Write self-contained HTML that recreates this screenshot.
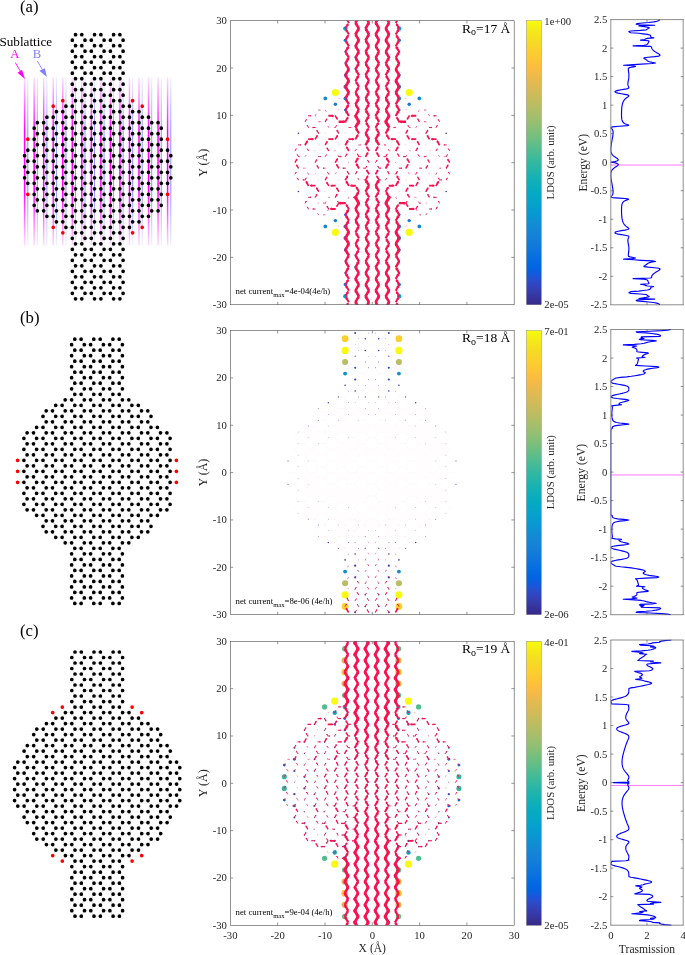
<!DOCTYPE html>
<html><head><meta charset="utf-8"><title>figure</title><style>html,body{margin:0;padding:0;background:#fff}svg{display:block;will-change:transform}</style></head><body>
<svg width="685" height="955" viewBox="0 0 685 955" font-family="'Liberation Serif', serif">
<defs>
<linearGradient id="pg" x1="0" y1="0" x2="0" y2="1"><stop offset="0%" stop-color="#f9fb0e"/><stop offset="1.59%" stop-color="#f6f313"/><stop offset="3.17%" stop-color="#f5eb18"/><stop offset="4.76%" stop-color="#f5e41d"/><stop offset="6.35%" stop-color="#f5de21"/><stop offset="7.94%" stop-color="#f7d826"/><stop offset="9.52%" stop-color="#fad32a"/><stop offset="11.11%" stop-color="#fcce2e"/><stop offset="12.7%" stop-color="#fec832"/><stop offset="14.29%" stop-color="#ffc337"/><stop offset="15.87%" stop-color="#fdbe3d"/><stop offset="17.46%" stop-color="#f8bb44"/><stop offset="19.05%" stop-color="#f1b94a"/><stop offset="20.63%" stop-color="#e9b94e"/><stop offset="22.22%" stop-color="#e1b952"/><stop offset="23.81%" stop-color="#d9ba56"/><stop offset="25.4%" stop-color="#d1bb59"/><stop offset="26.98%" stop-color="#c8bc5d"/><stop offset="28.57%" stop-color="#c0bc60"/><stop offset="30.16%" stop-color="#b7bd64"/><stop offset="31.75%" stop-color="#aebe67"/><stop offset="33.33%" stop-color="#a5be6b"/><stop offset="34.92%" stop-color="#9cbf6f"/><stop offset="36.51%" stop-color="#92bf73"/><stop offset="38.1%" stop-color="#87bf77"/><stop offset="39.68%" stop-color="#7cbf7b"/><stop offset="41.27%" stop-color="#71bf80"/><stop offset="42.86%" stop-color="#65be86"/><stop offset="44.44%" stop-color="#59bd8c"/><stop offset="46.03%" stop-color="#4dbc92"/><stop offset="47.62%" stop-color="#42bb98"/><stop offset="49.21%" stop-color="#38b99e"/><stop offset="50.79%" stop-color="#2eb7a4"/><stop offset="52.38%" stop-color="#25b5a9"/><stop offset="53.97%" stop-color="#1db3af"/><stop offset="55.56%" stop-color="#15b1b4"/><stop offset="57.14%" stop-color="#0faeb9"/><stop offset="58.73%" stop-color="#0aacbe"/><stop offset="60.32%" stop-color="#07a9c2"/><stop offset="61.9%" stop-color="#06a7c6"/><stop offset="63.49%" stop-color="#06a4ca"/><stop offset="65.08%" stop-color="#06a0cd"/><stop offset="66.67%" stop-color="#079ccf"/><stop offset="68.25%" stop-color="#0998d1"/><stop offset="69.84%" stop-color="#0c93d2"/><stop offset="71.43%" stop-color="#108ed2"/><stop offset="73.02%" stop-color="#1389d3"/><stop offset="74.6%" stop-color="#1485d4"/><stop offset="76.19%" stop-color="#1481d6"/><stop offset="77.78%" stop-color="#127dd8"/><stop offset="79.37%" stop-color="#1079da"/><stop offset="80.95%" stop-color="#0d75dc"/><stop offset="82.54%" stop-color="#0871de"/><stop offset="84.13%" stop-color="#046de0"/><stop offset="85.71%" stop-color="#0268e1"/><stop offset="87.3%" stop-color="#0363e1"/><stop offset="88.89%" stop-color="#0f5cdd"/><stop offset="90.48%" stop-color="#2053d4"/><stop offset="92.06%" stop-color="#2c4ac7"/><stop offset="93.65%" stop-color="#3243ba"/><stop offset="95.24%" stop-color="#353dad"/><stop offset="96.83%" stop-color="#3637a0"/><stop offset="98.41%" stop-color="#363093"/><stop offset="100%" stop-color="#352a87"/></linearGradient>
<linearGradient id="ga" x1="0" y1="0" x2="0" y2="1"><stop offset="0" stop-color="#ff00ff" stop-opacity="0.12"/><stop offset="0.32" stop-color="#ff00ff" stop-opacity="1"/><stop offset="0.68" stop-color="#ff00ff" stop-opacity="1"/><stop offset="1" stop-color="#ff00ff" stop-opacity="0.12"/></linearGradient>
<linearGradient id="gb" x1="0" y1="0" x2="0" y2="1"><stop offset="0" stop-color="#8080ff" stop-opacity="0.12"/><stop offset="0.32" stop-color="#8080ff" stop-opacity="0.9"/><stop offset="0.68" stop-color="#8080ff" stop-opacity="0.9"/><stop offset="1" stop-color="#8080ff" stop-opacity="0.12"/></linearGradient>
</defs>
<rect width="685" height="955" fill="#fff"/>
<g><rect x="27.3" y="77.5" width="1" height="168.0" fill="url(#gb)"/><rect x="36.83" y="77.5" width="1" height="168.0" fill="url(#gb)"/><rect x="46.36" y="77.5" width="1" height="168.0" fill="url(#gb)"/><rect x="55.9" y="77.5" width="1" height="168.0" fill="url(#gb)"/><rect x="65.43" y="77.5" width="1" height="168.0" fill="url(#gb)"/><rect x="74.96" y="77.5" width="1" height="168.0" fill="url(#gb)"/><rect x="84.49" y="77.5" width="1" height="168.0" fill="url(#gb)"/><rect x="94.02" y="77.5" width="1" height="168.0" fill="url(#gb)"/><rect x="103.55" y="77.5" width="1" height="168.0" fill="url(#gb)"/><rect x="113.09" y="77.5" width="1" height="168.0" fill="url(#gb)"/><rect x="122.62" y="77.5" width="1" height="168.0" fill="url(#gb)"/><rect x="132.15" y="77.5" width="1" height="168.0" fill="url(#gb)"/><rect x="141.68" y="77.5" width="1" height="168.0" fill="url(#gb)"/><rect x="151.21" y="77.5" width="1" height="168.0" fill="url(#gb)"/><rect x="160.75" y="77.5" width="1" height="168.0" fill="url(#gb)"/><rect x="170.28" y="77.5" width="1" height="168.0" fill="url(#gb)"/><rect x="23.87" y="77.5" width="1.5" height="168.0" fill="url(#ga)"/><rect x="33.41" y="77.5" width="1.5" height="168.0" fill="url(#ga)"/><rect x="42.94" y="77.5" width="1.5" height="168.0" fill="url(#ga)"/><rect x="52.47" y="77.5" width="1.5" height="168.0" fill="url(#ga)"/><rect x="62" y="77.5" width="1.5" height="168.0" fill="url(#ga)"/><rect x="71.53" y="77.5" width="1.5" height="168.0" fill="url(#ga)"/><rect x="81.06" y="77.5" width="1.5" height="168.0" fill="url(#ga)"/><rect x="90.6" y="77.5" width="1.5" height="168.0" fill="url(#ga)"/><rect x="100.13" y="77.5" width="1.5" height="168.0" fill="url(#ga)"/><rect x="109.66" y="77.5" width="1.5" height="168.0" fill="url(#ga)"/><rect x="119.19" y="77.5" width="1.5" height="168.0" fill="url(#ga)"/><rect x="128.72" y="77.5" width="1.5" height="168.0" fill="url(#ga)"/><rect x="138.25" y="77.5" width="1.5" height="168.0" fill="url(#ga)"/><rect x="147.79" y="77.5" width="1.5" height="168.0" fill="url(#ga)"/><rect x="157.32" y="77.5" width="1.5" height="168.0" fill="url(#ga)"/><rect x="166.85" y="77.5" width="1.5" height="168.0" fill="url(#ga)"/></g>
<path d="M81.8 298.8l-6.4 0M81.8 298.8l3.2-5.5M75.5 298.8l-3.2-5.5M100.9 298.8l-6.4 0M100.9 298.8l3.2-5.5M94.5 298.8l-3.2-5.5M119.9 298.8l-6.4 0M119.9 298.8l3.2-5.5M113.6 298.8l-3.2-5.5M85 293.3l6.4 0M85 293.3l-3.2-5.5M72.3 293.3l3.2-5.5M104.1 293.3l6.4 0M104.1 293.3l-3.2-5.5M91.3 293.3l3.2-5.5M123.1 293.3l-3.2-5.5M110.4 293.3l3.2-5.5M81.8 287.8l-6.4 0M81.8 287.8l3.2-5.5M75.5 287.8l-3.2-5.5M100.9 287.8l-6.4 0M100.9 287.8l3.2-5.5M94.5 287.8l-3.2-5.5M119.9 287.8l-6.4 0M119.9 287.8l3.2-5.5M113.6 287.8l-3.2-5.5M85 282.3l6.4 0M85 282.3l-3.2-5.5M72.3 282.3l3.2-5.5M104.1 282.3l6.4 0M104.1 282.3l-3.2-5.5M91.3 282.3l3.2-5.5M123.1 282.3l-3.2-5.5M110.4 282.3l3.2-5.5M81.8 276.8l-6.4 0M81.8 276.8l3.2-5.5M75.5 276.8l-3.2-5.5M100.9 276.8l-6.4 0M100.9 276.8l3.2-5.5M94.5 276.8l-3.2-5.5M119.9 276.8l-6.4 0M119.9 276.8l3.2-5.5M113.6 276.8l-3.2-5.5M85 271.3l6.4 0M85 271.3l-3.2-5.5M72.3 271.3l3.2-5.5M104.1 271.3l6.4 0M104.1 271.3l-3.2-5.5M91.3 271.3l3.2-5.5M123.1 271.3l-3.2-5.5M110.4 271.3l3.2-5.5M81.8 265.8l-6.4 0M81.8 265.8l3.2-5.5M75.5 265.8l-3.2-5.5M100.9 265.8l-6.4 0M100.9 265.8l3.2-5.5M94.5 265.8l-3.2-5.5M119.9 265.8l-6.4 0M119.9 265.8l3.2-5.5M113.6 265.8l-3.2-5.5M85 260.3l6.4 0M85 260.3l-3.2-5.5M72.3 260.3l3.2-5.5M104.1 260.3l6.4 0M104.1 260.3l-3.2-5.5M91.3 260.3l3.2-5.5M123.1 260.3l-3.2-5.5M110.4 260.3l3.2-5.5M81.8 254.8l-6.4 0M81.8 254.8l3.2-5.5M75.5 254.8l-3.2-5.5M100.9 254.8l-6.4 0M100.9 254.8l3.2-5.5M94.5 254.8l-3.2-5.5M119.9 254.8l-6.4 0M119.9 254.8l3.2-5.5M113.6 254.8l-3.2-5.5M85 249.3l6.4 0M85 249.3l-3.2-5.5M72.3 249.3l3.2-5.5M104.1 249.3l6.4 0M104.1 249.3l-3.2-5.5M91.3 249.3l3.2-5.5M123.1 249.3l-3.2-5.5M110.4 249.3l3.2-5.5M81.8 243.8l-6.4 0M81.8 243.8l3.2-5.5M75.5 243.8l-3.2-5.5M100.9 243.8l-6.4 0M100.9 243.8l3.2-5.5M94.5 243.8l-3.2-5.5M119.9 243.8l-6.4 0M119.9 243.8l3.2-5.5M113.6 243.8l-3.2-5.5M85 238.3l6.4 0M85 238.3l-3.2-5.5M72.3 238.3l3.2-5.5M104.1 238.3l6.4 0M104.1 238.3l-3.2-5.5M91.3 238.3l3.2-5.5M123.1 238.3l-3.2-5.5M110.4 238.3l3.2-5.5M62.8 232.8l3.2-5.5M81.8 232.8l-6.4 0M81.8 232.8l3.2-5.5M75.5 232.8l-3.2-5.5M100.9 232.8l-6.4 0M100.9 232.8l3.2-5.5M94.5 232.8l-3.2-5.5M119.9 232.8l-6.4 0M119.9 232.8l3.2-5.5M113.6 232.8l-3.2-5.5M132.6 232.8l-3.2-5.5M65.9 227.3l6.4 0M65.9 227.3l-3.2-5.5M53.2 227.3l3.2-5.5M85 227.3l6.4 0M85 227.3l-3.2-5.5M72.3 227.3l3.2-5.5M104.1 227.3l6.4 0M104.1 227.3l-3.2-5.5M91.3 227.3l3.2-5.5M123.1 227.3l6.4 0M123.1 227.3l-3.2-5.5M110.4 227.3l3.2-5.5M142.2 227.3l-3.2-5.5M129.5 227.3l3.2-5.5M62.8 221.8l-6.4 0M62.8 221.8l3.2-5.5M56.4 221.8l-3.2-5.5M81.8 221.8l-6.4 0M81.8 221.8l3.2-5.5M75.5 221.8l-3.2-5.5M100.9 221.8l-6.4 0M100.9 221.8l3.2-5.5M94.5 221.8l-3.2-5.5M119.9 221.8l-6.4 0M119.9 221.8l3.2-5.5M113.6 221.8l-3.2-5.5M139 221.8l-6.4 0M139 221.8l3.2-5.5M132.6 221.8l-3.2-5.5M46.9 216.3l6.4 0M46.9 216.3l-3.2-5.5M65.9 216.3l6.4 0M65.9 216.3l-3.2-5.5M53.2 216.3l3.2-5.5M85 216.3l6.4 0M85 216.3l-3.2-5.5M72.3 216.3l3.2-5.5M104.1 216.3l6.4 0M104.1 216.3l-3.2-5.5M91.3 216.3l3.2-5.5M123.1 216.3l6.4 0M123.1 216.3l-3.2-5.5M110.4 216.3l3.2-5.5M142.2 216.3l6.4 0M142.2 216.3l-3.2-5.5M129.5 216.3l3.2-5.5M148.5 216.3l3.2-5.5M43.7 210.8l-6.4 0M43.7 210.8l3.2-5.5M37.3 210.8l-3.2-5.5M62.8 210.8l-6.4 0M62.8 210.8l3.2-5.5M56.4 210.8l-3.2-5.5M81.8 210.8l-6.4 0M81.8 210.8l3.2-5.5M75.5 210.8l-3.2-5.5M100.9 210.8l-6.4 0M100.9 210.8l3.2-5.5M94.5 210.8l-3.2-5.5M119.9 210.8l-6.4 0M119.9 210.8l3.2-5.5M113.6 210.8l-3.2-5.5M139 210.8l-6.4 0M139 210.8l3.2-5.5M132.6 210.8l-3.2-5.5M158.1 210.8l-6.4 0M158.1 210.8l3.2-5.5M151.7 210.8l-3.2-5.5M46.9 205.3l6.4 0M46.9 205.3l-3.2-5.5M34.2 205.3l3.2-5.5M65.9 205.3l6.4 0M65.9 205.3l-3.2-5.5M53.2 205.3l3.2-5.5M85 205.3l6.4 0M85 205.3l-3.2-5.5M72.3 205.3l3.2-5.5M104.1 205.3l6.4 0M104.1 205.3l-3.2-5.5M91.3 205.3l3.2-5.5M123.1 205.3l6.4 0M123.1 205.3l-3.2-5.5M110.4 205.3l3.2-5.5M142.2 205.3l6.4 0M142.2 205.3l-3.2-5.5M129.5 205.3l3.2-5.5M161.2 205.3l-3.2-5.5M148.5 205.3l3.2-5.5M43.7 199.8l-6.4 0M43.7 199.8l3.2-5.5M37.3 199.8l-3.2-5.5M62.8 199.8l-6.4 0M62.8 199.8l3.2-5.5M56.4 199.8l-3.2-5.5M81.8 199.8l-6.4 0M81.8 199.8l3.2-5.5M75.5 199.8l-3.2-5.5M100.9 199.8l-6.4 0M100.9 199.8l3.2-5.5M94.5 199.8l-3.2-5.5M119.9 199.8l-6.4 0M119.9 199.8l3.2-5.5M113.6 199.8l-3.2-5.5M139 199.8l-6.4 0M139 199.8l3.2-5.5M132.6 199.8l-3.2-5.5M158.1 199.8l-6.4 0M158.1 199.8l3.2-5.5M151.7 199.8l-3.2-5.5M27.8 194.3l6.4 0M46.9 194.3l6.4 0M46.9 194.3l-3.2-5.5M34.2 194.3l3.2-5.5M65.9 194.3l6.4 0M65.9 194.3l-3.2-5.5M53.2 194.3l3.2-5.5M85 194.3l6.4 0M85 194.3l-3.2-5.5M72.3 194.3l3.2-5.5M104.1 194.3l6.4 0M104.1 194.3l-3.2-5.5M91.3 194.3l3.2-5.5M123.1 194.3l6.4 0M123.1 194.3l-3.2-5.5M110.4 194.3l3.2-5.5M142.2 194.3l6.4 0M142.2 194.3l-3.2-5.5M129.5 194.3l3.2-5.5M161.2 194.3l6.4 0M161.2 194.3l-3.2-5.5M148.5 194.3l3.2-5.5M43.7 188.8l-6.4 0M43.7 188.8l3.2-5.5M37.3 188.8l-3.2-5.5M62.8 188.8l-6.4 0M62.8 188.8l3.2-5.5M56.4 188.8l-3.2-5.5M81.8 188.8l-6.4 0M81.8 188.8l3.2-5.5M75.5 188.8l-3.2-5.5M100.9 188.8l-6.4 0M100.9 188.8l3.2-5.5M94.5 188.8l-3.2-5.5M119.9 188.8l-6.4 0M119.9 188.8l3.2-5.5M113.6 188.8l-3.2-5.5M139 188.8l-6.4 0M139 188.8l3.2-5.5M132.6 188.8l-3.2-5.5M158.1 188.8l-6.4 0M158.1 188.8l3.2-5.5M151.7 188.8l-3.2-5.5M27.8 183.3l6.4 0M27.8 183.3l-3.2-5.5M46.9 183.3l6.4 0M46.9 183.3l-3.2-5.5M34.2 183.3l3.2-5.5M65.9 183.3l6.4 0M65.9 183.3l-3.2-5.5M53.2 183.3l3.2-5.5M85 183.3l6.4 0M85 183.3l-3.2-5.5M72.3 183.3l3.2-5.5M104.1 183.3l6.4 0M104.1 183.3l-3.2-5.5M91.3 183.3l3.2-5.5M123.1 183.3l6.4 0M123.1 183.3l-3.2-5.5M110.4 183.3l3.2-5.5M142.2 183.3l6.4 0M142.2 183.3l-3.2-5.5M129.5 183.3l3.2-5.5M161.2 183.3l6.4 0M161.2 183.3l-3.2-5.5M148.5 183.3l3.2-5.5M167.6 183.3l3.2-5.5M24.6 177.8l3.2-5.5M43.7 177.8l-6.4 0M43.7 177.8l3.2-5.5M37.3 177.8l-3.2-5.5M62.8 177.8l-6.4 0M62.8 177.8l3.2-5.5M56.4 177.8l-3.2-5.5M81.8 177.8l-6.4 0M81.8 177.8l3.2-5.5M75.5 177.8l-3.2-5.5M100.9 177.8l-6.4 0M100.9 177.8l3.2-5.5M94.5 177.8l-3.2-5.5M119.9 177.8l-6.4 0M119.9 177.8l3.2-5.5M113.6 177.8l-3.2-5.5M139 177.8l-6.4 0M139 177.8l3.2-5.5M132.6 177.8l-3.2-5.5M158.1 177.8l-6.4 0M158.1 177.8l3.2-5.5M151.7 177.8l-3.2-5.5M170.8 177.8l-3.2-5.5M27.8 172.3l6.4 0M27.8 172.3l-3.2-5.5M46.9 172.3l6.4 0M46.9 172.3l-3.2-5.5M34.2 172.3l3.2-5.5M65.9 172.3l6.4 0M65.9 172.3l-3.2-5.5M53.2 172.3l3.2-5.5M85 172.3l6.4 0M85 172.3l-3.2-5.5M72.3 172.3l3.2-5.5M104.1 172.3l6.4 0M104.1 172.3l-3.2-5.5M91.3 172.3l3.2-5.5M123.1 172.3l6.4 0M123.1 172.3l-3.2-5.5M110.4 172.3l3.2-5.5M142.2 172.3l6.4 0M142.2 172.3l-3.2-5.5M129.5 172.3l3.2-5.5M161.2 172.3l6.4 0M161.2 172.3l-3.2-5.5M148.5 172.3l3.2-5.5M167.6 172.3l3.2-5.5M24.6 166.8l3.2-5.5M43.7 166.8l-6.4 0M43.7 166.8l3.2-5.5M37.3 166.8l-3.2-5.5M62.8 166.8l-6.4 0M62.8 166.8l3.2-5.5M56.4 166.8l-3.2-5.5M81.8 166.8l-6.4 0M81.8 166.8l3.2-5.5M75.5 166.8l-3.2-5.5M100.9 166.8l-6.4 0M100.9 166.8l3.2-5.5M94.5 166.8l-3.2-5.5M119.9 166.8l-6.4 0M119.9 166.8l3.2-5.5M113.6 166.8l-3.2-5.5M139 166.8l-6.4 0M139 166.8l3.2-5.5M132.6 166.8l-3.2-5.5M158.1 166.8l-6.4 0M158.1 166.8l3.2-5.5M151.7 166.8l-3.2-5.5M170.8 166.8l-3.2-5.5M27.8 161.2l6.4 0M27.8 161.2l-3.2-5.5M46.9 161.2l6.4 0M46.9 161.2l-3.2-5.5M34.2 161.2l3.2-5.5M65.9 161.2l6.4 0M65.9 161.2l-3.2-5.5M53.2 161.2l3.2-5.5M85 161.2l6.4 0M85 161.2l-3.2-5.5M72.3 161.2l3.2-5.5M104.1 161.2l6.4 0M104.1 161.2l-3.2-5.5M91.3 161.2l3.2-5.5M123.1 161.2l6.4 0M123.1 161.2l-3.2-5.5M110.4 161.2l3.2-5.5M142.2 161.2l6.4 0M142.2 161.2l-3.2-5.5M129.5 161.2l3.2-5.5M161.2 161.2l6.4 0M161.2 161.2l-3.2-5.5M148.5 161.2l3.2-5.5M167.6 161.2l3.2-5.5M24.6 155.7l3.2-5.5M43.7 155.7l-6.4 0M43.7 155.7l3.2-5.5M37.3 155.7l-3.2-5.5M62.8 155.7l-6.4 0M62.8 155.7l3.2-5.5M56.4 155.7l-3.2-5.5M81.8 155.7l-6.4 0M81.8 155.7l3.2-5.5M75.5 155.7l-3.2-5.5M100.9 155.7l-6.4 0M100.9 155.7l3.2-5.5M94.5 155.7l-3.2-5.5M119.9 155.7l-6.4 0M119.9 155.7l3.2-5.5M113.6 155.7l-3.2-5.5M139 155.7l-6.4 0M139 155.7l3.2-5.5M132.6 155.7l-3.2-5.5M158.1 155.7l-6.4 0M158.1 155.7l3.2-5.5M151.7 155.7l-3.2-5.5M170.8 155.7l-3.2-5.5M27.8 150.2l6.4 0M46.9 150.2l6.4 0M46.9 150.2l-3.2-5.5M34.2 150.2l3.2-5.5M65.9 150.2l6.4 0M65.9 150.2l-3.2-5.5M53.2 150.2l3.2-5.5M85 150.2l6.4 0M85 150.2l-3.2-5.5M72.3 150.2l3.2-5.5M104.1 150.2l6.4 0M104.1 150.2l-3.2-5.5M91.3 150.2l3.2-5.5M123.1 150.2l6.4 0M123.1 150.2l-3.2-5.5M110.4 150.2l3.2-5.5M142.2 150.2l6.4 0M142.2 150.2l-3.2-5.5M129.5 150.2l3.2-5.5M161.2 150.2l6.4 0M161.2 150.2l-3.2-5.5M148.5 150.2l3.2-5.5M43.7 144.7l-6.4 0M43.7 144.7l3.2-5.5M37.3 144.7l-3.2-5.5M62.8 144.7l-6.4 0M62.8 144.7l3.2-5.5M56.4 144.7l-3.2-5.5M81.8 144.7l-6.4 0M81.8 144.7l3.2-5.5M75.5 144.7l-3.2-5.5M100.9 144.7l-6.4 0M100.9 144.7l3.2-5.5M94.5 144.7l-3.2-5.5M119.9 144.7l-6.4 0M119.9 144.7l3.2-5.5M113.6 144.7l-3.2-5.5M139 144.7l-6.4 0M139 144.7l3.2-5.5M132.6 144.7l-3.2-5.5M158.1 144.7l-6.4 0M158.1 144.7l3.2-5.5M151.7 144.7l-3.2-5.5M27.8 139.2l6.4 0M46.9 139.2l6.4 0M46.9 139.2l-3.2-5.5M34.2 139.2l3.2-5.5M65.9 139.2l6.4 0M65.9 139.2l-3.2-5.5M53.2 139.2l3.2-5.5M85 139.2l6.4 0M85 139.2l-3.2-5.5M72.3 139.2l3.2-5.5M104.1 139.2l6.4 0M104.1 139.2l-3.2-5.5M91.3 139.2l3.2-5.5M123.1 139.2l6.4 0M123.1 139.2l-3.2-5.5M110.4 139.2l3.2-5.5M142.2 139.2l6.4 0M142.2 139.2l-3.2-5.5M129.5 139.2l3.2-5.5M161.2 139.2l6.4 0M161.2 139.2l-3.2-5.5M148.5 139.2l3.2-5.5M43.7 133.7l-6.4 0M43.7 133.7l3.2-5.5M37.3 133.7l-3.2-5.5M62.8 133.7l-6.4 0M62.8 133.7l3.2-5.5M56.4 133.7l-3.2-5.5M81.8 133.7l-6.4 0M81.8 133.7l3.2-5.5M75.5 133.7l-3.2-5.5M100.9 133.7l-6.4 0M100.9 133.7l3.2-5.5M94.5 133.7l-3.2-5.5M119.9 133.7l-6.4 0M119.9 133.7l3.2-5.5M113.6 133.7l-3.2-5.5M139 133.7l-6.4 0M139 133.7l3.2-5.5M132.6 133.7l-3.2-5.5M158.1 133.7l-6.4 0M158.1 133.7l3.2-5.5M151.7 133.7l-3.2-5.5M46.9 128.2l6.4 0M46.9 128.2l-3.2-5.5M34.2 128.2l3.2-5.5M65.9 128.2l6.4 0M65.9 128.2l-3.2-5.5M53.2 128.2l3.2-5.5M85 128.2l6.4 0M85 128.2l-3.2-5.5M72.3 128.2l3.2-5.5M104.1 128.2l6.4 0M104.1 128.2l-3.2-5.5M91.3 128.2l3.2-5.5M123.1 128.2l6.4 0M123.1 128.2l-3.2-5.5M110.4 128.2l3.2-5.5M142.2 128.2l6.4 0M142.2 128.2l-3.2-5.5M129.5 128.2l3.2-5.5M161.2 128.2l-3.2-5.5M148.5 128.2l3.2-5.5M43.7 122.7l-6.4 0M43.7 122.7l3.2-5.5M62.8 122.7l-6.4 0M62.8 122.7l3.2-5.5M56.4 122.7l-3.2-5.5M81.8 122.7l-6.4 0M81.8 122.7l3.2-5.5M75.5 122.7l-3.2-5.5M100.9 122.7l-6.4 0M100.9 122.7l3.2-5.5M94.5 122.7l-3.2-5.5M119.9 122.7l-6.4 0M119.9 122.7l3.2-5.5M113.6 122.7l-3.2-5.5M139 122.7l-6.4 0M139 122.7l3.2-5.5M132.6 122.7l-3.2-5.5M158.1 122.7l-6.4 0M151.7 122.7l-3.2-5.5M46.9 117.2l6.4 0M65.9 117.2l6.4 0M65.9 117.2l-3.2-5.5M53.2 117.2l3.2-5.5M85 117.2l6.4 0M85 117.2l-3.2-5.5M72.3 117.2l3.2-5.5M104.1 117.2l6.4 0M104.1 117.2l-3.2-5.5M91.3 117.2l3.2-5.5M123.1 117.2l6.4 0M123.1 117.2l-3.2-5.5M110.4 117.2l3.2-5.5M142.2 117.2l6.4 0M142.2 117.2l-3.2-5.5M129.5 117.2l3.2-5.5M62.8 111.7l-6.4 0M62.8 111.7l3.2-5.5M56.4 111.7l-3.2-5.5M81.8 111.7l-6.4 0M81.8 111.7l3.2-5.5M75.5 111.7l-3.2-5.5M100.9 111.7l-6.4 0M100.9 111.7l3.2-5.5M94.5 111.7l-3.2-5.5M119.9 111.7l-6.4 0M119.9 111.7l3.2-5.5M113.6 111.7l-3.2-5.5M139 111.7l-6.4 0M139 111.7l3.2-5.5M132.6 111.7l-3.2-5.5M65.9 106.2l6.4 0M65.9 106.2l-3.2-5.5M85 106.2l6.4 0M85 106.2l-3.2-5.5M72.3 106.2l3.2-5.5M104.1 106.2l6.4 0M104.1 106.2l-3.2-5.5M91.3 106.2l3.2-5.5M123.1 106.2l6.4 0M123.1 106.2l-3.2-5.5M110.4 106.2l3.2-5.5M129.5 106.2l3.2-5.5M81.8 100.7l-6.4 0M81.8 100.7l3.2-5.5M75.5 100.7l-3.2-5.5M100.9 100.7l-6.4 0M100.9 100.7l3.2-5.5M94.5 100.7l-3.2-5.5M119.9 100.7l-6.4 0M119.9 100.7l3.2-5.5M113.6 100.7l-3.2-5.5M85 95.2l6.4 0M85 95.2l-3.2-5.5M72.3 95.2l3.2-5.5M104.1 95.2l6.4 0M104.1 95.2l-3.2-5.5M91.3 95.2l3.2-5.5M123.1 95.2l-3.2-5.5M110.4 95.2l3.2-5.5M81.8 89.7l-6.4 0M81.8 89.7l3.2-5.5M75.5 89.7l-3.2-5.5M100.9 89.7l-6.4 0M100.9 89.7l3.2-5.5M94.5 89.7l-3.2-5.5M119.9 89.7l-6.4 0M119.9 89.7l3.2-5.5M113.6 89.7l-3.2-5.5M85 84.2l6.4 0M85 84.2l-3.2-5.5M72.3 84.2l3.2-5.5M104.1 84.2l6.4 0M104.1 84.2l-3.2-5.5M91.3 84.2l3.2-5.5M123.1 84.2l-3.2-5.5M110.4 84.2l3.2-5.5M81.8 78.7l-6.4 0M81.8 78.7l3.2-5.5M75.5 78.7l-3.2-5.5M100.9 78.7l-6.4 0M100.9 78.7l3.2-5.5M94.5 78.7l-3.2-5.5M119.9 78.7l-6.4 0M119.9 78.7l3.2-5.5M113.6 78.7l-3.2-5.5M85 73.2l6.4 0M85 73.2l-3.2-5.5M72.3 73.2l3.2-5.5M104.1 73.2l6.4 0M104.1 73.2l-3.2-5.5M91.3 73.2l3.2-5.5M123.1 73.2l-3.2-5.5M110.4 73.2l3.2-5.5M81.8 67.7l-6.4 0M81.8 67.7l3.2-5.5M75.5 67.7l-3.2-5.5M100.9 67.7l-6.4 0M100.9 67.7l3.2-5.5M94.5 67.7l-3.2-5.5M119.9 67.7l-6.4 0M119.9 67.7l3.2-5.5M113.6 67.7l-3.2-5.5M85 62.2l6.4 0M85 62.2l-3.2-5.5M72.3 62.2l3.2-5.5M104.1 62.2l6.4 0M104.1 62.2l-3.2-5.5M91.3 62.2l3.2-5.5M123.1 62.2l-3.2-5.5M110.4 62.2l3.2-5.5M81.8 56.7l-6.4 0M81.8 56.7l3.2-5.5M75.5 56.7l-3.2-5.5M100.9 56.7l-6.4 0M100.9 56.7l3.2-5.5M94.5 56.7l-3.2-5.5M119.9 56.7l-6.4 0M119.9 56.7l3.2-5.5M113.6 56.7l-3.2-5.5M85 51.2l6.4 0M85 51.2l-3.2-5.5M72.3 51.2l3.2-5.5M104.1 51.2l6.4 0M104.1 51.2l-3.2-5.5M91.3 51.2l3.2-5.5M123.1 51.2l-3.2-5.5M110.4 51.2l3.2-5.5M81.8 45.7l-6.4 0M81.8 45.7l3.2-5.5M75.5 45.7l-3.2-5.5M100.9 45.7l-6.4 0M100.9 45.7l3.2-5.5M94.5 45.7l-3.2-5.5M119.9 45.7l-6.4 0M119.9 45.7l3.2-5.5M113.6 45.7l-3.2-5.5M85 40.2l6.4 0M85 40.2l-3.2-5.5M72.3 40.2l3.2-5.5M104.1 40.2l6.4 0M104.1 40.2l-3.2-5.5M91.3 40.2l3.2-5.5M123.1 40.2l-3.2-5.5M110.4 40.2l3.2-5.5M81.8 34.7l-6.4 0M100.9 34.7l-6.4 0M119.9 34.7l-6.4 0" stroke="#888" stroke-width="0.25" fill="none"/>
<g stroke-width="3.7" stroke-linecap="round" fill="none"><path d="M81.8 298.8h0M75.5 298.8h0M100.9 298.8h0M94.5 298.8h0M119.9 298.8h0M113.6 298.8h0M85 293.3h0M72.3 293.3h0M104.1 293.3h0M91.3 293.3h0M123.1 293.3h0M110.4 293.3h0M81.8 287.8h0M75.5 287.8h0M100.9 287.8h0M94.5 287.8h0M119.9 287.8h0M113.6 287.8h0M85 282.3h0M72.3 282.3h0M104.1 282.3h0M91.3 282.3h0M123.1 282.3h0M110.4 282.3h0M81.8 276.8h0M75.5 276.8h0M100.9 276.8h0M94.5 276.8h0M119.9 276.8h0M113.6 276.8h0M85 271.3h0M72.3 271.3h0M104.1 271.3h0M91.3 271.3h0M123.1 271.3h0M110.4 271.3h0M81.8 265.8h0M75.5 265.8h0M100.9 265.8h0M94.5 265.8h0M119.9 265.8h0M113.6 265.8h0M85 260.3h0M72.3 260.3h0M104.1 260.3h0M91.3 260.3h0M123.1 260.3h0M110.4 260.3h0M81.8 254.8h0M75.5 254.8h0M100.9 254.8h0M94.5 254.8h0M119.9 254.8h0M113.6 254.8h0M85 249.3h0M72.3 249.3h0M104.1 249.3h0M91.3 249.3h0M123.1 249.3h0M110.4 249.3h0M81.8 243.8h0M75.5 243.8h0M100.9 243.8h0M94.5 243.8h0M119.9 243.8h0M113.6 243.8h0M85 238.3h0M72.3 238.3h0M104.1 238.3h0M91.3 238.3h0M123.1 238.3h0M110.4 238.3h0M81.8 232.8h0M75.5 232.8h0M100.9 232.8h0M94.5 232.8h0M119.9 232.8h0M113.6 232.8h0M65.9 227.3h0M85 227.3h0M72.3 227.3h0M104.1 227.3h0M91.3 227.3h0M123.1 227.3h0M110.4 227.3h0M129.5 227.3h0M62.8 221.8h0M56.4 221.8h0M81.8 221.8h0M75.5 221.8h0M100.9 221.8h0M94.5 221.8h0M119.9 221.8h0M113.6 221.8h0M139 221.8h0M132.6 221.8h0M46.9 216.3h0M65.9 216.3h0M53.2 216.3h0M85 216.3h0M72.3 216.3h0M104.1 216.3h0M91.3 216.3h0M123.1 216.3h0M110.4 216.3h0M142.2 216.3h0M129.5 216.3h0M148.5 216.3h0M43.7 210.8h0M37.3 210.8h0M62.8 210.8h0M56.4 210.8h0M81.8 210.8h0M75.5 210.8h0M100.9 210.8h0M94.5 210.8h0M119.9 210.8h0M113.6 210.8h0M139 210.8h0M132.6 210.8h0M158.1 210.8h0M151.7 210.8h0M46.9 205.3h0M34.2 205.3h0M65.9 205.3h0M53.2 205.3h0M85 205.3h0M72.3 205.3h0M104.1 205.3h0M91.3 205.3h0M123.1 205.3h0M110.4 205.3h0M142.2 205.3h0M129.5 205.3h0M161.2 205.3h0M148.5 205.3h0M43.7 199.8h0M37.3 199.8h0M62.8 199.8h0M56.4 199.8h0M81.8 199.8h0M75.5 199.8h0M100.9 199.8h0M94.5 199.8h0M119.9 199.8h0M113.6 199.8h0M139 199.8h0M132.6 199.8h0M158.1 199.8h0M151.7 199.8h0M46.9 194.3h0M34.2 194.3h0M65.9 194.3h0M53.2 194.3h0M85 194.3h0M72.3 194.3h0M104.1 194.3h0M91.3 194.3h0M123.1 194.3h0M110.4 194.3h0M142.2 194.3h0M129.5 194.3h0M161.2 194.3h0M148.5 194.3h0M43.7 188.8h0M37.3 188.8h0M62.8 188.8h0M56.4 188.8h0M81.8 188.8h0M75.5 188.8h0M100.9 188.8h0M94.5 188.8h0M119.9 188.8h0M113.6 188.8h0M139 188.8h0M132.6 188.8h0M158.1 188.8h0M151.7 188.8h0M27.8 183.3h0M46.9 183.3h0M34.2 183.3h0M65.9 183.3h0M53.2 183.3h0M85 183.3h0M72.3 183.3h0M104.1 183.3h0M91.3 183.3h0M123.1 183.3h0M110.4 183.3h0M142.2 183.3h0M129.5 183.3h0M161.2 183.3h0M148.5 183.3h0M167.6 183.3h0M24.6 177.8h0M43.7 177.8h0M37.3 177.8h0M62.8 177.8h0M56.4 177.8h0M81.8 177.8h0M75.5 177.8h0M100.9 177.8h0M94.5 177.8h0M119.9 177.8h0M113.6 177.8h0M139 177.8h0M132.6 177.8h0M158.1 177.8h0M151.7 177.8h0M170.8 177.8h0M27.8 172.3h0M46.9 172.3h0M34.2 172.3h0M65.9 172.3h0M53.2 172.3h0M85 172.3h0M72.3 172.3h0M104.1 172.3h0M91.3 172.3h0M123.1 172.3h0M110.4 172.3h0M142.2 172.3h0M129.5 172.3h0M161.2 172.3h0M148.5 172.3h0M167.6 172.3h0M24.6 166.8h0M43.7 166.8h0M37.3 166.8h0M62.8 166.8h0M56.4 166.8h0M81.8 166.8h0M75.5 166.8h0M100.9 166.8h0M94.5 166.8h0M119.9 166.8h0M113.6 166.8h0M139 166.8h0M132.6 166.8h0M158.1 166.8h0M151.7 166.8h0M170.8 166.8h0M27.8 161.2h0M46.9 161.2h0M34.2 161.2h0M65.9 161.2h0M53.2 161.2h0M85 161.2h0M72.3 161.2h0M104.1 161.2h0M91.3 161.2h0M123.1 161.2h0M110.4 161.2h0M142.2 161.2h0M129.5 161.2h0M161.2 161.2h0M148.5 161.2h0M167.6 161.2h0M24.6 155.7h0M43.7 155.7h0M37.3 155.7h0M62.8 155.7h0M56.4 155.7h0M81.8 155.7h0M75.5 155.7h0M100.9 155.7h0M94.5 155.7h0M119.9 155.7h0M113.6 155.7h0M139 155.7h0M132.6 155.7h0M158.1 155.7h0M151.7 155.7h0M170.8 155.7h0M27.8 150.2h0M46.9 150.2h0M34.2 150.2h0M65.9 150.2h0M53.2 150.2h0M85 150.2h0M72.3 150.2h0M104.1 150.2h0M91.3 150.2h0M123.1 150.2h0M110.4 150.2h0M142.2 150.2h0M129.5 150.2h0M161.2 150.2h0M148.5 150.2h0M167.6 150.2h0M43.7 144.7h0M37.3 144.7h0M62.8 144.7h0M56.4 144.7h0M81.8 144.7h0M75.5 144.7h0M100.9 144.7h0M94.5 144.7h0M119.9 144.7h0M113.6 144.7h0M139 144.7h0M132.6 144.7h0M158.1 144.7h0M151.7 144.7h0M46.9 139.2h0M34.2 139.2h0M65.9 139.2h0M53.2 139.2h0M85 139.2h0M72.3 139.2h0M104.1 139.2h0M91.3 139.2h0M123.1 139.2h0M110.4 139.2h0M142.2 139.2h0M129.5 139.2h0M161.2 139.2h0M148.5 139.2h0M43.7 133.7h0M37.3 133.7h0M62.8 133.7h0M56.4 133.7h0M81.8 133.7h0M75.5 133.7h0M100.9 133.7h0M94.5 133.7h0M119.9 133.7h0M113.6 133.7h0M139 133.7h0M132.6 133.7h0M158.1 133.7h0M151.7 133.7h0M46.9 128.2h0M34.2 128.2h0M65.9 128.2h0M53.2 128.2h0M85 128.2h0M72.3 128.2h0M104.1 128.2h0M91.3 128.2h0M123.1 128.2h0M110.4 128.2h0M142.2 128.2h0M129.5 128.2h0M161.2 128.2h0M148.5 128.2h0M43.7 122.7h0M37.3 122.7h0M62.8 122.7h0M56.4 122.7h0M81.8 122.7h0M75.5 122.7h0M100.9 122.7h0M94.5 122.7h0M119.9 122.7h0M113.6 122.7h0M139 122.7h0M132.6 122.7h0M158.1 122.7h0M151.7 122.7h0M46.9 117.2h0M65.9 117.2h0M53.2 117.2h0M85 117.2h0M72.3 117.2h0M104.1 117.2h0M91.3 117.2h0M123.1 117.2h0M110.4 117.2h0M142.2 117.2h0M129.5 117.2h0M148.5 117.2h0M62.8 111.7h0M56.4 111.7h0M81.8 111.7h0M75.5 111.7h0M100.9 111.7h0M94.5 111.7h0M119.9 111.7h0M113.6 111.7h0M139 111.7h0M132.6 111.7h0M65.9 106.2h0M85 106.2h0M72.3 106.2h0M104.1 106.2h0M91.3 106.2h0M123.1 106.2h0M110.4 106.2h0M129.5 106.2h0M81.8 100.7h0M75.5 100.7h0M100.9 100.7h0M94.5 100.7h0M119.9 100.7h0M113.6 100.7h0M85 95.2h0M72.3 95.2h0M104.1 95.2h0M91.3 95.2h0M123.1 95.2h0M110.4 95.2h0M81.8 89.7h0M75.5 89.7h0M100.9 89.7h0M94.5 89.7h0M119.9 89.7h0M113.6 89.7h0M85 84.2h0M72.3 84.2h0M104.1 84.2h0M91.3 84.2h0M123.1 84.2h0M110.4 84.2h0M81.8 78.7h0M75.5 78.7h0M100.9 78.7h0M94.5 78.7h0M119.9 78.7h0M113.6 78.7h0M85 73.2h0M72.3 73.2h0M104.1 73.2h0M91.3 73.2h0M123.1 73.2h0M110.4 73.2h0M81.8 67.7h0M75.5 67.7h0M100.9 67.7h0M94.5 67.7h0M119.9 67.7h0M113.6 67.7h0M85 62.2h0M72.3 62.2h0M104.1 62.2h0M91.3 62.2h0M123.1 62.2h0M110.4 62.2h0M81.8 56.7h0M75.5 56.7h0M100.9 56.7h0M94.5 56.7h0M119.9 56.7h0M113.6 56.7h0M85 51.2h0M72.3 51.2h0M104.1 51.2h0M91.3 51.2h0M123.1 51.2h0M110.4 51.2h0M81.8 45.7h0M75.5 45.7h0M100.9 45.7h0M94.5 45.7h0M119.9 45.7h0M113.6 45.7h0M85 40.2h0M72.3 40.2h0M104.1 40.2h0M91.3 40.2h0M123.1 40.2h0M110.4 40.2h0M81.8 34.7h0M75.5 34.7h0M100.9 34.7h0M94.5 34.7h0M119.9 34.7h0M113.6 34.7h0" stroke="#000"/><path d="M62.8 232.8h0M132.6 232.8h0M53.2 227.3h0M142.2 227.3h0M27.8 194.3h0M167.6 194.3h0M27.8 139.2h0M167.6 139.2h0M53.2 106.2h0M142.2 106.2h0M62.8 100.7h0M132.6 100.7h0" stroke="#f00"/></g>
<path d="M81.1 603.4l-6.4 0M81.1 603.4l3.2-5.5M74.8 603.4l-3.2-5.5M100.2 603.4l-6.4 0M100.2 603.4l3.2-5.5M93.8 603.4l-3.2-5.5M119.2 603.4l-6.4 0M119.2 603.4l3.2-5.5M112.9 603.4l-3.2-5.5M84.3 597.9l6.4 0M84.3 597.9l-3.2-5.5M71.6 597.9l3.2-5.5M103.4 597.9l6.4 0M103.4 597.9l-3.2-5.5M90.6 597.9l3.2-5.5M122.4 597.9l-3.2-5.5M109.7 597.9l3.2-5.5M81.1 592.4l-6.4 0M81.1 592.4l3.2-5.5M74.8 592.4l-3.2-5.5M100.2 592.4l-6.4 0M100.2 592.4l3.2-5.5M93.8 592.4l-3.2-5.5M119.2 592.4l-6.4 0M119.2 592.4l3.2-5.5M112.9 592.4l-3.2-5.5M84.3 586.9l6.4 0M84.3 586.9l-3.2-5.5M71.6 586.9l3.2-5.5M103.4 586.9l6.4 0M103.4 586.9l-3.2-5.5M90.6 586.9l3.2-5.5M122.4 586.9l-3.2-5.5M109.7 586.9l3.2-5.5M81.1 581.4l-6.4 0M81.1 581.4l3.2-5.5M74.8 581.4l-3.2-5.5M100.2 581.4l-6.4 0M100.2 581.4l3.2-5.5M93.8 581.4l-3.2-5.5M119.2 581.4l-6.4 0M119.2 581.4l3.2-5.5M112.9 581.4l-3.2-5.5M84.3 575.9l6.4 0M84.3 575.9l-3.2-5.5M71.6 575.9l3.2-5.5M103.4 575.9l6.4 0M103.4 575.9l-3.2-5.5M90.6 575.9l3.2-5.5M122.4 575.9l-3.2-5.5M109.7 575.9l3.2-5.5M81.1 570.4l-6.4 0M81.1 570.4l3.2-5.5M74.8 570.4l-3.2-5.5M100.2 570.4l-6.4 0M100.2 570.4l3.2-5.5M93.8 570.4l-3.2-5.5M119.2 570.4l-6.4 0M119.2 570.4l3.2-5.5M112.9 570.4l-3.2-5.5M84.3 564.9l6.4 0M84.3 564.9l-3.2-5.5M71.6 564.9l3.2-5.5M103.4 564.9l6.4 0M103.4 564.9l-3.2-5.5M90.6 564.9l3.2-5.5M122.4 564.9l-3.2-5.5M109.7 564.9l3.2-5.5M81.1 559.4l-6.4 0M81.1 559.4l3.2-5.5M74.8 559.4l-3.2-5.5M100.2 559.4l-6.4 0M100.2 559.4l3.2-5.5M93.8 559.4l-3.2-5.5M119.2 559.4l-6.4 0M119.2 559.4l3.2-5.5M112.9 559.4l-3.2-5.5M84.3 553.8l6.4 0M84.3 553.8l-3.2-5.5M71.6 553.8l3.2-5.5M103.4 553.8l6.4 0M103.4 553.8l-3.2-5.5M90.6 553.8l3.2-5.5M122.4 553.8l-3.2-5.5M109.7 553.8l3.2-5.5M81.1 548.3l-6.4 0M81.1 548.3l3.2-5.5M74.8 548.3l-3.2-5.5M100.2 548.3l-6.4 0M100.2 548.3l3.2-5.5M93.8 548.3l-3.2-5.5M119.2 548.3l-6.4 0M119.2 548.3l3.2-5.5M112.9 548.3l-3.2-5.5M65.2 542.8l6.4 0M65.2 542.8l-3.2-5.5M84.3 542.8l6.4 0M84.3 542.8l-3.2-5.5M71.6 542.8l3.2-5.5M103.4 542.8l6.4 0M103.4 542.8l-3.2-5.5M90.6 542.8l3.2-5.5M122.4 542.8l6.4 0M122.4 542.8l-3.2-5.5M109.7 542.8l3.2-5.5M128.8 542.8l3.2-5.5M62.1 537.3l-6.4 0M62.1 537.3l3.2-5.5M55.7 537.3l-3.2-5.5M81.1 537.3l-6.4 0M81.1 537.3l3.2-5.5M74.8 537.3l-3.2-5.5M100.2 537.3l-6.4 0M100.2 537.3l3.2-5.5M93.8 537.3l-3.2-5.5M119.2 537.3l-6.4 0M119.2 537.3l3.2-5.5M112.9 537.3l-3.2-5.5M138.3 537.3l-6.4 0M138.3 537.3l3.2-5.5M131.9 537.3l-3.2-5.5M46.2 531.8l6.4 0M46.2 531.8l-3.2-5.5M65.2 531.8l6.4 0M65.2 531.8l-3.2-5.5M52.5 531.8l3.2-5.5M84.3 531.8l6.4 0M84.3 531.8l-3.2-5.5M71.6 531.8l3.2-5.5M103.4 531.8l6.4 0M103.4 531.8l-3.2-5.5M90.6 531.8l3.2-5.5M122.4 531.8l6.4 0M122.4 531.8l-3.2-5.5M109.7 531.8l3.2-5.5M141.5 531.8l6.4 0M141.5 531.8l-3.2-5.5M128.8 531.8l3.2-5.5M147.8 531.8l3.2-5.5M43 526.3l3.2-5.5M62.1 526.3l-6.4 0M62.1 526.3l3.2-5.5M55.7 526.3l-3.2-5.5M81.1 526.3l-6.4 0M81.1 526.3l3.2-5.5M74.8 526.3l-3.2-5.5M100.2 526.3l-6.4 0M100.2 526.3l3.2-5.5M93.8 526.3l-3.2-5.5M119.2 526.3l-6.4 0M119.2 526.3l3.2-5.5M112.9 526.3l-3.2-5.5M138.3 526.3l-6.4 0M138.3 526.3l3.2-5.5M131.9 526.3l-3.2-5.5M151 526.3l-3.2-5.5M46.2 520.8l6.4 0M46.2 520.8l-3.2-5.5M65.2 520.8l6.4 0M65.2 520.8l-3.2-5.5M52.5 520.8l3.2-5.5M84.3 520.8l6.4 0M84.3 520.8l-3.2-5.5M71.6 520.8l3.2-5.5M103.4 520.8l6.4 0M103.4 520.8l-3.2-5.5M90.6 520.8l3.2-5.5M122.4 520.8l6.4 0M122.4 520.8l-3.2-5.5M109.7 520.8l3.2-5.5M141.5 520.8l6.4 0M141.5 520.8l-3.2-5.5M128.8 520.8l3.2-5.5M147.8 520.8l3.2-5.5M43 515.3l-6.4 0M43 515.3l3.2-5.5M36.6 515.3l-3.2-5.5M62.1 515.3l-6.4 0M62.1 515.3l3.2-5.5M55.7 515.3l-3.2-5.5M81.1 515.3l-6.4 0M81.1 515.3l3.2-5.5M74.8 515.3l-3.2-5.5M100.2 515.3l-6.4 0M100.2 515.3l3.2-5.5M93.8 515.3l-3.2-5.5M119.2 515.3l-6.4 0M119.2 515.3l3.2-5.5M112.9 515.3l-3.2-5.5M138.3 515.3l-6.4 0M138.3 515.3l3.2-5.5M131.9 515.3l-3.2-5.5M157.4 515.3l-6.4 0M157.4 515.3l3.2-5.5M151 515.3l-3.2-5.5M27.1 509.8l6.4 0M27.1 509.8l-3.2-5.5M46.2 509.8l6.4 0M46.2 509.8l-3.2-5.5M33.5 509.8l3.2-5.5M65.2 509.8l6.4 0M65.2 509.8l-3.2-5.5M52.5 509.8l3.2-5.5M84.3 509.8l6.4 0M84.3 509.8l-3.2-5.5M71.6 509.8l3.2-5.5M103.4 509.8l6.4 0M103.4 509.8l-3.2-5.5M90.6 509.8l3.2-5.5M122.4 509.8l6.4 0M122.4 509.8l-3.2-5.5M109.7 509.8l3.2-5.5M141.5 509.8l6.4 0M141.5 509.8l-3.2-5.5M128.8 509.8l3.2-5.5M160.5 509.8l6.4 0M160.5 509.8l-3.2-5.5M147.8 509.8l3.2-5.5M166.9 509.8l3.2-5.5M23.9 504.3l3.2-5.5M43 504.3l-6.4 0M43 504.3l3.2-5.5M36.6 504.3l-3.2-5.5M62.1 504.3l-6.4 0M62.1 504.3l3.2-5.5M55.7 504.3l-3.2-5.5M81.1 504.3l-6.4 0M81.1 504.3l3.2-5.5M74.8 504.3l-3.2-5.5M100.2 504.3l-6.4 0M100.2 504.3l3.2-5.5M93.8 504.3l-3.2-5.5M119.2 504.3l-6.4 0M119.2 504.3l3.2-5.5M112.9 504.3l-3.2-5.5M138.3 504.3l-6.4 0M138.3 504.3l3.2-5.5M131.9 504.3l-3.2-5.5M157.4 504.3l-6.4 0M157.4 504.3l3.2-5.5M151 504.3l-3.2-5.5M170.1 504.3l-3.2-5.5M27.1 498.8l6.4 0M27.1 498.8l-3.2-5.5M46.2 498.8l6.4 0M46.2 498.8l-3.2-5.5M33.5 498.8l3.2-5.5M65.2 498.8l6.4 0M65.2 498.8l-3.2-5.5M52.5 498.8l3.2-5.5M84.3 498.8l6.4 0M84.3 498.8l-3.2-5.5M71.6 498.8l3.2-5.5M103.4 498.8l6.4 0M103.4 498.8l-3.2-5.5M90.6 498.8l3.2-5.5M122.4 498.8l6.4 0M122.4 498.8l-3.2-5.5M109.7 498.8l3.2-5.5M141.5 498.8l6.4 0M141.5 498.8l-3.2-5.5M128.8 498.8l3.2-5.5M160.5 498.8l6.4 0M160.5 498.8l-3.2-5.5M147.8 498.8l3.2-5.5M166.9 498.8l3.2-5.5M23.9 493.3l3.2-5.5M43 493.3l-6.4 0M43 493.3l3.2-5.5M36.6 493.3l-3.2-5.5M62.1 493.3l-6.4 0M62.1 493.3l3.2-5.5M55.7 493.3l-3.2-5.5M81.1 493.3l-6.4 0M81.1 493.3l3.2-5.5M74.8 493.3l-3.2-5.5M100.2 493.3l-6.4 0M100.2 493.3l3.2-5.5M93.8 493.3l-3.2-5.5M119.2 493.3l-6.4 0M119.2 493.3l3.2-5.5M112.9 493.3l-3.2-5.5M138.3 493.3l-6.4 0M138.3 493.3l3.2-5.5M131.9 493.3l-3.2-5.5M157.4 493.3l-6.4 0M157.4 493.3l3.2-5.5M151 493.3l-3.2-5.5M170.1 493.3l-3.2-5.5M27.1 487.8l6.4 0M27.1 487.8l-3.2-5.5M46.2 487.8l6.4 0M46.2 487.8l-3.2-5.5M33.5 487.8l3.2-5.5M65.2 487.8l6.4 0M65.2 487.8l-3.2-5.5M52.5 487.8l3.2-5.5M84.3 487.8l6.4 0M84.3 487.8l-3.2-5.5M71.6 487.8l3.2-5.5M103.4 487.8l6.4 0M103.4 487.8l-3.2-5.5M90.6 487.8l3.2-5.5M122.4 487.8l6.4 0M122.4 487.8l-3.2-5.5M109.7 487.8l3.2-5.5M141.5 487.8l6.4 0M141.5 487.8l-3.2-5.5M128.8 487.8l3.2-5.5M160.5 487.8l6.4 0M160.5 487.8l-3.2-5.5M147.8 487.8l3.2-5.5M166.9 487.8l3.2-5.5M23.9 482.3l-6.4 0M23.9 482.3l3.2-5.5M43 482.3l-6.4 0M43 482.3l3.2-5.5M36.6 482.3l-3.2-5.5M62.1 482.3l-6.4 0M62.1 482.3l3.2-5.5M55.7 482.3l-3.2-5.5M81.1 482.3l-6.4 0M81.1 482.3l3.2-5.5M74.8 482.3l-3.2-5.5M100.2 482.3l-6.4 0M100.2 482.3l3.2-5.5M93.8 482.3l-3.2-5.5M119.2 482.3l-6.4 0M119.2 482.3l3.2-5.5M112.9 482.3l-3.2-5.5M138.3 482.3l-6.4 0M138.3 482.3l3.2-5.5M131.9 482.3l-3.2-5.5M157.4 482.3l-6.4 0M157.4 482.3l3.2-5.5M151 482.3l-3.2-5.5M176.4 482.3l-6.4 0M170.1 482.3l-3.2-5.5M27.1 476.8l6.4 0M27.1 476.8l-3.2-5.5M46.2 476.8l6.4 0M46.2 476.8l-3.2-5.5M33.5 476.8l3.2-5.5M65.2 476.8l6.4 0M65.2 476.8l-3.2-5.5M52.5 476.8l3.2-5.5M84.3 476.8l6.4 0M84.3 476.8l-3.2-5.5M71.6 476.8l3.2-5.5M103.4 476.8l6.4 0M103.4 476.8l-3.2-5.5M90.6 476.8l3.2-5.5M122.4 476.8l6.4 0M122.4 476.8l-3.2-5.5M109.7 476.8l3.2-5.5M141.5 476.8l6.4 0M141.5 476.8l-3.2-5.5M128.8 476.8l3.2-5.5M160.5 476.8l6.4 0M160.5 476.8l-3.2-5.5M147.8 476.8l3.2-5.5M166.9 476.8l3.2-5.5M23.9 471.3l-6.4 0M23.9 471.3l3.2-5.5M43 471.3l-6.4 0M43 471.3l3.2-5.5M36.6 471.3l-3.2-5.5M62.1 471.3l-6.4 0M62.1 471.3l3.2-5.5M55.7 471.3l-3.2-5.5M81.1 471.3l-6.4 0M81.1 471.3l3.2-5.5M74.8 471.3l-3.2-5.5M100.2 471.3l-6.4 0M100.2 471.3l3.2-5.5M93.8 471.3l-3.2-5.5M119.2 471.3l-6.4 0M119.2 471.3l3.2-5.5M112.9 471.3l-3.2-5.5M138.3 471.3l-6.4 0M138.3 471.3l3.2-5.5M131.9 471.3l-3.2-5.5M157.4 471.3l-6.4 0M157.4 471.3l3.2-5.5M151 471.3l-3.2-5.5M176.4 471.3l-6.4 0M170.1 471.3l-3.2-5.5M27.1 465.8l6.4 0M27.1 465.8l-3.2-5.5M46.2 465.8l6.4 0M46.2 465.8l-3.2-5.5M33.5 465.8l3.2-5.5M65.2 465.8l6.4 0M65.2 465.8l-3.2-5.5M52.5 465.8l3.2-5.5M84.3 465.8l6.4 0M84.3 465.8l-3.2-5.5M71.6 465.8l3.2-5.5M103.4 465.8l6.4 0M103.4 465.8l-3.2-5.5M90.6 465.8l3.2-5.5M122.4 465.8l6.4 0M122.4 465.8l-3.2-5.5M109.7 465.8l3.2-5.5M141.5 465.8l6.4 0M141.5 465.8l-3.2-5.5M128.8 465.8l3.2-5.5M160.5 465.8l6.4 0M160.5 465.8l-3.2-5.5M147.8 465.8l3.2-5.5M166.9 465.8l3.2-5.5M23.9 460.3l-6.4 0M23.9 460.3l3.2-5.5M43 460.3l-6.4 0M43 460.3l3.2-5.5M36.6 460.3l-3.2-5.5M62.1 460.3l-6.4 0M62.1 460.3l3.2-5.5M55.7 460.3l-3.2-5.5M81.1 460.3l-6.4 0M81.1 460.3l3.2-5.5M74.8 460.3l-3.2-5.5M100.2 460.3l-6.4 0M100.2 460.3l3.2-5.5M93.8 460.3l-3.2-5.5M119.2 460.3l-6.4 0M119.2 460.3l3.2-5.5M112.9 460.3l-3.2-5.5M138.3 460.3l-6.4 0M138.3 460.3l3.2-5.5M131.9 460.3l-3.2-5.5M157.4 460.3l-6.4 0M157.4 460.3l3.2-5.5M151 460.3l-3.2-5.5M176.4 460.3l-6.4 0M170.1 460.3l-3.2-5.5M27.1 454.8l6.4 0M27.1 454.8l-3.2-5.5M46.2 454.8l6.4 0M46.2 454.8l-3.2-5.5M33.5 454.8l3.2-5.5M65.2 454.8l6.4 0M65.2 454.8l-3.2-5.5M52.5 454.8l3.2-5.5M84.3 454.8l6.4 0M84.3 454.8l-3.2-5.5M71.6 454.8l3.2-5.5M103.4 454.8l6.4 0M103.4 454.8l-3.2-5.5M90.6 454.8l3.2-5.5M122.4 454.8l6.4 0M122.4 454.8l-3.2-5.5M109.7 454.8l3.2-5.5M141.5 454.8l6.4 0M141.5 454.8l-3.2-5.5M128.8 454.8l3.2-5.5M160.5 454.8l6.4 0M160.5 454.8l-3.2-5.5M147.8 454.8l3.2-5.5M166.9 454.8l3.2-5.5M23.9 449.3l3.2-5.5M43 449.3l-6.4 0M43 449.3l3.2-5.5M36.6 449.3l-3.2-5.5M62.1 449.3l-6.4 0M62.1 449.3l3.2-5.5M55.7 449.3l-3.2-5.5M81.1 449.3l-6.4 0M81.1 449.3l3.2-5.5M74.8 449.3l-3.2-5.5M100.2 449.3l-6.4 0M100.2 449.3l3.2-5.5M93.8 449.3l-3.2-5.5M119.2 449.3l-6.4 0M119.2 449.3l3.2-5.5M112.9 449.3l-3.2-5.5M138.3 449.3l-6.4 0M138.3 449.3l3.2-5.5M131.9 449.3l-3.2-5.5M157.4 449.3l-6.4 0M157.4 449.3l3.2-5.5M151 449.3l-3.2-5.5M170.1 449.3l-3.2-5.5M27.1 443.8l6.4 0M27.1 443.8l-3.2-5.5M46.2 443.8l6.4 0M46.2 443.8l-3.2-5.5M33.5 443.8l3.2-5.5M65.2 443.8l6.4 0M65.2 443.8l-3.2-5.5M52.5 443.8l3.2-5.5M84.3 443.8l6.4 0M84.3 443.8l-3.2-5.5M71.6 443.8l3.2-5.5M103.4 443.8l6.4 0M103.4 443.8l-3.2-5.5M90.6 443.8l3.2-5.5M122.4 443.8l6.4 0M122.4 443.8l-3.2-5.5M109.7 443.8l3.2-5.5M141.5 443.8l6.4 0M141.5 443.8l-3.2-5.5M128.8 443.8l3.2-5.5M160.5 443.8l6.4 0M160.5 443.8l-3.2-5.5M147.8 443.8l3.2-5.5M166.9 443.8l3.2-5.5M23.9 438.3l3.2-5.5M43 438.3l-6.4 0M43 438.3l3.2-5.5M36.6 438.3l-3.2-5.5M62.1 438.3l-6.4 0M62.1 438.3l3.2-5.5M55.7 438.3l-3.2-5.5M81.1 438.3l-6.4 0M81.1 438.3l3.2-5.5M74.8 438.3l-3.2-5.5M100.2 438.3l-6.4 0M100.2 438.3l3.2-5.5M93.8 438.3l-3.2-5.5M119.2 438.3l-6.4 0M119.2 438.3l3.2-5.5M112.9 438.3l-3.2-5.5M138.3 438.3l-6.4 0M138.3 438.3l3.2-5.5M131.9 438.3l-3.2-5.5M157.4 438.3l-6.4 0M157.4 438.3l3.2-5.5M151 438.3l-3.2-5.5M170.1 438.3l-3.2-5.5M27.1 432.8l6.4 0M46.2 432.8l6.4 0M46.2 432.8l-3.2-5.5M33.5 432.8l3.2-5.5M65.2 432.8l6.4 0M65.2 432.8l-3.2-5.5M52.5 432.8l3.2-5.5M84.3 432.8l6.4 0M84.3 432.8l-3.2-5.5M71.6 432.8l3.2-5.5M103.4 432.8l6.4 0M103.4 432.8l-3.2-5.5M90.6 432.8l3.2-5.5M122.4 432.8l6.4 0M122.4 432.8l-3.2-5.5M109.7 432.8l3.2-5.5M141.5 432.8l6.4 0M141.5 432.8l-3.2-5.5M128.8 432.8l3.2-5.5M160.5 432.8l6.4 0M160.5 432.8l-3.2-5.5M147.8 432.8l3.2-5.5M43 427.3l-6.4 0M43 427.3l3.2-5.5M62.1 427.3l-6.4 0M62.1 427.3l3.2-5.5M55.7 427.3l-3.2-5.5M81.1 427.3l-6.4 0M81.1 427.3l3.2-5.5M74.8 427.3l-3.2-5.5M100.2 427.3l-6.4 0M100.2 427.3l3.2-5.5M93.8 427.3l-3.2-5.5M119.2 427.3l-6.4 0M119.2 427.3l3.2-5.5M112.9 427.3l-3.2-5.5M138.3 427.3l-6.4 0M138.3 427.3l3.2-5.5M131.9 427.3l-3.2-5.5M157.4 427.3l-6.4 0M151 427.3l-3.2-5.5M46.2 421.8l6.4 0M46.2 421.8l-3.2-5.5M65.2 421.8l6.4 0M65.2 421.8l-3.2-5.5M52.5 421.8l3.2-5.5M84.3 421.8l6.4 0M84.3 421.8l-3.2-5.5M71.6 421.8l3.2-5.5M103.4 421.8l6.4 0M103.4 421.8l-3.2-5.5M90.6 421.8l3.2-5.5M122.4 421.8l6.4 0M122.4 421.8l-3.2-5.5M109.7 421.8l3.2-5.5M141.5 421.8l6.4 0M141.5 421.8l-3.2-5.5M128.8 421.8l3.2-5.5M147.8 421.8l3.2-5.5M43 416.3l3.2-5.5M62.1 416.3l-6.4 0M62.1 416.3l3.2-5.5M55.7 416.3l-3.2-5.5M81.1 416.3l-6.4 0M81.1 416.3l3.2-5.5M74.8 416.3l-3.2-5.5M100.2 416.3l-6.4 0M100.2 416.3l3.2-5.5M93.8 416.3l-3.2-5.5M119.2 416.3l-6.4 0M119.2 416.3l3.2-5.5M112.9 416.3l-3.2-5.5M138.3 416.3l-6.4 0M138.3 416.3l3.2-5.5M131.9 416.3l-3.2-5.5M151 416.3l-3.2-5.5M46.2 410.8l6.4 0M65.2 410.8l6.4 0M65.2 410.8l-3.2-5.5M52.5 410.8l3.2-5.5M84.3 410.8l6.4 0M84.3 410.8l-3.2-5.5M71.6 410.8l3.2-5.5M103.4 410.8l6.4 0M103.4 410.8l-3.2-5.5M90.6 410.8l3.2-5.5M122.4 410.8l6.4 0M122.4 410.8l-3.2-5.5M109.7 410.8l3.2-5.5M141.5 410.8l6.4 0M141.5 410.8l-3.2-5.5M128.8 410.8l3.2-5.5M62.1 405.3l-6.4 0M62.1 405.3l3.2-5.5M81.1 405.3l-6.4 0M81.1 405.3l3.2-5.5M74.8 405.3l-3.2-5.5M100.2 405.3l-6.4 0M100.2 405.3l3.2-5.5M93.8 405.3l-3.2-5.5M119.2 405.3l-6.4 0M119.2 405.3l3.2-5.5M112.9 405.3l-3.2-5.5M138.3 405.3l-6.4 0M131.9 405.3l-3.2-5.5M65.2 399.8l6.4 0M84.3 399.8l6.4 0M84.3 399.8l-3.2-5.5M71.6 399.8l3.2-5.5M103.4 399.8l6.4 0M103.4 399.8l-3.2-5.5M90.6 399.8l3.2-5.5M122.4 399.8l6.4 0M122.4 399.8l-3.2-5.5M109.7 399.8l3.2-5.5M81.1 394.3l-6.4 0M81.1 394.3l3.2-5.5M74.8 394.3l-3.2-5.5M100.2 394.3l-6.4 0M100.2 394.3l3.2-5.5M93.8 394.3l-3.2-5.5M119.2 394.3l-6.4 0M119.2 394.3l3.2-5.5M112.9 394.3l-3.2-5.5M84.3 388.8l6.4 0M84.3 388.8l-3.2-5.5M71.6 388.8l3.2-5.5M103.4 388.8l6.4 0M103.4 388.8l-3.2-5.5M90.6 388.8l3.2-5.5M122.4 388.8l-3.2-5.5M109.7 388.8l3.2-5.5M81.1 383.2l-6.4 0M81.1 383.2l3.2-5.5M74.8 383.2l-3.2-5.5M100.2 383.2l-6.4 0M100.2 383.2l3.2-5.5M93.8 383.2l-3.2-5.5M119.2 383.2l-6.4 0M119.2 383.2l3.2-5.5M112.9 383.2l-3.2-5.5M84.3 377.7l6.4 0M84.3 377.7l-3.2-5.5M71.6 377.7l3.2-5.5M103.4 377.7l6.4 0M103.4 377.7l-3.2-5.5M90.6 377.7l3.2-5.5M122.4 377.7l-3.2-5.5M109.7 377.7l3.2-5.5M81.1 372.2l-6.4 0M81.1 372.2l3.2-5.5M74.8 372.2l-3.2-5.5M100.2 372.2l-6.4 0M100.2 372.2l3.2-5.5M93.8 372.2l-3.2-5.5M119.2 372.2l-6.4 0M119.2 372.2l3.2-5.5M112.9 372.2l-3.2-5.5M84.3 366.7l6.4 0M84.3 366.7l-3.2-5.5M71.6 366.7l3.2-5.5M103.4 366.7l6.4 0M103.4 366.7l-3.2-5.5M90.6 366.7l3.2-5.5M122.4 366.7l-3.2-5.5M109.7 366.7l3.2-5.5M81.1 361.2l-6.4 0M81.1 361.2l3.2-5.5M74.8 361.2l-3.2-5.5M100.2 361.2l-6.4 0M100.2 361.2l3.2-5.5M93.8 361.2l-3.2-5.5M119.2 361.2l-6.4 0M119.2 361.2l3.2-5.5M112.9 361.2l-3.2-5.5M84.3 355.7l6.4 0M84.3 355.7l-3.2-5.5M71.6 355.7l3.2-5.5M103.4 355.7l6.4 0M103.4 355.7l-3.2-5.5M90.6 355.7l3.2-5.5M122.4 355.7l-3.2-5.5M109.7 355.7l3.2-5.5M81.1 350.2l-6.4 0M81.1 350.2l3.2-5.5M74.8 350.2l-3.2-5.5M100.2 350.2l-6.4 0M100.2 350.2l3.2-5.5M93.8 350.2l-3.2-5.5M119.2 350.2l-6.4 0M119.2 350.2l3.2-5.5M112.9 350.2l-3.2-5.5M84.3 344.7l6.4 0M84.3 344.7l-3.2-5.5M71.6 344.7l3.2-5.5M103.4 344.7l6.4 0M103.4 344.7l-3.2-5.5M90.6 344.7l3.2-5.5M122.4 344.7l-3.2-5.5M109.7 344.7l3.2-5.5M81.1 339.2l-6.4 0M100.2 339.2l-6.4 0M119.2 339.2l-6.4 0" stroke="#888" stroke-width="0.25" fill="none"/>
<g stroke-width="3.7" stroke-linecap="round" fill="none"><path d="M81.1 603.4h0M74.8 603.4h0M100.2 603.4h0M93.8 603.4h0M119.2 603.4h0M112.9 603.4h0M84.3 597.9h0M71.6 597.9h0M103.4 597.9h0M90.6 597.9h0M122.4 597.9h0M109.7 597.9h0M81.1 592.4h0M74.8 592.4h0M100.2 592.4h0M93.8 592.4h0M119.2 592.4h0M112.9 592.4h0M84.3 586.9h0M71.6 586.9h0M103.4 586.9h0M90.6 586.9h0M122.4 586.9h0M109.7 586.9h0M81.1 581.4h0M74.8 581.4h0M100.2 581.4h0M93.8 581.4h0M119.2 581.4h0M112.9 581.4h0M84.3 575.9h0M71.6 575.9h0M103.4 575.9h0M90.6 575.9h0M122.4 575.9h0M109.7 575.9h0M81.1 570.4h0M74.8 570.4h0M100.2 570.4h0M93.8 570.4h0M119.2 570.4h0M112.9 570.4h0M84.3 564.9h0M71.6 564.9h0M103.4 564.9h0M90.6 564.9h0M122.4 564.9h0M109.7 564.9h0M81.1 559.4h0M74.8 559.4h0M100.2 559.4h0M93.8 559.4h0M119.2 559.4h0M112.9 559.4h0M84.3 553.8h0M71.6 553.8h0M103.4 553.8h0M90.6 553.8h0M122.4 553.8h0M109.7 553.8h0M81.1 548.3h0M74.8 548.3h0M100.2 548.3h0M93.8 548.3h0M119.2 548.3h0M112.9 548.3h0M65.2 542.8h0M84.3 542.8h0M71.6 542.8h0M103.4 542.8h0M90.6 542.8h0M122.4 542.8h0M109.7 542.8h0M128.8 542.8h0M62.1 537.3h0M55.7 537.3h0M81.1 537.3h0M74.8 537.3h0M100.2 537.3h0M93.8 537.3h0M119.2 537.3h0M112.9 537.3h0M138.3 537.3h0M131.9 537.3h0M46.2 531.8h0M65.2 531.8h0M52.5 531.8h0M84.3 531.8h0M71.6 531.8h0M103.4 531.8h0M90.6 531.8h0M122.4 531.8h0M109.7 531.8h0M141.5 531.8h0M128.8 531.8h0M147.8 531.8h0M43 526.3h0M62.1 526.3h0M55.7 526.3h0M81.1 526.3h0M74.8 526.3h0M100.2 526.3h0M93.8 526.3h0M119.2 526.3h0M112.9 526.3h0M138.3 526.3h0M131.9 526.3h0M151 526.3h0M46.2 520.8h0M65.2 520.8h0M52.5 520.8h0M84.3 520.8h0M71.6 520.8h0M103.4 520.8h0M90.6 520.8h0M122.4 520.8h0M109.7 520.8h0M141.5 520.8h0M128.8 520.8h0M147.8 520.8h0M43 515.3h0M36.6 515.3h0M62.1 515.3h0M55.7 515.3h0M81.1 515.3h0M74.8 515.3h0M100.2 515.3h0M93.8 515.3h0M119.2 515.3h0M112.9 515.3h0M138.3 515.3h0M131.9 515.3h0M157.4 515.3h0M151 515.3h0M27.1 509.8h0M46.2 509.8h0M33.5 509.8h0M65.2 509.8h0M52.5 509.8h0M84.3 509.8h0M71.6 509.8h0M103.4 509.8h0M90.6 509.8h0M122.4 509.8h0M109.7 509.8h0M141.5 509.8h0M128.8 509.8h0M160.5 509.8h0M147.8 509.8h0M166.9 509.8h0M23.9 504.3h0M43 504.3h0M36.6 504.3h0M62.1 504.3h0M55.7 504.3h0M81.1 504.3h0M74.8 504.3h0M100.2 504.3h0M93.8 504.3h0M119.2 504.3h0M112.9 504.3h0M138.3 504.3h0M131.9 504.3h0M157.4 504.3h0M151 504.3h0M170.1 504.3h0M27.1 498.8h0M46.2 498.8h0M33.5 498.8h0M65.2 498.8h0M52.5 498.8h0M84.3 498.8h0M71.6 498.8h0M103.4 498.8h0M90.6 498.8h0M122.4 498.8h0M109.7 498.8h0M141.5 498.8h0M128.8 498.8h0M160.5 498.8h0M147.8 498.8h0M166.9 498.8h0M23.9 493.3h0M43 493.3h0M36.6 493.3h0M62.1 493.3h0M55.7 493.3h0M81.1 493.3h0M74.8 493.3h0M100.2 493.3h0M93.8 493.3h0M119.2 493.3h0M112.9 493.3h0M138.3 493.3h0M131.9 493.3h0M157.4 493.3h0M151 493.3h0M170.1 493.3h0M27.1 487.8h0M46.2 487.8h0M33.5 487.8h0M65.2 487.8h0M52.5 487.8h0M84.3 487.8h0M71.6 487.8h0M103.4 487.8h0M90.6 487.8h0M122.4 487.8h0M109.7 487.8h0M141.5 487.8h0M128.8 487.8h0M160.5 487.8h0M147.8 487.8h0M166.9 487.8h0M23.9 482.3h0M43 482.3h0M36.6 482.3h0M62.1 482.3h0M55.7 482.3h0M81.1 482.3h0M74.8 482.3h0M100.2 482.3h0M93.8 482.3h0M119.2 482.3h0M112.9 482.3h0M138.3 482.3h0M131.9 482.3h0M157.4 482.3h0M151 482.3h0M170.1 482.3h0M27.1 476.8h0M46.2 476.8h0M33.5 476.8h0M65.2 476.8h0M52.5 476.8h0M84.3 476.8h0M71.6 476.8h0M103.4 476.8h0M90.6 476.8h0M122.4 476.8h0M109.7 476.8h0M141.5 476.8h0M128.8 476.8h0M160.5 476.8h0M147.8 476.8h0M166.9 476.8h0M23.9 471.3h0M43 471.3h0M36.6 471.3h0M62.1 471.3h0M55.7 471.3h0M81.1 471.3h0M74.8 471.3h0M100.2 471.3h0M93.8 471.3h0M119.2 471.3h0M112.9 471.3h0M138.3 471.3h0M131.9 471.3h0M157.4 471.3h0M151 471.3h0M170.1 471.3h0M27.1 465.8h0M46.2 465.8h0M33.5 465.8h0M65.2 465.8h0M52.5 465.8h0M84.3 465.8h0M71.6 465.8h0M103.4 465.8h0M90.6 465.8h0M122.4 465.8h0M109.7 465.8h0M141.5 465.8h0M128.8 465.8h0M160.5 465.8h0M147.8 465.8h0M166.9 465.8h0M23.9 460.3h0M43 460.3h0M36.6 460.3h0M62.1 460.3h0M55.7 460.3h0M81.1 460.3h0M74.8 460.3h0M100.2 460.3h0M93.8 460.3h0M119.2 460.3h0M112.9 460.3h0M138.3 460.3h0M131.9 460.3h0M157.4 460.3h0M151 460.3h0M170.1 460.3h0M27.1 454.8h0M46.2 454.8h0M33.5 454.8h0M65.2 454.8h0M52.5 454.8h0M84.3 454.8h0M71.6 454.8h0M103.4 454.8h0M90.6 454.8h0M122.4 454.8h0M109.7 454.8h0M141.5 454.8h0M128.8 454.8h0M160.5 454.8h0M147.8 454.8h0M166.9 454.8h0M23.9 449.3h0M43 449.3h0M36.6 449.3h0M62.1 449.3h0M55.7 449.3h0M81.1 449.3h0M74.8 449.3h0M100.2 449.3h0M93.8 449.3h0M119.2 449.3h0M112.9 449.3h0M138.3 449.3h0M131.9 449.3h0M157.4 449.3h0M151 449.3h0M170.1 449.3h0M27.1 443.8h0M46.2 443.8h0M33.5 443.8h0M65.2 443.8h0M52.5 443.8h0M84.3 443.8h0M71.6 443.8h0M103.4 443.8h0M90.6 443.8h0M122.4 443.8h0M109.7 443.8h0M141.5 443.8h0M128.8 443.8h0M160.5 443.8h0M147.8 443.8h0M166.9 443.8h0M23.9 438.3h0M43 438.3h0M36.6 438.3h0M62.1 438.3h0M55.7 438.3h0M81.1 438.3h0M74.8 438.3h0M100.2 438.3h0M93.8 438.3h0M119.2 438.3h0M112.9 438.3h0M138.3 438.3h0M131.9 438.3h0M157.4 438.3h0M151 438.3h0M170.1 438.3h0M27.1 432.8h0M46.2 432.8h0M33.5 432.8h0M65.2 432.8h0M52.5 432.8h0M84.3 432.8h0M71.6 432.8h0M103.4 432.8h0M90.6 432.8h0M122.4 432.8h0M109.7 432.8h0M141.5 432.8h0M128.8 432.8h0M160.5 432.8h0M147.8 432.8h0M166.9 432.8h0M43 427.3h0M36.6 427.3h0M62.1 427.3h0M55.7 427.3h0M81.1 427.3h0M74.8 427.3h0M100.2 427.3h0M93.8 427.3h0M119.2 427.3h0M112.9 427.3h0M138.3 427.3h0M131.9 427.3h0M157.4 427.3h0M151 427.3h0M46.2 421.8h0M65.2 421.8h0M52.5 421.8h0M84.3 421.8h0M71.6 421.8h0M103.4 421.8h0M90.6 421.8h0M122.4 421.8h0M109.7 421.8h0M141.5 421.8h0M128.8 421.8h0M147.8 421.8h0M43 416.3h0M62.1 416.3h0M55.7 416.3h0M81.1 416.3h0M74.8 416.3h0M100.2 416.3h0M93.8 416.3h0M119.2 416.3h0M112.9 416.3h0M138.3 416.3h0M131.9 416.3h0M151 416.3h0M46.2 410.8h0M65.2 410.8h0M52.5 410.8h0M84.3 410.8h0M71.6 410.8h0M103.4 410.8h0M90.6 410.8h0M122.4 410.8h0M109.7 410.8h0M141.5 410.8h0M128.8 410.8h0M147.8 410.8h0M62.1 405.3h0M55.7 405.3h0M81.1 405.3h0M74.8 405.3h0M100.2 405.3h0M93.8 405.3h0M119.2 405.3h0M112.9 405.3h0M138.3 405.3h0M131.9 405.3h0M65.2 399.8h0M84.3 399.8h0M71.6 399.8h0M103.4 399.8h0M90.6 399.8h0M122.4 399.8h0M109.7 399.8h0M128.8 399.8h0M81.1 394.3h0M74.8 394.3h0M100.2 394.3h0M93.8 394.3h0M119.2 394.3h0M112.9 394.3h0M84.3 388.8h0M71.6 388.8h0M103.4 388.8h0M90.6 388.8h0M122.4 388.8h0M109.7 388.8h0M81.1 383.2h0M74.8 383.2h0M100.2 383.2h0M93.8 383.2h0M119.2 383.2h0M112.9 383.2h0M84.3 377.7h0M71.6 377.7h0M103.4 377.7h0M90.6 377.7h0M122.4 377.7h0M109.7 377.7h0M81.1 372.2h0M74.8 372.2h0M100.2 372.2h0M93.8 372.2h0M119.2 372.2h0M112.9 372.2h0M84.3 366.7h0M71.6 366.7h0M103.4 366.7h0M90.6 366.7h0M122.4 366.7h0M109.7 366.7h0M81.1 361.2h0M74.8 361.2h0M100.2 361.2h0M93.8 361.2h0M119.2 361.2h0M112.9 361.2h0M84.3 355.7h0M71.6 355.7h0M103.4 355.7h0M90.6 355.7h0M122.4 355.7h0M109.7 355.7h0M81.1 350.2h0M74.8 350.2h0M100.2 350.2h0M93.8 350.2h0M119.2 350.2h0M112.9 350.2h0M84.3 344.7h0M71.6 344.7h0M103.4 344.7h0M90.6 344.7h0M122.4 344.7h0M109.7 344.7h0M81.1 339.2h0M74.8 339.2h0M100.2 339.2h0M93.8 339.2h0M119.2 339.2h0M112.9 339.2h0" stroke="#000"/><path d="M17.6 482.3h0M176.4 482.3h0M17.6 471.3h0M176.4 471.3h0M17.6 460.3h0M176.4 460.3h0" stroke="#f00"/></g>
<path d="M81.3 916.2l-6.4 0M81.3 916.2l3.2-5.5M75 916.2l-3.2-5.5M100.4 916.2l-6.4 0M100.4 916.2l3.2-5.5M94 916.2l-3.2-5.5M119.4 916.2l-6.4 0M119.4 916.2l3.2-5.5M113.1 916.2l-3.2-5.5M84.5 910.7l6.4 0M84.5 910.7l-3.2-5.5M71.8 910.7l3.2-5.5M103.6 910.7l6.4 0M103.6 910.7l-3.2-5.5M90.8 910.7l3.2-5.5M122.6 910.7l-3.2-5.5M109.9 910.7l3.2-5.5M81.3 905.2l-6.4 0M81.3 905.2l3.2-5.5M75 905.2l-3.2-5.5M100.4 905.2l-6.4 0M100.4 905.2l3.2-5.5M94 905.2l-3.2-5.5M119.4 905.2l-6.4 0M119.4 905.2l3.2-5.5M113.1 905.2l-3.2-5.5M84.5 899.7l6.4 0M84.5 899.7l-3.2-5.5M71.8 899.7l3.2-5.5M103.6 899.7l6.4 0M103.6 899.7l-3.2-5.5M90.8 899.7l3.2-5.5M122.6 899.7l-3.2-5.5M109.9 899.7l3.2-5.5M81.3 894.2l-6.4 0M81.3 894.2l3.2-5.5M75 894.2l-3.2-5.5M100.4 894.2l-6.4 0M100.4 894.2l3.2-5.5M94 894.2l-3.2-5.5M119.4 894.2l-6.4 0M119.4 894.2l3.2-5.5M113.1 894.2l-3.2-5.5M84.5 888.7l6.4 0M84.5 888.7l-3.2-5.5M71.8 888.7l3.2-5.5M103.6 888.7l6.4 0M103.6 888.7l-3.2-5.5M90.8 888.7l3.2-5.5M122.6 888.7l-3.2-5.5M109.9 888.7l3.2-5.5M81.3 883.2l-6.4 0M81.3 883.2l3.2-5.5M75 883.2l-3.2-5.5M100.4 883.2l-6.4 0M100.4 883.2l3.2-5.5M94 883.2l-3.2-5.5M119.4 883.2l-6.4 0M119.4 883.2l3.2-5.5M113.1 883.2l-3.2-5.5M84.5 877.7l6.4 0M84.5 877.7l-3.2-5.5M71.8 877.7l3.2-5.5M103.6 877.7l6.4 0M103.6 877.7l-3.2-5.5M90.8 877.7l3.2-5.5M122.6 877.7l-3.2-5.5M109.9 877.7l3.2-5.5M81.3 872.2l-6.4 0M81.3 872.2l3.2-5.5M75 872.2l-3.2-5.5M100.4 872.2l-6.4 0M100.4 872.2l3.2-5.5M94 872.2l-3.2-5.5M119.4 872.2l-6.4 0M119.4 872.2l3.2-5.5M113.1 872.2l-3.2-5.5M84.5 866.6l6.4 0M84.5 866.6l-3.2-5.5M71.8 866.6l3.2-5.5M103.6 866.6l6.4 0M103.6 866.6l-3.2-5.5M90.8 866.6l3.2-5.5M122.6 866.6l-3.2-5.5M109.9 866.6l3.2-5.5M62.3 861.1l3.2-5.5M81.3 861.1l-6.4 0M81.3 861.1l3.2-5.5M75 861.1l-3.2-5.5M100.4 861.1l-6.4 0M100.4 861.1l3.2-5.5M94 861.1l-3.2-5.5M119.4 861.1l-6.4 0M119.4 861.1l3.2-5.5M113.1 861.1l-3.2-5.5M132.1 861.1l-3.2-5.5M65.4 855.6l6.4 0M65.4 855.6l-3.2-5.5M52.7 855.6l3.2-5.5M84.5 855.6l6.4 0M84.5 855.6l-3.2-5.5M71.8 855.6l3.2-5.5M103.6 855.6l6.4 0M103.6 855.6l-3.2-5.5M90.8 855.6l3.2-5.5M122.6 855.6l6.4 0M122.6 855.6l-3.2-5.5M109.9 855.6l3.2-5.5M141.7 855.6l-3.2-5.5M129 855.6l3.2-5.5M62.3 850.1l-6.4 0M62.3 850.1l3.2-5.5M55.9 850.1l-3.2-5.5M81.3 850.1l-6.4 0M81.3 850.1l3.2-5.5M75 850.1l-3.2-5.5M100.4 850.1l-6.4 0M100.4 850.1l3.2-5.5M94 850.1l-3.2-5.5M119.4 850.1l-6.4 0M119.4 850.1l3.2-5.5M113.1 850.1l-3.2-5.5M138.5 850.1l-6.4 0M138.5 850.1l3.2-5.5M132.1 850.1l-3.2-5.5M46.4 844.6l6.4 0M46.4 844.6l-3.2-5.5M65.4 844.6l6.4 0M65.4 844.6l-3.2-5.5M52.7 844.6l3.2-5.5M84.5 844.6l6.4 0M84.5 844.6l-3.2-5.5M71.8 844.6l3.2-5.5M103.6 844.6l6.4 0M103.6 844.6l-3.2-5.5M90.8 844.6l3.2-5.5M122.6 844.6l6.4 0M122.6 844.6l-3.2-5.5M109.9 844.6l3.2-5.5M141.7 844.6l6.4 0M141.7 844.6l-3.2-5.5M129 844.6l3.2-5.5M148 844.6l3.2-5.5M43.2 839.1l-6.4 0M43.2 839.1l3.2-5.5M36.8 839.1l-3.2-5.5M62.3 839.1l-6.4 0M62.3 839.1l3.2-5.5M55.9 839.1l-3.2-5.5M81.3 839.1l-6.4 0M81.3 839.1l3.2-5.5M75 839.1l-3.2-5.5M100.4 839.1l-6.4 0M100.4 839.1l3.2-5.5M94 839.1l-3.2-5.5M119.4 839.1l-6.4 0M119.4 839.1l3.2-5.5M113.1 839.1l-3.2-5.5M138.5 839.1l-6.4 0M138.5 839.1l3.2-5.5M132.1 839.1l-3.2-5.5M157.6 839.1l-6.4 0M157.6 839.1l3.2-5.5M151.2 839.1l-3.2-5.5M46.4 833.6l6.4 0M46.4 833.6l-3.2-5.5M33.7 833.6l3.2-5.5M65.4 833.6l6.4 0M65.4 833.6l-3.2-5.5M52.7 833.6l3.2-5.5M84.5 833.6l6.4 0M84.5 833.6l-3.2-5.5M71.8 833.6l3.2-5.5M103.6 833.6l6.4 0M103.6 833.6l-3.2-5.5M90.8 833.6l3.2-5.5M122.6 833.6l6.4 0M122.6 833.6l-3.2-5.5M109.9 833.6l3.2-5.5M141.7 833.6l6.4 0M141.7 833.6l-3.2-5.5M129 833.6l3.2-5.5M160.7 833.6l-3.2-5.5M148 833.6l3.2-5.5M43.2 828.1l-6.4 0M43.2 828.1l3.2-5.5M36.8 828.1l-3.2-5.5M62.3 828.1l-6.4 0M62.3 828.1l3.2-5.5M55.9 828.1l-3.2-5.5M81.3 828.1l-6.4 0M81.3 828.1l3.2-5.5M75 828.1l-3.2-5.5M100.4 828.1l-6.4 0M100.4 828.1l3.2-5.5M94 828.1l-3.2-5.5M119.4 828.1l-6.4 0M119.4 828.1l3.2-5.5M113.1 828.1l-3.2-5.5M138.5 828.1l-6.4 0M138.5 828.1l3.2-5.5M132.1 828.1l-3.2-5.5M157.6 828.1l-6.4 0M157.6 828.1l3.2-5.5M151.2 828.1l-3.2-5.5M27.3 822.6l6.4 0M27.3 822.6l-3.2-5.5M46.4 822.6l6.4 0M46.4 822.6l-3.2-5.5M33.7 822.6l3.2-5.5M65.4 822.6l6.4 0M65.4 822.6l-3.2-5.5M52.7 822.6l3.2-5.5M84.5 822.6l6.4 0M84.5 822.6l-3.2-5.5M71.8 822.6l3.2-5.5M103.6 822.6l6.4 0M103.6 822.6l-3.2-5.5M90.8 822.6l3.2-5.5M122.6 822.6l6.4 0M122.6 822.6l-3.2-5.5M109.9 822.6l3.2-5.5M141.7 822.6l6.4 0M141.7 822.6l-3.2-5.5M129 822.6l3.2-5.5M160.7 822.6l6.4 0M160.7 822.6l-3.2-5.5M148 822.6l3.2-5.5M167.1 822.6l3.2-5.5M24.1 817.1l3.2-5.5M43.2 817.1l-6.4 0M43.2 817.1l3.2-5.5M36.8 817.1l-3.2-5.5M62.3 817.1l-6.4 0M62.3 817.1l3.2-5.5M55.9 817.1l-3.2-5.5M81.3 817.1l-6.4 0M81.3 817.1l3.2-5.5M75 817.1l-3.2-5.5M100.4 817.1l-6.4 0M100.4 817.1l3.2-5.5M94 817.1l-3.2-5.5M119.4 817.1l-6.4 0M119.4 817.1l3.2-5.5M113.1 817.1l-3.2-5.5M138.5 817.1l-6.4 0M138.5 817.1l3.2-5.5M132.1 817.1l-3.2-5.5M157.6 817.1l-6.4 0M157.6 817.1l3.2-5.5M151.2 817.1l-3.2-5.5M170.3 817.1l-3.2-5.5M27.3 811.6l6.4 0M27.3 811.6l-3.2-5.5M46.4 811.6l6.4 0M46.4 811.6l-3.2-5.5M33.7 811.6l3.2-5.5M65.4 811.6l6.4 0M65.4 811.6l-3.2-5.5M52.7 811.6l3.2-5.5M84.5 811.6l6.4 0M84.5 811.6l-3.2-5.5M71.8 811.6l3.2-5.5M103.6 811.6l6.4 0M103.6 811.6l-3.2-5.5M90.8 811.6l3.2-5.5M122.6 811.6l6.4 0M122.6 811.6l-3.2-5.5M109.9 811.6l3.2-5.5M141.7 811.6l6.4 0M141.7 811.6l-3.2-5.5M129 811.6l3.2-5.5M160.7 811.6l6.4 0M160.7 811.6l-3.2-5.5M148 811.6l3.2-5.5M167.1 811.6l3.2-5.5M24.1 806.1l-6.4 0M24.1 806.1l3.2-5.5M17.8 806.1l-3.2-5.5M43.2 806.1l-6.4 0M43.2 806.1l3.2-5.5M36.8 806.1l-3.2-5.5M62.3 806.1l-6.4 0M62.3 806.1l3.2-5.5M55.9 806.1l-3.2-5.5M81.3 806.1l-6.4 0M81.3 806.1l3.2-5.5M75 806.1l-3.2-5.5M100.4 806.1l-6.4 0M100.4 806.1l3.2-5.5M94 806.1l-3.2-5.5M119.4 806.1l-6.4 0M119.4 806.1l3.2-5.5M113.1 806.1l-3.2-5.5M138.5 806.1l-6.4 0M138.5 806.1l3.2-5.5M132.1 806.1l-3.2-5.5M157.6 806.1l-6.4 0M157.6 806.1l3.2-5.5M151.2 806.1l-3.2-5.5M176.6 806.1l-6.4 0M176.6 806.1l3.2-5.5M170.3 806.1l-3.2-5.5M27.3 800.6l6.4 0M27.3 800.6l-3.2-5.5M14.6 800.6l3.2-5.5M46.4 800.6l6.4 0M46.4 800.6l-3.2-5.5M33.7 800.6l3.2-5.5M65.4 800.6l6.4 0M65.4 800.6l-3.2-5.5M52.7 800.6l3.2-5.5M84.5 800.6l6.4 0M84.5 800.6l-3.2-5.5M71.8 800.6l3.2-5.5M103.6 800.6l6.4 0M103.6 800.6l-3.2-5.5M90.8 800.6l3.2-5.5M122.6 800.6l6.4 0M122.6 800.6l-3.2-5.5M109.9 800.6l3.2-5.5M141.7 800.6l6.4 0M141.7 800.6l-3.2-5.5M129 800.6l3.2-5.5M160.7 800.6l6.4 0M160.7 800.6l-3.2-5.5M148 800.6l3.2-5.5M179.8 800.6l-3.2-5.5M167.1 800.6l3.2-5.5M24.1 795.1l-6.4 0M24.1 795.1l3.2-5.5M17.8 795.1l-3.2-5.5M43.2 795.1l-6.4 0M43.2 795.1l3.2-5.5M36.8 795.1l-3.2-5.5M62.3 795.1l-6.4 0M62.3 795.1l3.2-5.5M55.9 795.1l-3.2-5.5M81.3 795.1l-6.4 0M81.3 795.1l3.2-5.5M75 795.1l-3.2-5.5M100.4 795.1l-6.4 0M100.4 795.1l3.2-5.5M94 795.1l-3.2-5.5M119.4 795.1l-6.4 0M119.4 795.1l3.2-5.5M113.1 795.1l-3.2-5.5M138.5 795.1l-6.4 0M138.5 795.1l3.2-5.5M132.1 795.1l-3.2-5.5M157.6 795.1l-6.4 0M157.6 795.1l3.2-5.5M151.2 795.1l-3.2-5.5M176.6 795.1l-6.4 0M176.6 795.1l3.2-5.5M170.3 795.1l-3.2-5.5M27.3 789.6l6.4 0M27.3 789.6l-3.2-5.5M14.6 789.6l3.2-5.5M46.4 789.6l6.4 0M46.4 789.6l-3.2-5.5M33.7 789.6l3.2-5.5M65.4 789.6l6.4 0M65.4 789.6l-3.2-5.5M52.7 789.6l3.2-5.5M84.5 789.6l6.4 0M84.5 789.6l-3.2-5.5M71.8 789.6l3.2-5.5M103.6 789.6l6.4 0M103.6 789.6l-3.2-5.5M90.8 789.6l3.2-5.5M122.6 789.6l6.4 0M122.6 789.6l-3.2-5.5M109.9 789.6l3.2-5.5M141.7 789.6l6.4 0M141.7 789.6l-3.2-5.5M129 789.6l3.2-5.5M160.7 789.6l6.4 0M160.7 789.6l-3.2-5.5M148 789.6l3.2-5.5M179.8 789.6l-3.2-5.5M167.1 789.6l3.2-5.5M24.1 784.1l-6.4 0M24.1 784.1l3.2-5.5M17.8 784.1l-3.2-5.5M43.2 784.1l-6.4 0M43.2 784.1l3.2-5.5M36.8 784.1l-3.2-5.5M62.3 784.1l-6.4 0M62.3 784.1l3.2-5.5M55.9 784.1l-3.2-5.5M81.3 784.1l-6.4 0M81.3 784.1l3.2-5.5M75 784.1l-3.2-5.5M100.4 784.1l-6.4 0M100.4 784.1l3.2-5.5M94 784.1l-3.2-5.5M119.4 784.1l-6.4 0M119.4 784.1l3.2-5.5M113.1 784.1l-3.2-5.5M138.5 784.1l-6.4 0M138.5 784.1l3.2-5.5M132.1 784.1l-3.2-5.5M157.6 784.1l-6.4 0M157.6 784.1l3.2-5.5M151.2 784.1l-3.2-5.5M176.6 784.1l-6.4 0M176.6 784.1l3.2-5.5M170.3 784.1l-3.2-5.5M27.3 778.6l6.4 0M27.3 778.6l-3.2-5.5M14.6 778.6l3.2-5.5M46.4 778.6l6.4 0M46.4 778.6l-3.2-5.5M33.7 778.6l3.2-5.5M65.4 778.6l6.4 0M65.4 778.6l-3.2-5.5M52.7 778.6l3.2-5.5M84.5 778.6l6.4 0M84.5 778.6l-3.2-5.5M71.8 778.6l3.2-5.5M103.6 778.6l6.4 0M103.6 778.6l-3.2-5.5M90.8 778.6l3.2-5.5M122.6 778.6l6.4 0M122.6 778.6l-3.2-5.5M109.9 778.6l3.2-5.5M141.7 778.6l6.4 0M141.7 778.6l-3.2-5.5M129 778.6l3.2-5.5M160.7 778.6l6.4 0M160.7 778.6l-3.2-5.5M148 778.6l3.2-5.5M179.8 778.6l-3.2-5.5M167.1 778.6l3.2-5.5M24.1 773.1l-6.4 0M24.1 773.1l3.2-5.5M17.8 773.1l-3.2-5.5M43.2 773.1l-6.4 0M43.2 773.1l3.2-5.5M36.8 773.1l-3.2-5.5M62.3 773.1l-6.4 0M62.3 773.1l3.2-5.5M55.9 773.1l-3.2-5.5M81.3 773.1l-6.4 0M81.3 773.1l3.2-5.5M75 773.1l-3.2-5.5M100.4 773.1l-6.4 0M100.4 773.1l3.2-5.5M94 773.1l-3.2-5.5M119.4 773.1l-6.4 0M119.4 773.1l3.2-5.5M113.1 773.1l-3.2-5.5M138.5 773.1l-6.4 0M138.5 773.1l3.2-5.5M132.1 773.1l-3.2-5.5M157.6 773.1l-6.4 0M157.6 773.1l3.2-5.5M151.2 773.1l-3.2-5.5M176.6 773.1l-6.4 0M176.6 773.1l3.2-5.5M170.3 773.1l-3.2-5.5M27.3 767.6l6.4 0M27.3 767.6l-3.2-5.5M14.6 767.6l3.2-5.5M46.4 767.6l6.4 0M46.4 767.6l-3.2-5.5M33.7 767.6l3.2-5.5M65.4 767.6l6.4 0M65.4 767.6l-3.2-5.5M52.7 767.6l3.2-5.5M84.5 767.6l6.4 0M84.5 767.6l-3.2-5.5M71.8 767.6l3.2-5.5M103.6 767.6l6.4 0M103.6 767.6l-3.2-5.5M90.8 767.6l3.2-5.5M122.6 767.6l6.4 0M122.6 767.6l-3.2-5.5M109.9 767.6l3.2-5.5M141.7 767.6l6.4 0M141.7 767.6l-3.2-5.5M129 767.6l3.2-5.5M160.7 767.6l6.4 0M160.7 767.6l-3.2-5.5M148 767.6l3.2-5.5M179.8 767.6l-3.2-5.5M167.1 767.6l3.2-5.5M24.1 762.1l-6.4 0M24.1 762.1l3.2-5.5M43.2 762.1l-6.4 0M43.2 762.1l3.2-5.5M36.8 762.1l-3.2-5.5M62.3 762.1l-6.4 0M62.3 762.1l3.2-5.5M55.9 762.1l-3.2-5.5M81.3 762.1l-6.4 0M81.3 762.1l3.2-5.5M75 762.1l-3.2-5.5M100.4 762.1l-6.4 0M100.4 762.1l3.2-5.5M94 762.1l-3.2-5.5M119.4 762.1l-6.4 0M119.4 762.1l3.2-5.5M113.1 762.1l-3.2-5.5M138.5 762.1l-6.4 0M138.5 762.1l3.2-5.5M132.1 762.1l-3.2-5.5M157.6 762.1l-6.4 0M157.6 762.1l3.2-5.5M151.2 762.1l-3.2-5.5M176.6 762.1l-6.4 0M170.3 762.1l-3.2-5.5M27.3 756.6l6.4 0M27.3 756.6l-3.2-5.5M46.4 756.6l6.4 0M46.4 756.6l-3.2-5.5M33.7 756.6l3.2-5.5M65.4 756.6l6.4 0M65.4 756.6l-3.2-5.5M52.7 756.6l3.2-5.5M84.5 756.6l6.4 0M84.5 756.6l-3.2-5.5M71.8 756.6l3.2-5.5M103.6 756.6l6.4 0M103.6 756.6l-3.2-5.5M90.8 756.6l3.2-5.5M122.6 756.6l6.4 0M122.6 756.6l-3.2-5.5M109.9 756.6l3.2-5.5M141.7 756.6l6.4 0M141.7 756.6l-3.2-5.5M129 756.6l3.2-5.5M160.7 756.6l6.4 0M160.7 756.6l-3.2-5.5M148 756.6l3.2-5.5M167.1 756.6l3.2-5.5M24.1 751.1l3.2-5.5M43.2 751.1l-6.4 0M43.2 751.1l3.2-5.5M36.8 751.1l-3.2-5.5M62.3 751.1l-6.4 0M62.3 751.1l3.2-5.5M55.9 751.1l-3.2-5.5M81.3 751.1l-6.4 0M81.3 751.1l3.2-5.5M75 751.1l-3.2-5.5M100.4 751.1l-6.4 0M100.4 751.1l3.2-5.5M94 751.1l-3.2-5.5M119.4 751.1l-6.4 0M119.4 751.1l3.2-5.5M113.1 751.1l-3.2-5.5M138.5 751.1l-6.4 0M138.5 751.1l3.2-5.5M132.1 751.1l-3.2-5.5M157.6 751.1l-6.4 0M157.6 751.1l3.2-5.5M151.2 751.1l-3.2-5.5M170.3 751.1l-3.2-5.5M27.3 745.6l6.4 0M46.4 745.6l6.4 0M46.4 745.6l-3.2-5.5M33.7 745.6l3.2-5.5M65.4 745.6l6.4 0M65.4 745.6l-3.2-5.5M52.7 745.6l3.2-5.5M84.5 745.6l6.4 0M84.5 745.6l-3.2-5.5M71.8 745.6l3.2-5.5M103.6 745.6l6.4 0M103.6 745.6l-3.2-5.5M90.8 745.6l3.2-5.5M122.6 745.6l6.4 0M122.6 745.6l-3.2-5.5M109.9 745.6l3.2-5.5M141.7 745.6l6.4 0M141.7 745.6l-3.2-5.5M129 745.6l3.2-5.5M160.7 745.6l6.4 0M160.7 745.6l-3.2-5.5M148 745.6l3.2-5.5M43.2 740.1l-6.4 0M43.2 740.1l3.2-5.5M36.8 740.1l-3.2-5.5M62.3 740.1l-6.4 0M62.3 740.1l3.2-5.5M55.9 740.1l-3.2-5.5M81.3 740.1l-6.4 0M81.3 740.1l3.2-5.5M75 740.1l-3.2-5.5M100.4 740.1l-6.4 0M100.4 740.1l3.2-5.5M94 740.1l-3.2-5.5M119.4 740.1l-6.4 0M119.4 740.1l3.2-5.5M113.1 740.1l-3.2-5.5M138.5 740.1l-6.4 0M138.5 740.1l3.2-5.5M132.1 740.1l-3.2-5.5M157.6 740.1l-6.4 0M157.6 740.1l3.2-5.5M151.2 740.1l-3.2-5.5M46.4 734.6l6.4 0M46.4 734.6l-3.2-5.5M33.7 734.6l3.2-5.5M65.4 734.6l6.4 0M65.4 734.6l-3.2-5.5M52.7 734.6l3.2-5.5M84.5 734.6l6.4 0M84.5 734.6l-3.2-5.5M71.8 734.6l3.2-5.5M103.6 734.6l6.4 0M103.6 734.6l-3.2-5.5M90.8 734.6l3.2-5.5M122.6 734.6l6.4 0M122.6 734.6l-3.2-5.5M109.9 734.6l3.2-5.5M141.7 734.6l6.4 0M141.7 734.6l-3.2-5.5M129 734.6l3.2-5.5M160.7 734.6l-3.2-5.5M148 734.6l3.2-5.5M43.2 729.1l-6.4 0M43.2 729.1l3.2-5.5M62.3 729.1l-6.4 0M62.3 729.1l3.2-5.5M55.9 729.1l-3.2-5.5M81.3 729.1l-6.4 0M81.3 729.1l3.2-5.5M75 729.1l-3.2-5.5M100.4 729.1l-6.4 0M100.4 729.1l3.2-5.5M94 729.1l-3.2-5.5M119.4 729.1l-6.4 0M119.4 729.1l3.2-5.5M113.1 729.1l-3.2-5.5M138.5 729.1l-6.4 0M138.5 729.1l3.2-5.5M132.1 729.1l-3.2-5.5M157.6 729.1l-6.4 0M151.2 729.1l-3.2-5.5M46.4 723.6l6.4 0M65.4 723.6l6.4 0M65.4 723.6l-3.2-5.5M52.7 723.6l3.2-5.5M84.5 723.6l6.4 0M84.5 723.6l-3.2-5.5M71.8 723.6l3.2-5.5M103.6 723.6l6.4 0M103.6 723.6l-3.2-5.5M90.8 723.6l3.2-5.5M122.6 723.6l6.4 0M122.6 723.6l-3.2-5.5M109.9 723.6l3.2-5.5M141.7 723.6l6.4 0M141.7 723.6l-3.2-5.5M129 723.6l3.2-5.5M62.3 718.1l-6.4 0M62.3 718.1l3.2-5.5M55.9 718.1l-3.2-5.5M81.3 718.1l-6.4 0M81.3 718.1l3.2-5.5M75 718.1l-3.2-5.5M100.4 718.1l-6.4 0M100.4 718.1l3.2-5.5M94 718.1l-3.2-5.5M119.4 718.1l-6.4 0M119.4 718.1l3.2-5.5M113.1 718.1l-3.2-5.5M138.5 718.1l-6.4 0M138.5 718.1l3.2-5.5M132.1 718.1l-3.2-5.5M65.4 712.6l6.4 0M65.4 712.6l-3.2-5.5M84.5 712.6l6.4 0M84.5 712.6l-3.2-5.5M71.8 712.6l3.2-5.5M103.6 712.6l6.4 0M103.6 712.6l-3.2-5.5M90.8 712.6l3.2-5.5M122.6 712.6l6.4 0M122.6 712.6l-3.2-5.5M109.9 712.6l3.2-5.5M129 712.6l3.2-5.5M81.3 707.1l-6.4 0M81.3 707.1l3.2-5.5M75 707.1l-3.2-5.5M100.4 707.1l-6.4 0M100.4 707.1l3.2-5.5M94 707.1l-3.2-5.5M119.4 707.1l-6.4 0M119.4 707.1l3.2-5.5M113.1 707.1l-3.2-5.5M84.5 701.6l6.4 0M84.5 701.6l-3.2-5.5M71.8 701.6l3.2-5.5M103.6 701.6l6.4 0M103.6 701.6l-3.2-5.5M90.8 701.6l3.2-5.5M122.6 701.6l-3.2-5.5M109.9 701.6l3.2-5.5M81.3 696l-6.4 0M81.3 696l3.2-5.5M75 696l-3.2-5.5M100.4 696l-6.4 0M100.4 696l3.2-5.5M94 696l-3.2-5.5M119.4 696l-6.4 0M119.4 696l3.2-5.5M113.1 696l-3.2-5.5M84.5 690.5l6.4 0M84.5 690.5l-3.2-5.5M71.8 690.5l3.2-5.5M103.6 690.5l6.4 0M103.6 690.5l-3.2-5.5M90.8 690.5l3.2-5.5M122.6 690.5l-3.2-5.5M109.9 690.5l3.2-5.5M81.3 685l-6.4 0M81.3 685l3.2-5.5M75 685l-3.2-5.5M100.4 685l-6.4 0M100.4 685l3.2-5.5M94 685l-3.2-5.5M119.4 685l-6.4 0M119.4 685l3.2-5.5M113.1 685l-3.2-5.5M84.5 679.5l6.4 0M84.5 679.5l-3.2-5.5M71.8 679.5l3.2-5.5M103.6 679.5l6.4 0M103.6 679.5l-3.2-5.5M90.8 679.5l3.2-5.5M122.6 679.5l-3.2-5.5M109.9 679.5l3.2-5.5M81.3 674l-6.4 0M81.3 674l3.2-5.5M75 674l-3.2-5.5M100.4 674l-6.4 0M100.4 674l3.2-5.5M94 674l-3.2-5.5M119.4 674l-6.4 0M119.4 674l3.2-5.5M113.1 674l-3.2-5.5M84.5 668.5l6.4 0M84.5 668.5l-3.2-5.5M71.8 668.5l3.2-5.5M103.6 668.5l6.4 0M103.6 668.5l-3.2-5.5M90.8 668.5l3.2-5.5M122.6 668.5l-3.2-5.5M109.9 668.5l3.2-5.5M81.3 663l-6.4 0M81.3 663l3.2-5.5M75 663l-3.2-5.5M100.4 663l-6.4 0M100.4 663l3.2-5.5M94 663l-3.2-5.5M119.4 663l-6.4 0M119.4 663l3.2-5.5M113.1 663l-3.2-5.5M84.5 657.5l6.4 0M84.5 657.5l-3.2-5.5M71.8 657.5l3.2-5.5M103.6 657.5l6.4 0M103.6 657.5l-3.2-5.5M90.8 657.5l3.2-5.5M122.6 657.5l-3.2-5.5M109.9 657.5l3.2-5.5M81.3 652l-6.4 0M100.4 652l-6.4 0M119.4 652l-6.4 0" stroke="#888" stroke-width="0.25" fill="none"/>
<g stroke-width="3.7" stroke-linecap="round" fill="none"><path d="M81.3 916.2h0M75 916.2h0M100.4 916.2h0M94 916.2h0M119.4 916.2h0M113.1 916.2h0M84.5 910.7h0M71.8 910.7h0M103.6 910.7h0M90.8 910.7h0M122.6 910.7h0M109.9 910.7h0M81.3 905.2h0M75 905.2h0M100.4 905.2h0M94 905.2h0M119.4 905.2h0M113.1 905.2h0M84.5 899.7h0M71.8 899.7h0M103.6 899.7h0M90.8 899.7h0M122.6 899.7h0M109.9 899.7h0M81.3 894.2h0M75 894.2h0M100.4 894.2h0M94 894.2h0M119.4 894.2h0M113.1 894.2h0M84.5 888.7h0M71.8 888.7h0M103.6 888.7h0M90.8 888.7h0M122.6 888.7h0M109.9 888.7h0M81.3 883.2h0M75 883.2h0M100.4 883.2h0M94 883.2h0M119.4 883.2h0M113.1 883.2h0M84.5 877.7h0M71.8 877.7h0M103.6 877.7h0M90.8 877.7h0M122.6 877.7h0M109.9 877.7h0M81.3 872.2h0M75 872.2h0M100.4 872.2h0M94 872.2h0M119.4 872.2h0M113.1 872.2h0M84.5 866.6h0M71.8 866.6h0M103.6 866.6h0M90.8 866.6h0M122.6 866.6h0M109.9 866.6h0M81.3 861.1h0M75 861.1h0M100.4 861.1h0M94 861.1h0M119.4 861.1h0M113.1 861.1h0M65.4 855.6h0M84.5 855.6h0M71.8 855.6h0M103.6 855.6h0M90.8 855.6h0M122.6 855.6h0M109.9 855.6h0M129 855.6h0M62.3 850.1h0M55.9 850.1h0M81.3 850.1h0M75 850.1h0M100.4 850.1h0M94 850.1h0M119.4 850.1h0M113.1 850.1h0M138.5 850.1h0M132.1 850.1h0M46.4 844.6h0M65.4 844.6h0M52.7 844.6h0M84.5 844.6h0M71.8 844.6h0M103.6 844.6h0M90.8 844.6h0M122.6 844.6h0M109.9 844.6h0M141.7 844.6h0M129 844.6h0M148 844.6h0M43.2 839.1h0M36.8 839.1h0M62.3 839.1h0M55.9 839.1h0M81.3 839.1h0M75 839.1h0M100.4 839.1h0M94 839.1h0M119.4 839.1h0M113.1 839.1h0M138.5 839.1h0M132.1 839.1h0M157.6 839.1h0M151.2 839.1h0M46.4 833.6h0M33.7 833.6h0M65.4 833.6h0M52.7 833.6h0M84.5 833.6h0M71.8 833.6h0M103.6 833.6h0M90.8 833.6h0M122.6 833.6h0M109.9 833.6h0M141.7 833.6h0M129 833.6h0M160.7 833.6h0M148 833.6h0M43.2 828.1h0M36.8 828.1h0M62.3 828.1h0M55.9 828.1h0M81.3 828.1h0M75 828.1h0M100.4 828.1h0M94 828.1h0M119.4 828.1h0M113.1 828.1h0M138.5 828.1h0M132.1 828.1h0M157.6 828.1h0M151.2 828.1h0M27.3 822.6h0M46.4 822.6h0M33.7 822.6h0M65.4 822.6h0M52.7 822.6h0M84.5 822.6h0M71.8 822.6h0M103.6 822.6h0M90.8 822.6h0M122.6 822.6h0M109.9 822.6h0M141.7 822.6h0M129 822.6h0M160.7 822.6h0M148 822.6h0M167.1 822.6h0M24.1 817.1h0M43.2 817.1h0M36.8 817.1h0M62.3 817.1h0M55.9 817.1h0M81.3 817.1h0M75 817.1h0M100.4 817.1h0M94 817.1h0M119.4 817.1h0M113.1 817.1h0M138.5 817.1h0M132.1 817.1h0M157.6 817.1h0M151.2 817.1h0M170.3 817.1h0M27.3 811.6h0M46.4 811.6h0M33.7 811.6h0M65.4 811.6h0M52.7 811.6h0M84.5 811.6h0M71.8 811.6h0M103.6 811.6h0M90.8 811.6h0M122.6 811.6h0M109.9 811.6h0M141.7 811.6h0M129 811.6h0M160.7 811.6h0M148 811.6h0M167.1 811.6h0M24.1 806.1h0M17.8 806.1h0M43.2 806.1h0M36.8 806.1h0M62.3 806.1h0M55.9 806.1h0M81.3 806.1h0M75 806.1h0M100.4 806.1h0M94 806.1h0M119.4 806.1h0M113.1 806.1h0M138.5 806.1h0M132.1 806.1h0M157.6 806.1h0M151.2 806.1h0M176.6 806.1h0M170.3 806.1h0M27.3 800.6h0M14.6 800.6h0M46.4 800.6h0M33.7 800.6h0M65.4 800.6h0M52.7 800.6h0M84.5 800.6h0M71.8 800.6h0M103.6 800.6h0M90.8 800.6h0M122.6 800.6h0M109.9 800.6h0M141.7 800.6h0M129 800.6h0M160.7 800.6h0M148 800.6h0M179.8 800.6h0M167.1 800.6h0M24.1 795.1h0M17.8 795.1h0M43.2 795.1h0M36.8 795.1h0M62.3 795.1h0M55.9 795.1h0M81.3 795.1h0M75 795.1h0M100.4 795.1h0M94 795.1h0M119.4 795.1h0M113.1 795.1h0M138.5 795.1h0M132.1 795.1h0M157.6 795.1h0M151.2 795.1h0M176.6 795.1h0M170.3 795.1h0M27.3 789.6h0M14.6 789.6h0M46.4 789.6h0M33.7 789.6h0M65.4 789.6h0M52.7 789.6h0M84.5 789.6h0M71.8 789.6h0M103.6 789.6h0M90.8 789.6h0M122.6 789.6h0M109.9 789.6h0M141.7 789.6h0M129 789.6h0M160.7 789.6h0M148 789.6h0M179.8 789.6h0M167.1 789.6h0M24.1 784.1h0M17.8 784.1h0M43.2 784.1h0M36.8 784.1h0M62.3 784.1h0M55.9 784.1h0M81.3 784.1h0M75 784.1h0M100.4 784.1h0M94 784.1h0M119.4 784.1h0M113.1 784.1h0M138.5 784.1h0M132.1 784.1h0M157.6 784.1h0M151.2 784.1h0M176.6 784.1h0M170.3 784.1h0M27.3 778.6h0M14.6 778.6h0M46.4 778.6h0M33.7 778.6h0M65.4 778.6h0M52.7 778.6h0M84.5 778.6h0M71.8 778.6h0M103.6 778.6h0M90.8 778.6h0M122.6 778.6h0M109.9 778.6h0M141.7 778.6h0M129 778.6h0M160.7 778.6h0M148 778.6h0M179.8 778.6h0M167.1 778.6h0M24.1 773.1h0M17.8 773.1h0M43.2 773.1h0M36.8 773.1h0M62.3 773.1h0M55.9 773.1h0M81.3 773.1h0M75 773.1h0M100.4 773.1h0M94 773.1h0M119.4 773.1h0M113.1 773.1h0M138.5 773.1h0M132.1 773.1h0M157.6 773.1h0M151.2 773.1h0M176.6 773.1h0M170.3 773.1h0M27.3 767.6h0M14.6 767.6h0M46.4 767.6h0M33.7 767.6h0M65.4 767.6h0M52.7 767.6h0M84.5 767.6h0M71.8 767.6h0M103.6 767.6h0M90.8 767.6h0M122.6 767.6h0M109.9 767.6h0M141.7 767.6h0M129 767.6h0M160.7 767.6h0M148 767.6h0M179.8 767.6h0M167.1 767.6h0M24.1 762.1h0M17.8 762.1h0M43.2 762.1h0M36.8 762.1h0M62.3 762.1h0M55.9 762.1h0M81.3 762.1h0M75 762.1h0M100.4 762.1h0M94 762.1h0M119.4 762.1h0M113.1 762.1h0M138.5 762.1h0M132.1 762.1h0M157.6 762.1h0M151.2 762.1h0M176.6 762.1h0M170.3 762.1h0M27.3 756.6h0M46.4 756.6h0M33.7 756.6h0M65.4 756.6h0M52.7 756.6h0M84.5 756.6h0M71.8 756.6h0M103.6 756.6h0M90.8 756.6h0M122.6 756.6h0M109.9 756.6h0M141.7 756.6h0M129 756.6h0M160.7 756.6h0M148 756.6h0M167.1 756.6h0M24.1 751.1h0M43.2 751.1h0M36.8 751.1h0M62.3 751.1h0M55.9 751.1h0M81.3 751.1h0M75 751.1h0M100.4 751.1h0M94 751.1h0M119.4 751.1h0M113.1 751.1h0M138.5 751.1h0M132.1 751.1h0M157.6 751.1h0M151.2 751.1h0M170.3 751.1h0M27.3 745.6h0M46.4 745.6h0M33.7 745.6h0M65.4 745.6h0M52.7 745.6h0M84.5 745.6h0M71.8 745.6h0M103.6 745.6h0M90.8 745.6h0M122.6 745.6h0M109.9 745.6h0M141.7 745.6h0M129 745.6h0M160.7 745.6h0M148 745.6h0M167.1 745.6h0M43.2 740.1h0M36.8 740.1h0M62.3 740.1h0M55.9 740.1h0M81.3 740.1h0M75 740.1h0M100.4 740.1h0M94 740.1h0M119.4 740.1h0M113.1 740.1h0M138.5 740.1h0M132.1 740.1h0M157.6 740.1h0M151.2 740.1h0M46.4 734.6h0M33.7 734.6h0M65.4 734.6h0M52.7 734.6h0M84.5 734.6h0M71.8 734.6h0M103.6 734.6h0M90.8 734.6h0M122.6 734.6h0M109.9 734.6h0M141.7 734.6h0M129 734.6h0M160.7 734.6h0M148 734.6h0M43.2 729.1h0M36.8 729.1h0M62.3 729.1h0M55.9 729.1h0M81.3 729.1h0M75 729.1h0M100.4 729.1h0M94 729.1h0M119.4 729.1h0M113.1 729.1h0M138.5 729.1h0M132.1 729.1h0M157.6 729.1h0M151.2 729.1h0M46.4 723.6h0M65.4 723.6h0M52.7 723.6h0M84.5 723.6h0M71.8 723.6h0M103.6 723.6h0M90.8 723.6h0M122.6 723.6h0M109.9 723.6h0M141.7 723.6h0M129 723.6h0M148 723.6h0M62.3 718.1h0M55.9 718.1h0M81.3 718.1h0M75 718.1h0M100.4 718.1h0M94 718.1h0M119.4 718.1h0M113.1 718.1h0M138.5 718.1h0M132.1 718.1h0M65.4 712.6h0M84.5 712.6h0M71.8 712.6h0M103.6 712.6h0M90.8 712.6h0M122.6 712.6h0M109.9 712.6h0M129 712.6h0M81.3 707.1h0M75 707.1h0M100.4 707.1h0M94 707.1h0M119.4 707.1h0M113.1 707.1h0M84.5 701.6h0M71.8 701.6h0M103.6 701.6h0M90.8 701.6h0M122.6 701.6h0M109.9 701.6h0M81.3 696h0M75 696h0M100.4 696h0M94 696h0M119.4 696h0M113.1 696h0M84.5 690.5h0M71.8 690.5h0M103.6 690.5h0M90.8 690.5h0M122.6 690.5h0M109.9 690.5h0M81.3 685h0M75 685h0M100.4 685h0M94 685h0M119.4 685h0M113.1 685h0M84.5 679.5h0M71.8 679.5h0M103.6 679.5h0M90.8 679.5h0M122.6 679.5h0M109.9 679.5h0M81.3 674h0M75 674h0M100.4 674h0M94 674h0M119.4 674h0M113.1 674h0M84.5 668.5h0M71.8 668.5h0M103.6 668.5h0M90.8 668.5h0M122.6 668.5h0M109.9 668.5h0M81.3 663h0M75 663h0M100.4 663h0M94 663h0M119.4 663h0M113.1 663h0M84.5 657.5h0M71.8 657.5h0M103.6 657.5h0M90.8 657.5h0M122.6 657.5h0M109.9 657.5h0M81.3 652h0M75 652h0M100.4 652h0M94 652h0M119.4 652h0M113.1 652h0" stroke="#000"/><path d="M62.3 861.1h0M132.1 861.1h0M52.7 855.6h0M141.7 855.6h0M52.7 712.6h0M141.7 712.6h0M62.3 707.1h0M132.1 707.1h0" stroke="#f00"/></g>
<text x="20" y="11.5" font-size="16.7" fill="#000">(a)</text>
<text x="20" y="323" font-size="16.7" fill="#000">(b)</text>
<text x="20" y="635.5" font-size="16.7" fill="#000">(c)</text>
<text x="-0.6" y="45.9" font-size="13.2" fill="#000">Sublattice</text>
<text x="10.3" y="58.2" font-size="12.6" fill="#ff00ff">A</text>
<text x="32.8" y="58.2" font-size="12.6" fill="#8080ff">B</text>
<path d="M15.3 62.6L20.5 71.5" stroke="#ff00ff" stroke-width="0.9"/><path d="M25 78.9L17.5 72.7L22 69.8Z" fill="#ff00ff"/>
<path d="M37.3 61.1L42.5 69.8" stroke="#8080ff" stroke-width="0.9"/><path d="M46.8 76.9L39.4 70.7L44.9 68.2Z" fill="#8080ff"/>
<clipPath id="cp0"><rect x="230.4" y="20.7" width="283.80000000000007" height="284.0"/></clipPath>
<g clip-path="url(#cp0)">
<path d="M355.5 302.1l-6.7 0M355.5 302.1l3.4-5.8M348.8 302.1l-3.4-5.8M375.7 302.1l-6.7 0M375.7 302.1l3.4-5.8M368.9 302.1l-3.4-5.8M395.8 302.1l-6.7 0M395.8 302.1l3.4-5.8M389.1 302.1l-3.4-5.8M358.9 296.3l6.7 0M358.9 296.3l-3.4-5.8M345.4 296.3l3.4-5.8M379 296.3l6.7 0M379 296.3l-3.4-5.8M365.6 296.3l3.4-5.8M399.2 296.3l-3.4-5.8M385.7 296.3l3.4-5.8M355.5 290.5l-6.7 0M355.5 290.5l3.4-5.8M348.8 290.5l-3.4-5.8M375.7 290.5l-6.7 0M375.7 290.5l3.4-5.8M368.9 290.5l-3.4-5.8M395.8 290.5l-6.7 0M395.8 290.5l3.4-5.8M389.1 290.5l-3.4-5.8M358.9 284.6l6.7 0M358.9 284.6l-3.4-5.8M345.4 284.6l3.4-5.8M379 284.6l6.7 0M379 284.6l-3.4-5.8M365.6 284.6l3.4-5.8M399.2 284.6l-3.4-5.8M385.7 284.6l3.4-5.8M355.5 278.8l-6.7 0M355.5 278.8l3.4-5.8M348.8 278.8l-3.4-5.8M375.7 278.8l-6.7 0M375.7 278.8l3.4-5.8M368.9 278.8l-3.4-5.8M395.8 278.8l-6.7 0M395.8 278.8l3.4-5.8M389.1 278.8l-3.4-5.8M358.9 273l6.7 0M358.9 273l-3.4-5.8M345.4 273l3.4-5.8M379 273l6.7 0M379 273l-3.4-5.8M365.6 273l3.4-5.8M399.2 273l-3.4-5.8M385.7 273l3.4-5.8M355.5 267.2l-6.7 0M355.5 267.2l3.4-5.8M348.8 267.2l-3.4-5.8M375.7 267.2l-6.7 0M375.7 267.2l3.4-5.8M368.9 267.2l-3.4-5.8M395.8 267.2l-6.7 0M395.8 267.2l3.4-5.8M389.1 267.2l-3.4-5.8M358.9 261.4l6.7 0M358.9 261.4l-3.4-5.8M345.4 261.4l3.4-5.8M379 261.4l6.7 0M379 261.4l-3.4-5.8M365.6 261.4l3.4-5.8M399.2 261.4l-3.4-5.8M385.7 261.4l3.4-5.8M355.5 255.5l-6.7 0M355.5 255.5l3.4-5.8M348.8 255.5l-3.4-5.8M375.7 255.5l-6.7 0M375.7 255.5l3.4-5.8M368.9 255.5l-3.4-5.8M395.8 255.5l-6.7 0M395.8 255.5l3.4-5.8M389.1 255.5l-3.4-5.8M358.9 249.7l6.7 0M358.9 249.7l-3.4-5.8M345.4 249.7l3.4-5.8M379 249.7l6.7 0M379 249.7l-3.4-5.8M365.6 249.7l3.4-5.8M399.2 249.7l-3.4-5.8M385.7 249.7l3.4-5.8M355.5 243.9l-6.7 0M355.5 243.9l3.4-5.8M348.8 243.9l-3.4-5.8M375.7 243.9l-6.7 0M375.7 243.9l3.4-5.8M368.9 243.9l-3.4-5.8M395.8 243.9l-6.7 0M395.8 243.9l3.4-5.8M389.1 243.9l-3.4-5.8M358.9 238.1l6.7 0M358.9 238.1l-3.4-5.8M345.4 238.1l3.4-5.8M379 238.1l6.7 0M379 238.1l-3.4-5.8M365.6 238.1l3.4-5.8M399.2 238.1l-3.4-5.8M385.7 238.1l3.4-5.8M335.4 232.3l3.4-5.8M355.5 232.3l-6.7 0M355.5 232.3l3.4-5.8M348.8 232.3l-3.4-5.8M375.7 232.3l-6.7 0M375.7 232.3l3.4-5.8M368.9 232.3l-3.4-5.8M395.8 232.3l-6.7 0M395.8 232.3l3.4-5.8M389.1 232.3l-3.4-5.8M409.2 232.3l-3.4-5.8M338.7 226.4l6.7 0M338.7 226.4l-3.4-5.8M325.3 226.4l3.4-5.8M358.9 226.4l6.7 0M358.9 226.4l-3.4-5.8M345.4 226.4l3.4-5.8M379 226.4l6.7 0M379 226.4l-3.4-5.8M365.6 226.4l3.4-5.8M399.2 226.4l6.7 0M399.2 226.4l-3.4-5.8M385.7 226.4l3.4-5.8M419.3 226.4l-3.4-5.8M405.9 226.4l3.4-5.8M335.4 220.6l-6.7 0M335.4 220.6l3.4-5.8M328.6 220.6l-3.4-5.8M355.5 220.6l-6.7 0M355.5 220.6l3.4-5.8M348.8 220.6l-3.4-5.8M375.7 220.6l-6.7 0M375.7 220.6l3.4-5.8M368.9 220.6l-3.4-5.8M395.8 220.6l-6.7 0M395.8 220.6l3.4-5.8M389.1 220.6l-3.4-5.8M416 220.6l-6.7 0M416 220.6l3.4-5.8M409.2 220.6l-3.4-5.8M318.6 214.8l6.7 0M318.6 214.8l-3.4-5.8M338.7 214.8l6.7 0M338.7 214.8l-3.4-5.8M325.3 214.8l3.4-5.8M358.9 214.8l6.7 0M358.9 214.8l-3.4-5.8M345.4 214.8l3.4-5.8M379 214.8l6.7 0M379 214.8l-3.4-5.8M365.6 214.8l3.4-5.8M399.2 214.8l6.7 0M399.2 214.8l-3.4-5.8M385.7 214.8l3.4-5.8M419.3 214.8l6.7 0M419.3 214.8l-3.4-5.8M405.9 214.8l3.4-5.8M426 214.8l3.4-5.8M315.2 209l-6.7 0M315.2 209l3.4-5.8M308.5 209l-3.4-5.8M335.4 209l-6.7 0M335.4 209l3.4-5.8M328.6 209l-3.4-5.8M355.5 209l-6.7 0M355.5 209l3.4-5.8M348.8 209l-3.4-5.8M375.7 209l-6.7 0M375.7 209l3.4-5.8M368.9 209l-3.4-5.8M395.8 209l-6.7 0M395.8 209l3.4-5.8M389.1 209l-3.4-5.8M416 209l-6.7 0M416 209l3.4-5.8M409.2 209l-3.4-5.8M436.1 209l-6.7 0M436.1 209l3.4-5.8M429.4 209l-3.4-5.8M318.6 203.1l6.7 0M318.6 203.1l-3.4-5.8M305.1 203.1l3.4-5.8M338.7 203.1l6.7 0M338.7 203.1l-3.4-5.8M325.3 203.1l3.4-5.8M358.9 203.1l6.7 0M358.9 203.1l-3.4-5.8M345.4 203.1l3.4-5.8M379 203.1l6.7 0M379 203.1l-3.4-5.8M365.6 203.1l3.4-5.8M399.2 203.1l6.7 0M399.2 203.1l-3.4-5.8M385.7 203.1l3.4-5.8M419.3 203.1l6.7 0M419.3 203.1l-3.4-5.8M405.9 203.1l3.4-5.8M439.5 203.1l-3.4-5.8M426 203.1l3.4-5.8M315.2 197.3l-6.7 0M315.2 197.3l3.4-5.8M308.5 197.3l-3.4-5.8M335.4 197.3l-6.7 0M335.4 197.3l3.4-5.8M328.6 197.3l-3.4-5.8M355.5 197.3l-6.7 0M355.5 197.3l3.4-5.8M348.8 197.3l-3.4-5.8M375.7 197.3l-6.7 0M375.7 197.3l3.4-5.8M368.9 197.3l-3.4-5.8M395.8 197.3l-6.7 0M395.8 197.3l3.4-5.8M389.1 197.3l-3.4-5.8M416 197.3l-6.7 0M416 197.3l3.4-5.8M409.2 197.3l-3.4-5.8M436.1 197.3l-6.7 0M436.1 197.3l3.4-5.8M429.4 197.3l-3.4-5.8M298.4 191.5l6.7 0M318.6 191.5l6.7 0M318.6 191.5l-3.4-5.8M305.1 191.5l3.4-5.8M338.7 191.5l6.7 0M338.7 191.5l-3.4-5.8M325.3 191.5l3.4-5.8M358.9 191.5l6.7 0M358.9 191.5l-3.4-5.8M345.4 191.5l3.4-5.8M379 191.5l6.7 0M379 191.5l-3.4-5.8M365.6 191.5l3.4-5.8M399.2 191.5l6.7 0M399.2 191.5l-3.4-5.8M385.7 191.5l3.4-5.8M419.3 191.5l6.7 0M419.3 191.5l-3.4-5.8M405.9 191.5l3.4-5.8M439.5 191.5l6.7 0M439.5 191.5l-3.4-5.8M426 191.5l3.4-5.8M315.2 185.7l-6.7 0M315.2 185.7l3.4-5.8M308.5 185.7l-3.4-5.8M335.4 185.7l-6.7 0M335.4 185.7l3.4-5.8M328.6 185.7l-3.4-5.8M355.5 185.7l-6.7 0M355.5 185.7l3.4-5.8M348.8 185.7l-3.4-5.8M375.7 185.7l-6.7 0M375.7 185.7l3.4-5.8M368.9 185.7l-3.4-5.8M395.8 185.7l-6.7 0M395.8 185.7l3.4-5.8M389.1 185.7l-3.4-5.8M416 185.7l-6.7 0M416 185.7l3.4-5.8M409.2 185.7l-3.4-5.8M436.1 185.7l-6.7 0M436.1 185.7l3.4-5.8M429.4 185.7l-3.4-5.8M298.4 179.9l6.7 0M298.4 179.9l-3.4-5.8M318.6 179.9l6.7 0M318.6 179.9l-3.4-5.8M305.1 179.9l3.4-5.8M338.7 179.9l6.7 0M338.7 179.9l-3.4-5.8M325.3 179.9l3.4-5.8M358.9 179.9l6.7 0M358.9 179.9l-3.4-5.8M345.4 179.9l3.4-5.8M379 179.9l6.7 0M379 179.9l-3.4-5.8M365.6 179.9l3.4-5.8M399.2 179.9l6.7 0M399.2 179.9l-3.4-5.8M385.7 179.9l3.4-5.8M419.3 179.9l6.7 0M419.3 179.9l-3.4-5.8M405.9 179.9l3.4-5.8M439.5 179.9l6.7 0M439.5 179.9l-3.4-5.8M426 179.9l3.4-5.8M446.2 179.9l3.4-5.8M295.1 174l3.4-5.8M315.2 174l-6.7 0M315.2 174l3.4-5.8M308.5 174l-3.4-5.8M335.4 174l-6.7 0M335.4 174l3.4-5.8M328.6 174l-3.4-5.8M355.5 174l-6.7 0M355.5 174l3.4-5.8M348.8 174l-3.4-5.8M375.7 174l-6.7 0M375.7 174l3.4-5.8M368.9 174l-3.4-5.8M395.8 174l-6.7 0M395.8 174l3.4-5.8M389.1 174l-3.4-5.8M416 174l-6.7 0M416 174l3.4-5.8M409.2 174l-3.4-5.8M436.1 174l-6.7 0M436.1 174l3.4-5.8M429.4 174l-3.4-5.8M449.5 174l-3.4-5.8M298.4 168.2l6.7 0M298.4 168.2l-3.4-5.8M318.6 168.2l6.7 0M318.6 168.2l-3.4-5.8M305.1 168.2l3.4-5.8M338.7 168.2l6.7 0M338.7 168.2l-3.4-5.8M325.3 168.2l3.4-5.8M358.9 168.2l6.7 0M358.9 168.2l-3.4-5.8M345.4 168.2l3.4-5.8M379 168.2l6.7 0M379 168.2l-3.4-5.8M365.6 168.2l3.4-5.8M399.2 168.2l6.7 0M399.2 168.2l-3.4-5.8M385.7 168.2l3.4-5.8M419.3 168.2l6.7 0M419.3 168.2l-3.4-5.8M405.9 168.2l3.4-5.8M439.5 168.2l6.7 0M439.5 168.2l-3.4-5.8M426 168.2l3.4-5.8M446.2 168.2l3.4-5.8M295.1 162.4l3.4-5.8M315.2 162.4l-6.7 0M315.2 162.4l3.4-5.8M308.5 162.4l-3.4-5.8M335.4 162.4l-6.7 0M335.4 162.4l3.4-5.8M328.6 162.4l-3.4-5.8M355.5 162.4l-6.7 0M355.5 162.4l3.4-5.8M348.8 162.4l-3.4-5.8M375.7 162.4l-6.7 0M375.7 162.4l3.4-5.8M368.9 162.4l-3.4-5.8M395.8 162.4l-6.7 0M395.8 162.4l3.4-5.8M389.1 162.4l-3.4-5.8M416 162.4l-6.7 0M416 162.4l3.4-5.8M409.2 162.4l-3.4-5.8M436.1 162.4l-6.7 0M436.1 162.4l3.4-5.8M429.4 162.4l-3.4-5.8M449.5 162.4l-3.4-5.8M298.4 156.6l6.7 0M298.4 156.6l-3.4-5.8M318.6 156.6l6.7 0M318.6 156.6l-3.4-5.8M305.1 156.6l3.4-5.8M338.7 156.6l6.7 0M338.7 156.6l-3.4-5.8M325.3 156.6l3.4-5.8M358.9 156.6l6.7 0M358.9 156.6l-3.4-5.8M345.4 156.6l3.4-5.8M379 156.6l6.7 0M379 156.6l-3.4-5.8M365.6 156.6l3.4-5.8M399.2 156.6l6.7 0M399.2 156.6l-3.4-5.8M385.7 156.6l3.4-5.8M419.3 156.6l6.7 0M419.3 156.6l-3.4-5.8M405.9 156.6l3.4-5.8M439.5 156.6l6.7 0M439.5 156.6l-3.4-5.8M426 156.6l3.4-5.8M446.2 156.6l3.4-5.8M295.1 150.8l3.4-5.8M315.2 150.8l-6.7 0M315.2 150.8l3.4-5.8M308.5 150.8l-3.4-5.8M335.4 150.8l-6.7 0M335.4 150.8l3.4-5.8M328.6 150.8l-3.4-5.8M355.5 150.8l-6.7 0M355.5 150.8l3.4-5.8M348.8 150.8l-3.4-5.8M375.7 150.8l-6.7 0M375.7 150.8l3.4-5.8M368.9 150.8l-3.4-5.8M395.8 150.8l-6.7 0M395.8 150.8l3.4-5.8M389.1 150.8l-3.4-5.8M416 150.8l-6.7 0M416 150.8l3.4-5.8M409.2 150.8l-3.4-5.8M436.1 150.8l-6.7 0M436.1 150.8l3.4-5.8M429.4 150.8l-3.4-5.8M449.5 150.8l-3.4-5.8M298.4 144.9l6.7 0M318.6 144.9l6.7 0M318.6 144.9l-3.4-5.8M305.1 144.9l3.4-5.8M338.7 144.9l6.7 0M338.7 144.9l-3.4-5.8M325.3 144.9l3.4-5.8M358.9 144.9l6.7 0M358.9 144.9l-3.4-5.8M345.4 144.9l3.4-5.8M379 144.9l6.7 0M379 144.9l-3.4-5.8M365.6 144.9l3.4-5.8M399.2 144.9l6.7 0M399.2 144.9l-3.4-5.8M385.7 144.9l3.4-5.8M419.3 144.9l6.7 0M419.3 144.9l-3.4-5.8M405.9 144.9l3.4-5.8M439.5 144.9l6.7 0M439.5 144.9l-3.4-5.8M426 144.9l3.4-5.8M315.2 139.1l-6.7 0M315.2 139.1l3.4-5.8M308.5 139.1l-3.4-5.8M335.4 139.1l-6.7 0M335.4 139.1l3.4-5.8M328.6 139.1l-3.4-5.8M355.5 139.1l-6.7 0M355.5 139.1l3.4-5.8M348.8 139.1l-3.4-5.8M375.7 139.1l-6.7 0M375.7 139.1l3.4-5.8M368.9 139.1l-3.4-5.8M395.8 139.1l-6.7 0M395.8 139.1l3.4-5.8M389.1 139.1l-3.4-5.8M416 139.1l-6.7 0M416 139.1l3.4-5.8M409.2 139.1l-3.4-5.8M436.1 139.1l-6.7 0M436.1 139.1l3.4-5.8M429.4 139.1l-3.4-5.8M298.4 133.3l6.7 0M318.6 133.3l6.7 0M318.6 133.3l-3.4-5.8M305.1 133.3l3.4-5.8M338.7 133.3l6.7 0M338.7 133.3l-3.4-5.8M325.3 133.3l3.4-5.8M358.9 133.3l6.7 0M358.9 133.3l-3.4-5.8M345.4 133.3l3.4-5.8M379 133.3l6.7 0M379 133.3l-3.4-5.8M365.6 133.3l3.4-5.8M399.2 133.3l6.7 0M399.2 133.3l-3.4-5.8M385.7 133.3l3.4-5.8M419.3 133.3l6.7 0M419.3 133.3l-3.4-5.8M405.9 133.3l3.4-5.8M439.5 133.3l6.7 0M439.5 133.3l-3.4-5.8M426 133.3l3.4-5.8M315.2 127.5l-6.7 0M315.2 127.5l3.4-5.8M308.5 127.5l-3.4-5.8M335.4 127.5l-6.7 0M335.4 127.5l3.4-5.8M328.6 127.5l-3.4-5.8M355.5 127.5l-6.7 0M355.5 127.5l3.4-5.8M348.8 127.5l-3.4-5.8M375.7 127.5l-6.7 0M375.7 127.5l3.4-5.8M368.9 127.5l-3.4-5.8M395.8 127.5l-6.7 0M395.8 127.5l3.4-5.8M389.1 127.5l-3.4-5.8M416 127.5l-6.7 0M416 127.5l3.4-5.8M409.2 127.5l-3.4-5.8M436.1 127.5l-6.7 0M436.1 127.5l3.4-5.8M429.4 127.5l-3.4-5.8M318.6 121.7l6.7 0M318.6 121.7l-3.4-5.8M305.1 121.7l3.4-5.8M338.7 121.7l6.7 0M338.7 121.7l-3.4-5.8M325.3 121.7l3.4-5.8M358.9 121.7l6.7 0M358.9 121.7l-3.4-5.8M345.4 121.7l3.4-5.8M379 121.7l6.7 0M379 121.7l-3.4-5.8M365.6 121.7l3.4-5.8M399.2 121.7l6.7 0M399.2 121.7l-3.4-5.8M385.7 121.7l3.4-5.8M419.3 121.7l6.7 0M419.3 121.7l-3.4-5.8M405.9 121.7l3.4-5.8M439.5 121.7l-3.4-5.8M426 121.7l3.4-5.8M315.2 115.8l-6.7 0M315.2 115.8l3.4-5.8M335.4 115.8l-6.7 0M335.4 115.8l3.4-5.8M328.6 115.8l-3.4-5.8M355.5 115.8l-6.7 0M355.5 115.8l3.4-5.8M348.8 115.8l-3.4-5.8M375.7 115.8l-6.7 0M375.7 115.8l3.4-5.8M368.9 115.8l-3.4-5.8M395.8 115.8l-6.7 0M395.8 115.8l3.4-5.8M389.1 115.8l-3.4-5.8M416 115.8l-6.7 0M416 115.8l3.4-5.8M409.2 115.8l-3.4-5.8M436.1 115.8l-6.7 0M429.4 115.8l-3.4-5.8M318.6 110l6.7 0M338.7 110l6.7 0M338.7 110l-3.4-5.8M325.3 110l3.4-5.8M358.9 110l6.7 0M358.9 110l-3.4-5.8M345.4 110l3.4-5.8M379 110l6.7 0M379 110l-3.4-5.8M365.6 110l3.4-5.8M399.2 110l6.7 0M399.2 110l-3.4-5.8M385.7 110l3.4-5.8M419.3 110l6.7 0M419.3 110l-3.4-5.8M405.9 110l3.4-5.8M335.4 104.2l-6.7 0M335.4 104.2l3.4-5.8M328.6 104.2l-3.4-5.8M355.5 104.2l-6.7 0M355.5 104.2l3.4-5.8M348.8 104.2l-3.4-5.8M375.7 104.2l-6.7 0M375.7 104.2l3.4-5.8M368.9 104.2l-3.4-5.8M395.8 104.2l-6.7 0M395.8 104.2l3.4-5.8M389.1 104.2l-3.4-5.8M416 104.2l-6.7 0M416 104.2l3.4-5.8M409.2 104.2l-3.4-5.8M338.7 98.4l6.7 0M338.7 98.4l-3.4-5.8M358.9 98.4l6.7 0M358.9 98.4l-3.4-5.8M345.4 98.4l3.4-5.8M379 98.4l6.7 0M379 98.4l-3.4-5.8M365.6 98.4l3.4-5.8M399.2 98.4l6.7 0M399.2 98.4l-3.4-5.8M385.7 98.4l3.4-5.8M405.9 98.4l3.4-5.8M355.5 92.5l-6.7 0M355.5 92.5l3.4-5.8M348.8 92.5l-3.4-5.8M375.7 92.5l-6.7 0M375.7 92.5l3.4-5.8M368.9 92.5l-3.4-5.8M395.8 92.5l-6.7 0M395.8 92.5l3.4-5.8M389.1 92.5l-3.4-5.8M358.9 86.7l6.7 0M358.9 86.7l-3.4-5.8M345.4 86.7l3.4-5.8M379 86.7l6.7 0M379 86.7l-3.4-5.8M365.6 86.7l3.4-5.8M399.2 86.7l-3.4-5.8M385.7 86.7l3.4-5.8M355.5 80.9l-6.7 0M355.5 80.9l3.4-5.8M348.8 80.9l-3.4-5.8M375.7 80.9l-6.7 0M375.7 80.9l3.4-5.8M368.9 80.9l-3.4-5.8M395.8 80.9l-6.7 0M395.8 80.9l3.4-5.8M389.1 80.9l-3.4-5.8M358.9 75.1l6.7 0M358.9 75.1l-3.4-5.8M345.4 75.1l3.4-5.8M379 75.1l6.7 0M379 75.1l-3.4-5.8M365.6 75.1l3.4-5.8M399.2 75.1l-3.4-5.8M385.7 75.1l3.4-5.8M355.5 69.3l-6.7 0M355.5 69.3l3.4-5.8M348.8 69.3l-3.4-5.8M375.7 69.3l-6.7 0M375.7 69.3l3.4-5.8M368.9 69.3l-3.4-5.8M395.8 69.3l-6.7 0M395.8 69.3l3.4-5.8M389.1 69.3l-3.4-5.8M358.9 63.4l6.7 0M358.9 63.4l-3.4-5.8M345.4 63.4l3.4-5.8M379 63.4l6.7 0M379 63.4l-3.4-5.8M365.6 63.4l3.4-5.8M399.2 63.4l-3.4-5.8M385.7 63.4l3.4-5.8M355.5 57.6l-6.7 0M355.5 57.6l3.4-5.8M348.8 57.6l-3.4-5.8M375.7 57.6l-6.7 0M375.7 57.6l3.4-5.8M368.9 57.6l-3.4-5.8M395.8 57.6l-6.7 0M395.8 57.6l3.4-5.8M389.1 57.6l-3.4-5.8M358.9 51.8l6.7 0M358.9 51.8l-3.4-5.8M345.4 51.8l3.4-5.8M379 51.8l6.7 0M379 51.8l-3.4-5.8M365.6 51.8l3.4-5.8M399.2 51.8l-3.4-5.8M385.7 51.8l3.4-5.8M355.5 46l-6.7 0M355.5 46l3.4-5.8M348.8 46l-3.4-5.8M375.7 46l-6.7 0M375.7 46l3.4-5.8M368.9 46l-3.4-5.8M395.8 46l-6.7 0M395.8 46l3.4-5.8M389.1 46l-3.4-5.8M358.9 40.2l6.7 0M358.9 40.2l-3.4-5.8M345.4 40.2l3.4-5.8M379 40.2l6.7 0M379 40.2l-3.4-5.8M365.6 40.2l3.4-5.8M399.2 40.2l-3.4-5.8M385.7 40.2l3.4-5.8M355.5 34.3l-6.7 0M355.5 34.3l3.4-5.8M348.8 34.3l-3.4-5.8M375.7 34.3l-6.7 0M375.7 34.3l3.4-5.8M368.9 34.3l-3.4-5.8M395.8 34.3l-6.7 0M395.8 34.3l3.4-5.8M389.1 34.3l-3.4-5.8M358.9 28.5l6.7 0M358.9 28.5l-3.4-5.8M345.4 28.5l3.4-5.8M379 28.5l6.7 0M379 28.5l-3.4-5.8M365.6 28.5l3.4-5.8M399.2 28.5l-3.4-5.8M385.7 28.5l3.4-5.8M355.5 22.7l-6.7 0M375.7 22.7l-6.7 0M395.8 22.7l-6.7 0" stroke="#f7a8bd" stroke-width="0.07" fill="none"/>
<circle cx="375.7" cy="34.3" r=".3" fill="#352b89"/><circle cx="368.9" cy="34.3" r=".3" fill="#352b89"/><circle cx="368.9" cy="290.5" r=".3" fill="#352b89"/><circle cx="375.7" cy="290.5" r=".3" fill="#352b89"/><circle cx="335.4" cy="162.4" r=".3" fill="#352b89"/><circle cx="409.2" cy="162.4" r=".3" fill="#352b89"/><circle cx="395.8" cy="162.4" r=".3" fill="#352b89"/><circle cx="348.8" cy="162.4" r=".3" fill="#352b89"/><circle cx="358.9" cy="121.7" r=".3" fill="#352b89"/><circle cx="385.7" cy="203.1" r=".3" fill="#352b89"/><circle cx="358.9" cy="203.1" r=".3" fill="#352b89"/><circle cx="385.7" cy="121.7" r=".3" fill="#352b89"/><circle cx="368.9" cy="185.7" r=".3" fill="#352b89"/><circle cx="368.9" cy="139.1" r=".3" fill="#352b89"/><circle cx="375.7" cy="139.1" r=".3" fill="#352b89"/><circle cx="375.7" cy="185.7" r=".3" fill="#352b89"/><circle cx="328.6" cy="197.3" r=".3" fill="#352c89"/><circle cx="416" cy="197.3" r=".3" fill="#352c89"/><circle cx="328.6" cy="127.5" r=".3" fill="#352c89"/><circle cx="416" cy="127.5" r=".3" fill="#352c89"/><circle cx="385.7" cy="86.7" r=".3" fill="#352c89"/><circle cx="358.9" cy="238.1" r=".3" fill="#352c89"/><circle cx="385.7" cy="238.1" r=".3" fill="#352c89"/><circle cx="358.9" cy="86.7" r=".3" fill="#352c89"/><circle cx="358.9" cy="226.4" r=".3" fill="#352c8a"/><circle cx="385.7" cy="226.4" r=".3" fill="#352c8a"/><circle cx="385.7" cy="98.4" r=".3" fill="#352c8a"/><circle cx="358.9" cy="98.4" r=".3" fill="#352c8a"/><circle cx="409.2" cy="127.5" r=".3" fill="#352c8a"/><circle cx="335.4" cy="197.3" r=".3" fill="#352c8a"/><circle cx="335.4" cy="127.5" r=".3" fill="#352c8a"/><circle cx="409.2" cy="197.3" r=".3" fill="#352c8a"/><circle cx="358.9" cy="144.9" r=".3" fill="#352c8a"/><circle cx="385.7" cy="144.9" r=".3" fill="#352c8a"/><circle cx="358.9" cy="179.9" r=".3" fill="#352c8a"/><circle cx="385.7" cy="179.9" r=".3" fill="#352c8a"/><circle cx="389.1" cy="139.1" r=".3" fill="#352c8a"/><circle cx="355.5" cy="139.1" r=".3" fill="#352c8a"/><circle cx="389.1" cy="185.7" r=".3" fill="#352c8a"/><circle cx="355.5" cy="185.7" r=".3" fill="#352c8a"/><circle cx="446.2" cy="179.9" r=".3" fill="#352c8a"/><circle cx="446.2" cy="144.9" r=".3" fill="#352c8a"/><circle cx="298.4" cy="144.9" r=".3" fill="#352c8a"/><circle cx="298.4" cy="179.9" r=".3" fill="#352c8a"/><circle cx="446.2" cy="156.6" r=".3" fill="#352c8a"/><circle cx="446.2" cy="168.2" r=".3" fill="#352c8a"/><circle cx="298.4" cy="168.2" r=".3" fill="#352c8a"/><circle cx="298.4" cy="156.6" r=".3" fill="#352c8a"/><circle cx="325.3" cy="121.7" r=".3" fill="#352c8a"/><circle cx="325.3" cy="203.1" r=".3" fill="#352c8a"/><circle cx="419.3" cy="121.7" r=".3" fill="#352c8a"/><circle cx="419.3" cy="203.1" r=".3" fill="#352c8a"/><circle cx="395.8" cy="139.1" r=".3" fill="#352c8a"/><circle cx="348.8" cy="139.1" r=".3" fill="#352c8a"/><circle cx="395.8" cy="185.7" r=".3" fill="#352c8a"/><circle cx="348.8" cy="185.7" r=".3" fill="#352c8a"/><circle cx="436.1" cy="174" r=".3" fill="#352c8a"/><circle cx="436.1" cy="150.8" r=".3" fill="#352c8a"/><circle cx="308.5" cy="150.8" r=".3" fill="#352c8a"/><circle cx="308.5" cy="174" r=".3" fill="#352c8a"/><circle cx="385.7" cy="168.2" r=".3" fill="#352c8a"/><circle cx="358.9" cy="156.6" r=".3" fill="#352c8a"/><circle cx="358.9" cy="168.2" r=".3" fill="#352c8a"/><circle cx="385.7" cy="156.6" r=".3" fill="#352c8a"/><circle cx="379" cy="121.7" r=".3" fill="#352c8a"/><circle cx="365.6" cy="121.7" r=".3" fill="#352c8a"/><circle cx="365.6" cy="203.1" r=".3" fill="#352c8a"/><circle cx="379" cy="203.1" r=".3" fill="#352c8a"/><circle cx="345.4" cy="144.9" r=".3" fill="#352c8a"/><circle cx="399.2" cy="144.9" r=".3" fill="#352c8a"/><circle cx="399.2" cy="179.9" r=".3" fill="#352c8a"/><circle cx="345.4" cy="179.9" r=".3" fill="#352c8a"/><circle cx="389.1" cy="162.4" r=".3" fill="#352c8b"/><circle cx="355.5" cy="162.4" r=".3" fill="#352c8b"/><circle cx="405.9" cy="156.6" r=".3" fill="#352c8b"/><circle cx="405.9" cy="168.2" r=".3" fill="#352c8b"/><circle cx="338.7" cy="156.6" r=".3" fill="#352c8b"/><circle cx="338.7" cy="168.2" r=".3" fill="#352c8b"/><circle cx="348.8" cy="209" r=".3" fill="#352c8b"/><circle cx="395.8" cy="209" r=".3" fill="#352c8b"/><circle cx="395.8" cy="115.8" r=".3" fill="#352c8b"/><circle cx="348.8" cy="115.8" r=".3" fill="#352c8b"/><circle cx="379" cy="63.4" r=".3" fill="#352c8b"/><circle cx="365.6" cy="63.4" r=".3" fill="#352c8b"/><circle cx="365.6" cy="261.4" r=".3" fill="#352c8b"/><circle cx="379" cy="261.4" r=".3" fill="#352c8b"/><circle cx="426" cy="156.6" r=".3" fill="#352c8b"/><circle cx="426" cy="168.2" r=".3" fill="#352c8b"/><circle cx="318.6" cy="156.6" r=".3" fill="#352c8b"/><circle cx="318.6" cy="168.2" r=".3" fill="#352c8b"/><circle cx="328.6" cy="209" r=".3" fill="#352c8b"/><circle cx="328.6" cy="115.8" r=".3" fill="#352c8b"/><circle cx="416" cy="209" r=".3" fill="#352c8b"/><circle cx="416" cy="115.8" r=".3" fill="#352c8b"/><circle cx="368.9" cy="127.5" r=".3" fill="#352c8b"/><circle cx="375.7" cy="197.3" r=".3" fill="#352c8b"/><circle cx="375.7" cy="127.5" r=".3" fill="#352c8b"/><circle cx="368.9" cy="197.3" r=".3" fill="#352c8b"/><circle cx="416" cy="150.8" r=".3" fill="#352c8b"/><circle cx="416" cy="174" r=".3" fill="#352c8b"/><circle cx="328.6" cy="174" r=".3" fill="#352c8b"/><circle cx="328.6" cy="150.8" r=".3" fill="#352c8b"/><circle cx="395.8" cy="174" r=".3" fill="#352d8b"/><circle cx="395.8" cy="150.8" r=".3" fill="#352d8b"/><circle cx="348.8" cy="174" r=".3" fill="#352d8b"/><circle cx="348.8" cy="150.8" r=".3" fill="#352d8b"/><circle cx="375.7" cy="162.4" r=".3" fill="#352d8c"/><circle cx="368.9" cy="162.4" r=".3" fill="#352d8c"/><circle cx="416" cy="185.7" r=".3" fill="#352d8c"/><circle cx="416" cy="139.1" r=".3" fill="#352d8c"/><circle cx="328.6" cy="185.7" r=".3" fill="#352d8c"/><circle cx="328.6" cy="139.1" r=".3" fill="#352d8c"/><circle cx="365.6" cy="214.8" r=".3" fill="#352d8c"/><circle cx="379" cy="214.8" r=".3" fill="#352d8c"/><circle cx="365.6" cy="110" r=".3" fill="#352d8c"/><circle cx="379" cy="110" r=".3" fill="#352d8c"/><circle cx="365.6" cy="273" r=".3" fill="#352d8c"/><circle cx="379" cy="273" r=".3" fill="#352d8c"/><circle cx="365.6" cy="51.8" r=".3" fill="#352d8c"/><circle cx="379" cy="51.8" r=".3" fill="#352d8c"/><circle cx="375.7" cy="150.8" r=".3" fill="#352d8c"/><circle cx="368.9" cy="150.8" r=".3" fill="#352d8c"/><circle cx="368.9" cy="174" r=".3" fill="#352d8c"/><circle cx="375.7" cy="174" r=".3" fill="#352d8c"/><circle cx="318.6" cy="214.8" r=".3" fill="#352d8c"/><circle cx="426" cy="214.8" r=".3" fill="#352d8c"/><circle cx="426" cy="110" r=".3" fill="#352d8c"/><circle cx="318.6" cy="110" r=".3" fill="#352d8c"/><circle cx="375.7" cy="46" r=".3" fill="#352d8c"/><circle cx="368.9" cy="46" r=".3" fill="#352d8c"/><circle cx="368.9" cy="278.8" r=".3" fill="#352d8c"/><circle cx="375.7" cy="278.8" r=".3" fill="#352d8c"/><circle cx="368.9" cy="255.5" r=".3" fill="#352d8c"/><circle cx="375.7" cy="255.5" r=".3" fill="#352d8c"/><circle cx="375.7" cy="69.3" r=".3" fill="#352d8c"/><circle cx="368.9" cy="69.3" r=".3" fill="#352d8c"/><circle cx="368.9" cy="104.2" r=".3" fill="#352d8c"/><circle cx="368.9" cy="220.6" r=".3" fill="#352d8c"/><circle cx="375.7" cy="104.2" r=".3" fill="#352d8c"/><circle cx="375.7" cy="220.6" r=".3" fill="#352d8c"/><circle cx="389.1" cy="92.5" r=".31" fill="#352d8d"/><circle cx="389.1" cy="232.3" r=".31" fill="#352d8d"/><circle cx="355.5" cy="92.5" r=".31" fill="#352d8d"/><circle cx="355.5" cy="232.3" r=".31" fill="#352d8d"/><circle cx="405.9" cy="133.3" r=".32" fill="#362d8d"/><circle cx="338.7" cy="191.5" r=".32" fill="#362d8d"/><circle cx="338.7" cy="133.3" r=".32" fill="#362d8d"/><circle cx="405.9" cy="191.5" r=".32" fill="#362d8d"/><circle cx="385.7" cy="191.5" r=".33" fill="#362d8d"/><circle cx="385.7" cy="133.3" r=".33" fill="#362d8d"/><circle cx="358.9" cy="133.3" r=".33" fill="#362d8d"/><circle cx="358.9" cy="191.5" r=".33" fill="#362d8d"/><circle cx="368.9" cy="267.2" r=".34" fill="#362e8e"/><circle cx="368.9" cy="57.6" r=".34" fill="#362e8e"/><circle cx="375.7" cy="267.2" r=".34" fill="#362e8e"/><circle cx="375.7" cy="57.6" r=".34" fill="#362e8e"/><circle cx="379" cy="179.9" r=".35" fill="#362e8e"/><circle cx="365.6" cy="179.9" r=".35" fill="#362e8e"/><circle cx="365.6" cy="144.9" r=".35" fill="#362e8e"/><circle cx="379" cy="144.9" r=".35" fill="#362e8e"/><circle cx="436.1" cy="209" r=".36" fill="#362e8f"/><circle cx="308.5" cy="209" r=".36" fill="#362e8f"/><circle cx="436.1" cy="115.8" r=".36" fill="#362e8f"/><circle cx="308.5" cy="115.8" r=".36" fill="#362e8f"/><circle cx="409.2" cy="115.8" r=".36" fill="#362e8f"/><circle cx="335.4" cy="115.8" r=".36" fill="#362e8f"/><circle cx="409.2" cy="209" r=".36" fill="#362e8f"/><circle cx="335.4" cy="209" r=".36" fill="#362e8f"/><circle cx="436.1" cy="197.3" r=".37" fill="#362e8f"/><circle cx="308.5" cy="197.3" r=".37" fill="#362e8f"/><circle cx="436.1" cy="127.5" r=".37" fill="#362e8f"/><circle cx="308.5" cy="127.5" r=".37" fill="#362e8f"/><circle cx="368.9" cy="209" r=".39" fill="#362f90"/><circle cx="368.9" cy="115.8" r=".39" fill="#362f90"/><circle cx="375.7" cy="209" r=".39" fill="#362f90"/><circle cx="375.7" cy="115.8" r=".39" fill="#362f90"/><circle cx="379" cy="133.3" r=".42" fill="#362f91"/><circle cx="365.6" cy="133.3" r=".42" fill="#362f91"/><circle cx="365.6" cy="191.5" r=".42" fill="#362f91"/><circle cx="379" cy="191.5" r=".42" fill="#362f91"/><circle cx="426" cy="133.3" r=".45" fill="#363093"/><circle cx="318.6" cy="191.5" r=".45" fill="#363093"/><circle cx="426" cy="191.5" r=".45" fill="#363093"/><circle cx="318.6" cy="133.3" r=".45" fill="#363093"/><circle cx="436.1" cy="139.1" r=".46" fill="#363093"/><circle cx="436.1" cy="185.7" r=".46" fill="#363093"/><circle cx="308.5" cy="139.1" r=".46" fill="#363093"/><circle cx="308.5" cy="185.7" r=".46" fill="#363093"/><circle cx="355.5" cy="22.7" r=".46" fill="#363194"/><circle cx="355.5" cy="302.1" r=".46" fill="#363194"/><circle cx="389.1" cy="22.7" r=".46" fill="#363194"/><circle cx="389.1" cy="302.1" r=".46" fill="#363194"/><circle cx="365.6" cy="75.1" r=".47" fill="#363194"/><circle cx="379" cy="249.7" r=".47" fill="#363194"/><circle cx="379" cy="75.1" r=".47" fill="#363194"/><circle cx="365.6" cy="249.7" r=".47" fill="#363194"/><circle cx="379" cy="284.6" r=".5" fill="#363296"/><circle cx="365.6" cy="284.6" r=".5" fill="#363296"/><circle cx="379" cy="40.2" r=".5" fill="#363296"/><circle cx="365.6" cy="40.2" r=".5" fill="#363296"/><circle cx="365.6" cy="226.4" r=".52" fill="#363297"/><circle cx="379" cy="226.4" r=".52" fill="#363297"/><circle cx="365.6" cy="98.4" r=".52" fill="#363297"/><circle cx="379" cy="98.4" r=".52" fill="#363297"/><circle cx="345.4" cy="203.1" r=".58" fill="#36349b"/><circle cx="399.2" cy="121.7" r=".58" fill="#36349b"/><circle cx="345.4" cy="121.7" r=".58" fill="#36349b"/><circle cx="399.2" cy="203.1" r=".58" fill="#36349b"/><circle cx="379" cy="238.1" r=".59" fill="#36349c"/><circle cx="365.6" cy="238.1" r=".59" fill="#36349c"/><circle cx="365.6" cy="86.7" r=".59" fill="#36349c"/><circle cx="379" cy="86.7" r=".59" fill="#36349c"/><circle cx="389.1" cy="104.2" r=".6" fill="#36359d"/><circle cx="355.5" cy="104.2" r=".6" fill="#36359d"/><circle cx="389.1" cy="220.6" r=".6" fill="#36359d"/><circle cx="355.5" cy="220.6" r=".6" fill="#36359d"/><circle cx="355.5" cy="127.5" r=".61" fill="#36359d"/><circle cx="389.1" cy="197.3" r=".61" fill="#36359d"/><circle cx="355.5" cy="197.3" r=".61" fill="#36359d"/><circle cx="389.1" cy="127.5" r=".61" fill="#36359d"/><circle cx="389.1" cy="243.9" r=".62" fill="#36369e"/><circle cx="355.5" cy="243.9" r=".62" fill="#36369e"/><circle cx="389.1" cy="80.9" r=".62" fill="#36369e"/><circle cx="355.5" cy="80.9" r=".62" fill="#36369e"/><circle cx="389.1" cy="34.3" r=".62" fill="#36369e"/><circle cx="355.5" cy="34.3" r=".62" fill="#36369e"/><circle cx="355.5" cy="290.5" r=".62" fill="#36369e"/><circle cx="389.1" cy="290.5" r=".62" fill="#36369e"/><circle cx="379" cy="296.3" r=".63" fill="#36369f"/><circle cx="365.6" cy="296.3" r=".63" fill="#36369f"/><circle cx="365.6" cy="28.5" r=".63" fill="#36369f"/><circle cx="379" cy="28.5" r=".63" fill="#36369f"/><circle cx="389.1" cy="115.8" r=".78" fill="#353dac"/><circle cx="355.5" cy="115.8" r=".78" fill="#353dac"/><circle cx="355.5" cy="209" r=".78" fill="#353dac"/><circle cx="389.1" cy="209" r=".78" fill="#353dac"/><circle cx="446.2" cy="133.3" r=".82" fill="#343eb0"/><circle cx="446.2" cy="191.5" r=".82" fill="#343eb0"/><circle cx="298.4" cy="133.3" r=".82" fill="#343eb0"/><circle cx="298.4" cy="191.5" r=".82" fill="#343eb0"/><circle cx="399.2" cy="63.4" r=".95" fill="#3046be"/><circle cx="345.4" cy="63.4" r=".95" fill="#3046be"/><circle cx="399.2" cy="261.4" r=".95" fill="#3046be"/><circle cx="345.4" cy="261.4" r=".95" fill="#3046be"/><circle cx="355.5" cy="46" r=".99" fill="#2d49c4"/><circle cx="389.1" cy="46" r=".99" fill="#2d49c4"/><circle cx="389.1" cy="278.8" r=".99" fill="#2d49c4"/><circle cx="355.5" cy="278.8" r=".99" fill="#2d49c4"/><circle cx="355.5" cy="255.5" r="1.01" fill="#2c4ac6"/><circle cx="389.1" cy="255.5" r="1.01" fill="#2c4ac6"/><circle cx="355.5" cy="69.3" r="1.01" fill="#2c4ac6"/><circle cx="389.1" cy="69.3" r="1.01" fill="#2c4ac6"/><circle cx="399.2" cy="273" r="1.12" fill="#1f53d4"/><circle cx="345.4" cy="273" r="1.12" fill="#1f53d4"/><circle cx="399.2" cy="51.8" r="1.12" fill="#1f53d4"/><circle cx="345.4" cy="51.8" r="1.12" fill="#1f53d4"/><circle cx="355.5" cy="267.2" r="1.15" fill="#1857d8"/><circle cx="355.5" cy="57.6" r="1.15" fill="#1857d8"/><circle cx="389.1" cy="267.2" r="1.15" fill="#1857d8"/><circle cx="389.1" cy="57.6" r="1.15" fill="#1857d8"/><circle cx="345.4" cy="214.8" r="1.35" fill="#0267e1"/><circle cx="399.2" cy="110" r="1.35" fill="#0267e1"/><circle cx="345.4" cy="110" r="1.35" fill="#0267e1"/><circle cx="399.2" cy="214.8" r="1.35" fill="#0267e1"/><circle cx="345.4" cy="75.1" r="1.56" fill="#0c74dd"/><circle cx="399.2" cy="75.1" r="1.56" fill="#0c74dd"/><circle cx="345.4" cy="249.7" r="1.56" fill="#0c74dd"/><circle cx="399.2" cy="249.7" r="1.56" fill="#0c74dd"/><circle cx="335.4" cy="220.6" r="1.71" fill="#137dd7"/><circle cx="335.4" cy="104.2" r="1.71" fill="#137dd7"/><circle cx="409.2" cy="104.2" r="1.71" fill="#137dd7"/><circle cx="409.2" cy="220.6" r="1.71" fill="#137dd7"/><circle cx="345.4" cy="284.6" r="1.81" fill="#1485d4"/><circle cx="399.2" cy="284.6" r="1.81" fill="#1485d4"/><circle cx="345.4" cy="40.2" r="1.81" fill="#1485d4"/><circle cx="399.2" cy="40.2" r="1.81" fill="#1485d4"/><circle cx="325.3" cy="226.4" r="1.84" fill="#1487d3"/><circle cx="325.3" cy="98.4" r="1.84" fill="#1487d3"/><circle cx="419.3" cy="98.4" r="1.84" fill="#1487d3"/><circle cx="419.3" cy="226.4" r="1.84" fill="#1487d3"/><circle cx="345.4" cy="98.4" r="1.9" fill="#118cd2"/><circle cx="345.4" cy="226.4" r="1.9" fill="#118cd2"/><circle cx="399.2" cy="226.4" r="1.9" fill="#118cd2"/><circle cx="399.2" cy="98.4" r="1.9" fill="#118cd2"/><circle cx="345.4" cy="86.7" r="1.98" fill="#0c94d2"/><circle cx="399.2" cy="86.7" r="1.98" fill="#0c94d2"/><circle cx="345.4" cy="238.1" r="1.98" fill="#0c94d2"/><circle cx="399.2" cy="238.1" r="1.98" fill="#0c94d2"/><circle cx="345.4" cy="296.3" r="2.21" fill="#06a6c7"/><circle cx="345.4" cy="28.5" r="2.21" fill="#06a6c7"/><circle cx="399.2" cy="296.3" r="2.21" fill="#06a6c7"/><circle cx="399.2" cy="28.5" r="2.21" fill="#06a6c7"/><circle cx="409.2" cy="92.5" r="3.6" fill="#f9fb0e"/><circle cx="335.4" cy="92.5" r="3.6" fill="#f9fb0e"/><circle cx="335.4" cy="232.3" r="3.6" fill="#f9fb0e"/><circle cx="409.2" cy="232.3" r="3.6" fill="#f9fb0e"/>
<g stroke="#f6134f" fill="none" stroke-linejoin="round"><path d="M365.7 296.3L365.3 296.3M365.4 296.3L365.3 296.3L365.4 296.3M378.9 296.3L379.3 296.3M379.2 296.3L379.3 296.3L379.2 296.3M355.6 290.5L355.2 290.5M355.3 290.4L355.2 290.5L355.3 290.5M389 290.5L389.4 290.5M389.3 290.5L389.4 290.5L389.3 290.4M365.7 284.6L365.3 284.6M365.3 284.6L365.3 284.6L365.3 284.7M378.9 284.6L379.3 284.6M379.3 284.7L379.3 284.6L379.3 284.6M355.8 278.8L355 278.8M355.1 278.8L355 278.8L355.1 278.8M388.8 278.8L389.6 278.8M389.5 278.8L389.6 278.8L389.5 278.8M365.7 273L365.4 273M365.4 273L365.4 273L365.4 273M378.9 273L379.2 273M379.2 273L379.2 273L379.2 273M355.7 243.9L355 243.9M355.1 243.9L355 243.9L355.1 243.9M388.9 243.9L389.6 243.9M389.5 243.9L389.6 243.9L389.5 243.9M365.7 238.1L365.3 238.1M365.4 238.1L365.3 238.1L365.4 238.1M378.9 238.1L379.3 238.1M379.2 238.1L379.3 238.1L379.2 238.1M348.7 220.6L349.1 220.6M349 220.6L349.1 220.6L349 220.6M395.9 220.6L395.5 220.6M395.6 220.6L395.5 220.6L395.6 220.6M328.7 197.5L328.4 197M328.5 197L328.4 197L328.5 197M415.9 197.5L416.2 197M416.1 197L416.2 197L416.1 197M345.3 191.6L345.6 191.2M345.6 191.3L345.6 191.2L345.6 191.2M399.3 191.6L399 191.2M399 191.2L399 191.2L399 191.3M318.6 179.9L318.5 179.7M318.5 179.7L318.5 179.7L318.5 179.7M426 179.9L426.1 179.7M426.1 179.7L426.1 179.7L426.1 179.7M315.2 150.8L315.3 150.6M315.3 150.6L315.3 150.6L315.3 150.6M429.4 150.8L429.3 150.6M429.3 150.6L429.3 150.6L429.3 150.6M348.9 139.3L348.6 138.8M348.7 138.8L348.6 138.8L348.6 138.9M395.7 139.3L396 138.8M396 138.9L396 138.8L395.9 138.8M325.2 133.5L325.5 132.9M325.5 133L325.5 132.9L325.4 133M419.4 133.5L419.1 132.9M419.2 133L419.1 132.9L419.1 133M355.6 104.2L355.2 104.2M355.3 104.2L355.2 104.2L355.3 104.2M389 104.2L389.4 104.2M389.3 104.2L389.4 104.2L389.3 104.2M358.7 86.7L359.1 86.7M359.1 86.7L359.1 86.7L359.1 86.7M385.9 86.7L385.5 86.7M385.5 86.7L385.5 86.7L385.5 86.7M348.6 80.9L349.3 80.9M349.2 80.9L349.3 80.9L349.2 80.9M396 80.9L395.3 80.9M395.4 80.9L395.3 80.9L395.4 80.9M358.8 51.8L359.1 51.8M359 51.8L359.1 51.8L359 51.8M385.8 51.8L385.5 51.8M385.6 51.8L385.5 51.8L385.6 51.8M348.5 46L349.3 46M349.2 46L349.3 46L349.2 46M396.1 46L395.3 46M395.4 46L395.3 46L395.4 46M358.7 40.2L359.2 40.2M359.1 40.2L359.2 40.2L359.1 40.1M385.9 40.2L385.4 40.2M385.5 40.1L385.4 40.2L385.5 40.2M348.7 34.3L349.1 34.3M349 34.4L349.1 34.3L349 34.3M395.9 34.3L395.5 34.3M395.6 34.3L395.5 34.3L395.6 34.4M358.7 28.5L359.1 28.5M359.1 28.5L359.1 28.5L359.1 28.5M385.9 28.5L385.5 28.5M385.5 28.5L385.5 28.5L385.5 28.5M365.7 307.9L365.3 307.9M365.4 307.9L365.3 307.9L365.4 307.9M378.9 307.9L379.3 307.9M379.2 307.9L379.3 307.9L379.2 307.9M358.7 16.9L359.1 16.9M359.1 16.9L359.1 16.9L359.1 16.9M385.9 16.9L385.5 16.9M385.5 16.9L385.5 16.9L385.5 16.9" stroke-width=".3" stroke-opacity=".3"/><path d="M355.8 267.2L354.8 267.2M354.9 267.1L354.8 267.2L354.9 267.2M388.8 267.2L389.8 267.2M389.7 267.2L389.8 267.2L389.7 267.1M355.8 255.5L354.7 255.5M354.9 255.5L354.7 255.5L354.9 255.6M388.8 255.5L389.9 255.5M389.7 255.6L389.9 255.5L389.7 255.5M348.5 232.3L349.4 232.3M349.3 232.3L349.4 232.3L349.3 232.2M396.1 232.3L395.2 232.3M395.3 232.2L395.2 232.3L395.3 232.3M365.8 203.1L364.9 203.1M365.1 203.1L364.9 203.1L365.1 203.2M378.8 203.1L379.7 203.1M379.5 203.2L379.7 203.1L379.5 203.1M345.7 191.5L344.7 191.5M344.9 191.5L344.7 191.5L344.9 191.6M328.8 185.5L328.3 186.3M328.3 186.1L328.3 186.3L328.4 186.2M398.9 191.5L399.9 191.5M399.7 191.6L399.9 191.5L399.7 191.5M415.8 185.5L416.3 186.3M416.2 186.2L416.3 186.3L416.3 186.1M318.7 179.6L318.2 180.5M318.2 180.3L318.2 180.5L318.3 180.4M338.8 179.6L338.4 180.4M338.5 180.3L338.4 180.4L338.5 180.3M405.8 179.6L406.2 180.4M406.1 180.3L406.2 180.4L406.1 180.3M425.9 179.6L426.4 180.5M426.3 180.4L426.4 180.5L426.4 180.3M338.8 180.1L338.4 179.4M338.5 179.4L338.4 179.4L338.5 179.5M405.8 180.1L406.2 179.4M406.1 179.5L406.2 179.4L406.1 179.4M345.3 168.4L345.8 167.6M345.7 167.8L345.8 167.6L345.7 167.7M399.3 168.4L398.8 167.6M398.9 167.7L398.8 167.6L398.9 167.8M348.9 162.6L348.5 161.8M348.6 161.9L348.5 161.8L348.5 162M395.7 162.6L396.1 161.8M396.1 162L396.1 161.8L396 161.9M335.2 151L335.6 150.3M335.6 150.4L335.6 150.3L335.6 150.3M409.4 151L409 150.3M409 150.3L409 150.3L409 150.4M315.1 138.9L315.6 139.7M315.4 139.6L315.6 139.7L315.5 139.6M335.2 138.9L335.6 139.6M335.6 139.5L335.6 139.6L335.6 139.5M409.4 138.9L409 139.6M409 139.5L409 139.6L409 139.5M429.5 138.9L429 139.7M429.1 139.6L429 139.7L429.2 139.6M325.2 133.1L325.6 133.9M325.5 133.8L325.6 133.9L325.6 133.7M419.4 133.1L419 133.9M419 133.7L419 133.9L419.1 133.8M338.5 133.3L339.4 133.3M339.3 133.3L339.4 133.3L339.3 133.2M406.1 133.3L405.2 133.3M405.3 133.2L405.2 133.3L405.3 133.3M358.6 121.7L359.5 121.7M359.4 121.7L359.5 121.7L359.4 121.6M386 121.7L385.1 121.7M385.2 121.6L385.1 121.7L385.2 121.7M355.8 92.5L354.9 92.5M355 92.5L354.9 92.5L355 92.6M388.8 92.5L389.7 92.5M389.6 92.6L389.7 92.5L389.6 92.5M348.5 69.3L349.6 69.3M349.4 69.3L349.6 69.3L349.4 69.2M396.1 69.3L395 69.3M395.2 69.2L395 69.3L395.2 69.3M348.5 57.6L349.5 57.6M349.4 57.7L349.5 57.6L349.4 57.6M396.1 57.6L395.1 57.6M395.2 57.6L395.1 57.6L395.2 57.7" stroke-width=".3" stroke-opacity=".4"/><path d="M338.8 215L338.2 213.9M338.4 214.1L338.2 213.9L338.3 214.2M405.8 215L406.4 213.9M406.3 214.2L406.4 213.9L406.2 214.1M318.7 203.4L318.1 202.3M318.3 202.5L318.1 202.3L318.1 202.6M425.9 203.4L426.5 202.3M426.5 202.6L426.5 202.3L426.3 202.5M348.9 197.5L348.3 196.5M348.5 196.7L348.3 196.5L348.4 196.8M395.7 197.5L396.3 196.5M396.2 196.8L396.3 196.5L396.1 196.7M325.5 191.5L324.4 191.5M324.6 191.4L324.4 191.5L324.6 191.6M358.6 191.5L359.7 191.5M359.5 191.6L359.7 191.5L359.5 191.4M386 191.5L384.9 191.5M385.1 191.4L384.9 191.5L385.1 191.6M419.1 191.5L420.2 191.5M420 191.6L420.2 191.5L420 191.4M325.5 179.9L324.5 179.9M324.7 179.8L324.5 179.9L324.7 179.9M345.7 179.9L344.5 179.9M344.7 179.8L344.5 179.9L344.7 179.9M398.9 179.9L400.1 179.9M399.9 179.9L400.1 179.9L399.9 179.8M419.1 179.9L420.1 179.9M419.9 179.9L420.1 179.9L419.9 179.8M308.2 174L309.5 174M309.2 174.1L309.5 174L309.2 174M436.4 174L435.1 174M435.4 174L435.1 174L435.4 174.1M315.5 150.8L314.2 150.8M314.5 150.7L314.2 150.8L314.5 150.8M429.1 150.8L430.4 150.8M430.1 150.8L430.4 150.8L430.1 150.7M318.3 144.9L319.4 144.9M319.2 145L319.4 144.9L319.2 144.9M338.5 144.9L339.6 144.9M339.4 145L339.6 144.9L339.4 144.9M406.1 144.9L405 144.9M405.2 144.9L405 144.9L405.2 145M426.3 144.9L425.2 144.9M425.4 144.9L425.2 144.9L425.4 145M318.3 133.3L319.5 133.3M319.3 133.4L319.5 133.3L319.3 133.2M365.8 133.3L364.7 133.3M364.9 133.2L364.7 133.3L364.9 133.4M345.3 133.5L345.9 132.5M345.8 132.7L345.9 132.5L345.7 132.7M378.8 133.3L379.9 133.3M379.7 133.4L379.9 133.3L379.7 133.2M399.3 133.5L398.7 132.5M398.9 132.7L398.7 132.5L398.8 132.7M426.3 133.3L425.1 133.3M425.3 133.2L425.1 133.3L425.3 133.4M315.1 127.7L315.7 126.7M315.6 126.9L315.7 126.7L315.5 126.8M429.5 127.7L428.9 126.7M429.1 126.8L428.9 126.7L429 126.9M335.2 116L335.8 115M335.8 115.2L335.8 115L335.7 115.2M409.4 116L408.8 115M408.9 115.2L408.8 115L408.8 115.2" stroke-width=".3" stroke-opacity=".5"/><path d="M318.7 202.9L318.1 204M318.1 203.8L318.1 204L318.3 203.9M425.9 202.9L426.5 204M426.3 203.9L426.5 204L426.5 203.8M315.1 115.6L315.7 116.7M315.5 116.5L315.7 116.7L315.7 116.5M429.5 115.6L428.9 116.7M428.9 116.5L428.9 116.7L429.1 116.5" stroke-width=".3" stroke-opacity=".6"/><path d="M345.7 226.4L344.3 226.4M344.6 226.3L344.3 226.4L344.6 226.5M338.8 226.6L338.2 225.5M338.4 225.7L338.2 225.5L338.2 225.8M398.9 226.4L400.3 226.4M400 226.5L400.3 226.4L400 226.3M405.8 226.6L406.4 225.5M406.4 225.8L406.4 225.5L406.2 225.7M335.2 220.8L335.9 219.7M335.8 220L335.9 219.7L335.7 219.9M409.4 220.8L408.7 219.7M408.9 219.9L408.7 219.7L408.8 220M348.5 209L349.9 209M349.6 209.1L349.9 209L349.6 208.9M396.1 209L394.7 209M395 208.9L394.7 209L395 209.1M315.1 174.3L315.8 173.1M315.7 173.4L315.8 173.1L315.5 173.3M429.5 174.3L428.8 173.1M429.1 173.3L428.8 173.1L428.9 173.4M318.7 156.8L318 155.6M318.2 155.8L318 155.6L318.1 155.9M425.9 156.8L426.6 155.6M426.5 155.9L426.6 155.6L426.4 155.8M355.8 115.8L354.4 115.8M354.7 115.7L354.4 115.8L354.7 115.9M388.8 115.8L390.2 115.8M389.9 115.9L390.2 115.8L389.9 115.7M338.8 110.2L338.2 109.1M338.4 109.3L338.2 109.1L338.2 109.4M405.8 110.2L406.4 109.1M406.4 109.4L406.4 109.1L406.2 109.3M335.2 104.4L335.9 103.2M335.8 103.5L335.9 103.2L335.7 103.4M409.4 104.4L408.7 103.2M408.9 103.4L408.7 103.2L408.8 103.5M338.5 98.4L339.8 98.4M339.5 98.5L339.8 98.4L339.5 98.3M406.1 98.4L404.8 98.4M405.1 98.3L404.8 98.4L405.1 98.5" stroke-width=".4" stroke-opacity=".6"/><path d="M328.4 174L329.9 174M329.5 174.1L329.9 174L329.5 173.9M348.5 174L350 174M349.7 174.1L350 174L349.7 173.9M396.1 174L394.6 174M394.9 173.9L394.6 174L394.9 174.1M416.2 174L414.7 174M415.1 173.9L414.7 174L415.1 174.1M335.6 150.8L334.1 150.8M334.5 150.7L334.1 150.8L334.5 150.9M355.8 150.8L354.3 150.8M354.6 150.7L354.3 150.8L354.6 150.9M388.8 150.8L390.3 150.8M390 150.9L390.3 150.8L390 150.7M409 150.8L410.5 150.8M410.1 150.9L410.5 150.8L410.1 150.7" stroke-width=".4" stroke-opacity=".7"/><path d="M328.4 197.3L330 197.3M329.6 197.4L330 197.3L329.6 197.2M416.2 197.3L414.6 197.3M415 197.2L414.6 197.3L415 197.4M335.6 127.5L334 127.5M334.4 127.4L334 127.5L334.4 127.6M409 127.5L410.6 127.5M410.2 127.6L410.6 127.5L410.2 127.4" stroke-width=".5" stroke-opacity=".7"/><path d="M348.9 197.1L348.1 198.6M348.1 198.2L348.1 198.6L348.4 198.3M395.7 197.1L396.5 198.6M396.2 198.3L396.5 198.6L396.5 198.2M345.3 121.4L346.2 122.9M345.9 122.6L346.2 122.9L346.1 122.5M399.3 121.4L398.4 122.9M398.5 122.5L398.4 122.9L398.7 122.6" stroke-width=".5" stroke-opacity=".8"/><path d="M328.8 208.8L327.8 210.4M327.9 209.9L327.8 210.4L328.2 210M415.8 208.8L416.8 210.4M416.4 210L416.8 210.4L416.7 209.9M325.2 203.4L326.1 201.8M326 202.2L326.1 201.8L325.7 202.1M419.4 203.4L418.5 201.8M418.9 202.1L418.5 201.8L418.6 202.2M308.6 174.3L307.7 172.8M308.1 173L307.7 172.8L307.8 173.2M335.2 174.3L336.1 172.7M336 173.1L336.1 172.7L335.8 173M409.4 174.3L408.5 172.7M408.8 173L408.5 172.7L408.6 173.1M436 174.3L436.9 172.8M436.8 173.2L436.9 172.8L436.5 173M305.4 168.2L303.6 168.2M304.1 168.1L303.6 168.2L304.1 168.4M439.2 168.2L441 168.2M440.5 168.4L441 168.2L440.5 168.1M298.2 156.6L299.9 156.6M299.5 156.7L299.9 156.6L299.5 156.4M305 156.8L305.9 155.3M305.8 155.7L305.9 155.3L305.6 155.6M338.8 156.8L337.9 155.2M338.3 155.5L337.9 155.2L338 155.7M405.8 156.8L406.7 155.2M406.6 155.7L406.7 155.2L406.3 155.5M446.4 156.6L444.7 156.6M445.1 156.4L444.7 156.6L445.1 156.7M439.6 156.8L438.7 155.3M439 155.6L438.7 155.3L438.8 155.7M328.8 127.7L327.9 126.1M328.2 126.4L327.9 126.1L328 126.6M415.8 127.7L416.7 126.1M416.6 126.6L416.7 126.1L416.4 126.4M325.2 109.8L326.1 111.4M325.7 111.1L326.1 111.4L326 110.9M419.4 109.8L418.5 111.4M418.6 110.9L418.5 111.4L418.9 111.1" stroke-width=".6" stroke-opacity=".8"/><path d="M325.5 214.8L323.6 214.8M324.1 214.6L323.6 214.8L324.1 214.9M318.7 215L317.7 213.4M318.1 213.7L317.7 213.4L317.8 213.8M419.1 214.8L421 214.8M420.5 214.9L421 214.8L420.5 214.6M425.9 215L426.9 213.4M426.8 213.8L426.9 213.4L426.5 213.7M315.1 116L316 114.4M315.9 114.9L316 114.4L315.7 114.7M429.5 116L428.6 114.4M428.9 114.7L428.6 114.4L428.7 114.9M318.3 110L320.2 110M319.8 110.2L320.2 110L319.8 109.9M426.3 110L424.4 110M424.8 109.9L424.4 110L424.8 110.2" stroke-width=".6" stroke-opacity=".9"/><path d="M325.5 203.1L323.6 203.1M324 203L323.6 203.1L324 203.3M419.1 203.1L421 203.1M420.6 203.3L421 203.1L420.6 203M365.8 179.9L363.8 179.9M364.3 179.7L363.8 179.9L364.3 180M359 180.1L358 178.3M358.4 178.7L358 178.3L358.1 178.8M378.8 179.9L380.8 179.9M380.3 180L380.8 179.9L380.3 179.7M385.6 180.1L386.6 178.3M386.5 178.8L386.6 178.3L386.2 178.7M355.4 151L356.4 149.2M356.3 149.7L356.4 149.2L356 149.6M389.2 151L388.2 149.2M388.6 149.6L388.2 149.2L388.3 149.7M358.6 144.9L360.6 144.9M360.1 145.1L360.6 144.9L360.1 144.8M386 144.9L384 144.9M384.5 144.8L384 144.9L384.5 145.1M318.3 121.7L320.3 121.7M319.8 121.8L320.3 121.7L319.8 121.5M426.3 121.7L424.3 121.7M424.8 121.5L424.3 121.7L424.8 121.8" stroke-width=".7" stroke-opacity=".9"/><path d="M355.8 197.3L353.4 197.3M354 197.1L353.4 197.3L354 197.5M388.8 197.3L391.2 197.3M390.6 197.5L391.2 197.3L390.6 197.1M328.8 174.3L327.6 172.2M328.1 172.6L327.6 172.2L327.7 172.8M415.8 174.3L417 172.2M416.9 172.8L417 172.2L416.5 172.6M325.5 168.2L323.1 168.2M323.8 168L323.1 168.2L323.8 168.4M365.8 168.2L363.6 168.2M364.2 168L363.6 168.2L364.2 168.4M378.8 168.2L381 168.2M380.4 168.4L381 168.2L380.4 168M419.1 168.2L421.5 168.2M420.8 168.4L421.5 168.2L420.8 168M318.3 156.6L320.7 156.6M320.1 156.8L320.7 156.6L320.1 156.4M325.2 156.8L326.4 154.7M326.2 155.4L326.4 154.7L325.9 155.2M358.6 156.6L360.8 156.6M360.3 156.8L360.8 156.6L360.3 156.4M386 156.6L383.8 156.6M384.3 156.4L383.8 156.6L384.3 156.8M426.3 156.6L423.9 156.6M424.5 156.4L423.9 156.6L424.5 156.8M419.4 156.8L418.2 154.7M418.7 155.2L418.2 154.7L418.4 155.4M348.5 127.5L350.9 127.5M350.3 127.7L350.9 127.5L350.3 127.3M396.1 127.5L393.7 127.5M394.3 127.3L393.7 127.5L394.3 127.7" stroke-width=".8"/><path d="M338.8 203.4L337.6 201.2M338.1 201.7L337.6 201.2L337.7 201.9M405.8 203.4L407 201.2M406.9 201.9L407 201.2L406.5 201.7M305.4 179.9L302.9 179.9M303.5 179.6L302.9 179.9L303.5 180.1M298.5 180.1L297.3 177.9M297.8 178.4L297.3 177.9L297.4 178.6M305 180.1L306.2 177.9M306.1 178.6L306.2 177.9L305.7 178.4M439.2 179.9L441.7 179.9M441.1 180.1L441.7 179.9L441.1 179.6M439.6 180.1L438.4 177.9M438.9 178.4L438.4 177.9L438.5 178.6M446.1 180.1L447.3 177.9M447.2 178.6L447.3 177.9L446.8 178.4M294.9 174.3L296.2 172.1M296 172.8L296.2 172.1L295.7 172.6M449.7 174.3L448.4 172.1M448.9 172.6L448.4 172.1L448.6 172.8M298.5 156.8L297.3 154.6M297.8 155.1L297.3 154.6L297.4 155.3M446.1 156.8L447.3 154.6M447.2 155.3L447.3 154.6L446.8 155.1M294.9 151L296.2 148.8M296 149.5L296.2 148.8L295.7 149.3M308.6 151L307.4 148.8M307.9 149.3L307.4 148.8L307.5 149.5M436 151L437.2 148.8M437.1 149.5L437.2 148.8L436.7 149.3M449.7 151L448.4 148.8M448.9 149.3L448.4 148.8L448.6 149.5M298.2 144.9L300.7 144.9M300 145.2L300.7 144.9L300 144.7M446.4 144.9L443.9 144.9M444.6 144.7L443.9 144.9L444.6 145.2M335.2 127.7L336.5 125.5M336.3 126.2L336.5 125.5L336 126M409.4 127.7L408.1 125.5M408.6 126L408.1 125.5L408.3 126.2" stroke-width=".9"/><path d="M315.5 209L312.8 209M313.5 208.7L312.8 209L313.5 209.2M308.6 209.2L307.3 206.9M307.8 207.4L307.3 206.9L307.4 207.6M429.1 209L431.8 209M431.1 209.2L431.8 209L431.1 208.7M436 209.2L437.3 206.9M437.2 207.6L437.3 206.9L436.8 207.4M305 203.4L306.3 201M306.2 201.8L306.3 201L305.8 201.6M439.6 203.4L438.3 201M438.8 201.6L438.3 201L438.4 201.8M308.2 197.3L311 197.3M310.2 197.6L311 197.3L310.2 197.1M436.4 197.3L433.6 197.3M434.4 197.1L433.6 197.3L434.4 197.6M345.7 168.2L342.9 168.2M343.7 168L342.9 168.2L343.7 168.5M379.1 168.4L377.8 166.2M378.4 166.6L377.8 166.2L378 166.9M365.5 168.4L366.8 166.2M366.6 166.9L366.8 166.2L366.2 166.6M398.9 168.2L401.7 168.2M400.9 168.5L401.7 168.2L400.9 168M375.5 162.6L376.9 160.3M376.7 161.1L376.9 160.3L376.3 160.8M369.1 162.6L367.7 160.3M368.3 160.8L367.7 160.3L367.9 161.1M338.5 156.6L341.2 156.6M340.5 156.8L341.2 156.6L340.5 156.3M406.1 156.6L403.4 156.6M404.1 156.3L403.4 156.6L404.1 156.8M315.5 127.5L312.7 127.5M313.5 127.2L312.7 127.5L313.5 127.7M308.6 127.7L307.3 125.4M307.8 125.9L307.3 125.4L307.4 126.1M429.1 127.5L431.9 127.5M431.1 127.7L431.9 127.5L431.1 127.2M436 127.7L437.3 125.4M437.2 126.1L437.3 125.4L436.8 125.9M305 121.9L306.3 119.6M306.2 120.3L306.3 119.6L305.8 120.1M439.6 121.9L438.3 119.6M438.8 120.1L438.3 119.6L438.4 120.3M308.2 115.8L310.9 115.8M310.2 116.1L310.9 115.8L310.2 115.6M436.4 115.8L433.7 115.8M434.4 115.6L433.7 115.8L434.4 116.1" stroke-width="1"/><path d="M355.4 174.3L356.9 171.6M356.7 172.5L356.9 171.6L356.2 172.2M389.2 174.3L387.7 171.6M388.4 172.2L387.7 171.6L387.9 172.5M359 156.8L357.5 154.2M358.1 154.7L357.5 154.2L357.6 155M385.6 156.8L387.1 154.2M387 155L387.1 154.2L386.5 154.7" stroke-width="1.1"/><path d="M328.8 209.2L327.1 206.3M327.8 207L327.1 206.3L327.3 207.3M415.8 209.2L417.5 206.3M417.3 207.3L417.5 206.3L416.8 207M348.9 174.3L347.3 171.5M348 172.1L347.3 171.5L347.5 172.4M395.7 174.3L397.3 171.5M397.1 172.4L397.3 171.5L396.6 172.1M318.7 168.4L317.1 165.6M317.8 166.3L317.1 165.6L317.3 166.6M425.9 168.4L427.5 165.6M427.3 166.6L427.5 165.6L426.8 166.3M315.1 162.6L316.7 159.8M316.5 160.7L316.7 159.8L316 160.4M429.5 162.6L427.9 159.8M428.6 160.4L427.9 159.8L428.1 160.7M345.3 156.8L346.9 154M346.7 154.9L346.9 154L346.2 154.6M399.3 156.8L397.7 154M398.4 154.6L397.7 154L397.9 154.9M325.2 121.9L326.8 119M326.6 120L326.8 119L326.1 119.7M419.4 121.9L417.8 119M418.5 119.7L417.8 119L418 120" stroke-width="1.2"/><path d="M315.1 197.5L316.8 194.6M316.6 195.6L316.8 194.6L316 195.2M429.5 197.5L427.8 194.6M428.6 195.2L427.8 194.6L428 195.6M325.2 180.1L326.8 177.2M326.6 178.1L326.8 177.2L326.1 177.8M419.4 180.1L417.8 177.2M418.5 177.8L417.8 177.2L418 178.1M328.8 151L327.1 148.1M327.8 148.7L327.1 148.1L327.3 149M415.8 151L417.5 148.1M417.3 149L417.5 148.1L416.8 148.7M318.7 133.5L317 130.5M317.7 131.2L317 130.5L317.2 131.5M425.9 133.5L427.6 130.5M427.4 131.5L427.6 130.5L426.9 131.2" stroke-width="1.3"/><path d="M335.2 197.5L337 194.4M336.8 195.5L337 194.4L336.2 195.2M409.4 197.5L407.6 194.4M408.4 195.2L407.6 194.4L407.8 195.5M298.5 168.4L296.7 165.2M297.5 165.9L296.7 165.2L296.9 166.3M446.1 168.4L447.9 165.2M447.7 166.3L447.9 165.2L447.1 165.9M294.9 162.6L296.8 159.4M296.6 160.5L296.8 159.4L296 160.1M449.7 162.6L447.8 159.4M448.6 160.1L447.8 159.4L448 160.5M338.8 133.5L337.1 130.4M337.9 131.1L337.1 130.4L337.3 131.5M405.8 133.5L407.5 130.4M407.3 131.5L407.5 130.4L406.7 131.1" stroke-width="1.4"/><path d="M338.8 202.9L336.9 206.3M337.1 205.2L336.9 206.3L337.8 205.5M405.8 202.9L407.7 206.3M406.8 205.5L407.7 206.3L407.5 205.2M328.8 185.9L326.8 182.5M327.7 183.3L326.8 182.5L327 183.7M415.8 185.9L417.8 182.5M417.6 183.7L417.8 182.5L416.9 183.3M325.2 145.2L327.1 141.7M326.9 142.9L327.1 141.7L326.2 142.5M419.4 145.2L417.5 141.7M418.4 142.5L417.5 141.7L417.7 142.9M335.2 115.6L337.2 119M336.3 118.2L337.2 119L337 117.8M409.4 115.6L407.4 119M407.6 117.8L407.4 119L408.3 118.2" stroke-width="1.5"/><path d="M318.7 191.7L316.7 188.2M317.6 189L316.7 188.2L316.9 189.4M338.8 191.7L336.8 188.2M337.7 189L336.8 188.2L337.1 189.4M405.8 191.7L407.8 188.2M407.5 189.4L407.8 188.2L406.9 189M425.9 191.7L427.9 188.2M427.7 189.4L427.9 188.2L427 189M338.8 168.4L336.8 164.9M337.7 165.7L336.8 164.9L337.1 166.1M405.8 168.4L407.8 164.9M407.5 166.1L407.8 164.9L406.9 165.7M335.2 162.6L337.3 159.1M337 160.3L337.3 159.1L336.3 159.9M409.4 162.6L407.3 159.1M408.3 159.9L407.3 159.1L407.6 160.3M315.1 139.3L317.1 135.8M316.9 137L317.1 135.8L316.2 136.6M335.2 139.3L337.3 135.8M337 137L337.3 135.8L336.3 136.7M409.4 139.3L407.3 135.8M408.3 136.7L407.3 135.8L407.6 137M429.5 139.3L427.5 135.8M428.4 136.6L427.5 135.8L427.7 137" stroke-width="1.6"/><path d="M335.6 185.7L331.2 185.7M332.5 185.3L331.2 185.7L332.5 186.1M409 185.7L413.4 185.7M412.1 186.1L413.4 185.7L412.1 185.3M345.3 180.1L347.4 176.4M347.1 177.7L347.4 176.4L346.4 177.3M379.1 180.1L377 176.3M378 177.2L377 176.3L377.2 177.6M365.5 180.1L367.6 176.3M367.4 177.6L367.6 176.3L366.6 177.2M399.3 180.1L397.2 176.4M398.2 177.3L397.2 176.4L397.5 177.7M375.5 174.3L377.7 170.5M377.4 171.8L377.7 170.5L376.7 171.4M369.1 174.3L366.9 170.5M367.9 171.4L366.9 170.5L367.2 171.8M379.1 156.8L377 153M378 153.9L377 153L377.2 154.3M365.5 156.8L367.6 153M367.4 154.3L367.6 153L366.6 153.9M348.9 151L346.8 147.3M347.8 148.2L346.8 147.3L347.1 148.6M375.5 151L377.7 147.2M377.4 148.5L377.7 147.2L376.7 148.1M369.1 151L366.9 147.2M367.9 148.1L366.9 147.2L367.2 148.5M395.7 151L397.8 147.3M397.5 148.6L397.8 147.3L396.8 148.2M328.4 139.1L332.8 139.1M331.5 139.5L332.8 139.1L331.5 138.7M416.2 139.1L411.8 139.1M413.1 138.7L411.8 139.1L413.1 139.5" stroke-width="1.7"/><path d="M315.5 185.7L310.9 185.7M312.3 185.2L310.9 185.7L312.3 186.1M308.6 185.9L306.4 182M307.4 183L306.4 182L306.7 183.4M429.1 185.7L433.7 185.7M432.3 186.1L433.7 185.7L432.3 185.2M436 185.9L438.2 182M437.9 183.4L438.2 182L437.2 183M305 145.2L307.2 141.3M307 142.6L307.2 141.3L306.2 142.2M439.6 145.2L437.4 141.3M438.4 142.2L437.4 141.3L437.6 142.6M308.2 139.1L312.8 139.1M311.4 139.6L312.8 139.1L311.4 138.7M436.4 139.1L431.8 139.1M433.2 138.7L431.8 139.1L433.2 139.6" stroke-width="1.8"/><path d="M335.6 209L331 209M332.3 208.5L331 209L332.3 209.4M348.9 209.2L346.6 205.1M347.7 206.1L346.6 205.1L346.9 206.6M395.7 209.2L398 205.1M397.7 206.6L398 205.1L396.9 206.1M409 209L413.6 209M412.3 209.4L413.6 209L412.3 208.5M359 191.7L356.6 187.6M357.7 188.6L356.6 187.6L356.9 189.1M385.6 191.7L388 187.6M387.7 189.1L388 187.6L386.9 188.6M355.8 185.7L351.1 185.7M352.5 185.2L351.1 185.7L352.5 186.1M348.9 185.9L346.5 181.7M347.6 182.7L346.5 181.7L346.8 183.2M388.8 185.7L393.5 185.7M392.1 186.1L393.5 185.7L392.1 185.2M395.7 185.9L398.1 181.7M397.8 183.2L398.1 181.7L397 182.7M359 168.4L356.6 164.3M357.7 165.3L356.6 164.3L356.9 165.8M385.6 168.4L388 164.3M387.7 165.8L388 164.3L386.9 165.3M355.4 162.6L357.8 158.5M357.5 160L357.8 158.5L356.7 159.5M389.2 162.6L386.8 158.5M387.9 159.5L386.8 158.5L387.1 160M345.3 145.2L347.7 141M347.4 142.4L347.7 141L346.6 142M399.3 145.2L396.9 141M398 142L396.9 141L397.2 142.4M348.5 139.1L353.2 139.1M351.8 139.6L353.2 139.1L351.8 138.7M355.4 139.3L357.7 135.2M357.4 136.7L357.7 135.2L356.6 136.2M396.1 139.1L391.4 139.1M392.8 138.7L391.4 139.1L392.8 139.6M389.2 139.3L386.9 135.2M388 136.2L386.9 135.2L387.2 136.7M345.3 121.9L347.6 117.8M347.4 119.2L347.6 117.8L346.6 118.8M399.3 121.9L397 117.8M398 118.8L397 117.8L397.2 119.2M328.4 115.8L333 115.8M331.7 116.3L333 115.8L331.7 115.4M416.2 115.8L411.6 115.8M412.9 115.4L411.6 115.8L412.9 116.3" stroke-width="1.9"/><path d="M348.9 302.3L346.4 297.9M347.6 299L346.4 297.9L346.7 299.5M395.7 302.3L398.2 297.9M397.9 299.5L398.2 297.9L397 299M345.3 296.5L347.8 292.1M347.5 293.7L347.8 292.1L346.7 293.2M399.3 296.5L396.8 292.1M397.9 293.2L396.8 292.1L397.1 293.7M348.9 34.6L346.4 30.2M347.6 31.2L346.4 30.2L346.7 31.7M395.7 34.6L398.2 30.2M397.9 31.7L398.2 30.2L397 31.2M345.3 28.7L347.8 24.4M347.5 25.9L347.8 24.4L346.7 25.4M399.3 28.7L396.8 24.4M397.9 25.4L396.8 24.4L397.1 25.9M348.9 314L346.4 309.6M347.6 310.6L346.4 309.6L346.7 311.1M395.7 314L398.2 309.6M397.9 311.1L398.2 309.6L397 310.6M345.3 308.1L347.8 303.8M347.5 305.3L347.8 303.8L346.7 304.8M399.3 308.1L396.8 303.8M397.9 304.8L396.8 303.8L397.1 305.3M348.9 22.9L346.4 18.5M347.6 19.6L346.4 18.5L346.7 20.1M395.7 22.9L398.2 18.5M397.9 20.1L398.2 18.5L397 19.6M345.3 17.1L347.8 12.7M347.5 14.3L347.8 12.7L346.7 13.8M399.3 17.1L396.8 12.7M397.9 13.8L396.8 12.7L397.1 14.3" stroke-width="2"/><path d="M348.9 290.7L346.3 286.2M347.5 287.3L346.3 286.2L346.6 287.8M395.7 290.7L398.3 286.2M398 287.8L398.3 286.2L397.1 287.3M345.3 284.9L347.9 280.3M347.6 281.9L347.9 280.3L346.7 281.4M399.3 284.9L396.7 280.3M397.9 281.4L396.7 280.3L397 281.9M355.4 244.1L358 239.6M357.7 241.2L358 239.6L356.8 240.7M389.2 244.1L386.6 239.6M387.8 240.7L386.6 239.6L386.9 241.2M379.1 203.4L376.5 198.9M377.8 199.9L376.5 198.9L376.9 200.5M365.5 203.4L368.1 198.9M367.7 200.5L368.1 198.9L366.8 199.9M375.5 197.5L378.1 193M377.8 194.6L378.1 193L376.9 194.1M369.1 197.5L366.5 193M367.7 194.1L366.5 193L366.8 194.6M379.1 133.5L376.5 129M377.8 130.1L376.5 129L376.9 130.6M365.5 133.5L368.1 129M367.7 130.6L368.1 129L366.8 130.1M375.5 127.7L378.1 123.2M377.8 124.8L378.1 123.2L376.9 124.3M369.1 127.7L366.5 123.2M367.7 124.3L366.5 123.2L366.8 124.8M359 86.9L356.4 82.4M357.6 83.5L356.4 82.4L356.7 84M385.6 86.9L388.2 82.4M387.9 84L388.2 82.4L387 83.5M348.9 46.2L346.3 41.7M347.5 42.8L346.3 41.7L346.6 43.3M395.7 46.2L398.3 41.7M398 43.3L398.3 41.7L397.1 42.8M345.3 40.4L347.9 35.9M347.6 37.5L347.9 35.9L346.7 37M399.3 40.4L396.7 35.9M397.9 37L396.7 35.9L397 37.5" stroke-width="2.1"/><path d="M348.9 279L346.2 274.3M347.5 275.4L346.2 274.3L346.5 276M395.7 279L398.4 274.3M398.1 276L398.4 274.3L397.1 275.4M345.3 273.2L348.1 268.4M347.7 270.1L348.1 268.4L346.8 269.6M399.3 273.2L396.5 268.4M397.8 269.6L396.5 268.4L396.9 270.1M355.4 255.8L358.1 251.1M357.7 252.7L358.1 251.1L356.8 252.2M389.2 255.8L386.5 251.1M387.8 252.2L386.5 251.1L386.9 252.7M359 249.9L356.2 245.2M357.5 246.3L356.2 245.2L356.6 246.9M385.6 249.9L388.4 245.2M388 246.9L388.4 245.2L387.1 246.3M359 238.3L356.3 233.6M357.6 234.8L356.3 233.6L356.7 235.3M385.6 238.3L388.3 233.6M387.9 235.3L388.3 233.6L387 234.8M348.9 220.8L346.2 216.1M347.5 217.3L346.2 216.1L346.6 217.8M395.7 220.8L398.4 216.1M398 217.8L398.4 216.1L397.1 217.3M345.3 215L348.1 210.2M347.7 211.9L348.1 210.2L346.8 211.4M399.3 215L396.5 210.2M397.8 211.4L396.5 210.2L396.9 211.9M355.4 197.5L358 192.9M357.7 194.6L358 192.9L356.8 194M389.2 197.5L386.6 192.9M387.8 194L386.6 192.9L386.9 194.6M359 133.5L356.3 128.9M357.6 130L356.3 128.9L356.7 130.5M385.6 133.5L388.3 128.9M387.9 130.5L388.3 128.9L387 130M348.9 116L346.2 111.3M347.5 112.4L346.2 111.3L346.5 113M395.7 116L398.4 111.3M398.1 113L398.4 111.3L397.1 112.4M345.3 110.2L348 105.5M347.7 107.2L348 105.5L346.7 106.7M399.3 110.2L396.6 105.5M397.9 106.7L396.6 105.5L396.9 107.2M355.4 92.8L358.1 88.1M357.7 89.8L358.1 88.1L356.8 89.3M389.2 92.8L386.5 88.1M387.8 89.3L386.5 88.1L386.9 89.8M355.4 81.1L358.1 76.4M357.8 78.1L358.1 76.4L356.8 77.5M389.2 81.1L386.5 76.4M387.8 77.5L386.5 76.4L386.8 78.1M359 75.3L356.3 70.6M357.6 71.7L356.3 70.6L356.6 72.3M385.6 75.3L388.3 70.6M388 72.3L388.3 70.6L387 71.7M348.9 57.8L346.2 53.1M347.5 54.2L346.2 53.1L346.5 54.8M395.7 57.8L398.4 53.1M398.1 54.8L398.4 53.1L397.1 54.2M345.3 52L348.1 47.3M347.7 49L348.1 47.3L346.8 48.4M399.3 52L396.5 47.3M397.8 48.4L396.5 47.3L396.9 49" stroke-width="2.2"/><path d="M379.1 238.3L376.3 233.3M377.6 234.5L376.3 233.3L376.6 235.1M365.5 238.3L368.3 233.3M368 235.1L368.3 233.3L367 234.5M355.4 232.5L358.2 227.5M357.9 229.3L358.2 227.5L356.9 228.7M375.5 232.5L378.4 227.5M378 229.3L378.4 227.5L377 228.7M369.1 232.5L366.2 227.5M367.6 228.7L366.2 227.5L366.6 229.3M389.2 232.5L386.4 227.5M387.7 228.7L386.4 227.5L386.7 229.3M345.3 226.6L348.1 221.8M347.7 223.5L348.1 221.8L346.8 223M379.1 226.6L376.3 221.8M377.7 222.9L376.3 221.8L376.7 223.5M365.5 226.6L368.3 221.8M367.9 223.5L368.3 221.8L366.9 222.9M399.3 226.6L396.5 221.8M397.8 223L396.5 221.8L396.9 223.5M375.5 220.8L378.4 215.9M378 217.7L378.4 215.9L377 217.1M369.1 220.8L366.2 215.9M367.6 217.1L366.2 215.9L366.6 217.7M379.1 215L376.3 210.2M377.7 211.3L376.3 210.2L376.7 211.9M365.5 215L368.3 210.2M367.9 211.9L368.3 210.2L366.9 211.3M375.5 209.2L378.3 204.3M378 206.1L378.3 204.3L377 205.5M369.1 209.2L366.3 204.3M367.6 205.5L366.3 204.3L366.6 206.1M379.1 121.9L376.3 117M377.7 118.2L376.3 117L376.7 118.8M365.5 121.9L368.3 117M367.9 118.8L368.3 117L366.9 118.2M375.5 116L378.3 111.2M378 112.9L378.3 111.2L377 112.4M369.1 116L366.3 111.2M367.6 112.4L366.3 111.2L366.6 112.9M379.1 110.2L376.3 105.3M377.7 106.5L376.3 105.3L376.7 107.1M365.5 110.2L368.3 105.3M367.9 107.1L368.3 105.3L366.9 106.5M348.9 104.4L346.1 99.6M347.4 100.8L346.1 99.6L346.5 101.3M375.5 104.4L378.4 99.5M378 101.3L378.4 99.5L377 100.7M369.1 104.4L366.2 99.5M367.6 100.7L366.2 99.5L366.6 101.3M395.7 104.4L398.5 99.6M398.1 101.3L398.5 99.6L397.2 100.8M359 98.6L356.1 93.6M357.5 94.8L356.1 93.6L356.5 95.4M379.1 98.6L376.3 93.6M377.6 94.8L376.3 93.6L376.6 95.4M365.5 98.6L368.3 93.6M368 95.4L368.3 93.6L367 94.8M385.6 98.6L388.5 93.6M388.1 95.4L388.5 93.6L387.1 94.8M375.5 92.8L378.4 87.8M378 89.6L378.4 87.8L377 89M369.1 92.8L366.2 87.8M367.6 89L366.2 87.8L366.6 89.6" stroke-width="2.3"/><path d="M355.4 267.4L358.3 262.3M357.9 264.1L358.3 262.3L356.9 263.5M348.9 267.3L346 262.3M347 263.3L346 262.3L346.4 263.7M395.7 267.3L398.6 262.3M398.2 263.7L398.6 262.3L397.6 263.3M389.2 267.4L386.3 262.3M387.7 263.5L386.3 262.3L386.7 264.1M358.9 261.5L356.1 256.5M357 257.5L356.1 256.5L356.5 257.9M345.4 261.5L348.2 256.5M347.9 257.8L348.2 256.5L347.3 257.5M379.1 261.5L376.2 256.5M377.2 257.5L376.2 256.5L376.6 257.9M365.5 261.5L368.4 256.5M368 257.9L368.4 256.5L367.4 257.5M399.2 261.5L396.4 256.5M397.3 257.5L396.4 256.5L396.7 257.8M385.7 261.5L388.5 256.5M388.1 257.9L388.5 256.5L387.6 257.5M375.6 255.7L378.5 250.7M378.1 252L378.5 250.7L377.5 251.7M369 255.7L366.1 250.7M367.1 251.7L366.1 250.7L366.5 252M379.1 249.8L376.3 244.9M377.2 245.9L376.3 244.9L376.6 246.3M365.5 249.8L368.3 244.9M368 246.3L368.3 244.9L367.4 245.9M375.6 244L378.4 239.1M378 240.4L378.4 239.1L377.5 240.1M369 244L366.2 239.1M367.1 240.1L366.2 239.1L366.6 240.4M359 226.6L356.1 221.6M357.5 222.8L356.1 221.6L356.5 223.4M385.6 226.6L388.5 221.6M388.1 223.4L388.5 221.6L387.1 222.8M355.4 220.7L358.3 215.8M357.9 217.1L358.3 215.8L357.3 216.8M389.2 220.7L386.3 215.8M387.3 216.8L386.3 215.8L386.7 217.1M345.6 203.1L339.9 203.1M341.2 202.8L339.9 203.1L341.2 203.5M399 203.1L404.7 203.1M403.4 203.5L404.7 203.1L403.4 202.8M379.1 191.7L376.2 186.7M377.6 187.9L376.2 186.7L376.6 188.5M365.5 191.7L368.4 186.7M368 188.5L368.4 186.7L367 187.9M375.5 185.9L378.4 180.9M378.1 182.7L378.4 180.9L377.1 182.1M369.1 185.9L366.2 180.9M367.5 182.1L366.2 180.9L366.5 182.7M379.1 145.2L376.2 140.1M377.6 141.3L376.2 140.1L376.6 141.9M365.5 145.2L368.4 140.1M368 141.9L368.4 140.1L367 141.3M375.5 139.3L378.4 134.3M378.1 136.1L378.4 134.3L377.1 135.5M369.1 139.3L366.2 134.3M367.5 135.5L366.2 134.3L366.5 136.1M338.6 121.7L344.3 121.7M342.9 122L344.3 121.7L342.9 121.3M406 121.7L400.3 121.7M401.7 121.3L400.3 121.7L401.7 122M358.9 110.1L356.1 105.2M357 106.2L356.1 105.2L356.5 106.5M385.7 110.1L388.5 105.2M388.1 106.5L388.5 105.2L387.6 106.2M355.4 104.4L358.3 99.4M357.9 101.2L358.3 99.4L356.9 100.6M389.2 104.4L386.3 99.4M387.7 100.6L386.3 99.4L386.7 101.2M379.1 86.9L376.3 81.9M377.2 82.9L376.3 81.9L376.6 83.3M365.5 86.9L368.3 81.9M368 83.3L368.3 81.9L367.4 82.9M375.6 81L378.4 76.1M378 77.5L378.4 76.1L377.5 77.1M369 81L366.2 76.1M367.1 77.1L366.2 76.1L366.6 77.5M379.1 75.2L376.2 70.2M377.2 71.2L376.2 70.2L376.6 71.6M365.5 75.2L368.4 70.2M368 71.6L368.4 70.2L367.4 71.2M355.4 69.4L358.3 64.4M357.9 65.8L358.3 64.4L357.3 65.4M348.9 69.4L346 64.4M347 65.4L346 64.4L346.4 65.8M375.6 69.4L378.5 64.4M378.1 65.8L378.5 64.4L377.5 65.4M369 69.4L366.1 64.4M367.1 65.4L366.1 64.4L366.5 65.8M395.7 69.4L398.6 64.4M398.2 65.8L398.6 64.4L397.6 65.4M389.2 69.4L386.3 64.4M387.3 65.4L386.3 64.4L386.7 65.8M359 63.7L356.1 58.6M357.5 59.8L356.1 58.6L356.4 60.4M345.4 63.6L348.2 58.6M347.9 59.9L348.2 58.6L347.3 59.6M399.2 63.6L396.4 58.6M397.3 59.6L396.4 58.6L396.7 59.9M385.6 63.7L388.5 58.6M388.2 60.4L388.5 58.6L387.1 59.8" stroke-width="2.4"/><path d="M379.1 284.8L376.1 279.6M377.1 280.7L376.1 279.6L376.5 281M365.5 284.8L368.5 279.6M368.1 281L368.5 279.6L367.5 280.7M375.6 278.9L378.6 273.8M378.2 275.2L378.6 273.8L377.5 274.8M369 278.9L366 273.8M367.1 274.8L366 273.8L366.4 275.2M379.1 273.1L376.2 268.1M377.2 269.1L376.2 268.1L376.6 269.4M365.5 273.1L368.4 268.1M368 269.4L368.4 268.1L367.4 269.1M375.6 267.3L378.5 262.3M378.1 263.6L378.5 262.3L377.5 263.3M369 267.3L366.1 262.3M367.1 263.3L366.1 262.3L366.5 263.6M358.9 214.9L356 209.9M357 210.9L356 209.9L356.4 211.2M385.7 214.9L388.6 209.9M388.2 211.2L388.6 209.9L387.6 210.9M355.4 116L358.3 110.9M357.9 112.3L358.3 110.9L357.4 111.9M389.2 116L386.3 110.9M387.2 111.9L386.3 110.9L386.7 112.3M379.1 63.6L376.2 58.5M377.2 59.6L376.2 58.5L376.6 59.9M365.5 63.6L368.4 58.5M368 59.9L368.4 58.5L367.4 59.6M375.6 57.8L378.5 52.7M378.1 54.1L378.5 52.7L377.5 53.7M369 57.8L366.1 52.7M367.1 53.7L366.1 52.7L366.5 54.1M379.1 51.9L376.1 46.8M377.1 47.8L376.1 46.8L376.5 48.2M365.5 51.9L368.5 46.8M368.1 48.2L368.5 46.8L367.5 47.8M375.6 46.1L378.6 41M378.2 42.4L378.6 41L377.5 42M369 46.1L366 41M367.1 42L366 41L366.4 42.4" stroke-width="2.5"/><path d="M355.4 302.2L358.5 296.9M358.1 298.3L358.5 296.9L357.5 298M389.2 302.2L386.1 296.9M387.1 298L386.1 296.9L386.5 298.3M379.1 296.4L376 291.1M377.1 292.2L376 291.1L376.5 292.6M365.5 296.4L368.6 291.1M368.1 292.6L368.6 291.1L367.5 292.2M355.4 290.6L358.5 285.3M358.1 286.7L358.5 285.3L357.5 286.3M375.6 290.6L378.6 285.3M378.2 286.7L378.6 285.3L377.6 286.4M369 290.6L366 285.3M367 286.4L366 285.3L366.4 286.7M389.2 290.6L386.1 285.3M387.1 286.3L386.1 285.3L386.5 286.7M355.4 278.9L358.4 273.7M358 275.2L358.4 273.7L357.4 274.8M389.2 278.9L386.2 273.7M387.2 274.8L386.2 273.7L386.6 275.2M358.9 273.1L355.9 267.8M356.9 268.9L355.9 267.8L356.3 269.3M385.7 273.1L388.7 267.8M388.3 269.3L388.7 267.8L387.7 268.9M348.9 232.4L345.8 227M346.8 228.1L345.8 227L346.2 228.5M395.7 232.4L398.8 227M398.4 228.5L398.8 227L397.8 228.1M345.4 98.5L348.5 93.1M348 94.6L348.5 93.1L347.4 94.2M399.2 98.5L396.1 93.1M397.2 94.2L396.1 93.1L396.6 94.6M355.4 57.8L358.5 52.4M358.1 53.9L358.5 52.4L357.5 53.5M389.2 57.8L386.1 52.4M387.1 53.5L386.1 52.4L386.5 53.9M358.9 51.9L355.9 46.7M357 47.8L355.9 46.7L356.3 48.1M385.7 51.9L388.7 46.7M388.3 48.1L388.7 46.7L387.6 47.8M358.9 40.3L355.9 35M356.9 36L355.9 35L356.3 36.4M379.1 40.3L376 35M377.1 36.1L376 35L376.5 36.4M365.5 40.3L368.6 35M368.1 36.4L368.6 35L367.5 36.1M385.7 40.3L388.7 35M388.3 36.4L388.7 35L387.7 36M375.6 34.5L378.6 29.2M378.2 30.6L378.6 29.2L377.6 30.3M369 34.5L366 29.2M367 30.3L366 29.2L366.4 30.6M358.9 28.7L355.9 23.3M356.9 24.4L355.9 23.3L356.3 24.8M385.7 28.7L388.7 23.3M388.3 24.8L388.7 23.3L387.7 24.4M355.4 313.9L358.5 308.5M358.1 310L358.5 308.5L357.5 309.6M389.2 313.9L386.1 308.5M387.1 309.6L386.1 308.5L386.5 310M379.1 308.1L376 302.8M377.1 303.8L376 302.8L376.5 304.2M365.5 308.1L368.6 302.8M368.1 304.2L368.6 302.8L367.5 303.8M375.6 22.8L378.6 17.5M378.2 19L378.6 17.5L377.6 18.6M369 22.8L366 17.5M367 18.6L366 17.5L366.4 19M358.9 17L355.9 11.7M356.9 12.8L355.9 11.7L356.3 13.1M385.7 17L388.7 11.7M388.3 13.1L388.7 11.7L387.7 12.8" stroke-width="2.6"/><path d="M375.6 302.2L378.7 296.8M378.3 298.3L378.7 296.8L377.6 297.9M369 302.2L365.9 296.8M367 297.9L365.9 296.8L366.3 298.3M358.9 296.4L355.8 290.9M356.9 292.1L355.8 290.9L356.2 292.4M385.7 296.4L388.8 290.9M388.4 292.4L388.8 290.9L387.7 292.1M358.9 284.8L355.8 279.3M356.9 280.4L355.8 279.3L356.2 280.8M385.7 284.8L388.8 279.3M388.4 280.8L388.8 279.3L387.7 280.4M348.9 255.7L345.7 250.2M346.8 251.3L345.7 250.2L346.1 251.7M395.7 255.7L398.9 250.2M398.5 251.7L398.9 250.2L397.8 251.3M345.4 249.8L348.5 244.4M348.1 245.9L348.5 244.4L347.4 245.5M399.2 249.8L396.1 244.4M397.2 245.5L396.1 244.4L396.5 245.9M348.9 81L345.7 75.6M346.8 76.7L345.7 75.6L346.1 77.1M395.7 81L398.9 75.6M398.5 77.1L398.9 75.6L397.8 76.7M345.4 75.2L348.5 69.8M348.1 71.2L348.5 69.8L347.4 70.9M399.2 75.2L396.1 69.8M397.2 70.9L396.1 69.8L396.5 71.2M355.4 46.1L358.6 40.6M358.2 42.1L358.6 40.6L357.5 41.8M389.2 46.1L386 40.6M387.1 41.8L386 40.6L386.4 42.1M355.4 34.5L358.6 29M358.2 30.5L358.6 29L357.5 30.1M389.2 34.5L386 29M387.1 30.1L386 29L386.4 30.5M379.1 28.7L376 23.2M377 24.3L376 23.2L376.4 24.7M365.5 28.7L368.6 23.2M368.2 24.7L368.6 23.2L367.6 24.3M375.6 313.9L378.7 308.4M378.3 309.9L378.7 308.4L377.6 309.6M369 313.9L365.9 308.4M367 309.6L365.9 308.4L366.3 309.9M358.9 308.1L355.8 302.6M356.9 303.7L355.8 302.6L356.2 304.1M385.7 308.1L388.8 302.6M388.4 304.1L388.8 302.6L387.7 303.7M355.4 22.8L358.6 17.4M358.2 18.9L358.6 17.4L357.5 18.5M389.2 22.8L386 17.4M387.1 18.5L386 17.4L386.4 18.9M379.1 17L376 11.6M377 12.7L376 11.6L376.4 13.1M365.5 17L368.6 11.6M368.2 13.1L368.6 11.6L367.6 12.7" stroke-width="2.7"/><path d="M348.9 244L345.6 238.3M346.7 239.5L345.6 238.3L346 239.9M395.7 244L399 238.3M398.6 239.9L399 238.3L397.9 239.5M345.4 238.2L348.6 232.5M348.2 234.1L348.6 232.5L347.5 233.7M399.2 238.2L396 232.5M397.1 233.7L396 232.5L396.4 234.1M355.4 209.1L358.7 203.4M358.3 204.9L358.7 203.4L357.6 204.5M389.2 209.1L385.9 203.4M387 204.5L385.9 203.4L386.3 204.9M358.9 121.8L355.6 116M356.8 117.2L355.6 116L356.1 117.6M385.7 121.8L389 116M388.5 117.6L389 116L387.8 117.2M348.9 92.7L345.6 87M346.7 88.1L345.6 87L346 88.5M395.7 92.7L399 87M398.6 88.5L399 87L397.9 88.1M345.4 86.9L348.6 81.2M348.2 82.7L348.6 81.2L347.5 82.3M399.2 86.9L396 81.2M397.1 82.3L396 81.2L396.4 82.7" stroke-width="2.8"/><path d="M358.9 203.3L355.5 197.4M356.7 198.6L355.5 197.4L356 199M385.7 203.3L389.1 197.4M388.6 199L389.1 197.4L387.9 198.6M355.4 127.6L358.8 121.7M358.4 123.3L358.8 121.7L357.7 122.9M389.2 127.6L385.8 121.7M386.9 122.9L385.8 121.7L386.2 123.3" stroke-width="3"/></g>
</g>
<rect x="230.4" y="20.7" width="283.80000000000007" height="284.0" fill="none" stroke="#4d4d4d" stroke-width="0.6"/>
<path d="M277.7 304.7v-2.8M277.7 20.7v2.8M230.4 257.37h2.8M514.2 257.37h-2.8M325 304.7v-2.8M325 20.7v2.8M230.4 210.03h2.8M514.2 210.03h-2.8M372.3 304.7v-2.8M372.3 20.7v2.8M230.4 162.7h2.8M514.2 162.7h-2.8M419.6 304.7v-2.8M419.6 20.7v2.8M230.4 115.37h2.8M514.2 115.37h-2.8M466.9 304.7v-2.8M466.9 20.7v2.8M230.4 68.03h2.8M514.2 68.03h-2.8" stroke="#4d4d4d" stroke-width="0.6" fill="none"/>
<text x="226.9" y="308.2" font-size="10.7" text-anchor="end" fill="#262626">-30</text>
<text x="226.9" y="260.87" font-size="10.7" text-anchor="end" fill="#262626">-20</text>
<text x="226.9" y="213.53" font-size="10.7" text-anchor="end" fill="#262626">-10</text>
<text x="226.9" y="166.2" font-size="10.7" text-anchor="end" fill="#262626">0</text>
<text x="226.9" y="118.87" font-size="10.7" text-anchor="end" fill="#262626">10</text>
<text x="226.9" y="71.53" font-size="10.7" text-anchor="end" fill="#262626">20</text>
<text x="226.9" y="24.2" font-size="10.7" text-anchor="end" fill="#262626">30</text>
<text transform="translate(207 162.7) rotate(-90)" font-size="12" text-anchor="middle" fill="#262626">Y (Å)</text>
<text x="462" y="32.5" font-size="13.5" fill="#000">R<tspan font-size="10" dy="2.8">o</tspan><tspan dy="-2.8">=17 Å</tspan></text>
<text x="235.5" y="294" font-size="8.75" fill="#000">net current<tspan font-size="6.6" dy="3.3">max</tspan><tspan dy="-3.3">=4e-04(4e/h)</tspan></text>
<rect x="526.5" y="20.7" width="14.799999999999955" height="284.0" fill="url(#pg)" stroke="#4d4d4d" stroke-width="0.3"/>
<text x="544.3" y="25" font-size="10.7" fill="#262626">1e+00</text>
<text x="544.3" y="308" font-size="10.7" fill="#262626">2e-05</text>
<text transform="translate(553.6 162.4) rotate(-90)" font-size="10.8" text-anchor="middle" fill="#262626">LDOS (arb. unit)</text>
<clipPath id="cp1"><rect x="230.4" y="330.6" width="283.80000000000007" height="284.0"/></clipPath>
<g clip-path="url(#cp1)">
<path d="M355.2 612.3l-6.7 0M355.2 612.3l3.4-5.8M348.5 612.3l-3.4-5.8M375.4 612.3l-6.7 0M375.4 612.3l3.4-5.8M368.6 612.3l-3.4-5.8M395.5 612.3l-6.7 0M395.5 612.3l3.4-5.8M388.8 612.3l-3.4-5.8M358.6 606.5l6.7 0M358.6 606.5l-3.4-5.8M345.1 606.5l3.4-5.8M378.7 606.5l6.7 0M378.7 606.5l-3.4-5.8M365.3 606.5l3.4-5.8M398.9 606.5l-3.4-5.8M385.4 606.5l3.4-5.8M355.2 600.7l-6.7 0M355.2 600.7l3.4-5.8M348.5 600.7l-3.4-5.8M375.4 600.7l-6.7 0M375.4 600.7l3.4-5.8M368.6 600.7l-3.4-5.8M395.5 600.7l-6.7 0M395.5 600.7l3.4-5.8M388.8 600.7l-3.4-5.8M358.6 594.8l6.7 0M358.6 594.8l-3.4-5.8M345.1 594.8l3.4-5.8M378.7 594.8l6.7 0M378.7 594.8l-3.4-5.8M365.3 594.8l3.4-5.8M398.9 594.8l-3.4-5.8M385.4 594.8l3.4-5.8M355.2 589l-6.7 0M355.2 589l3.4-5.8M348.5 589l-3.4-5.8M375.4 589l-6.7 0M375.4 589l3.4-5.8M368.6 589l-3.4-5.8M395.5 589l-6.7 0M395.5 589l3.4-5.8M388.8 589l-3.4-5.8M358.6 583.2l6.7 0M358.6 583.2l-3.4-5.8M345.1 583.2l3.4-5.8M378.7 583.2l6.7 0M378.7 583.2l-3.4-5.8M365.3 583.2l3.4-5.8M398.9 583.2l-3.4-5.8M385.4 583.2l3.4-5.8M355.2 577.4l-6.7 0M355.2 577.4l3.4-5.8M348.5 577.4l-3.4-5.8M375.4 577.4l-6.7 0M375.4 577.4l3.4-5.8M368.6 577.4l-3.4-5.8M395.5 577.4l-6.7 0M395.5 577.4l3.4-5.8M388.8 577.4l-3.4-5.8M358.6 571.6l6.7 0M358.6 571.6l-3.4-5.8M345.1 571.6l3.4-5.8M378.7 571.6l6.7 0M378.7 571.6l-3.4-5.8M365.3 571.6l3.4-5.8M398.9 571.6l-3.4-5.8M385.4 571.6l3.4-5.8M355.2 565.7l-6.7 0M355.2 565.7l3.4-5.8M348.5 565.7l-3.4-5.8M375.4 565.7l-6.7 0M375.4 565.7l3.4-5.8M368.6 565.7l-3.4-5.8M395.5 565.7l-6.7 0M395.5 565.7l3.4-5.8M388.8 565.7l-3.4-5.8M358.6 559.9l6.7 0M358.6 559.9l-3.4-5.8M345.1 559.9l3.4-5.8M378.7 559.9l6.7 0M378.7 559.9l-3.4-5.8M365.3 559.9l3.4-5.8M398.9 559.9l-3.4-5.8M385.4 559.9l3.4-5.8M355.2 554.1l-6.7 0M355.2 554.1l3.4-5.8M348.5 554.1l-3.4-5.8M375.4 554.1l-6.7 0M375.4 554.1l3.4-5.8M368.6 554.1l-3.4-5.8M395.5 554.1l-6.7 0M395.5 554.1l3.4-5.8M388.8 554.1l-3.4-5.8M338.4 548.3l6.7 0M338.4 548.3l-3.4-5.8M358.6 548.3l6.7 0M358.6 548.3l-3.4-5.8M345.1 548.3l3.4-5.8M378.7 548.3l6.7 0M378.7 548.3l-3.4-5.8M365.3 548.3l3.4-5.8M398.9 548.3l6.7 0M398.9 548.3l-3.4-5.8M385.4 548.3l3.4-5.8M405.6 548.3l3.4-5.8M335.1 542.5l-6.7 0M335.1 542.5l3.4-5.8M328.3 542.5l-3.4-5.8M355.2 542.5l-6.7 0M355.2 542.5l3.4-5.8M348.5 542.5l-3.4-5.8M375.4 542.5l-6.7 0M375.4 542.5l3.4-5.8M368.6 542.5l-3.4-5.8M395.5 542.5l-6.7 0M395.5 542.5l3.4-5.8M388.8 542.5l-3.4-5.8M415.7 542.5l-6.7 0M415.7 542.5l3.4-5.8M408.9 542.5l-3.4-5.8M318.3 536.6l6.7 0M318.3 536.6l-3.4-5.8M338.4 536.6l6.7 0M338.4 536.6l-3.4-5.8M325 536.6l3.4-5.8M358.6 536.6l6.7 0M358.6 536.6l-3.4-5.8M345.1 536.6l3.4-5.8M378.7 536.6l6.7 0M378.7 536.6l-3.4-5.8M365.3 536.6l3.4-5.8M398.9 536.6l6.7 0M398.9 536.6l-3.4-5.8M385.4 536.6l3.4-5.8M419 536.6l6.7 0M419 536.6l-3.4-5.8M405.6 536.6l3.4-5.8M425.7 536.6l3.4-5.8M314.9 530.8l3.4-5.8M335.1 530.8l-6.7 0M335.1 530.8l3.4-5.8M328.3 530.8l-3.4-5.8M355.2 530.8l-6.7 0M355.2 530.8l3.4-5.8M348.5 530.8l-3.4-5.8M375.4 530.8l-6.7 0M375.4 530.8l3.4-5.8M368.6 530.8l-3.4-5.8M395.5 530.8l-6.7 0M395.5 530.8l3.4-5.8M388.8 530.8l-3.4-5.8M415.7 530.8l-6.7 0M415.7 530.8l3.4-5.8M408.9 530.8l-3.4-5.8M429.1 530.8l-3.4-5.8M318.3 525l6.7 0M318.3 525l-3.4-5.8M338.4 525l6.7 0M338.4 525l-3.4-5.8M325 525l3.4-5.8M358.6 525l6.7 0M358.6 525l-3.4-5.8M345.1 525l3.4-5.8M378.7 525l6.7 0M378.7 525l-3.4-5.8M365.3 525l3.4-5.8M398.9 525l6.7 0M398.9 525l-3.4-5.8M385.4 525l3.4-5.8M419 525l6.7 0M419 525l-3.4-5.8M405.6 525l3.4-5.8M425.7 525l3.4-5.8M314.9 519.2l-6.7 0M314.9 519.2l3.4-5.8M308.2 519.2l-3.4-5.8M335.1 519.2l-6.7 0M335.1 519.2l3.4-5.8M328.3 519.2l-3.4-5.8M355.2 519.2l-6.7 0M355.2 519.2l3.4-5.8M348.5 519.2l-3.4-5.8M375.4 519.2l-6.7 0M375.4 519.2l3.4-5.8M368.6 519.2l-3.4-5.8M395.5 519.2l-6.7 0M395.5 519.2l3.4-5.8M388.8 519.2l-3.4-5.8M415.7 519.2l-6.7 0M415.7 519.2l3.4-5.8M408.9 519.2l-3.4-5.8M435.8 519.2l-6.7 0M435.8 519.2l3.4-5.8M429.1 519.2l-3.4-5.8M298.1 513.3l6.7 0M298.1 513.3l-3.4-5.8M318.3 513.3l6.7 0M318.3 513.3l-3.4-5.8M304.8 513.3l3.4-5.8M338.4 513.3l6.7 0M338.4 513.3l-3.4-5.8M325 513.3l3.4-5.8M358.6 513.3l6.7 0M358.6 513.3l-3.4-5.8M345.1 513.3l3.4-5.8M378.7 513.3l6.7 0M378.7 513.3l-3.4-5.8M365.3 513.3l3.4-5.8M398.9 513.3l6.7 0M398.9 513.3l-3.4-5.8M385.4 513.3l3.4-5.8M419 513.3l6.7 0M419 513.3l-3.4-5.8M405.6 513.3l3.4-5.8M439.2 513.3l6.7 0M439.2 513.3l-3.4-5.8M425.7 513.3l3.4-5.8M445.9 513.3l3.4-5.8M294.8 507.5l3.4-5.8M314.9 507.5l-6.7 0M314.9 507.5l3.4-5.8M308.2 507.5l-3.4-5.8M335.1 507.5l-6.7 0M335.1 507.5l3.4-5.8M328.3 507.5l-3.4-5.8M355.2 507.5l-6.7 0M355.2 507.5l3.4-5.8M348.5 507.5l-3.4-5.8M375.4 507.5l-6.7 0M375.4 507.5l3.4-5.8M368.6 507.5l-3.4-5.8M395.5 507.5l-6.7 0M395.5 507.5l3.4-5.8M388.8 507.5l-3.4-5.8M415.7 507.5l-6.7 0M415.7 507.5l3.4-5.8M408.9 507.5l-3.4-5.8M435.8 507.5l-6.7 0M435.8 507.5l3.4-5.8M429.1 507.5l-3.4-5.8M449.2 507.5l-3.4-5.8M298.1 501.7l6.7 0M298.1 501.7l-3.4-5.8M318.3 501.7l6.7 0M318.3 501.7l-3.4-5.8M304.8 501.7l3.4-5.8M338.4 501.7l6.7 0M338.4 501.7l-3.4-5.8M325 501.7l3.4-5.8M358.6 501.7l6.7 0M358.6 501.7l-3.4-5.8M345.1 501.7l3.4-5.8M378.7 501.7l6.7 0M378.7 501.7l-3.4-5.8M365.3 501.7l3.4-5.8M398.9 501.7l6.7 0M398.9 501.7l-3.4-5.8M385.4 501.7l3.4-5.8M419 501.7l6.7 0M419 501.7l-3.4-5.8M405.6 501.7l3.4-5.8M439.2 501.7l6.7 0M439.2 501.7l-3.4-5.8M425.7 501.7l3.4-5.8M445.9 501.7l3.4-5.8M294.8 495.9l3.4-5.8M314.9 495.9l-6.7 0M314.9 495.9l3.4-5.8M308.2 495.9l-3.4-5.8M335.1 495.9l-6.7 0M335.1 495.9l3.4-5.8M328.3 495.9l-3.4-5.8M355.2 495.9l-6.7 0M355.2 495.9l3.4-5.8M348.5 495.9l-3.4-5.8M375.4 495.9l-6.7 0M375.4 495.9l3.4-5.8M368.6 495.9l-3.4-5.8M395.5 495.9l-6.7 0M395.5 495.9l3.4-5.8M388.8 495.9l-3.4-5.8M415.7 495.9l-6.7 0M415.7 495.9l3.4-5.8M408.9 495.9l-3.4-5.8M435.8 495.9l-6.7 0M435.8 495.9l3.4-5.8M429.1 495.9l-3.4-5.8M449.2 495.9l-3.4-5.8M298.1 490.1l6.7 0M298.1 490.1l-3.4-5.8M318.3 490.1l6.7 0M318.3 490.1l-3.4-5.8M304.8 490.1l3.4-5.8M338.4 490.1l6.7 0M338.4 490.1l-3.4-5.8M325 490.1l3.4-5.8M358.6 490.1l6.7 0M358.6 490.1l-3.4-5.8M345.1 490.1l3.4-5.8M378.7 490.1l6.7 0M378.7 490.1l-3.4-5.8M365.3 490.1l3.4-5.8M398.9 490.1l6.7 0M398.9 490.1l-3.4-5.8M385.4 490.1l3.4-5.8M419 490.1l6.7 0M419 490.1l-3.4-5.8M405.6 490.1l3.4-5.8M439.2 490.1l6.7 0M439.2 490.1l-3.4-5.8M425.7 490.1l3.4-5.8M445.9 490.1l3.4-5.8M294.8 484.2l-6.7 0M294.8 484.2l3.4-5.8M314.9 484.2l-6.7 0M314.9 484.2l3.4-5.8M308.2 484.2l-3.4-5.8M335.1 484.2l-6.7 0M335.1 484.2l3.4-5.8M328.3 484.2l-3.4-5.8M355.2 484.2l-6.7 0M355.2 484.2l3.4-5.8M348.5 484.2l-3.4-5.8M375.4 484.2l-6.7 0M375.4 484.2l3.4-5.8M368.6 484.2l-3.4-5.8M395.5 484.2l-6.7 0M395.5 484.2l3.4-5.8M388.8 484.2l-3.4-5.8M415.7 484.2l-6.7 0M415.7 484.2l3.4-5.8M408.9 484.2l-3.4-5.8M435.8 484.2l-6.7 0M435.8 484.2l3.4-5.8M429.1 484.2l-3.4-5.8M456 484.2l-6.7 0M449.2 484.2l-3.4-5.8M298.1 478.4l6.7 0M298.1 478.4l-3.4-5.8M318.3 478.4l6.7 0M318.3 478.4l-3.4-5.8M304.8 478.4l3.4-5.8M338.4 478.4l6.7 0M338.4 478.4l-3.4-5.8M325 478.4l3.4-5.8M358.6 478.4l6.7 0M358.6 478.4l-3.4-5.8M345.1 478.4l3.4-5.8M378.7 478.4l6.7 0M378.7 478.4l-3.4-5.8M365.3 478.4l3.4-5.8M398.9 478.4l6.7 0M398.9 478.4l-3.4-5.8M385.4 478.4l3.4-5.8M419 478.4l6.7 0M419 478.4l-3.4-5.8M405.6 478.4l3.4-5.8M439.2 478.4l6.7 0M439.2 478.4l-3.4-5.8M425.7 478.4l3.4-5.8M445.9 478.4l3.4-5.8M294.8 472.6l-6.7 0M294.8 472.6l3.4-5.8M314.9 472.6l-6.7 0M314.9 472.6l3.4-5.8M308.2 472.6l-3.4-5.8M335.1 472.6l-6.7 0M335.1 472.6l3.4-5.8M328.3 472.6l-3.4-5.8M355.2 472.6l-6.7 0M355.2 472.6l3.4-5.8M348.5 472.6l-3.4-5.8M375.4 472.6l-6.7 0M375.4 472.6l3.4-5.8M368.6 472.6l-3.4-5.8M395.5 472.6l-6.7 0M395.5 472.6l3.4-5.8M388.8 472.6l-3.4-5.8M415.7 472.6l-6.7 0M415.7 472.6l3.4-5.8M408.9 472.6l-3.4-5.8M435.8 472.6l-6.7 0M435.8 472.6l3.4-5.8M429.1 472.6l-3.4-5.8M456 472.6l-6.7 0M449.2 472.6l-3.4-5.8M298.1 466.8l6.7 0M298.1 466.8l-3.4-5.8M318.3 466.8l6.7 0M318.3 466.8l-3.4-5.8M304.8 466.8l3.4-5.8M338.4 466.8l6.7 0M338.4 466.8l-3.4-5.8M325 466.8l3.4-5.8M358.6 466.8l6.7 0M358.6 466.8l-3.4-5.8M345.1 466.8l3.4-5.8M378.7 466.8l6.7 0M378.7 466.8l-3.4-5.8M365.3 466.8l3.4-5.8M398.9 466.8l6.7 0M398.9 466.8l-3.4-5.8M385.4 466.8l3.4-5.8M419 466.8l6.7 0M419 466.8l-3.4-5.8M405.6 466.8l3.4-5.8M439.2 466.8l6.7 0M439.2 466.8l-3.4-5.8M425.7 466.8l3.4-5.8M445.9 466.8l3.4-5.8M294.8 461l-6.7 0M294.8 461l3.4-5.8M314.9 461l-6.7 0M314.9 461l3.4-5.8M308.2 461l-3.4-5.8M335.1 461l-6.7 0M335.1 461l3.4-5.8M328.3 461l-3.4-5.8M355.2 461l-6.7 0M355.2 461l3.4-5.8M348.5 461l-3.4-5.8M375.4 461l-6.7 0M375.4 461l3.4-5.8M368.6 461l-3.4-5.8M395.5 461l-6.7 0M395.5 461l3.4-5.8M388.8 461l-3.4-5.8M415.7 461l-6.7 0M415.7 461l3.4-5.8M408.9 461l-3.4-5.8M435.8 461l-6.7 0M435.8 461l3.4-5.8M429.1 461l-3.4-5.8M456 461l-6.7 0M449.2 461l-3.4-5.8M298.1 455.1l6.7 0M298.1 455.1l-3.4-5.8M318.3 455.1l6.7 0M318.3 455.1l-3.4-5.8M304.8 455.1l3.4-5.8M338.4 455.1l6.7 0M338.4 455.1l-3.4-5.8M325 455.1l3.4-5.8M358.6 455.1l6.7 0M358.6 455.1l-3.4-5.8M345.1 455.1l3.4-5.8M378.7 455.1l6.7 0M378.7 455.1l-3.4-5.8M365.3 455.1l3.4-5.8M398.9 455.1l6.7 0M398.9 455.1l-3.4-5.8M385.4 455.1l3.4-5.8M419 455.1l6.7 0M419 455.1l-3.4-5.8M405.6 455.1l3.4-5.8M439.2 455.1l6.7 0M439.2 455.1l-3.4-5.8M425.7 455.1l3.4-5.8M445.9 455.1l3.4-5.8M294.8 449.3l3.4-5.8M314.9 449.3l-6.7 0M314.9 449.3l3.4-5.8M308.2 449.3l-3.4-5.8M335.1 449.3l-6.7 0M335.1 449.3l3.4-5.8M328.3 449.3l-3.4-5.8M355.2 449.3l-6.7 0M355.2 449.3l3.4-5.8M348.5 449.3l-3.4-5.8M375.4 449.3l-6.7 0M375.4 449.3l3.4-5.8M368.6 449.3l-3.4-5.8M395.5 449.3l-6.7 0M395.5 449.3l3.4-5.8M388.8 449.3l-3.4-5.8M415.7 449.3l-6.7 0M415.7 449.3l3.4-5.8M408.9 449.3l-3.4-5.8M435.8 449.3l-6.7 0M435.8 449.3l3.4-5.8M429.1 449.3l-3.4-5.8M449.2 449.3l-3.4-5.8M298.1 443.5l6.7 0M298.1 443.5l-3.4-5.8M318.3 443.5l6.7 0M318.3 443.5l-3.4-5.8M304.8 443.5l3.4-5.8M338.4 443.5l6.7 0M338.4 443.5l-3.4-5.8M325 443.5l3.4-5.8M358.6 443.5l6.7 0M358.6 443.5l-3.4-5.8M345.1 443.5l3.4-5.8M378.7 443.5l6.7 0M378.7 443.5l-3.4-5.8M365.3 443.5l3.4-5.8M398.9 443.5l6.7 0M398.9 443.5l-3.4-5.8M385.4 443.5l3.4-5.8M419 443.5l6.7 0M419 443.5l-3.4-5.8M405.6 443.5l3.4-5.8M439.2 443.5l6.7 0M439.2 443.5l-3.4-5.8M425.7 443.5l3.4-5.8M445.9 443.5l3.4-5.8M294.8 437.7l3.4-5.8M314.9 437.7l-6.7 0M314.9 437.7l3.4-5.8M308.2 437.7l-3.4-5.8M335.1 437.7l-6.7 0M335.1 437.7l3.4-5.8M328.3 437.7l-3.4-5.8M355.2 437.7l-6.7 0M355.2 437.7l3.4-5.8M348.5 437.7l-3.4-5.8M375.4 437.7l-6.7 0M375.4 437.7l3.4-5.8M368.6 437.7l-3.4-5.8M395.5 437.7l-6.7 0M395.5 437.7l3.4-5.8M388.8 437.7l-3.4-5.8M415.7 437.7l-6.7 0M415.7 437.7l3.4-5.8M408.9 437.7l-3.4-5.8M435.8 437.7l-6.7 0M435.8 437.7l3.4-5.8M429.1 437.7l-3.4-5.8M449.2 437.7l-3.4-5.8M298.1 431.9l6.7 0M318.3 431.9l6.7 0M318.3 431.9l-3.4-5.8M304.8 431.9l3.4-5.8M338.4 431.9l6.7 0M338.4 431.9l-3.4-5.8M325 431.9l3.4-5.8M358.6 431.9l6.7 0M358.6 431.9l-3.4-5.8M345.1 431.9l3.4-5.8M378.7 431.9l6.7 0M378.7 431.9l-3.4-5.8M365.3 431.9l3.4-5.8M398.9 431.9l6.7 0M398.9 431.9l-3.4-5.8M385.4 431.9l3.4-5.8M419 431.9l6.7 0M419 431.9l-3.4-5.8M405.6 431.9l3.4-5.8M439.2 431.9l6.7 0M439.2 431.9l-3.4-5.8M425.7 431.9l3.4-5.8M314.9 426l-6.7 0M314.9 426l3.4-5.8M335.1 426l-6.7 0M335.1 426l3.4-5.8M328.3 426l-3.4-5.8M355.2 426l-6.7 0M355.2 426l3.4-5.8M348.5 426l-3.4-5.8M375.4 426l-6.7 0M375.4 426l3.4-5.8M368.6 426l-3.4-5.8M395.5 426l-6.7 0M395.5 426l3.4-5.8M388.8 426l-3.4-5.8M415.7 426l-6.7 0M415.7 426l3.4-5.8M408.9 426l-3.4-5.8M435.8 426l-6.7 0M429.1 426l-3.4-5.8M318.3 420.2l6.7 0M318.3 420.2l-3.4-5.8M338.4 420.2l6.7 0M338.4 420.2l-3.4-5.8M325 420.2l3.4-5.8M358.6 420.2l6.7 0M358.6 420.2l-3.4-5.8M345.1 420.2l3.4-5.8M378.7 420.2l6.7 0M378.7 420.2l-3.4-5.8M365.3 420.2l3.4-5.8M398.9 420.2l6.7 0M398.9 420.2l-3.4-5.8M385.4 420.2l3.4-5.8M419 420.2l6.7 0M419 420.2l-3.4-5.8M405.6 420.2l3.4-5.8M425.7 420.2l3.4-5.8M314.9 414.4l3.4-5.8M335.1 414.4l-6.7 0M335.1 414.4l3.4-5.8M328.3 414.4l-3.4-5.8M355.2 414.4l-6.7 0M355.2 414.4l3.4-5.8M348.5 414.4l-3.4-5.8M375.4 414.4l-6.7 0M375.4 414.4l3.4-5.8M368.6 414.4l-3.4-5.8M395.5 414.4l-6.7 0M395.5 414.4l3.4-5.8M388.8 414.4l-3.4-5.8M415.7 414.4l-6.7 0M415.7 414.4l3.4-5.8M408.9 414.4l-3.4-5.8M429.1 414.4l-3.4-5.8M318.3 408.6l6.7 0M338.4 408.6l6.7 0M338.4 408.6l-3.4-5.8M325 408.6l3.4-5.8M358.6 408.6l6.7 0M358.6 408.6l-3.4-5.8M345.1 408.6l3.4-5.8M378.7 408.6l6.7 0M378.7 408.6l-3.4-5.8M365.3 408.6l3.4-5.8M398.9 408.6l6.7 0M398.9 408.6l-3.4-5.8M385.4 408.6l3.4-5.8M419 408.6l6.7 0M419 408.6l-3.4-5.8M405.6 408.6l3.4-5.8M335.1 402.7l-6.7 0M335.1 402.7l3.4-5.8M355.2 402.7l-6.7 0M355.2 402.7l3.4-5.8M348.5 402.7l-3.4-5.8M375.4 402.7l-6.7 0M375.4 402.7l3.4-5.8M368.6 402.7l-3.4-5.8M395.5 402.7l-6.7 0M395.5 402.7l3.4-5.8M388.8 402.7l-3.4-5.8M415.7 402.7l-6.7 0M408.9 402.7l-3.4-5.8M338.4 396.9l6.7 0M358.6 396.9l6.7 0M358.6 396.9l-3.4-5.8M345.1 396.9l3.4-5.8M378.7 396.9l6.7 0M378.7 396.9l-3.4-5.8M365.3 396.9l3.4-5.8M398.9 396.9l6.7 0M398.9 396.9l-3.4-5.8M385.4 396.9l3.4-5.8M355.2 391.1l-6.7 0M355.2 391.1l3.4-5.8M348.5 391.1l-3.4-5.8M375.4 391.1l-6.7 0M375.4 391.1l3.4-5.8M368.6 391.1l-3.4-5.8M395.5 391.1l-6.7 0M395.5 391.1l3.4-5.8M388.8 391.1l-3.4-5.8M358.6 385.3l6.7 0M358.6 385.3l-3.4-5.8M345.1 385.3l3.4-5.8M378.7 385.3l6.7 0M378.7 385.3l-3.4-5.8M365.3 385.3l3.4-5.8M398.9 385.3l-3.4-5.8M385.4 385.3l3.4-5.8M355.2 379.5l-6.7 0M355.2 379.5l3.4-5.8M348.5 379.5l-3.4-5.8M375.4 379.5l-6.7 0M375.4 379.5l3.4-5.8M368.6 379.5l-3.4-5.8M395.5 379.5l-6.7 0M395.5 379.5l3.4-5.8M388.8 379.5l-3.4-5.8M358.6 373.6l6.7 0M358.6 373.6l-3.4-5.8M345.1 373.6l3.4-5.8M378.7 373.6l6.7 0M378.7 373.6l-3.4-5.8M365.3 373.6l3.4-5.8M398.9 373.6l-3.4-5.8M385.4 373.6l3.4-5.8M355.2 367.8l-6.7 0M355.2 367.8l3.4-5.8M348.5 367.8l-3.4-5.8M375.4 367.8l-6.7 0M375.4 367.8l3.4-5.8M368.6 367.8l-3.4-5.8M395.5 367.8l-6.7 0M395.5 367.8l3.4-5.8M388.8 367.8l-3.4-5.8M358.6 362l6.7 0M358.6 362l-3.4-5.8M345.1 362l3.4-5.8M378.7 362l6.7 0M378.7 362l-3.4-5.8M365.3 362l3.4-5.8M398.9 362l-3.4-5.8M385.4 362l3.4-5.8M355.2 356.2l-6.7 0M355.2 356.2l3.4-5.8M348.5 356.2l-3.4-5.8M375.4 356.2l-6.7 0M375.4 356.2l3.4-5.8M368.6 356.2l-3.4-5.8M395.5 356.2l-6.7 0M395.5 356.2l3.4-5.8M388.8 356.2l-3.4-5.8M358.6 350.4l6.7 0M358.6 350.4l-3.4-5.8M345.1 350.4l3.4-5.8M378.7 350.4l6.7 0M378.7 350.4l-3.4-5.8M365.3 350.4l3.4-5.8M398.9 350.4l-3.4-5.8M385.4 350.4l3.4-5.8M355.2 344.5l-6.7 0M355.2 344.5l3.4-5.8M348.5 344.5l-3.4-5.8M375.4 344.5l-6.7 0M375.4 344.5l3.4-5.8M368.6 344.5l-3.4-5.8M395.5 344.5l-6.7 0M395.5 344.5l3.4-5.8M388.8 344.5l-3.4-5.8M358.6 338.7l6.7 0M358.6 338.7l-3.4-5.8M345.1 338.7l3.4-5.8M378.7 338.7l6.7 0M378.7 338.7l-3.4-5.8M365.3 338.7l3.4-5.8M398.9 338.7l-3.4-5.8M385.4 338.7l3.4-5.8M355.2 332.9l-6.7 0M375.4 332.9l-6.7 0M395.5 332.9l-6.7 0" stroke="#f7a8bd" stroke-width="0.07" fill="none"/>
<circle cx="348.5" cy="507.5" r=".3" fill="#352b89"/><circle cx="395.5" cy="507.5" r=".3" fill="#352b89"/><circle cx="395.5" cy="437.7" r=".3" fill="#352b89"/><circle cx="348.5" cy="437.7" r=".3" fill="#352b89"/><circle cx="348.5" cy="554.1" r=".3" fill="#352b89"/><circle cx="395.5" cy="554.1" r=".3" fill="#352b89"/><circle cx="395.5" cy="391.1" r=".3" fill="#352b89"/><circle cx="348.5" cy="391.1" r=".3" fill="#352b89"/><circle cx="355.2" cy="542.5" r=".3" fill="#352b89"/><circle cx="388.8" cy="542.5" r=".3" fill="#352b89"/><circle cx="388.8" cy="402.7" r=".3" fill="#352b89"/><circle cx="355.2" cy="402.7" r=".3" fill="#352b89"/><circle cx="388.8" cy="600.7" r=".3" fill="#352c89"/><circle cx="355.2" cy="600.7" r=".3" fill="#352c89"/><circle cx="388.8" cy="344.5" r=".3" fill="#352c89"/><circle cx="355.2" cy="344.5" r=".3" fill="#352c89"/><circle cx="308.2" cy="507.5" r=".3" fill="#352c8a"/><circle cx="435.8" cy="507.5" r=".3" fill="#352c8a"/><circle cx="435.8" cy="437.7" r=".3" fill="#352c8a"/><circle cx="308.2" cy="437.7" r=".3" fill="#352c8a"/><circle cx="318.3" cy="501.7" r=".3" fill="#352c8a"/><circle cx="425.7" cy="501.7" r=".3" fill="#352c8a"/><circle cx="425.7" cy="443.5" r=".3" fill="#352c8a"/><circle cx="318.3" cy="443.5" r=".3" fill="#352c8a"/><circle cx="358.6" cy="559.9" r=".3" fill="#352c8a"/><circle cx="385.4" cy="559.9" r=".3" fill="#352c8a"/><circle cx="385.4" cy="385.3" r=".3" fill="#352c8a"/><circle cx="358.6" cy="385.3" r=".3" fill="#352c8a"/><circle cx="368.6" cy="612.3" r=".3" fill="#352c8a"/><circle cx="375.4" cy="612.3" r=".3" fill="#352c8a"/><circle cx="368.6" cy="332.9" r=".3" fill="#352c8a"/><circle cx="375.4" cy="332.9" r=".3" fill="#352c8a"/><circle cx="358.6" cy="525" r=".3" fill="#352c8a"/><circle cx="385.4" cy="525" r=".3" fill="#352c8a"/><circle cx="385.4" cy="420.2" r=".3" fill="#352c8a"/><circle cx="358.6" cy="420.2" r=".3" fill="#352c8a"/><circle cx="415.7" cy="519.2" r=".3" fill="#352c8a"/><circle cx="328.3" cy="519.2" r=".3" fill="#352c8a"/><circle cx="415.7" cy="426" r=".3" fill="#352c8a"/><circle cx="328.3" cy="426" r=".3" fill="#352c8a"/><circle cx="328.3" cy="530.8" r=".3" fill="#352c8a"/><circle cx="415.7" cy="530.8" r=".3" fill="#352c8a"/><circle cx="415.7" cy="414.4" r=".3" fill="#352c8a"/><circle cx="328.3" cy="414.4" r=".3" fill="#352c8a"/><circle cx="328.3" cy="507.5" r=".3" fill="#352c8a"/><circle cx="415.7" cy="507.5" r=".3" fill="#352c8a"/><circle cx="415.7" cy="437.7" r=".3" fill="#352c8a"/><circle cx="328.3" cy="437.7" r=".3" fill="#352c8a"/><circle cx="358.6" cy="594.8" r=".3" fill="#352c8a"/><circle cx="385.4" cy="594.8" r=".3" fill="#352c8a"/><circle cx="358.6" cy="350.4" r=".3" fill="#352c8a"/><circle cx="385.4" cy="350.4" r=".3" fill="#352c8a"/><circle cx="358.6" cy="606.5" r=".3" fill="#352c8b"/><circle cx="385.4" cy="606.5" r=".3" fill="#352c8b"/><circle cx="358.6" cy="338.7" r=".3" fill="#352c8b"/><circle cx="385.4" cy="338.7" r=".3" fill="#352c8b"/><circle cx="445.9" cy="513.3" r=".3" fill="#352c8b"/><circle cx="298.1" cy="513.3" r=".3" fill="#352c8b"/><circle cx="445.9" cy="431.9" r=".3" fill="#352c8b"/><circle cx="298.1" cy="431.9" r=".3" fill="#352c8b"/><circle cx="298.1" cy="501.7" r=".3" fill="#352c8b"/><circle cx="445.9" cy="501.7" r=".3" fill="#352c8b"/><circle cx="445.9" cy="443.5" r=".3" fill="#352c8b"/><circle cx="298.1" cy="443.5" r=".3" fill="#352c8b"/><circle cx="445.9" cy="490.1" r=".3" fill="#352c8b"/><circle cx="298.1" cy="490.1" r=".3" fill="#352c8b"/><circle cx="298.1" cy="455.1" r=".3" fill="#352c8b"/><circle cx="445.9" cy="455.1" r=".3" fill="#352c8b"/><circle cx="368.6" cy="542.5" r=".3" fill="#352c8b"/><circle cx="375.4" cy="542.5" r=".3" fill="#352c8b"/><circle cx="375.4" cy="402.7" r=".3" fill="#352c8b"/><circle cx="368.6" cy="402.7" r=".3" fill="#352c8b"/><circle cx="348.5" cy="530.8" r=".3" fill="#352d8b"/><circle cx="395.5" cy="530.8" r=".3" fill="#352d8b"/><circle cx="395.5" cy="414.4" r=".3" fill="#352d8b"/><circle cx="348.5" cy="414.4" r=".3" fill="#352d8b"/><circle cx="375.4" cy="589" r=".3" fill="#352d8c"/><circle cx="368.6" cy="589" r=".3" fill="#352d8c"/><circle cx="368.6" cy="356.2" r=".3" fill="#352d8c"/><circle cx="375.4" cy="356.2" r=".3" fill="#352d8c"/><circle cx="445.9" cy="478.4" r=".3" fill="#352d8c"/><circle cx="298.1" cy="478.4" r=".3" fill="#352d8c"/><circle cx="445.9" cy="466.8" r=".3" fill="#352d8c"/><circle cx="298.1" cy="466.8" r=".3" fill="#352d8c"/><circle cx="365.3" cy="536.6" r=".3" fill="#352d8c"/><circle cx="378.7" cy="536.6" r=".3" fill="#352d8c"/><circle cx="378.7" cy="408.6" r=".3" fill="#352d8c"/><circle cx="365.3" cy="408.6" r=".3" fill="#352d8c"/><circle cx="308.2" cy="484.2" r=".3" fill="#352d8c"/><circle cx="435.8" cy="484.2" r=".3" fill="#352d8c"/><circle cx="435.8" cy="461" r=".3" fill="#352d8c"/><circle cx="308.2" cy="461" r=".3" fill="#352d8c"/><circle cx="368.6" cy="530.8" r=".31" fill="#352d8d"/><circle cx="375.4" cy="530.8" r=".31" fill="#352d8d"/><circle cx="375.4" cy="414.4" r=".31" fill="#352d8d"/><circle cx="368.6" cy="414.4" r=".31" fill="#352d8d"/><circle cx="338.4" cy="525" r=".34" fill="#362e8e"/><circle cx="405.6" cy="525" r=".34" fill="#362e8e"/><circle cx="405.6" cy="420.2" r=".34" fill="#362e8e"/><circle cx="338.4" cy="420.2" r=".34" fill="#362e8e"/><circle cx="378.7" cy="559.9" r=".37" fill="#362e8f"/><circle cx="365.3" cy="559.9" r=".37" fill="#362e8f"/><circle cx="378.7" cy="385.3" r=".37" fill="#362e8f"/><circle cx="365.3" cy="385.3" r=".37" fill="#362e8f"/><circle cx="348.5" cy="542.5" r=".38" fill="#362f90"/><circle cx="395.5" cy="542.5" r=".38" fill="#362f90"/><circle cx="348.5" cy="402.7" r=".38" fill="#362f90"/><circle cx="395.5" cy="402.7" r=".38" fill="#362f90"/><circle cx="368.6" cy="565.7" r=".41" fill="#362f91"/><circle cx="375.4" cy="565.7" r=".41" fill="#362f91"/><circle cx="375.4" cy="379.5" r=".41" fill="#362f91"/><circle cx="368.6" cy="379.5" r=".41" fill="#362f91"/><circle cx="358.6" cy="548.3" r=".42" fill="#363092"/><circle cx="385.4" cy="548.3" r=".42" fill="#363092"/><circle cx="385.4" cy="396.9" r=".42" fill="#363092"/><circle cx="358.6" cy="396.9" r=".42" fill="#363092"/><circle cx="375.4" cy="577.4" r=".43" fill="#363092"/><circle cx="368.6" cy="577.4" r=".43" fill="#363092"/><circle cx="375.4" cy="367.8" r=".43" fill="#363092"/><circle cx="368.6" cy="367.8" r=".43" fill="#363092"/><circle cx="318.3" cy="536.6" r=".46" fill="#363093"/><circle cx="425.7" cy="536.6" r=".46" fill="#363093"/><circle cx="425.7" cy="408.6" r=".46" fill="#363093"/><circle cx="318.3" cy="408.6" r=".46" fill="#363093"/><circle cx="318.3" cy="525" r=".46" fill="#363093"/><circle cx="425.7" cy="525" r=".46" fill="#363093"/><circle cx="425.7" cy="420.2" r=".46" fill="#363093"/><circle cx="318.3" cy="420.2" r=".46" fill="#363093"/><circle cx="435.8" cy="519.2" r=".46" fill="#363194"/><circle cx="308.2" cy="519.2" r=".46" fill="#363194"/><circle cx="435.8" cy="426" r=".46" fill="#363194"/><circle cx="308.2" cy="426" r=".46" fill="#363194"/><circle cx="365.3" cy="583.2" r=".48" fill="#363195"/><circle cx="378.7" cy="583.2" r=".48" fill="#363195"/><circle cx="378.7" cy="362" r=".48" fill="#363195"/><circle cx="365.3" cy="362" r=".48" fill="#363195"/><circle cx="456" cy="484.2" r=".53" fill="#363398"/><circle cx="288" cy="484.2" r=".53" fill="#363398"/><circle cx="456" cy="461" r=".53" fill="#363398"/><circle cx="288" cy="461" r=".53" fill="#363398"/><circle cx="378.7" cy="548.3" r=".55" fill="#363399"/><circle cx="365.3" cy="548.3" r=".55" fill="#363399"/><circle cx="365.3" cy="396.9" r=".55" fill="#363399"/><circle cx="378.7" cy="396.9" r=".55" fill="#363399"/><circle cx="338.4" cy="548.3" r=".57" fill="#36349b"/><circle cx="405.6" cy="548.3" r=".57" fill="#36349b"/><circle cx="338.4" cy="396.9" r=".57" fill="#36349b"/><circle cx="405.6" cy="396.9" r=".57" fill="#36349b"/><circle cx="355.2" cy="589" r=".58" fill="#36349b"/><circle cx="388.8" cy="589" r=".58" fill="#36349b"/><circle cx="355.2" cy="356.2" r=".58" fill="#36349b"/><circle cx="388.8" cy="356.2" r=".58" fill="#36349b"/><circle cx="415.7" cy="542.5" r=".68" fill="#3638a3"/><circle cx="328.3" cy="542.5" r=".68" fill="#3638a3"/><circle cx="415.7" cy="402.7" r=".68" fill="#3638a3"/><circle cx="328.3" cy="402.7" r=".68" fill="#3638a3"/><circle cx="388.8" cy="554.1" r=".75" fill="#353ba9"/><circle cx="355.2" cy="554.1" r=".75" fill="#353ba9"/><circle cx="355.2" cy="391.1" r=".75" fill="#353ba9"/><circle cx="388.8" cy="391.1" r=".75" fill="#353ba9"/><circle cx="378.7" cy="594.8" r=".77" fill="#353cab"/><circle cx="365.3" cy="594.8" r=".77" fill="#353cab"/><circle cx="365.3" cy="350.4" r=".77" fill="#353cab"/><circle cx="378.7" cy="350.4" r=".77" fill="#353cab"/><circle cx="378.7" cy="606.5" r=".81" fill="#343eaf"/><circle cx="365.3" cy="606.5" r=".81" fill="#343eaf"/><circle cx="378.7" cy="338.7" r=".81" fill="#343eaf"/><circle cx="365.3" cy="338.7" r=".81" fill="#343eaf"/><circle cx="398.9" cy="559.9" r=".82" fill="#343fb1"/><circle cx="345.1" cy="559.9" r=".82" fill="#343fb1"/><circle cx="345.1" cy="385.3" r=".82" fill="#343fb1"/><circle cx="398.9" cy="385.3" r=".82" fill="#343fb1"/><circle cx="388.8" cy="612.3" r="1.01" fill="#2c4ac6"/><circle cx="355.2" cy="612.3" r="1.01" fill="#2c4ac6"/><circle cx="388.8" cy="332.9" r="1.01" fill="#2c4ac6"/><circle cx="355.2" cy="332.9" r="1.01" fill="#2c4ac6"/><circle cx="355.2" cy="577.4" r="1.07" fill="#254fce"/><circle cx="388.8" cy="577.4" r="1.07" fill="#254fce"/><circle cx="355.2" cy="367.8" r="1.07" fill="#254fce"/><circle cx="388.8" cy="367.8" r="1.07" fill="#254fce"/><circle cx="388.8" cy="565.7" r="1.12" fill="#1f53d4"/><circle cx="355.2" cy="565.7" r="1.12" fill="#1f53d4"/><circle cx="355.2" cy="379.5" r="1.12" fill="#1f53d4"/><circle cx="388.8" cy="379.5" r="1.12" fill="#1f53d4"/><circle cx="398.9" cy="571.6" r="1.95" fill="#0f90d2"/><circle cx="345.1" cy="571.6" r="1.95" fill="#0f90d2"/><circle cx="345.1" cy="373.6" r="1.95" fill="#0f90d2"/><circle cx="398.9" cy="373.6" r="1.95" fill="#0f90d2"/><circle cx="345.1" cy="583.2" r="3.02" fill="#b9bd63"/><circle cx="398.9" cy="583.2" r="3.02" fill="#b9bd63"/><circle cx="345.1" cy="362" r="3.02" fill="#b9bd63"/><circle cx="398.9" cy="362" r="3.02" fill="#b9bd63"/><circle cx="345.1" cy="606.5" r="3.41" fill="#fbd02c"/><circle cx="398.9" cy="606.5" r="3.41" fill="#fbd02c"/><circle cx="345.1" cy="338.7" r="3.41" fill="#fbd02c"/><circle cx="398.9" cy="338.7" r="3.41" fill="#fbd02c"/><circle cx="345.1" cy="594.8" r="3.6" fill="#f9fb0e"/><circle cx="398.9" cy="594.8" r="3.6" fill="#f9fb0e"/><circle cx="345.1" cy="350.4" r="3.6" fill="#f9fb0e"/><circle cx="398.9" cy="350.4" r="3.6" fill="#f9fb0e"/>
<g stroke="#f6134f" fill="none" stroke-linejoin="round"><path d="M345 595.1L345.4 594.3M345.4 594.4L345.4 594.3L345.3 594.4M399 595.1L398.6 594.3M398.7 594.4L398.6 594.3L398.6 594.4M365.5 571.6L364.8 571.6M364.9 571.5L364.8 571.6L364.9 571.6M378.5 571.6L379.2 571.6M379.1 571.6L379.2 571.6L379.1 571.5M355.1 566L355.5 565.2M355.5 565.4L355.5 565.2L355.4 565.3M388.9 566L388.5 565.2M388.6 565.3L388.5 565.2L388.5 565.4M358.7 548.1L358.3 548.7M358.3 548.6L358.3 548.7L358.4 548.6M385.3 548.1L385.7 548.7M385.6 548.6L385.7 548.7L385.7 548.6M345.4 548.3L344.5 548.3M344.6 548.2L344.5 548.3L344.6 548.3M338.5 548.5L338.2 547.8M338.2 547.9L338.2 547.8L338.2 547.9M358.7 548.5L358.3 547.7M358.4 547.8L358.3 547.7L358.3 547.9M348.6 542.2L348.2 543M348.2 542.8L348.2 543L348.3 542.9M398.6 548.3L399.5 548.3M399.4 548.3L399.5 548.3L399.4 548.2M395.4 542.2L395.8 543M395.7 542.9L395.8 543L395.8 542.8M385.3 548.5L385.7 547.7M385.7 547.9L385.7 547.7L385.6 547.8M405.5 548.5L405.8 547.8M405.8 547.9L405.8 547.8L405.8 547.9M335.3 542.5L334.4 542.5M334.6 542.4L334.4 542.5L334.6 542.5M338.5 536.5L338.3 536.9M338.3 536.8L338.3 536.9L338.3 536.9M328.4 542.6L328.1 542.1M328.2 542.1L328.1 542.1L328.1 542.2M358.7 536.4L358.3 537M358.3 537L358.3 537L358.4 537M348.6 542.6L348.3 542M348.3 542.1L348.3 542L348.3 542.1M395.4 542.6L395.7 542M395.7 542.1L395.7 542L395.7 542.1M385.3 536.4L385.7 537M385.6 537L385.7 537L385.7 537M408.7 542.5L409.6 542.5M409.4 542.5L409.6 542.5L409.4 542.4M415.6 542.6L415.9 542.1M415.9 542.2L415.9 542.1L415.8 542.1M405.5 536.5L405.7 536.9M405.7 536.9L405.7 536.9L405.7 536.8M325.1 536.6L324.6 536.6M324.7 536.6L324.6 536.6L324.7 536.7M345.3 536.6L344.8 536.6M344.8 536.6L344.8 536.6L344.8 536.7M365.5 536.6L364.6 536.6M364.8 536.6L364.6 536.6L364.8 536.7M358.6 536.8L358.4 536.3M358.4 536.4L358.4 536.3L358.4 536.4M378.5 536.6L379.4 536.6M379.2 536.7L379.4 536.6L379.2 536.6M378.8 536.8L378.4 536.1M378.5 536.2L378.4 536.1L378.5 536.2M365.2 536.8L365.6 536.1M365.5 536.2L365.6 536.1L365.5 536.2M398.7 536.6L399.2 536.6M399.2 536.7L399.2 536.6L399.2 536.6M385.4 536.8L385.6 536.3M385.6 536.4L385.6 536.3L385.6 536.4M418.9 536.6L419.4 536.6M419.3 536.7L419.4 536.6L419.3 536.6M355.3 530.8L354.9 530.8M355 530.8L354.9 530.8L355 530.8M348.6 530.9L348.3 530.5M348.4 530.6L348.3 530.5L348.3 530.6M375.2 531L375.6 530.3M375.6 530.4L375.6 530.3L375.6 530.4M368.8 531L368.4 530.3M368.4 530.4L368.4 530.3L368.4 530.4M388.7 530.8L389.1 530.8M389 530.8L389.1 530.8L389 530.8M395.4 530.9L395.7 530.5M395.7 530.6L395.7 530.5L395.6 530.6M325.1 525L324.7 525M324.8 525L324.7 525L324.8 525M318.3 525.1L318.1 524.7M318.2 524.8L318.1 524.7L318.1 524.8M345.3 525L344.7 525M344.8 525L344.7 525L344.8 525M338.5 525.1L338.2 524.7M338.3 524.7L338.2 524.7L338.3 524.7M365.5 525L364.9 525M365 525L364.9 525L365 525M358.7 525.2L358.4 524.6M358.4 524.7L358.4 524.6L358.4 524.7M378.5 525L379.1 525M379 525L379.1 525L379 525M398.7 525L399.3 525M399.2 525L399.3 525L399.2 525M385.3 525.2L385.6 524.6M385.6 524.7L385.6 524.6L385.6 524.7M418.9 525L419.3 525M419.2 525L419.3 525L419.2 525M405.5 525.1L405.8 524.7M405.7 524.7L405.8 524.7L405.7 524.7M425.7 525.1L425.9 524.7M425.9 524.8L425.9 524.7L425.8 524.8M315.1 519.2L314.6 519.2M314.6 519.1L314.6 519.2L314.6 519.2M335.2 519.2L334.7 519.2M334.8 519.1L334.7 519.2L334.8 519.2M355.3 519.2L354.9 519.2M355 519.1L354.9 519.2L355 519.2M388.7 519.2L389.1 519.2M389 519.2L389.1 519.2L389 519.1M408.8 519.2L409.3 519.2M409.2 519.2L409.3 519.2L409.2 519.1M428.9 519.2L429.4 519.2M429.4 519.2L429.4 519.2L429.4 519.1" stroke-width=".3" stroke-opacity=".4"/><path d="M365.5 606.5L364.4 606.5M364.6 606.4L364.4 606.5L364.6 606.6M378.5 606.5L379.6 606.5M379.4 606.6L379.6 606.5L379.4 606.4M355.5 600.7L354.5 600.7M354.6 600.6L354.5 600.7L354.6 600.7M388.5 600.7L389.5 600.7M389.4 600.7L389.5 600.7L389.4 600.6M355.5 589L354.3 589M354.5 588.9L354.3 589L354.5 589.1M388.5 589L389.7 589M389.5 589.1L389.7 589L389.5 588.9M365.5 583.2L364.6 583.2M364.7 583.1L364.6 583.2L364.7 583.2M378.5 583.2L379.4 583.2M379.3 583.2L379.4 583.2L379.3 583.1M345 571.3L345.5 572.3M345.4 572.1L345.5 572.3L345.5 572.1M399 571.3L398.5 572.3M398.5 572.1L398.5 572.3L398.6 572.1M345 559.7L345.5 560.5M345.4 560.4L345.5 560.5L345.5 560.4M399 559.7L398.5 560.5M398.5 560.4L398.5 560.5L398.6 560.4M365.5 559.9L364.6 559.9M364.7 559.9L364.6 559.9L364.7 560M358.7 560.1L358.1 559.2M358.3 559.3L358.1 559.2L358.2 559.4M348.6 553.9L348.1 554.8M348.1 554.6L348.1 554.8L348.2 554.7M378.5 559.9L379.4 559.9M379.3 560L379.4 559.9L379.3 559.9M395.4 553.9L395.9 554.8M395.8 554.7L395.9 554.8L395.9 554.6M385.3 560.1L385.9 559.2M385.8 559.4L385.9 559.2L385.7 559.3M355.5 554.1L354.3 554.1M354.5 554L354.3 554.1L354.5 554.2M388.5 554.1L389.7 554.1M389.5 554.2L389.7 554.1L389.5 554M365.5 548.3L364.4 548.3M364.6 548.2L364.4 548.3L364.6 548.3M378.5 548.3L379.6 548.3M379.4 548.3L379.6 548.3L379.4 548.2M378.8 548.5L378.3 547.5M378.4 547.7L378.3 547.5L378.3 547.7M365.2 548.5L365.7 547.5M365.7 547.7L365.7 547.5L365.6 547.7M355.5 542.5L354.4 542.5M354.6 542.4L354.4 542.5L354.6 542.5M375.2 542.7L375.8 541.7M375.7 541.9L375.8 541.7L375.6 541.8M368.8 542.7L368.2 541.7M368.4 541.8L368.2 541.7L368.3 541.9M388.5 542.5L389.6 542.5M389.4 542.5L389.6 542.5L389.4 542.4M365.5 618.1L364.4 618.1M364.6 618L364.4 618.1L364.6 618.2M378.5 618.1L379.6 618.1M379.4 618.2L379.6 618.1L379.4 618" stroke-width=".3" stroke-opacity=".5"/><path d="M365.5 594.8L364.3 594.8M364.5 594.8L364.3 594.8L364.5 594.9M378.5 594.8L379.7 594.8M379.5 594.9L379.7 594.8L379.5 594.8" stroke-width=".3" stroke-opacity=".6"/><path d="M348.6 589.2L347.9 588.1M348.2 588.3L347.9 588.1L348 588.4M395.4 589.2L396.1 588.1M396 588.4L396.1 588.1L395.8 588.3" stroke-width=".4" stroke-opacity=".6"/><path d="M355.5 612.3L354 612.3M354.3 612.2L354 612.3L354.3 612.4M388.5 612.3L390 612.3M389.7 612.4L390 612.3L389.7 612.2M355.5 577.4L353.9 577.4M354.3 577.3L353.9 577.4L354.3 577.5M388.5 577.4L390.1 577.4M389.7 577.5L390.1 577.4L389.7 577.3M355.5 565.7L353.9 565.7M354.2 565.6L353.9 565.7L354.2 565.8M388.5 565.7L390.1 565.7M389.8 565.8L390.1 565.7L389.8 565.6M355.5 623.9L354 623.9M354.3 623.8L354 623.9L354.3 624M388.5 623.9L390 623.9M389.7 624L390 623.9L389.7 623.8" stroke-width=".4" stroke-opacity=".7"/><path d="M378.8 560.1L378 558.8M378.3 559L378 558.8L378.1 559.1M365.2 560.1L366 558.8M365.9 559.1L366 558.8L365.7 559M375.2 554.3L376 552.9M375.9 553.3L376 552.9L375.7 553.2M368.8 554.3L368 552.9M368.3 553.2L368 552.9L368.1 553.3" stroke-width=".5" stroke-opacity=".7"/><path d="M355.1 577.6L356 576M355.9 576.5L356 576L355.7 576.3M388.9 577.6L388 576M388.3 576.3L388 576L388.1 576.5M348.6 565.5L347.7 567.1M347.8 566.6L347.7 567.1L348.1 566.8M395.4 565.5L396.3 567.1M395.9 566.8L396.3 567.1L396.2 566.6" stroke-width=".5" stroke-opacity=".8"/><path d="M348.6 577.2L347.7 578.8M347.8 578.3L347.7 578.8L348 578.5M395.4 577.2L396.3 578.8M396 578.5L396.3 578.8L396.2 578.3M378.8 571.8L377.9 570.1M378.3 570.5L377.9 570.1L378 570.6M365.2 571.8L366.1 570.1M366 570.6L366.1 570.1L365.7 570.5M375.2 566L376.2 564.3M376.1 564.8L376.2 564.3L375.8 564.7M368.8 566L367.8 564.3M368.2 564.7L367.8 564.3L367.9 564.8" stroke-width=".6" stroke-opacity=".8"/><path d="M378.8 583.4L377.8 581.7M378.2 582L377.8 581.7L377.9 582.2M365.2 583.4L366.2 581.7M366.1 582.2L366.2 581.7L365.8 582M375.2 577.6L376.2 575.9M376.1 576.4L376.2 575.9L375.8 576.2M368.8 577.6L367.8 575.9M368.2 576.2L367.8 575.9L367.9 576.4M358.7 571.8L357.7 570.1M358.1 570.4L357.7 570.1L357.8 570.6M385.3 571.8L386.3 570.1M386.2 570.6L386.3 570.1L385.9 570.4" stroke-width=".6" stroke-opacity=".9"/><path d="M378.8 595.1L377.7 593.1M378.2 593.5L377.7 593.1L377.8 593.7M365.2 595.1L366.3 593.1M366.2 593.7L366.3 593.1L365.8 593.5M375.2 589.2L376.4 587.3M376.2 587.9L376.4 587.3L375.9 587.7M368.8 589.2L367.6 587.3M368.1 587.7L367.6 587.3L367.8 587.9" stroke-width=".7"/><path d="M355.1 612.5L356.2 610.5M356.1 611.1L356.2 610.5L355.8 610.9M388.9 612.5L387.8 610.5M388.2 610.9L387.8 610.5L387.9 611.1M355.1 600.9L356.3 598.8M356.2 599.4L356.3 598.8L355.8 599.2M388.9 600.9L387.7 598.8M388.2 599.2L387.7 598.8L387.8 599.4M355.1 589.2L356.3 587.1M356.2 587.8L356.3 587.1L355.8 587.6M388.9 589.2L387.7 587.1M388.2 587.6L387.7 587.1L387.8 587.8M355.1 624.2L356.2 622.1M356.1 622.8L356.2 622.1L355.8 622.6M388.9 624.2L387.8 622.1M388.2 622.6L387.8 622.1L387.9 622.8" stroke-width=".8"/><path d="M358.7 606.7L357.4 604.4M357.9 604.9L357.4 604.4L357.5 605.1M385.3 606.7L386.6 604.4M386.5 605.1L386.6 604.4L386.1 604.9M375.2 600.9L376.6 598.5M376.5 599.2L376.6 598.5L376 599M368.8 600.9L367.4 598.5M368 599L367.4 598.5L367.5 599.2M358.7 583.4L357.4 581.1M357.9 581.6L357.4 581.1L357.5 581.9M385.3 583.4L386.6 581.1M386.5 581.9L386.6 581.1L386.1 581.6M358.7 618.3L357.4 616M357.9 616.5L357.4 616L357.5 616.8M385.3 618.3L386.6 616M386.5 616.8L386.6 616L386.1 616.5" stroke-width=".9"/><path d="M345 606.7L346.4 604.2M346.3 605L346.4 604.2L345.8 604.8M378.8 606.7L377.5 604.3M378 604.8L377.5 604.3L377.6 605.1M365.2 606.7L366.5 604.3M366.4 605.1L366.5 604.3L366 604.8M399 606.7L397.6 604.2M398.2 604.8L397.6 604.2L397.7 605M358.7 595.1L357.3 592.6M357.9 593.2L357.3 592.6L357.5 593.4M385.3 595.1L386.7 592.6M386.5 593.4L386.7 592.6L386.1 593.2M345 618.3L346.4 615.9M346.3 616.7L346.4 615.9L345.8 616.4M378.8 618.3L377.5 615.9M378 616.5L377.5 615.9L377.6 616.7M365.2 618.3L366.5 615.9M366.4 616.7L366.5 615.9L366 616.5M399 618.3L397.6 615.9M398.2 616.4L397.6 615.9L397.7 616.7" stroke-width="1"/><path d="M375.2 612.5L376.8 609.8M376.6 610.7L376.8 609.8L376.1 610.4M368.8 612.5L367.2 609.8M367.9 610.4L367.2 609.8L367.4 610.7M348.6 600.9L347.1 598.2M347.7 598.8L347.1 598.2L347.3 599.1M395.4 600.9L396.9 598.2M396.7 599.1L396.9 598.2L396.3 598.8M375.2 624.2L376.8 621.4M376.6 622.3L376.8 621.4L376.1 622M368.8 624.2L367.2 621.4M367.9 622L367.2 621.4L367.4 622.3" stroke-width="1.1"/><path d="M348.6 612.5L346.4 608.7M347.4 609.6L346.4 608.7L346.7 610.1M395.4 612.5L397.6 608.7M397.3 610.1L397.6 608.7L396.6 609.6M348.6 624.2L346.4 620.4M347.4 621.3L346.4 620.4L346.7 621.7M395.4 624.2L397.6 620.4M397.3 621.7L397.6 620.4L396.6 621.3" stroke-width="1.6"/></g>
</g>
<rect x="230.4" y="330.6" width="283.80000000000007" height="284.0" fill="none" stroke="#4d4d4d" stroke-width="0.6"/>
<path d="M277.7 614.6v-2.8M277.7 330.6v2.8M230.4 567.27h2.8M514.2 567.27h-2.8M325 614.6v-2.8M325 330.6v2.8M230.4 519.93h2.8M514.2 519.93h-2.8M372.3 614.6v-2.8M372.3 330.6v2.8M230.4 472.6h2.8M514.2 472.6h-2.8M419.6 614.6v-2.8M419.6 330.6v2.8M230.4 425.27h2.8M514.2 425.27h-2.8M466.9 614.6v-2.8M466.9 330.6v2.8M230.4 377.93h2.8M514.2 377.93h-2.8" stroke="#4d4d4d" stroke-width="0.6" fill="none"/>
<text x="226.9" y="618.1" font-size="10.7" text-anchor="end" fill="#262626">-30</text>
<text x="226.9" y="570.77" font-size="10.7" text-anchor="end" fill="#262626">-20</text>
<text x="226.9" y="523.43" font-size="10.7" text-anchor="end" fill="#262626">-10</text>
<text x="226.9" y="476.1" font-size="10.7" text-anchor="end" fill="#262626">0</text>
<text x="226.9" y="428.77" font-size="10.7" text-anchor="end" fill="#262626">10</text>
<text x="226.9" y="381.43" font-size="10.7" text-anchor="end" fill="#262626">20</text>
<text x="226.9" y="334.1" font-size="10.7" text-anchor="end" fill="#262626">30</text>
<text transform="translate(207 472.6) rotate(-90)" font-size="12" text-anchor="middle" fill="#262626">Y (Å)</text>
<text x="462" y="342.4" font-size="13.5" fill="#000">R<tspan font-size="10" dy="2.8">o</tspan><tspan dy="-2.8">=18 Å</tspan></text>
<text x="235.5" y="603.9" font-size="8.75" fill="#000">net current<tspan font-size="6.6" dy="3.3">max</tspan><tspan dy="-3.3">=8e-06 (4e/h)</tspan></text>
<rect x="526.5" y="330.6" width="14.799999999999955" height="284.0" fill="url(#pg)" stroke="#4d4d4d" stroke-width="0.3"/>
<text x="544.3" y="334.9" font-size="10.7" fill="#262626">7e-01</text>
<text x="544.3" y="617.9" font-size="10.7" fill="#262626">2e-06</text>
<text transform="translate(553.6 472.3) rotate(-90)" font-size="10.8" text-anchor="middle" fill="#262626">LDOS (arb. unit)</text>
<clipPath id="cp2"><rect x="230.4" y="641.3" width="283.80000000000007" height="284.0"/></clipPath>
<g clip-path="url(#cp2)">
<path d="M354.8 922.3l-6.7 0M354.8 922.3l3.4-5.8M348.1 922.3l-3.4-5.8M375 922.3l-6.7 0M375 922.3l3.4-5.8M368.2 922.3l-3.4-5.8M395.1 922.3l-6.7 0M395.1 922.3l3.4-5.8M388.4 922.3l-3.4-5.8M358.2 916.5l6.7 0M358.2 916.5l-3.4-5.8M344.7 916.5l3.4-5.8M378.3 916.5l6.7 0M378.3 916.5l-3.4-5.8M364.9 916.5l3.4-5.8M398.5 916.5l-3.4-5.8M385 916.5l3.4-5.8M354.8 910.7l-6.7 0M354.8 910.7l3.4-5.8M348.1 910.7l-3.4-5.8M375 910.7l-6.7 0M375 910.7l3.4-5.8M368.2 910.7l-3.4-5.8M395.1 910.7l-6.7 0M395.1 910.7l3.4-5.8M388.4 910.7l-3.4-5.8M358.2 904.8l6.7 0M358.2 904.8l-3.4-5.8M344.7 904.8l3.4-5.8M378.3 904.8l6.7 0M378.3 904.8l-3.4-5.8M364.9 904.8l3.4-5.8M398.5 904.8l-3.4-5.8M385 904.8l3.4-5.8M354.8 899l-6.7 0M354.8 899l3.4-5.8M348.1 899l-3.4-5.8M375 899l-6.7 0M375 899l3.4-5.8M368.2 899l-3.4-5.8M395.1 899l-6.7 0M395.1 899l3.4-5.8M388.4 899l-3.4-5.8M358.2 893.2l6.7 0M358.2 893.2l-3.4-5.8M344.7 893.2l3.4-5.8M378.3 893.2l6.7 0M378.3 893.2l-3.4-5.8M364.9 893.2l3.4-5.8M398.5 893.2l-3.4-5.8M385 893.2l3.4-5.8M354.8 887.4l-6.7 0M354.8 887.4l3.4-5.8M348.1 887.4l-3.4-5.8M375 887.4l-6.7 0M375 887.4l3.4-5.8M368.2 887.4l-3.4-5.8M395.1 887.4l-6.7 0M395.1 887.4l3.4-5.8M388.4 887.4l-3.4-5.8M358.2 881.6l6.7 0M358.2 881.6l-3.4-5.8M344.7 881.6l3.4-5.8M378.3 881.6l6.7 0M378.3 881.6l-3.4-5.8M364.9 881.6l3.4-5.8M398.5 881.6l-3.4-5.8M385 881.6l3.4-5.8M354.8 875.7l-6.7 0M354.8 875.7l3.4-5.8M348.1 875.7l-3.4-5.8M375 875.7l-6.7 0M375 875.7l3.4-5.8M368.2 875.7l-3.4-5.8M395.1 875.7l-6.7 0M395.1 875.7l3.4-5.8M388.4 875.7l-3.4-5.8M358.2 869.9l6.7 0M358.2 869.9l-3.4-5.8M344.7 869.9l3.4-5.8M378.3 869.9l6.7 0M378.3 869.9l-3.4-5.8M364.9 869.9l3.4-5.8M398.5 869.9l-3.4-5.8M385 869.9l3.4-5.8M334.7 864.1l3.4-5.8M354.8 864.1l-6.7 0M354.8 864.1l3.4-5.8M348.1 864.1l-3.4-5.8M375 864.1l-6.7 0M375 864.1l3.4-5.8M368.2 864.1l-3.4-5.8M395.1 864.1l-6.7 0M395.1 864.1l3.4-5.8M388.4 864.1l-3.4-5.8M408.5 864.1l-3.4-5.8M338 858.3l6.7 0M338 858.3l-3.4-5.8M324.6 858.3l3.4-5.8M358.2 858.3l6.7 0M358.2 858.3l-3.4-5.8M344.7 858.3l3.4-5.8M378.3 858.3l6.7 0M378.3 858.3l-3.4-5.8M364.9 858.3l3.4-5.8M398.5 858.3l6.7 0M398.5 858.3l-3.4-5.8M385 858.3l3.4-5.8M418.6 858.3l-3.4-5.8M405.2 858.3l3.4-5.8M334.7 852.5l-6.7 0M334.7 852.5l3.4-5.8M327.9 852.5l-3.4-5.8M354.8 852.5l-6.7 0M354.8 852.5l3.4-5.8M348.1 852.5l-3.4-5.8M375 852.5l-6.7 0M375 852.5l3.4-5.8M368.2 852.5l-3.4-5.8M395.1 852.5l-6.7 0M395.1 852.5l3.4-5.8M388.4 852.5l-3.4-5.8M415.3 852.5l-6.7 0M415.3 852.5l3.4-5.8M408.5 852.5l-3.4-5.8M317.9 846.6l6.7 0M317.9 846.6l-3.4-5.8M338 846.6l6.7 0M338 846.6l-3.4-5.8M324.6 846.6l3.4-5.8M358.2 846.6l6.7 0M358.2 846.6l-3.4-5.8M344.7 846.6l3.4-5.8M378.3 846.6l6.7 0M378.3 846.6l-3.4-5.8M364.9 846.6l3.4-5.8M398.5 846.6l6.7 0M398.5 846.6l-3.4-5.8M385 846.6l3.4-5.8M418.6 846.6l6.7 0M418.6 846.6l-3.4-5.8M405.2 846.6l3.4-5.8M425.3 846.6l3.4-5.8M314.5 840.8l-6.7 0M314.5 840.8l3.4-5.8M307.8 840.8l-3.4-5.8M334.7 840.8l-6.7 0M334.7 840.8l3.4-5.8M327.9 840.8l-3.4-5.8M354.8 840.8l-6.7 0M354.8 840.8l3.4-5.8M348.1 840.8l-3.4-5.8M375 840.8l-6.7 0M375 840.8l3.4-5.8M368.2 840.8l-3.4-5.8M395.1 840.8l-6.7 0M395.1 840.8l3.4-5.8M388.4 840.8l-3.4-5.8M415.3 840.8l-6.7 0M415.3 840.8l3.4-5.8M408.5 840.8l-3.4-5.8M435.4 840.8l-6.7 0M435.4 840.8l3.4-5.8M428.7 840.8l-3.4-5.8M317.9 835l6.7 0M317.9 835l-3.4-5.8M304.4 835l3.4-5.8M338 835l6.7 0M338 835l-3.4-5.8M324.6 835l3.4-5.8M358.2 835l6.7 0M358.2 835l-3.4-5.8M344.7 835l3.4-5.8M378.3 835l6.7 0M378.3 835l-3.4-5.8M364.9 835l3.4-5.8M398.5 835l6.7 0M398.5 835l-3.4-5.8M385 835l3.4-5.8M418.6 835l6.7 0M418.6 835l-3.4-5.8M405.2 835l3.4-5.8M438.8 835l-3.4-5.8M425.3 835l3.4-5.8M314.5 829.2l-6.7 0M314.5 829.2l3.4-5.8M307.8 829.2l-3.4-5.8M334.7 829.2l-6.7 0M334.7 829.2l3.4-5.8M327.9 829.2l-3.4-5.8M354.8 829.2l-6.7 0M354.8 829.2l3.4-5.8M348.1 829.2l-3.4-5.8M375 829.2l-6.7 0M375 829.2l3.4-5.8M368.2 829.2l-3.4-5.8M395.1 829.2l-6.7 0M395.1 829.2l3.4-5.8M388.4 829.2l-3.4-5.8M415.3 829.2l-6.7 0M415.3 829.2l3.4-5.8M408.5 829.2l-3.4-5.8M435.4 829.2l-6.7 0M435.4 829.2l3.4-5.8M428.7 829.2l-3.4-5.8M297.7 823.3l6.7 0M297.7 823.3l-3.4-5.8M317.9 823.3l6.7 0M317.9 823.3l-3.4-5.8M304.4 823.3l3.4-5.8M338 823.3l6.7 0M338 823.3l-3.4-5.8M324.6 823.3l3.4-5.8M358.2 823.3l6.7 0M358.2 823.3l-3.4-5.8M344.7 823.3l3.4-5.8M378.3 823.3l6.7 0M378.3 823.3l-3.4-5.8M364.9 823.3l3.4-5.8M398.5 823.3l6.7 0M398.5 823.3l-3.4-5.8M385 823.3l3.4-5.8M418.6 823.3l6.7 0M418.6 823.3l-3.4-5.8M405.2 823.3l3.4-5.8M438.8 823.3l6.7 0M438.8 823.3l-3.4-5.8M425.3 823.3l3.4-5.8M445.5 823.3l3.4-5.8M294.4 817.5l3.4-5.8M314.5 817.5l-6.7 0M314.5 817.5l3.4-5.8M307.8 817.5l-3.4-5.8M334.7 817.5l-6.7 0M334.7 817.5l3.4-5.8M327.9 817.5l-3.4-5.8M354.8 817.5l-6.7 0M354.8 817.5l3.4-5.8M348.1 817.5l-3.4-5.8M375 817.5l-6.7 0M375 817.5l3.4-5.8M368.2 817.5l-3.4-5.8M395.1 817.5l-6.7 0M395.1 817.5l3.4-5.8M388.4 817.5l-3.4-5.8M415.3 817.5l-6.7 0M415.3 817.5l3.4-5.8M408.5 817.5l-3.4-5.8M435.4 817.5l-6.7 0M435.4 817.5l3.4-5.8M428.7 817.5l-3.4-5.8M448.8 817.5l-3.4-5.8M297.7 811.7l6.7 0M297.7 811.7l-3.4-5.8M317.9 811.7l6.7 0M317.9 811.7l-3.4-5.8M304.4 811.7l3.4-5.8M338 811.7l6.7 0M338 811.7l-3.4-5.8M324.6 811.7l3.4-5.8M358.2 811.7l6.7 0M358.2 811.7l-3.4-5.8M344.7 811.7l3.4-5.8M378.3 811.7l6.7 0M378.3 811.7l-3.4-5.8M364.9 811.7l3.4-5.8M398.5 811.7l6.7 0M398.5 811.7l-3.4-5.8M385 811.7l3.4-5.8M418.6 811.7l6.7 0M418.6 811.7l-3.4-5.8M405.2 811.7l3.4-5.8M438.8 811.7l6.7 0M438.8 811.7l-3.4-5.8M425.3 811.7l3.4-5.8M445.5 811.7l3.4-5.8M294.4 805.9l-6.7 0M294.4 805.9l3.4-5.8M287.6 805.9l-3.4-5.8M314.5 805.9l-6.7 0M314.5 805.9l3.4-5.8M307.8 805.9l-3.4-5.8M334.7 805.9l-6.7 0M334.7 805.9l3.4-5.8M327.9 805.9l-3.4-5.8M354.8 805.9l-6.7 0M354.8 805.9l3.4-5.8M348.1 805.9l-3.4-5.8M375 805.9l-6.7 0M375 805.9l3.4-5.8M368.2 805.9l-3.4-5.8M395.1 805.9l-6.7 0M395.1 805.9l3.4-5.8M388.4 805.9l-3.4-5.8M415.3 805.9l-6.7 0M415.3 805.9l3.4-5.8M408.5 805.9l-3.4-5.8M435.4 805.9l-6.7 0M435.4 805.9l3.4-5.8M428.7 805.9l-3.4-5.8M455.6 805.9l-6.7 0M455.6 805.9l3.4-5.8M448.8 805.9l-3.4-5.8M297.7 800.1l6.7 0M297.7 800.1l-3.4-5.8M284.3 800.1l3.4-5.8M317.9 800.1l6.7 0M317.9 800.1l-3.4-5.8M304.4 800.1l3.4-5.8M338 800.1l6.7 0M338 800.1l-3.4-5.8M324.6 800.1l3.4-5.8M358.2 800.1l6.7 0M358.2 800.1l-3.4-5.8M344.7 800.1l3.4-5.8M378.3 800.1l6.7 0M378.3 800.1l-3.4-5.8M364.9 800.1l3.4-5.8M398.5 800.1l6.7 0M398.5 800.1l-3.4-5.8M385 800.1l3.4-5.8M418.6 800.1l6.7 0M418.6 800.1l-3.4-5.8M405.2 800.1l3.4-5.8M438.8 800.1l6.7 0M438.8 800.1l-3.4-5.8M425.3 800.1l3.4-5.8M458.9 800.1l-3.4-5.8M445.5 800.1l3.4-5.8M294.4 794.2l-6.7 0M294.4 794.2l3.4-5.8M287.6 794.2l-3.4-5.8M314.5 794.2l-6.7 0M314.5 794.2l3.4-5.8M307.8 794.2l-3.4-5.8M334.7 794.2l-6.7 0M334.7 794.2l3.4-5.8M327.9 794.2l-3.4-5.8M354.8 794.2l-6.7 0M354.8 794.2l3.4-5.8M348.1 794.2l-3.4-5.8M375 794.2l-6.7 0M375 794.2l3.4-5.8M368.2 794.2l-3.4-5.8M395.1 794.2l-6.7 0M395.1 794.2l3.4-5.8M388.4 794.2l-3.4-5.8M415.3 794.2l-6.7 0M415.3 794.2l3.4-5.8M408.5 794.2l-3.4-5.8M435.4 794.2l-6.7 0M435.4 794.2l3.4-5.8M428.7 794.2l-3.4-5.8M455.6 794.2l-6.7 0M455.6 794.2l3.4-5.8M448.8 794.2l-3.4-5.8M297.7 788.4l6.7 0M297.7 788.4l-3.4-5.8M284.3 788.4l3.4-5.8M317.9 788.4l6.7 0M317.9 788.4l-3.4-5.8M304.4 788.4l3.4-5.8M338 788.4l6.7 0M338 788.4l-3.4-5.8M324.6 788.4l3.4-5.8M358.2 788.4l6.7 0M358.2 788.4l-3.4-5.8M344.7 788.4l3.4-5.8M378.3 788.4l6.7 0M378.3 788.4l-3.4-5.8M364.9 788.4l3.4-5.8M398.5 788.4l6.7 0M398.5 788.4l-3.4-5.8M385 788.4l3.4-5.8M418.6 788.4l6.7 0M418.6 788.4l-3.4-5.8M405.2 788.4l3.4-5.8M438.8 788.4l6.7 0M438.8 788.4l-3.4-5.8M425.3 788.4l3.4-5.8M458.9 788.4l-3.4-5.8M445.5 788.4l3.4-5.8M294.4 782.6l-6.7 0M294.4 782.6l3.4-5.8M287.6 782.6l-3.4-5.8M314.5 782.6l-6.7 0M314.5 782.6l3.4-5.8M307.8 782.6l-3.4-5.8M334.7 782.6l-6.7 0M334.7 782.6l3.4-5.8M327.9 782.6l-3.4-5.8M354.8 782.6l-6.7 0M354.8 782.6l3.4-5.8M348.1 782.6l-3.4-5.8M375 782.6l-6.7 0M375 782.6l3.4-5.8M368.2 782.6l-3.4-5.8M395.1 782.6l-6.7 0M395.1 782.6l3.4-5.8M388.4 782.6l-3.4-5.8M415.3 782.6l-6.7 0M415.3 782.6l3.4-5.8M408.5 782.6l-3.4-5.8M435.4 782.6l-6.7 0M435.4 782.6l3.4-5.8M428.7 782.6l-3.4-5.8M455.6 782.6l-6.7 0M455.6 782.6l3.4-5.8M448.8 782.6l-3.4-5.8M297.7 776.8l6.7 0M297.7 776.8l-3.4-5.8M284.3 776.8l3.4-5.8M317.9 776.8l6.7 0M317.9 776.8l-3.4-5.8M304.4 776.8l3.4-5.8M338 776.8l6.7 0M338 776.8l-3.4-5.8M324.6 776.8l3.4-5.8M358.2 776.8l6.7 0M358.2 776.8l-3.4-5.8M344.7 776.8l3.4-5.8M378.3 776.8l6.7 0M378.3 776.8l-3.4-5.8M364.9 776.8l3.4-5.8M398.5 776.8l6.7 0M398.5 776.8l-3.4-5.8M385 776.8l3.4-5.8M418.6 776.8l6.7 0M418.6 776.8l-3.4-5.8M405.2 776.8l3.4-5.8M438.8 776.8l6.7 0M438.8 776.8l-3.4-5.8M425.3 776.8l3.4-5.8M458.9 776.8l-3.4-5.8M445.5 776.8l3.4-5.8M294.4 771l-6.7 0M294.4 771l3.4-5.8M287.6 771l-3.4-5.8M314.5 771l-6.7 0M314.5 771l3.4-5.8M307.8 771l-3.4-5.8M334.7 771l-6.7 0M334.7 771l3.4-5.8M327.9 771l-3.4-5.8M354.8 771l-6.7 0M354.8 771l3.4-5.8M348.1 771l-3.4-5.8M375 771l-6.7 0M375 771l3.4-5.8M368.2 771l-3.4-5.8M395.1 771l-6.7 0M395.1 771l3.4-5.8M388.4 771l-3.4-5.8M415.3 771l-6.7 0M415.3 771l3.4-5.8M408.5 771l-3.4-5.8M435.4 771l-6.7 0M435.4 771l3.4-5.8M428.7 771l-3.4-5.8M455.6 771l-6.7 0M455.6 771l3.4-5.8M448.8 771l-3.4-5.8M297.7 765.1l6.7 0M297.7 765.1l-3.4-5.8M284.3 765.1l3.4-5.8M317.9 765.1l6.7 0M317.9 765.1l-3.4-5.8M304.4 765.1l3.4-5.8M338 765.1l6.7 0M338 765.1l-3.4-5.8M324.6 765.1l3.4-5.8M358.2 765.1l6.7 0M358.2 765.1l-3.4-5.8M344.7 765.1l3.4-5.8M378.3 765.1l6.7 0M378.3 765.1l-3.4-5.8M364.9 765.1l3.4-5.8M398.5 765.1l6.7 0M398.5 765.1l-3.4-5.8M385 765.1l3.4-5.8M418.6 765.1l6.7 0M418.6 765.1l-3.4-5.8M405.2 765.1l3.4-5.8M438.8 765.1l6.7 0M438.8 765.1l-3.4-5.8M425.3 765.1l3.4-5.8M458.9 765.1l-3.4-5.8M445.5 765.1l3.4-5.8M294.4 759.3l-6.7 0M294.4 759.3l3.4-5.8M314.5 759.3l-6.7 0M314.5 759.3l3.4-5.8M307.8 759.3l-3.4-5.8M334.7 759.3l-6.7 0M334.7 759.3l3.4-5.8M327.9 759.3l-3.4-5.8M354.8 759.3l-6.7 0M354.8 759.3l3.4-5.8M348.1 759.3l-3.4-5.8M375 759.3l-6.7 0M375 759.3l3.4-5.8M368.2 759.3l-3.4-5.8M395.1 759.3l-6.7 0M395.1 759.3l3.4-5.8M388.4 759.3l-3.4-5.8M415.3 759.3l-6.7 0M415.3 759.3l3.4-5.8M408.5 759.3l-3.4-5.8M435.4 759.3l-6.7 0M435.4 759.3l3.4-5.8M428.7 759.3l-3.4-5.8M455.6 759.3l-6.7 0M448.8 759.3l-3.4-5.8M297.7 753.5l6.7 0M297.7 753.5l-3.4-5.8M317.9 753.5l6.7 0M317.9 753.5l-3.4-5.8M304.4 753.5l3.4-5.8M338 753.5l6.7 0M338 753.5l-3.4-5.8M324.6 753.5l3.4-5.8M358.2 753.5l6.7 0M358.2 753.5l-3.4-5.8M344.7 753.5l3.4-5.8M378.3 753.5l6.7 0M378.3 753.5l-3.4-5.8M364.9 753.5l3.4-5.8M398.5 753.5l6.7 0M398.5 753.5l-3.4-5.8M385 753.5l3.4-5.8M418.6 753.5l6.7 0M418.6 753.5l-3.4-5.8M405.2 753.5l3.4-5.8M438.8 753.5l6.7 0M438.8 753.5l-3.4-5.8M425.3 753.5l3.4-5.8M445.5 753.5l3.4-5.8M294.4 747.7l3.4-5.8M314.5 747.7l-6.7 0M314.5 747.7l3.4-5.8M307.8 747.7l-3.4-5.8M334.7 747.7l-6.7 0M334.7 747.7l3.4-5.8M327.9 747.7l-3.4-5.8M354.8 747.7l-6.7 0M354.8 747.7l3.4-5.8M348.1 747.7l-3.4-5.8M375 747.7l-6.7 0M375 747.7l3.4-5.8M368.2 747.7l-3.4-5.8M395.1 747.7l-6.7 0M395.1 747.7l3.4-5.8M388.4 747.7l-3.4-5.8M415.3 747.7l-6.7 0M415.3 747.7l3.4-5.8M408.5 747.7l-3.4-5.8M435.4 747.7l-6.7 0M435.4 747.7l3.4-5.8M428.7 747.7l-3.4-5.8M448.8 747.7l-3.4-5.8M297.7 741.9l6.7 0M317.9 741.9l6.7 0M317.9 741.9l-3.4-5.8M304.4 741.9l3.4-5.8M338 741.9l6.7 0M338 741.9l-3.4-5.8M324.6 741.9l3.4-5.8M358.2 741.9l6.7 0M358.2 741.9l-3.4-5.8M344.7 741.9l3.4-5.8M378.3 741.9l6.7 0M378.3 741.9l-3.4-5.8M364.9 741.9l3.4-5.8M398.5 741.9l6.7 0M398.5 741.9l-3.4-5.8M385 741.9l3.4-5.8M418.6 741.9l6.7 0M418.6 741.9l-3.4-5.8M405.2 741.9l3.4-5.8M438.8 741.9l6.7 0M438.8 741.9l-3.4-5.8M425.3 741.9l3.4-5.8M314.5 736l-6.7 0M314.5 736l3.4-5.8M307.8 736l-3.4-5.8M334.7 736l-6.7 0M334.7 736l3.4-5.8M327.9 736l-3.4-5.8M354.8 736l-6.7 0M354.8 736l3.4-5.8M348.1 736l-3.4-5.8M375 736l-6.7 0M375 736l3.4-5.8M368.2 736l-3.4-5.8M395.1 736l-6.7 0M395.1 736l3.4-5.8M388.4 736l-3.4-5.8M415.3 736l-6.7 0M415.3 736l3.4-5.8M408.5 736l-3.4-5.8M435.4 736l-6.7 0M435.4 736l3.4-5.8M428.7 736l-3.4-5.8M317.9 730.2l6.7 0M317.9 730.2l-3.4-5.8M304.4 730.2l3.4-5.8M338 730.2l6.7 0M338 730.2l-3.4-5.8M324.6 730.2l3.4-5.8M358.2 730.2l6.7 0M358.2 730.2l-3.4-5.8M344.7 730.2l3.4-5.8M378.3 730.2l6.7 0M378.3 730.2l-3.4-5.8M364.9 730.2l3.4-5.8M398.5 730.2l6.7 0M398.5 730.2l-3.4-5.8M385 730.2l3.4-5.8M418.6 730.2l6.7 0M418.6 730.2l-3.4-5.8M405.2 730.2l3.4-5.8M438.8 730.2l-3.4-5.8M425.3 730.2l3.4-5.8M314.5 724.4l-6.7 0M314.5 724.4l3.4-5.8M334.7 724.4l-6.7 0M334.7 724.4l3.4-5.8M327.9 724.4l-3.4-5.8M354.8 724.4l-6.7 0M354.8 724.4l3.4-5.8M348.1 724.4l-3.4-5.8M375 724.4l-6.7 0M375 724.4l3.4-5.8M368.2 724.4l-3.4-5.8M395.1 724.4l-6.7 0M395.1 724.4l3.4-5.8M388.4 724.4l-3.4-5.8M415.3 724.4l-6.7 0M415.3 724.4l3.4-5.8M408.5 724.4l-3.4-5.8M435.4 724.4l-6.7 0M428.7 724.4l-3.4-5.8M317.9 718.6l6.7 0M338 718.6l6.7 0M338 718.6l-3.4-5.8M324.6 718.6l3.4-5.8M358.2 718.6l6.7 0M358.2 718.6l-3.4-5.8M344.7 718.6l3.4-5.8M378.3 718.6l6.7 0M378.3 718.6l-3.4-5.8M364.9 718.6l3.4-5.8M398.5 718.6l6.7 0M398.5 718.6l-3.4-5.8M385 718.6l3.4-5.8M418.6 718.6l6.7 0M418.6 718.6l-3.4-5.8M405.2 718.6l3.4-5.8M334.7 712.7l-6.7 0M334.7 712.7l3.4-5.8M327.9 712.7l-3.4-5.8M354.8 712.7l-6.7 0M354.8 712.7l3.4-5.8M348.1 712.7l-3.4-5.8M375 712.7l-6.7 0M375 712.7l3.4-5.8M368.2 712.7l-3.4-5.8M395.1 712.7l-6.7 0M395.1 712.7l3.4-5.8M388.4 712.7l-3.4-5.8M415.3 712.7l-6.7 0M415.3 712.7l3.4-5.8M408.5 712.7l-3.4-5.8M338 706.9l6.7 0M338 706.9l-3.4-5.8M358.2 706.9l6.7 0M358.2 706.9l-3.4-5.8M344.7 706.9l3.4-5.8M378.3 706.9l6.7 0M378.3 706.9l-3.4-5.8M364.9 706.9l3.4-5.8M398.5 706.9l6.7 0M398.5 706.9l-3.4-5.8M385 706.9l3.4-5.8M405.2 706.9l3.4-5.8M354.8 701.1l-6.7 0M354.8 701.1l3.4-5.8M348.1 701.1l-3.4-5.8M375 701.1l-6.7 0M375 701.1l3.4-5.8M368.2 701.1l-3.4-5.8M395.1 701.1l-6.7 0M395.1 701.1l3.4-5.8M388.4 701.1l-3.4-5.8M358.2 695.3l6.7 0M358.2 695.3l-3.4-5.8M344.7 695.3l3.4-5.8M378.3 695.3l6.7 0M378.3 695.3l-3.4-5.8M364.9 695.3l3.4-5.8M398.5 695.3l-3.4-5.8M385 695.3l3.4-5.8M354.8 689.5l-6.7 0M354.8 689.5l3.4-5.8M348.1 689.5l-3.4-5.8M375 689.5l-6.7 0M375 689.5l3.4-5.8M368.2 689.5l-3.4-5.8M395.1 689.5l-6.7 0M395.1 689.5l3.4-5.8M388.4 689.5l-3.4-5.8M358.2 683.6l6.7 0M358.2 683.6l-3.4-5.8M344.7 683.6l3.4-5.8M378.3 683.6l6.7 0M378.3 683.6l-3.4-5.8M364.9 683.6l3.4-5.8M398.5 683.6l-3.4-5.8M385 683.6l3.4-5.8M354.8 677.8l-6.7 0M354.8 677.8l3.4-5.8M348.1 677.8l-3.4-5.8M375 677.8l-6.7 0M375 677.8l3.4-5.8M368.2 677.8l-3.4-5.8M395.1 677.8l-6.7 0M395.1 677.8l3.4-5.8M388.4 677.8l-3.4-5.8M358.2 672l6.7 0M358.2 672l-3.4-5.8M344.7 672l3.4-5.8M378.3 672l6.7 0M378.3 672l-3.4-5.8M364.9 672l3.4-5.8M398.5 672l-3.4-5.8M385 672l3.4-5.8M354.8 666.2l-6.7 0M354.8 666.2l3.4-5.8M348.1 666.2l-3.4-5.8M375 666.2l-6.7 0M375 666.2l3.4-5.8M368.2 666.2l-3.4-5.8M395.1 666.2l-6.7 0M395.1 666.2l3.4-5.8M388.4 666.2l-3.4-5.8M358.2 660.4l6.7 0M358.2 660.4l-3.4-5.8M344.7 660.4l3.4-5.8M378.3 660.4l6.7 0M378.3 660.4l-3.4-5.8M364.9 660.4l3.4-5.8M398.5 660.4l-3.4-5.8M385 660.4l3.4-5.8M354.8 654.5l-6.7 0M354.8 654.5l3.4-5.8M348.1 654.5l-3.4-5.8M375 654.5l-6.7 0M375 654.5l3.4-5.8M368.2 654.5l-3.4-5.8M395.1 654.5l-6.7 0M395.1 654.5l3.4-5.8M388.4 654.5l-3.4-5.8M358.2 648.7l6.7 0M358.2 648.7l-3.4-5.8M344.7 648.7l3.4-5.8M378.3 648.7l6.7 0M378.3 648.7l-3.4-5.8M364.9 648.7l3.4-5.8M398.5 648.7l-3.4-5.8M385 648.7l3.4-5.8M354.8 642.9l-6.7 0M375 642.9l-6.7 0M395.1 642.9l-6.7 0" stroke="#f7a8bd" stroke-width="0.07" fill="none"/>
<circle cx="415.3" cy="771" r=".3" fill="#352b89"/><circle cx="327.9" cy="771" r=".3" fill="#352b89"/><circle cx="415.3" cy="794.2" r=".3" fill="#352b89"/><circle cx="327.9" cy="794.2" r=".3" fill="#352b89"/><circle cx="415.3" cy="805.9" r=".3" fill="#352b89"/><circle cx="327.9" cy="805.9" r=".3" fill="#352b89"/><circle cx="327.9" cy="759.3" r=".3" fill="#352b89"/><circle cx="415.3" cy="759.3" r=".3" fill="#352b89"/><circle cx="405.2" cy="800.1" r=".3" fill="#352b89"/><circle cx="338" cy="800.1" r=".3" fill="#352b89"/><circle cx="338" cy="765.1" r=".3" fill="#352b89"/><circle cx="405.2" cy="765.1" r=".3" fill="#352b89"/><circle cx="405.2" cy="741.9" r=".3" fill="#352c8a"/><circle cx="338" cy="741.9" r=".3" fill="#352c8a"/><circle cx="338" cy="823.3" r=".3" fill="#352c8a"/><circle cx="405.2" cy="823.3" r=".3" fill="#352c8a"/><circle cx="385" cy="648.7" r=".3" fill="#352c8a"/><circle cx="358.2" cy="648.7" r=".3" fill="#352c8a"/><circle cx="358.2" cy="916.5" r=".3" fill="#352c8a"/><circle cx="385" cy="916.5" r=".3" fill="#352c8a"/><circle cx="405.2" cy="753.5" r=".3" fill="#352c8a"/><circle cx="338" cy="753.5" r=".3" fill="#352c8a"/><circle cx="405.2" cy="811.7" r=".3" fill="#352c8a"/><circle cx="338" cy="811.7" r=".3" fill="#352c8a"/><circle cx="358.2" cy="695.3" r=".3" fill="#352c8a"/><circle cx="385" cy="695.3" r=".3" fill="#352c8a"/><circle cx="385" cy="869.9" r=".3" fill="#352c8a"/><circle cx="358.2" cy="869.9" r=".3" fill="#352c8a"/><circle cx="348.1" cy="724.4" r=".3" fill="#352c8a"/><circle cx="395.1" cy="724.4" r=".3" fill="#352c8a"/><circle cx="348.1" cy="840.8" r=".3" fill="#352c8a"/><circle cx="395.1" cy="840.8" r=".3" fill="#352c8a"/><circle cx="358.2" cy="881.6" r=".3" fill="#352c8a"/><circle cx="385" cy="881.6" r=".3" fill="#352c8a"/><circle cx="385" cy="683.6" r=".3" fill="#352c8a"/><circle cx="358.2" cy="683.6" r=".3" fill="#352c8a"/><circle cx="405.2" cy="788.4" r=".3" fill="#352c8a"/><circle cx="338" cy="788.4" r=".3" fill="#352c8a"/><circle cx="338" cy="776.8" r=".3" fill="#352c8a"/><circle cx="405.2" cy="776.8" r=".3" fill="#352c8a"/><circle cx="395.1" cy="817.5" r=".3" fill="#352c8a"/><circle cx="348.1" cy="817.5" r=".3" fill="#352c8a"/><circle cx="395.1" cy="747.7" r=".3" fill="#352c8a"/><circle cx="348.1" cy="747.7" r=".3" fill="#352c8a"/><circle cx="385" cy="904.8" r=".3" fill="#352c8a"/><circle cx="358.2" cy="904.8" r=".3" fill="#352c8a"/><circle cx="358.2" cy="660.4" r=".3" fill="#352c8a"/><circle cx="385" cy="660.4" r=".3" fill="#352c8a"/><circle cx="395.1" cy="736" r=".3" fill="#352c8a"/><circle cx="348.1" cy="736" r=".3" fill="#352c8a"/><circle cx="395.1" cy="829.2" r=".3" fill="#352c8a"/><circle cx="348.1" cy="829.2" r=".3" fill="#352c8a"/><circle cx="358.2" cy="893.2" r=".3" fill="#352c8a"/><circle cx="385" cy="893.2" r=".3" fill="#352c8a"/><circle cx="385" cy="672" r=".3" fill="#352c8a"/><circle cx="358.2" cy="672" r=".3" fill="#352c8a"/><circle cx="395.1" cy="782.6" r=".3" fill="#352c8b"/><circle cx="348.1" cy="782.6" r=".3" fill="#352c8b"/><circle cx="385" cy="706.9" r=".3" fill="#352c8b"/><circle cx="358.2" cy="706.9" r=".3" fill="#352c8b"/><circle cx="358.2" cy="858.3" r=".3" fill="#352c8b"/><circle cx="385" cy="858.3" r=".3" fill="#352c8b"/><circle cx="395.1" cy="771" r=".3" fill="#352d8c"/><circle cx="348.1" cy="771" r=".3" fill="#352d8c"/><circle cx="348.1" cy="794.2" r=".3" fill="#352d8c"/><circle cx="395.1" cy="794.2" r=".3" fill="#352d8c"/><circle cx="448.8" cy="782.6" r=".3" fill="#352d8c"/><circle cx="294.4" cy="782.6" r=".3" fill="#352d8c"/><circle cx="348.1" cy="805.9" r=".3" fill="#352d8c"/><circle cx="395.1" cy="805.9" r=".3" fill="#352d8c"/><circle cx="395.1" cy="759.3" r=".3" fill="#352d8c"/><circle cx="348.1" cy="759.3" r=".3" fill="#352d8c"/><circle cx="385" cy="846.6" r=".3" fill="#352d8c"/><circle cx="358.2" cy="846.6" r=".3" fill="#352d8c"/><circle cx="385" cy="718.6" r=".3" fill="#352d8c"/><circle cx="358.2" cy="718.6" r=".3" fill="#352d8c"/><circle cx="385" cy="835" r=".31" fill="#352d8d"/><circle cx="358.2" cy="835" r=".31" fill="#352d8d"/><circle cx="358.2" cy="730.2" r=".31" fill="#352d8d"/><circle cx="385" cy="730.2" r=".31" fill="#352d8d"/><circle cx="385" cy="800.1" r=".32" fill="#352d8d"/><circle cx="358.2" cy="800.1" r=".32" fill="#352d8d"/><circle cx="358.2" cy="765.1" r=".32" fill="#352d8d"/><circle cx="385" cy="765.1" r=".32" fill="#352d8d"/><circle cx="358.2" cy="753.5" r=".34" fill="#362e8e"/><circle cx="385" cy="753.5" r=".34" fill="#362e8e"/><circle cx="358.2" cy="811.7" r=".34" fill="#362e8e"/><circle cx="385" cy="811.7" r=".34" fill="#362e8e"/><circle cx="385" cy="741.9" r=".35" fill="#362e8e"/><circle cx="358.2" cy="741.9" r=".35" fill="#362e8e"/><circle cx="385" cy="823.3" r=".35" fill="#362e8e"/><circle cx="358.2" cy="823.3" r=".35" fill="#362e8e"/><circle cx="428.7" cy="736" r=".35" fill="#362e8e"/><circle cx="314.5" cy="736" r=".35" fill="#362e8e"/><circle cx="428.7" cy="829.2" r=".35" fill="#362e8e"/><circle cx="314.5" cy="829.2" r=".35" fill="#362e8e"/><circle cx="385" cy="788.4" r=".37" fill="#362e8f"/><circle cx="358.2" cy="788.4" r=".37" fill="#362e8f"/><circle cx="385" cy="776.8" r=".37" fill="#362e8f"/><circle cx="358.2" cy="776.8" r=".37" fill="#362e8f"/><circle cx="428.7" cy="782.6" r=".37" fill="#362e8f"/><circle cx="314.5" cy="782.6" r=".37" fill="#362e8f"/><circle cx="368.2" cy="666.2" r=".38" fill="#362f90"/><circle cx="375" cy="666.2" r=".38" fill="#362f90"/><circle cx="375" cy="899" r=".38" fill="#362f90"/><circle cx="368.2" cy="899" r=".38" fill="#362f90"/><circle cx="375" cy="782.6" r=".38" fill="#362f90"/><circle cx="368.2" cy="782.6" r=".38" fill="#362f90"/><circle cx="368.2" cy="677.8" r=".39" fill="#362f90"/><circle cx="375" cy="677.8" r=".39" fill="#362f90"/><circle cx="368.2" cy="887.4" r=".39" fill="#362f90"/><circle cx="375" cy="887.4" r=".39" fill="#362f90"/><circle cx="368.2" cy="910.7" r=".42" fill="#363091"/><circle cx="375" cy="910.7" r=".42" fill="#363091"/><circle cx="368.2" cy="654.5" r=".42" fill="#363091"/><circle cx="375" cy="654.5" r=".42" fill="#363091"/><circle cx="408.5" cy="782.6" r=".42" fill="#363092"/><circle cx="334.7" cy="782.6" r=".42" fill="#363092"/><circle cx="368.2" cy="817.5" r=".43" fill="#363092"/><circle cx="375" cy="817.5" r=".43" fill="#363092"/><circle cx="368.2" cy="747.7" r=".43" fill="#363092"/><circle cx="375" cy="747.7" r=".43" fill="#363092"/><circle cx="368.2" cy="736" r=".43" fill="#363092"/><circle cx="375" cy="736" r=".43" fill="#363092"/><circle cx="375" cy="829.2" r=".43" fill="#363092"/><circle cx="368.2" cy="829.2" r=".43" fill="#363092"/><circle cx="354.8" cy="782.6" r=".43" fill="#363092"/><circle cx="388.4" cy="782.6" r=".43" fill="#363092"/><circle cx="375" cy="771" r=".43" fill="#363092"/><circle cx="368.2" cy="771" r=".43" fill="#363092"/><circle cx="375" cy="794.2" r=".43" fill="#363092"/><circle cx="368.2" cy="794.2" r=".43" fill="#363092"/><circle cx="368.2" cy="875.7" r=".43" fill="#363092"/><circle cx="375" cy="875.7" r=".43" fill="#363092"/><circle cx="375" cy="689.5" r=".43" fill="#363092"/><circle cx="368.2" cy="689.5" r=".43" fill="#363092"/><circle cx="368.2" cy="852.5" r=".44" fill="#363093"/><circle cx="375" cy="852.5" r=".44" fill="#363093"/><circle cx="368.2" cy="712.7" r=".44" fill="#363093"/><circle cx="375" cy="712.7" r=".44" fill="#363093"/><circle cx="324.6" cy="800.1" r=".44" fill="#363093"/><circle cx="418.6" cy="800.1" r=".44" fill="#363093"/><circle cx="324.6" cy="765.1" r=".44" fill="#363093"/><circle cx="418.6" cy="765.1" r=".44" fill="#363093"/><circle cx="375" cy="724.4" r=".45" fill="#363093"/><circle cx="368.2" cy="724.4" r=".45" fill="#363093"/><circle cx="375" cy="840.8" r=".45" fill="#363093"/><circle cx="368.2" cy="840.8" r=".45" fill="#363093"/><circle cx="368.2" cy="864.1" r=".45" fill="#363093"/><circle cx="375" cy="864.1" r=".45" fill="#363093"/><circle cx="375" cy="701.1" r=".45" fill="#363093"/><circle cx="368.2" cy="701.1" r=".45" fill="#363093"/><circle cx="378.3" cy="800.1" r=".46" fill="#363093"/><circle cx="364.9" cy="800.1" r=".46" fill="#363093"/><circle cx="378.3" cy="765.1" r=".46" fill="#363093"/><circle cx="364.9" cy="765.1" r=".46" fill="#363093"/><circle cx="368.2" cy="922.3" r=".46" fill="#363194"/><circle cx="375" cy="922.3" r=".46" fill="#363194"/><circle cx="375" cy="642.9" r=".46" fill="#363194"/><circle cx="368.2" cy="642.9" r=".46" fill="#363194"/><circle cx="368.2" cy="805.9" r=".46" fill="#363194"/><circle cx="375" cy="805.9" r=".46" fill="#363194"/><circle cx="375" cy="759.3" r=".46" fill="#363194"/><circle cx="368.2" cy="759.3" r=".46" fill="#363194"/><circle cx="398.5" cy="800.1" r=".47" fill="#363194"/><circle cx="344.7" cy="800.1" r=".47" fill="#363194"/><circle cx="398.5" cy="765.1" r=".47" fill="#363194"/><circle cx="344.7" cy="765.1" r=".47" fill="#363194"/><circle cx="304.4" cy="800.1" r=".49" fill="#363296"/><circle cx="438.8" cy="800.1" r=".49" fill="#363296"/><circle cx="438.8" cy="765.1" r=".49" fill="#363296"/><circle cx="304.4" cy="765.1" r=".49" fill="#363296"/><circle cx="378.3" cy="788.4" r=".5" fill="#363296"/><circle cx="364.9" cy="788.4" r=".5" fill="#363296"/><circle cx="378.3" cy="776.8" r=".5" fill="#363296"/><circle cx="364.9" cy="776.8" r=".5" fill="#363296"/><circle cx="408.5" cy="736" r=".52" fill="#363297"/><circle cx="334.7" cy="736" r=".52" fill="#363297"/><circle cx="408.5" cy="829.2" r=".52" fill="#363297"/><circle cx="334.7" cy="829.2" r=".52" fill="#363297"/><circle cx="418.6" cy="835" r=".52" fill="#363297"/><circle cx="324.6" cy="835" r=".52" fill="#363297"/><circle cx="418.6" cy="730.2" r=".52" fill="#363297"/><circle cx="324.6" cy="730.2" r=".52" fill="#363297"/><circle cx="388.4" cy="771" r=".52" fill="#363298"/><circle cx="354.8" cy="771" r=".52" fill="#363298"/><circle cx="354.8" cy="794.2" r=".52" fill="#363298"/><circle cx="388.4" cy="794.2" r=".52" fill="#363298"/><circle cx="364.9" cy="753.5" r=".53" fill="#363398"/><circle cx="378.3" cy="753.5" r=".53" fill="#363398"/><circle cx="378.3" cy="811.7" r=".53" fill="#363398"/><circle cx="364.9" cy="811.7" r=".53" fill="#363398"/><circle cx="408.5" cy="817.5" r=".54" fill="#363398"/><circle cx="334.7" cy="817.5" r=".54" fill="#363398"/><circle cx="408.5" cy="747.7" r=".54" fill="#363398"/><circle cx="334.7" cy="747.7" r=".54" fill="#363398"/><circle cx="398.5" cy="753.5" r=".54" fill="#363398"/><circle cx="344.7" cy="753.5" r=".54" fill="#363398"/><circle cx="344.7" cy="811.7" r=".54" fill="#363398"/><circle cx="398.5" cy="811.7" r=".54" fill="#363398"/><circle cx="438.8" cy="753.5" r=".54" fill="#363399"/><circle cx="304.4" cy="753.5" r=".54" fill="#363399"/><circle cx="438.8" cy="811.7" r=".54" fill="#363399"/><circle cx="304.4" cy="811.7" r=".54" fill="#363399"/><circle cx="418.6" cy="753.5" r=".54" fill="#363399"/><circle cx="324.6" cy="753.5" r=".54" fill="#363399"/><circle cx="418.6" cy="811.7" r=".54" fill="#363399"/><circle cx="324.6" cy="811.7" r=".54" fill="#363399"/><circle cx="314.5" cy="817.5" r=".56" fill="#36339a"/><circle cx="428.7" cy="817.5" r=".56" fill="#36339a"/><circle cx="428.7" cy="747.7" r=".56" fill="#36339a"/><circle cx="314.5" cy="747.7" r=".56" fill="#36339a"/><circle cx="334.7" cy="771" r=".61" fill="#36359d"/><circle cx="408.5" cy="771" r=".61" fill="#36359d"/><circle cx="334.7" cy="794.2" r=".61" fill="#36359d"/><circle cx="408.5" cy="794.2" r=".61" fill="#36359d"/><circle cx="398.5" cy="788.4" r=".61" fill="#36359d"/><circle cx="344.7" cy="788.4" r=".61" fill="#36359d"/><circle cx="398.5" cy="776.8" r=".61" fill="#36359d"/><circle cx="344.7" cy="776.8" r=".61" fill="#36359d"/><circle cx="388.4" cy="805.9" r=".61" fill="#36359e"/><circle cx="354.8" cy="805.9" r=".61" fill="#36359e"/><circle cx="388.4" cy="759.3" r=".61" fill="#36359e"/><circle cx="354.8" cy="759.3" r=".61" fill="#36359e"/><circle cx="364.9" cy="741.9" r=".63" fill="#36369f"/><circle cx="378.3" cy="741.9" r=".63" fill="#36369f"/><circle cx="378.3" cy="823.3" r=".63" fill="#36369f"/><circle cx="364.9" cy="823.3" r=".63" fill="#36369f"/><circle cx="388.4" cy="817.5" r=".64" fill="#3636a0"/><circle cx="354.8" cy="817.5" r=".64" fill="#3636a0"/><circle cx="388.4" cy="747.7" r=".64" fill="#3636a0"/><circle cx="354.8" cy="747.7" r=".64" fill="#3636a0"/><circle cx="378.3" cy="706.9" r=".65" fill="#3637a0"/><circle cx="364.9" cy="706.9" r=".65" fill="#3637a0"/><circle cx="364.9" cy="858.3" r=".65" fill="#3637a0"/><circle cx="378.3" cy="858.3" r=".65" fill="#3637a0"/><circle cx="364.9" cy="846.6" r=".66" fill="#3637a1"/><circle cx="378.3" cy="846.6" r=".66" fill="#3637a1"/><circle cx="378.3" cy="718.6" r=".66" fill="#3637a1"/><circle cx="364.9" cy="718.6" r=".66" fill="#3637a1"/><circle cx="364.9" cy="835" r=".66" fill="#3637a1"/><circle cx="378.3" cy="835" r=".66" fill="#3637a1"/><circle cx="378.3" cy="730.2" r=".66" fill="#3637a1"/><circle cx="364.9" cy="730.2" r=".66" fill="#3637a1"/><circle cx="364.9" cy="695.3" r=".68" fill="#3638a3"/><circle cx="378.3" cy="695.3" r=".68" fill="#3638a3"/><circle cx="378.3" cy="869.9" r=".68" fill="#3638a3"/><circle cx="364.9" cy="869.9" r=".68" fill="#3638a3"/><circle cx="428.7" cy="840.8" r=".69" fill="#3638a4"/><circle cx="314.5" cy="840.8" r=".69" fill="#3638a4"/><circle cx="314.5" cy="724.4" r=".69" fill="#3638a4"/><circle cx="428.7" cy="724.4" r=".69" fill="#3638a4"/><circle cx="418.6" cy="846.6" r=".69" fill="#3638a4"/><circle cx="324.6" cy="846.6" r=".69" fill="#3638a4"/><circle cx="418.6" cy="718.6" r=".69" fill="#3638a4"/><circle cx="324.6" cy="718.6" r=".69" fill="#3638a4"/><circle cx="438.8" cy="835" r=".69" fill="#3638a4"/><circle cx="304.4" cy="835" r=".69" fill="#3638a4"/><circle cx="304.4" cy="730.2" r=".69" fill="#3638a4"/><circle cx="438.8" cy="730.2" r=".69" fill="#3638a4"/><circle cx="408.5" cy="805.9" r=".72" fill="#363aa6"/><circle cx="334.7" cy="805.9" r=".72" fill="#363aa6"/><circle cx="334.7" cy="759.3" r=".72" fill="#363aa6"/><circle cx="408.5" cy="759.3" r=".72" fill="#363aa6"/><circle cx="378.3" cy="648.7" r=".73" fill="#353aa8"/><circle cx="364.9" cy="648.7" r=".73" fill="#353aa8"/><circle cx="378.3" cy="916.5" r=".73" fill="#353aa8"/><circle cx="364.9" cy="916.5" r=".73" fill="#353aa8"/><circle cx="428.7" cy="771" r=".75" fill="#353ba9"/><circle cx="314.5" cy="771" r=".75" fill="#353ba9"/><circle cx="428.7" cy="794.2" r=".75" fill="#353ba9"/><circle cx="314.5" cy="794.2" r=".75" fill="#353ba9"/><circle cx="418.6" cy="788.4" r=".76" fill="#353caa"/><circle cx="324.6" cy="788.4" r=".76" fill="#353caa"/><circle cx="418.6" cy="776.8" r=".76" fill="#353caa"/><circle cx="324.6" cy="776.8" r=".76" fill="#353caa"/><circle cx="378.3" cy="881.6" r=".77" fill="#353cab"/><circle cx="364.9" cy="881.6" r=".77" fill="#353cab"/><circle cx="378.3" cy="683.6" r=".77" fill="#353cab"/><circle cx="364.9" cy="683.6" r=".77" fill="#353cab"/><circle cx="398.5" cy="823.3" r=".78" fill="#353dac"/><circle cx="344.7" cy="823.3" r=".78" fill="#353dac"/><circle cx="344.7" cy="741.9" r=".78" fill="#353dac"/><circle cx="398.5" cy="741.9" r=".78" fill="#353dac"/><circle cx="388.4" cy="736" r=".78" fill="#353dac"/><circle cx="354.8" cy="736" r=".78" fill="#353dac"/><circle cx="354.8" cy="829.2" r=".78" fill="#353dac"/><circle cx="388.4" cy="829.2" r=".78" fill="#353dac"/><circle cx="324.6" cy="823.3" r=".79" fill="#353dad"/><circle cx="418.6" cy="823.3" r=".79" fill="#353dad"/><circle cx="324.6" cy="741.9" r=".79" fill="#353dad"/><circle cx="418.6" cy="741.9" r=".79" fill="#353dad"/><circle cx="378.3" cy="904.8" r=".81" fill="#343eaf"/><circle cx="364.9" cy="904.8" r=".81" fill="#343eaf"/><circle cx="378.3" cy="660.4" r=".81" fill="#343eaf"/><circle cx="364.9" cy="660.4" r=".81" fill="#343eaf"/><circle cx="364.9" cy="893.2" r=".83" fill="#343fb1"/><circle cx="378.3" cy="893.2" r=".83" fill="#343fb1"/><circle cx="378.3" cy="672" r=".83" fill="#343fb1"/><circle cx="364.9" cy="672" r=".83" fill="#343fb1"/><circle cx="428.7" cy="805.9" r=".92" fill="#3145bc"/><circle cx="314.5" cy="805.9" r=".92" fill="#3145bc"/><circle cx="428.7" cy="759.3" r=".92" fill="#3145bc"/><circle cx="314.5" cy="759.3" r=".92" fill="#3145bc"/><circle cx="438.8" cy="823.3" r=".96" fill="#2f47c0"/><circle cx="304.4" cy="823.3" r=".96" fill="#2f47c0"/><circle cx="438.8" cy="741.9" r=".96" fill="#2f47c0"/><circle cx="304.4" cy="741.9" r=".96" fill="#2f47c0"/><circle cx="448.8" cy="817.5" r=".96" fill="#2f47c0"/><circle cx="294.4" cy="817.5" r=".96" fill="#2f47c0"/><circle cx="448.8" cy="747.7" r=".96" fill="#2f47c0"/><circle cx="294.4" cy="747.7" r=".96" fill="#2f47c0"/><circle cx="388.4" cy="724.4" r="1.01" fill="#2c4ac6"/><circle cx="354.8" cy="724.4" r="1.01" fill="#2c4ac6"/><circle cx="388.4" cy="840.8" r="1.01" fill="#2c4ac6"/><circle cx="354.8" cy="840.8" r="1.01" fill="#2c4ac6"/><circle cx="344.7" cy="835" r="1.06" fill="#274ecc"/><circle cx="398.5" cy="835" r="1.06" fill="#274ecc"/><circle cx="344.7" cy="730.2" r="1.06" fill="#274ecc"/><circle cx="398.5" cy="730.2" r="1.06" fill="#274ecc"/><circle cx="448.8" cy="771" r="1.09" fill="#2251d1"/><circle cx="294.4" cy="771" r="1.09" fill="#2251d1"/><circle cx="448.8" cy="794.2" r="1.09" fill="#2251d1"/><circle cx="294.4" cy="794.2" r="1.09" fill="#2251d1"/><circle cx="438.8" cy="788.4" r="1.1" fill="#2152d3"/><circle cx="304.4" cy="788.4" r="1.1" fill="#2152d3"/><circle cx="438.8" cy="776.8" r="1.1" fill="#2152d3"/><circle cx="304.4" cy="776.8" r="1.1" fill="#2152d3"/><circle cx="408.5" cy="840.8" r="1.17" fill="#1559da"/><circle cx="334.7" cy="840.8" r="1.17" fill="#1559da"/><circle cx="334.7" cy="724.4" r="1.17" fill="#1559da"/><circle cx="408.5" cy="724.4" r="1.17" fill="#1559da"/><circle cx="354.8" cy="852.5" r="1.19" fill="#105bdd"/><circle cx="388.4" cy="852.5" r="1.19" fill="#105bdd"/><circle cx="388.4" cy="712.7" r="1.19" fill="#105bdd"/><circle cx="354.8" cy="712.7" r="1.19" fill="#105bdd"/><circle cx="388.4" cy="677.8" r="1.21" fill="#0e5cde"/><circle cx="354.8" cy="677.8" r="1.21" fill="#0e5cde"/><circle cx="388.4" cy="887.4" r="1.21" fill="#0e5cde"/><circle cx="354.8" cy="887.4" r="1.21" fill="#0e5cde"/><circle cx="354.8" cy="875.7" r="1.25" fill="#0860e0"/><circle cx="388.4" cy="875.7" r="1.25" fill="#0860e0"/><circle cx="354.8" cy="689.5" r="1.25" fill="#0860e0"/><circle cx="388.4" cy="689.5" r="1.25" fill="#0860e0"/><circle cx="388.4" cy="864.1" r="1.28" fill="#0363e1"/><circle cx="354.8" cy="864.1" r="1.28" fill="#0363e1"/><circle cx="388.4" cy="701.1" r="1.28" fill="#0363e1"/><circle cx="354.8" cy="701.1" r="1.28" fill="#0363e1"/><circle cx="388.4" cy="666.2" r="1.3" fill="#0364e1"/><circle cx="354.8" cy="666.2" r="1.3" fill="#0364e1"/><circle cx="354.8" cy="899" r="1.3" fill="#0364e1"/><circle cx="388.4" cy="899" r="1.3" fill="#0364e1"/><circle cx="294.4" cy="805.9" r="1.46" fill="#066edf"/><circle cx="448.8" cy="805.9" r="1.46" fill="#066edf"/><circle cx="294.4" cy="759.3" r="1.46" fill="#066edf"/><circle cx="448.8" cy="759.3" r="1.46" fill="#066edf"/><circle cx="458.9" cy="800.1" r="1.46" fill="#066fdf"/><circle cx="284.3" cy="800.1" r="1.46" fill="#066fdf"/><circle cx="458.9" cy="765.1" r="1.46" fill="#066fdf"/><circle cx="284.3" cy="765.1" r="1.46" fill="#066fdf"/><circle cx="398.5" cy="718.6" r="1.48" fill="#0770df"/><circle cx="344.7" cy="718.6" r="1.48" fill="#0770df"/><circle cx="344.7" cy="846.6" r="1.48" fill="#0770df"/><circle cx="398.5" cy="846.6" r="1.48" fill="#0770df"/><circle cx="388.4" cy="910.7" r="1.52" fill="#0972de"/><circle cx="354.8" cy="910.7" r="1.52" fill="#0972de"/><circle cx="388.4" cy="654.5" r="1.52" fill="#0972de"/><circle cx="354.8" cy="654.5" r="1.52" fill="#0972de"/><circle cx="388.4" cy="922.3" r="1.68" fill="#127bd9"/><circle cx="354.8" cy="922.3" r="1.68" fill="#127bd9"/><circle cx="354.8" cy="642.9" r="1.68" fill="#127bd9"/><circle cx="388.4" cy="642.9" r="1.68" fill="#127bd9"/><circle cx="344.7" cy="706.9" r="2.07" fill="#079cd0"/><circle cx="398.5" cy="706.9" r="2.07" fill="#079cd0"/><circle cx="398.5" cy="858.3" r="2.07" fill="#079cd0"/><circle cx="344.7" cy="858.3" r="2.07" fill="#079cd0"/><circle cx="334.7" cy="852.5" r="2.19" fill="#06a4c9"/><circle cx="408.5" cy="712.7" r="2.19" fill="#06a4c9"/><circle cx="408.5" cy="852.5" r="2.19" fill="#06a4c9"/><circle cx="334.7" cy="712.7" r="2.19" fill="#06a4c9"/><circle cx="284.3" cy="788.4" r="2.54" fill="#31b8a2"/><circle cx="458.9" cy="788.4" r="2.54" fill="#31b8a2"/><circle cx="284.3" cy="776.8" r="2.54" fill="#31b8a2"/><circle cx="458.9" cy="776.8" r="2.54" fill="#31b8a2"/><circle cx="324.6" cy="858.3" r="2.66" fill="#52bd8f"/><circle cx="418.6" cy="858.3" r="2.66" fill="#52bd8f"/><circle cx="324.6" cy="706.9" r="2.66" fill="#52bd8f"/><circle cx="418.6" cy="706.9" r="2.66" fill="#52bd8f"/><circle cx="398.5" cy="869.9" r="2.7" fill="#60be88"/><circle cx="344.7" cy="869.9" r="2.7" fill="#60be88"/><circle cx="344.7" cy="695.3" r="2.7" fill="#60be88"/><circle cx="398.5" cy="695.3" r="2.7" fill="#60be88"/><circle cx="344.7" cy="648.7" r="2.72" fill="#64be86"/><circle cx="398.5" cy="648.7" r="2.72" fill="#64be86"/><circle cx="344.7" cy="916.5" r="2.72" fill="#64be86"/><circle cx="398.5" cy="916.5" r="2.72" fill="#64be86"/><circle cx="344.7" cy="904.8" r="3.14" fill="#d9ba56"/><circle cx="398.5" cy="904.8" r="3.14" fill="#d9ba56"/><circle cx="344.7" cy="660.4" r="3.14" fill="#d9ba56"/><circle cx="398.5" cy="660.4" r="3.14" fill="#d9ba56"/><circle cx="344.7" cy="881.6" r="3.19" fill="#e5b950"/><circle cx="398.5" cy="881.6" r="3.19" fill="#e5b950"/><circle cx="398.5" cy="683.6" r="3.19" fill="#e5b950"/><circle cx="344.7" cy="683.6" r="3.19" fill="#e5b950"/><circle cx="398.5" cy="893.2" r="3.35" fill="#fec734"/><circle cx="344.7" cy="893.2" r="3.35" fill="#fec734"/><circle cx="398.5" cy="672" r="3.35" fill="#fec734"/><circle cx="344.7" cy="672" r="3.35" fill="#fec734"/><circle cx="334.7" cy="701.1" r="3.6" fill="#f9fb0e"/><circle cx="408.5" cy="701.1" r="3.6" fill="#f9fb0e"/><circle cx="334.7" cy="864.1" r="3.6" fill="#f9fb0e"/><circle cx="408.5" cy="864.1" r="3.6" fill="#f9fb0e"/>
<g stroke="#f6134f" fill="none" stroke-linejoin="round"><path d="M355.1 922.3L354.1 922.3M354.3 922.3L354.1 922.3L354.3 922.3M388.1 922.3L389.1 922.3M388.9 922.3L389.1 922.3L388.9 922.3M365.1 916.5L364.3 916.5M364.4 916.4L364.3 916.5L364.4 916.5M378.1 916.5L378.9 916.5M378.8 916.5L378.9 916.5L378.8 916.4M365.1 904.8L364.4 904.8M364.5 904.8L364.4 904.8L364.5 904.9M378.1 904.8L378.8 904.8M378.7 904.9L378.8 904.8L378.7 904.8M365.1 881.6L364.3 881.6M364.4 881.5L364.3 881.6L364.4 881.6M378.1 881.6L378.9 881.6M378.8 881.6L378.9 881.6L378.8 881.5M357.9 846.6L358.7 846.6M358.6 846.7L358.7 846.6L358.6 846.6M385.3 846.6L384.5 846.6M384.6 846.6L384.5 846.6L384.6 846.7M304.3 811.9L304.7 811.2M304.7 811.3L304.7 811.2L304.6 811.2M438.9 811.9L438.5 811.2M438.6 811.2L438.5 811.2L438.5 811.3M317.7 800.1L318.3 800.1M318.2 800.1L318.3 800.1L318.2 800M425.5 800.1L424.9 800.1M425 800L424.9 800.1L425 800.1M345 788.4L344.2 788.4M344.3 788.4L344.2 788.4L344.3 788.5M398.2 788.4L399 788.4M398.9 788.5L399 788.4L398.9 788.4M337.8 776.8L338.6 776.8M338.5 776.8L338.6 776.8L338.5 776.7M405.4 776.8L404.6 776.8M404.7 776.7L404.6 776.8L404.7 776.8M324.8 765.1L324.1 765.1M324.2 765.1L324.1 765.1L324.2 765.2M418.4 765.1L419.1 765.1M419 765.2L419.1 765.1L419 765.1M307.9 759.5L307.5 758.8M307.6 758.9L307.5 758.8L307.5 758.9M435.3 759.5L435.7 758.8M435.7 758.9L435.7 758.8L435.6 758.9M365.1 718.6L364.4 718.6M364.5 718.5L364.4 718.6L364.5 718.6M378.1 718.6L378.8 718.6M378.7 718.6L378.8 718.6L378.7 718.5M357.9 683.6L358.7 683.6M358.6 683.7L358.7 683.6L358.6 683.6M385.3 683.6L384.5 683.6M384.6 683.6L384.5 683.6L384.6 683.7M357.9 660.4L358.7 660.4M358.6 660.4L358.7 660.4L358.6 660.3M385.3 660.4L384.5 660.4M384.6 660.3L384.5 660.4L384.6 660.4M357.9 648.7L358.8 648.7M358.7 648.8L358.8 648.7L358.7 648.7M385.3 648.7L384.4 648.7M384.5 648.7L384.4 648.7L384.5 648.8M347.8 642.9L348.8 642.9M348.6 642.9L348.8 642.9L348.6 642.9M395.4 642.9L394.4 642.9M394.6 642.9L394.4 642.9L394.6 642.9M355.1 933.9L354.1 933.9M354.3 933.9L354.1 933.9L354.3 934M388.1 933.9L389.1 933.9M388.9 934L389.1 933.9L388.9 933.9M365.1 928.1L364.3 928.1M364.4 928.1L364.3 928.1L364.4 928.2M378.1 928.1L378.9 928.1M378.8 928.2L378.9 928.1L378.8 928.1M357.9 637.1L358.8 637.1M358.7 637.1L358.8 637.1L358.7 637M385.3 637.1L384.4 637.1M384.5 637L384.4 637.1L384.5 637.1M347.8 631.3L348.8 631.3M348.6 631.3L348.8 631.3L348.6 631.2M395.4 631.3L394.4 631.3M394.6 631.2L394.4 631.3L394.6 631.3" stroke-width=".3" stroke-opacity=".4"/><path d="M355.1 910.7L353.9 910.7M354.1 910.6L353.9 910.7L354.1 910.7M388.1 910.7L389.3 910.7M389.1 910.7L389.3 910.7L389.1 910.6M355.1 875.7L354.1 875.7M354.3 875.7L354.1 875.7L354.3 875.8M388.1 875.7L389.1 875.7M388.9 875.8L389.1 875.7L388.9 875.7M365.1 869.9L364.1 869.9M364.2 869.9L364.1 869.9L364.2 870M378.1 869.9L379.1 869.9M379 870L379.1 869.9L379 869.9M365.1 858.3L364.1 858.3M364.3 858.2L364.1 858.3L364.3 858.3M378.1 858.3L379.1 858.3M378.9 858.3L379.1 858.3L378.9 858.2M365.1 835L364 835M364.2 834.9L364 835L364.2 835.1M378.1 835L379.2 835M379 835.1L379.2 835L379 834.9M307.5 817.5L308.5 817.5M308.4 817.6L308.5 817.5L308.4 817.5M334.9 817.5L333.8 817.5M334 817.5L333.8 817.5L334 817.6M408.3 817.5L409.4 817.5M409.2 817.6L409.4 817.5L409.2 817.5M435.7 817.5L434.7 817.5M434.8 817.5L434.7 817.5L434.8 817.6M297.5 800.1L298.5 800.1M298.3 800.1L298.5 800.1L298.3 800M345 800.1L344 800.1M344.2 800L344 800.1L344.2 800.1M398.2 800.1L399.2 800.1M399 800.1L399.2 800.1L399 800M445.7 800.1L444.7 800.1M444.9 800L444.7 800.1L444.9 800.1M365.1 788.4L364.2 788.4M364.3 788.4L364.2 788.4L364.3 788.5M378.1 788.4L379 788.4M378.9 788.5L379 788.4L378.9 788.4M357.9 776.8L358.8 776.8M358.7 776.8L358.8 776.8L358.7 776.7M385.3 776.8L384.4 776.8M384.5 776.7L384.4 776.8L384.5 776.8M304.7 765.1L303.7 765.1M303.8 765.1L303.7 765.1L303.8 765.2M337.8 765.1L338.7 765.1M338.6 765.2L338.7 765.1L338.6 765.1M405.4 765.1L404.5 765.1M404.6 765.1L404.5 765.1L404.6 765.2M438.5 765.1L439.5 765.1M439.4 765.2L439.5 765.1L439.4 765.1M314.8 747.7L313.8 747.7M313.9 747.6L313.8 747.7L313.9 747.7M327.7 747.7L328.8 747.7M328.6 747.7L328.8 747.7L328.6 747.6M415.5 747.7L414.4 747.7M414.6 747.6L414.4 747.7L414.6 747.7M428.4 747.7L429.4 747.7M429.3 747.7L429.4 747.7L429.3 747.6M357.9 730.2L359.1 730.2M358.9 730.3L359.1 730.2L358.9 730.1M385.3 730.2L384.1 730.2M384.3 730.1L384.1 730.2L384.3 730.3M357.9 706.9L358.9 706.9M358.8 707L358.9 706.9L358.8 706.9M385.3 706.9L384.3 706.9M384.4 706.9L384.3 706.9L384.4 707M357.9 695.3L359 695.3M358.8 695.3L359 695.3L358.8 695.2M385.3 695.3L384.2 695.3M384.4 695.2L384.2 695.3L384.4 695.3M347.8 689.5L348.8 689.5M348.6 689.5L348.8 689.5L348.6 689.4M395.4 689.5L394.4 689.5M394.6 689.4L394.4 689.5L394.6 689.5M347.8 654.5L349 654.5M348.8 654.6L349 654.5L348.8 654.5M395.4 654.5L394.2 654.5M394.4 654.5L394.2 654.5L394.4 654.6" stroke-width=".3" stroke-opacity=".5"/><path d="M314.4 841L315 839.9M315 840.2L315 839.9L314.8 840.1M428.8 841L428.2 839.9M428.4 840.1L428.2 839.9L428.2 840.2M365.1 800.1L363.9 800.1M364.1 800L363.9 800.1L364.1 800.1M378.1 800.1L379.3 800.1M379.1 800.1L379.3 800.1L379.1 800M357.9 765.1L359.1 765.1M358.9 765.2L359.1 765.1L358.9 765.1M385.3 765.1L384.1 765.1M384.3 765.1L384.1 765.1L384.3 765.2M318 730.4L317.3 729.3M317.6 729.5L317.3 729.3L317.4 729.6M425.2 730.4L425.9 729.3M425.8 729.6L425.9 729.3L425.6 729.5" stroke-width=".3" stroke-opacity=".6"/><path d="M355.1 899L353.6 899M353.9 898.9L353.6 899L353.9 899.1M388.1 899L389.6 899M389.3 899.1L389.6 899L389.3 898.9M355.1 887.4L353.6 887.4M353.9 887.3L353.6 887.4L353.9 887.5M388.1 887.4L389.6 887.4M389.3 887.5L389.6 887.4L389.3 887.3M334.9 852.5L333.5 852.5M333.8 852.4L333.5 852.5L333.8 852.5M328.1 852.7L327.4 851.4M327.6 851.7L327.4 851.4L327.4 851.8M408.3 852.5L409.7 852.5M409.4 852.5L409.7 852.5L409.4 852.4M415.1 852.7L415.8 851.4M415.8 851.8L415.8 851.4L415.6 851.7M318 835.2L317.3 834M317.5 834.2L317.3 834L317.4 834.3M425.2 835.2L425.9 834M425.8 834.3L425.9 834L425.7 834.2M304.7 811.7L303.3 811.7M303.6 811.6L303.3 811.7L303.6 811.8M438.5 811.7L439.9 811.7M439.6 811.8L439.9 811.7L439.6 811.6M294.6 794.2L293.3 794.2M293.5 794.1L293.3 794.2L293.5 794.3M314.8 794.2L313.3 794.2M313.6 794.1L313.3 794.2L313.6 794.3M355.1 794.2L353.6 794.2M353.9 794.1L353.6 794.2L353.9 794.3M388.1 794.2L389.6 794.2M389.3 794.3L389.6 794.2L389.3 794.1M428.4 794.2L429.9 794.2M429.6 794.3L429.9 794.2L429.6 794.1M448.6 794.2L449.9 794.2M449.7 794.3L449.9 794.2L449.7 794.1M297.8 788.6L297.1 787.4M297.4 787.6L297.1 787.4L297.2 787.7M445.4 788.6L446.1 787.4M446 787.7L446.1 787.4L445.8 787.6M294.2 782.8L294.9 781.6M294.9 781.9L294.9 781.6L294.7 781.8M449 782.8L448.3 781.6M448.5 781.8L448.3 781.6L448.3 781.9M287.4 771L288.7 771M288.5 771.1L288.7 771L288.5 770.9M307.5 771L309 771M308.7 771.1L309 771L308.7 770.9M347.8 771L349.3 771M349 771.1L349.3 771L349 770.9M395.4 771L393.9 771M394.2 770.9L393.9 771L394.2 771.1M435.7 771L434.2 771M434.5 770.9L434.2 771L434.5 771.1M455.8 771L454.5 771M454.7 770.9L454.5 771L454.7 771.1M297.5 753.5L298.9 753.5M298.6 753.6L298.9 753.5L298.6 753.4M445.7 753.5L444.3 753.5M444.6 753.4L444.3 753.5L444.6 753.6M314.4 736.2L315.1 735.1M315 735.4L315.1 735.1L314.8 735.3M428.8 736.2L428.1 735.1M428.4 735.3L428.1 735.1L428.2 735.4M324.5 718.8L325.2 717.6M325.1 717.9L325.2 717.6L324.9 717.8M418.7 718.8L418 717.6M418.3 717.8L418 717.6L418.1 717.9M327.7 712.7L329.1 712.7M328.8 712.8L329.1 712.7L328.8 712.7M415.5 712.7L414.1 712.7M414.4 712.7L414.1 712.7L414.4 712.8M347.8 677.8L349.3 677.8M349 677.9L349.3 677.8L349 677.7M395.4 677.8L393.9 677.8M394.2 677.7L393.9 677.8L394.2 677.9M347.8 666.2L349.3 666.2M349 666.3L349.3 666.2L349 666.1M395.4 666.2L393.9 666.2M394.2 666.1L393.9 666.2L394.2 666.3" stroke-width=".4" stroke-opacity=".6"/><path d="M347.8 864.1L349.4 864.1M349 864.2L349.4 864.1L349 864M395.4 864.1L393.8 864.1M394.2 864L393.8 864.1L394.2 864.2M314.8 829.2L313.3 829.2M313.6 829.1L313.3 829.2L313.6 829.3M428.4 829.2L429.9 829.2M429.6 829.3L429.9 829.2L429.6 829.1M365.1 811.7L363.6 811.7M364 811.6L363.6 811.7L364 811.8M378.1 811.7L379.6 811.7M379.2 811.8L379.6 811.7L379.2 811.6M294.2 794.5L295 793.2M294.9 793.5L295 793.2L294.7 793.4M334.9 794.2L333.4 794.2M333.7 794.1L333.4 794.2L333.7 794.3M408.3 794.2L409.8 794.2M409.5 794.3L409.8 794.2L409.5 794.1M449 794.5L448.2 793.2M448.5 793.4L448.2 793.2L448.3 793.5M297.8 777L297.1 775.7M297.4 775.9L297.1 775.7L297.2 776M445.4 777L446.1 775.7M446 776L446.1 775.7L445.8 775.9M327.7 771L329.2 771M328.9 771.1L329.2 771L328.9 770.9M415.5 771L414 771M414.3 770.9L414 771L414.3 771.1M357.9 753.5L359.4 753.5M359.1 753.6L359.4 753.5L359.1 753.4M385.3 753.5L383.8 753.5M384.1 753.4L383.8 753.5L384.1 753.6M307.5 736L309 736M308.7 736.1L309 736L308.7 735.9M435.7 736L434.2 736M434.5 735.9L434.2 736L434.5 736.1M355.1 701.1L353.5 701.1M353.9 701L353.5 701.1L353.9 701.2M388.1 701.1L389.7 701.1M389.3 701.2L389.7 701.1L389.3 701" stroke-width=".4" stroke-opacity=".7"/><path d="M338.1 834.8L337.3 836.2M337.4 835.8L337.3 836.2L337.6 835.9M405.1 834.8L405.9 836.2M405.6 835.9L405.9 836.2L405.8 835.8M307.9 817.7L307.1 816.4M307.4 816.6L307.1 816.4L307.2 816.7M435.3 817.7L436.1 816.4M436 816.7L436.1 816.4L435.8 816.6M324.5 811.9L325.3 810.5M325.2 810.9L325.3 810.5L325 810.7M418.7 811.9L417.9 810.5M418.2 810.7L417.9 810.5L418 810.9M328.1 759.5L327.2 758.1M327.5 758.4L327.2 758.1L327.3 758.5M415.1 759.5L416 758.1M415.9 758.5L416 758.1L415.7 758.4M304.3 753.7L305.1 752.3M305 752.7L305.1 752.3L304.8 752.6M438.9 753.7L438.1 752.3M438.4 752.6L438.1 752.3L438.2 752.7M334.5 724.2L335.3 725.6M335.1 725.3L335.3 725.6L335.3 725.2M408.7 724.2L407.9 725.6M407.9 725.2L407.9 725.6L408.1 725.3" stroke-width=".5" stroke-opacity=".7"/><path d="M365.1 823.3L363.3 823.3M363.8 823.2L363.3 823.3L363.8 823.5M378.1 823.3L379.9 823.3M379.4 823.5L379.9 823.3L379.4 823.2M324.8 811.7L323.1 811.7M323.5 811.6L323.1 811.7L323.5 811.8M418.4 811.7L420.1 811.7M419.7 811.8L420.1 811.7L419.7 811.6M314.8 805.9L313 805.9M313.4 805.7L313 805.9L313.4 806M428.4 805.9L430.2 805.9M429.8 806L430.2 805.9L429.8 805.7M307.5 759.3L309.3 759.3M308.9 759.5L309.3 759.3L308.9 759.2M435.7 759.3L433.9 759.3M434.3 759.2L433.9 759.3L434.3 759.5M317.6 753.5L319.3 753.5M318.9 753.6L319.3 753.5L318.9 753.4M425.6 753.5L423.9 753.5M424.3 753.4L423.9 753.5L424.3 753.6M357.9 741.9L359.7 741.9M359.3 742L359.7 741.9L359.3 741.7M385.3 741.9L383.5 741.9M383.9 741.7L383.5 741.9L383.9 742" stroke-width=".5" stroke-opacity=".8"/><path d="M304.3 823.6L305.2 821.9M305.1 822.4L305.2 821.9L304.9 822.3M438.9 823.6L438 821.9M438.3 822.3L438 821.9L438.1 822.4M307.9 747.9L307 746.3M307.3 746.6L307 746.3L307.1 746.7M435.3 747.9L436.2 746.3M436.1 746.7L436.2 746.3L435.9 746.6" stroke-width=".6" stroke-opacity=".8"/><path d="M294.6 805.9L292.6 805.9M293.1 805.7L292.6 805.9L293.1 806.1M287.8 806.1L286.8 804.3M287.1 804.7L286.8 804.3L286.9 804.9M307.9 806.1L306.9 804.4M307.3 804.7L306.9 804.4L307 804.9M334.9 805.9L332.9 805.9M333.4 805.7L332.9 805.9L333.4 806M408.3 805.9L410.3 805.9M409.8 806L410.3 805.9L409.8 805.7M435.3 806.1L436.3 804.4M436.2 804.9L436.3 804.4L435.9 804.7M448.6 805.9L450.6 805.9M450.1 806.1L450.6 805.9L450.1 805.7M455.4 806.1L456.4 804.3M456.3 804.9L456.4 804.3L456.1 804.7M297.8 800.3L296.8 798.5M297.2 798.9L296.8 798.5L296.9 799M284.2 800.3L285.2 798.5M285.1 799L285.2 798.5L284.8 798.9M459 800.3L458 798.5M458.4 798.9L458 798.5L458.1 799M445.4 800.3L446.4 798.5M446.3 799L446.4 798.5L446 798.9M294.2 771.2L295.3 769.4M295.1 769.9L295.3 769.4L294.9 769.8M287.8 771.2L286.8 769.4M287.1 769.8L286.8 769.4L286.9 769.9M455.4 771.2L456.4 769.4M456.3 769.9L456.4 769.4L456.1 769.8M449 771.2L447.9 769.4M448.3 769.8L447.9 769.4L448.1 769.9M284.2 765.4L285.2 763.6M285.1 764.1L285.2 763.6L284.8 763.9M304.3 765.4L305.3 763.6M305.2 764.1L305.3 763.6L304.9 764M438.9 765.4L437.9 763.6M438.3 764L437.9 763.6L438 764.1M459 765.4L458 763.6M458.4 763.9L458 763.6L458.1 764.1M287.4 759.3L289.4 759.3M288.9 759.5L289.4 759.3L288.9 759.1M327.7 759.3L329.7 759.3M329.2 759.5L329.7 759.3L329.2 759.2M415.5 759.3L413.5 759.3M414 759.2L413.5 759.3L414 759.5M455.8 759.3L453.8 759.3M454.3 759.1L453.8 759.3L454.3 759.5" stroke-width=".6" stroke-opacity=".9"/><path d="M345 811.7L342.9 811.7M343.4 811.5L342.9 811.7L343.4 811.9M398.2 811.7L400.3 811.7M399.8 811.9L400.3 811.7L399.8 811.5M337.8 753.5L339.8 753.5M339.3 753.7L339.8 753.5L339.3 753.3M405.4 753.5L403.4 753.5M403.9 753.3L403.4 753.5L403.9 753.7" stroke-width=".7" stroke-opacity=".9"/><path d="M334.5 852.7L335.7 850.7M335.5 851.3L335.7 850.7L335.2 851.1M408.7 852.7L407.5 850.7M408 851.1L407.5 850.7L407.7 851.3M355.1 829.2L352.8 829.2M353.4 829L352.8 829.2L353.4 829.4M388.1 829.2L390.4 829.2M389.8 829.4L390.4 829.2L389.8 829M324.5 823.6L325.6 821.6M325.5 822.2L325.6 821.6L325.1 822M418.7 823.6L417.6 821.6M418.1 822L417.6 821.6L417.7 822.2M355.1 817.5L352.9 817.5M353.4 817.3L352.9 817.5L353.4 817.7M388.1 817.5L390.3 817.5M389.8 817.7L390.3 817.5L389.8 817.3M294.2 806.1L295.4 804.1M295.3 804.7L295.4 804.1L294.9 804.5M355.1 805.9L352.8 805.9M353.4 805.7L352.8 805.9L353.4 806.1M388.1 805.9L390.4 805.9M389.8 806.1L390.4 805.9L389.8 805.7M449 806.1L447.8 804.1M448.3 804.5L447.8 804.1L447.9 804.7M304.3 800.3L305.4 798.3M305.3 798.9L305.4 798.3L305 798.7M438.9 800.3L437.8 798.3M438.2 798.7L437.8 798.3L437.9 798.9M314.4 794.5L315.5 792.6M315.4 793.1L315.5 792.6L315 793M428.8 794.5L427.7 792.6M428.2 793L427.7 792.6L427.8 793.1M318 788.6L316.9 786.7M317.3 787.1L316.9 786.7L317 787.3M425.2 788.6L426.3 786.7M426.2 787.3L426.3 786.7L425.9 787.1M314.4 782.8L315.5 780.9M315.4 781.5L315.5 780.9L315 781.3M428.8 782.8L427.7 780.9M428.2 781.3L427.7 780.9L427.8 781.5M318 777L316.9 775.1M317.3 775.5L316.9 775.1L317 775.7M425.2 777L426.3 775.1M426.2 775.7L426.3 775.1L425.9 775.5M307.9 771.2L306.8 769.2M307.2 769.6L306.8 769.2L306.9 769.8M435.3 771.2L436.4 769.2M436.3 769.8L436.4 769.2L436 769.6M297.8 765.4L296.7 763.4M297.2 763.8L296.7 763.4L296.8 764M445.4 765.4L446.5 763.4M446.4 764L446.5 763.4L446 763.8M347.8 759.3L350.1 759.3M349.5 759.5L350.1 759.3L349.5 759.1M395.4 759.3L393.1 759.3M393.7 759.1L393.1 759.3L393.7 759.5M328.1 747.9L327 746M327.4 746.4L327 746L327.1 746.5M347.8 747.7L350 747.7M349.5 747.9L350 747.7L349.5 747.5M395.4 747.7L393.2 747.7M393.7 747.5L393.2 747.7L393.7 747.9M415.1 747.9L416.2 746M416.1 746.5L416.2 746L415.8 746.4M347.8 736L350.1 736M349.5 736.2L350.1 736L349.5 735.8M395.4 736L393.1 736M393.7 735.8L393.1 736L393.7 736.2M338.1 718.8L337 716.8M337.5 717.2L337 716.8L337.1 717.4M405.1 718.8L406.2 716.8M406.1 717.4L406.2 716.8L405.7 717.2" stroke-width=".7"/><path d="M338.1 835.2L337 833.1M337.4 833.6L337 833.1L337.1 833.8M405.1 835.2L406.2 833.1M406.1 833.8L406.2 833.1L405.8 833.6M334.9 829.2L332.6 829.2M333.2 829L332.6 829.2L333.2 829.4M408.3 829.2L410.6 829.2M410 829.4L410.6 829.2L410 829M328.1 817.7L326.8 815.6M327.3 816L326.8 815.6L327 816.2M415.1 817.7L416.4 815.6M416.2 816.2L416.4 815.6L415.9 816M287.8 794.5L286.5 792.3M287 792.7L286.5 792.3L286.6 793M455.4 794.5L456.7 792.3M456.6 793L456.7 792.3L456.2 792.7M284.2 788.6L285.4 786.4M285.3 787.1L285.4 786.4L284.9 786.9M459 788.6L457.8 786.4M458.3 786.9L457.8 786.4L457.9 787.1M287.8 782.8L286.5 780.6M287 781.1L286.5 780.6L286.6 781.3M455.4 782.8L456.7 780.6M456.6 781.3L456.7 780.6L456.2 781.1M284.2 777L285.4 774.8M285.3 775.5L285.4 774.8L284.9 775.3M459 777L457.8 774.8M458.3 775.3L457.8 774.8L457.9 775.5M324.5 753.7L325.7 751.5M325.6 752.2L325.7 751.5L325.2 752M418.7 753.7L417.5 751.5M418 752L417.5 751.5L417.6 752.2M327.7 736L330 736M329.4 736.2L330 736L329.4 735.8M334.5 736.2L335.7 734.2M335.6 734.8L335.7 734.2L335.2 734.6M415.5 736L413.2 736M413.8 735.8L413.2 736L413.8 736.2M408.7 736.2L407.5 734.2M408 734.6L407.5 734.2L407.6 734.8" stroke-width=".8"/><path d="M328.1 841L326.7 838.7M327.3 839.2L326.7 838.7L326.9 839.4M355.1 840.8L352.3 840.8M353.1 840.6L352.3 840.8L353.1 841M388.1 840.8L390.9 840.8M390.1 841L390.9 840.8L390.1 840.6M415.1 841L416.5 838.7M416.3 839.4L416.5 838.7L415.9 839.2M324.5 835.2L325.8 832.9M325.6 833.6L325.8 832.9L325.2 833.4M418.7 835.2L417.4 832.9M418 833.4L417.4 832.9L417.6 833.6M324.8 823.3L322.1 823.3M322.8 823.1L322.1 823.3L322.8 823.6M318 823.6L316.7 821.3M317.2 821.8L316.7 821.3L316.8 822M344.6 823.6L346 821.2M345.8 821.9L346 821.2L345.4 821.7M398.6 823.6L397.2 821.2M397.8 821.7L397.2 821.2L397.4 821.9M418.4 823.3L421.1 823.3M420.4 823.6L421.1 823.3L420.4 823.1M425.2 823.6L426.5 821.3M426.4 822L426.5 821.3L426 821.8M328.1 806.1L326.7 803.7M327.3 804.2L326.7 803.7L326.9 804.5M415.1 806.1L416.5 803.7M416.3 804.5L416.5 803.7L415.9 804.2M318 800.3L316.6 797.9M317.2 798.4L316.6 797.9L316.8 798.7M425.2 800.3L426.6 797.9M426.4 798.7L426.6 797.9L426 798.4M314.4 771.2L315.7 768.8M315.6 769.6L315.7 768.8L315.2 769.3M428.8 771.2L427.5 768.8M428 769.3L427.5 768.8L427.6 769.6M324.5 765.4L325.8 763M325.7 763.7L325.8 763L325.2 763.5M418.7 765.4L417.4 763M418 763.5L417.4 763L417.5 763.7M314.4 747.9L315.7 745.6M315.6 746.3L315.7 745.6L315.2 746.1M348.2 747.9L346.8 745.5M347.4 746L346.8 745.5L347 746.3M395 747.9L396.4 745.5M396.2 746.3L396.4 745.5L395.8 746M428.8 747.9L427.5 745.6M428 746.1L427.5 745.6L427.6 746.3M317.6 741.9L320.4 741.9M319.6 742.1L320.4 741.9L319.6 741.6M425.6 741.9L422.8 741.9M423.6 741.6L422.8 741.9L423.6 742.1M328.1 736.2L326.8 734M327.3 734.5L326.8 734L326.9 734.7M415.1 736.2L416.4 734M416.3 734.7L416.4 734L415.9 734.5M324.5 730.4L325.8 728.1M325.6 728.9L325.8 728.1L325.2 728.6M418.7 730.4L417.4 728.1M418 728.6L417.4 728.1L417.6 728.9M347.8 724.4L350.6 724.4M349.8 724.6L350.6 724.4L349.8 724.2M395.4 724.4L392.6 724.4M393.4 724.2L392.6 724.4L393.4 724.6" stroke-width=".9"/><path d="M345 858.3L342.2 858.3M343 858L342.2 858.3L343 858.5M338.1 858.5L336.8 856.1M337.3 856.6L336.8 856.1L336.9 856.9M398.2 858.3L401 858.3M400.2 858.5L401 858.3L400.2 858M405.1 858.5L406.4 856.1M406.3 856.9L406.4 856.1L405.9 856.6M345 846.6L342.2 846.6M342.9 846.4L342.2 846.6L342.9 846.9M398.2 846.6L401 846.6M400.3 846.9L401 846.6L400.3 846.4M304.7 823.3L301.8 823.3M302.6 823.1L301.8 823.3L302.6 823.6M297.8 823.6L296.4 821.1M297 821.6L296.4 821.1L296.6 821.9M438.5 823.3L441.4 823.3M440.6 823.6L441.4 823.3L440.6 823.1M445.4 823.6L446.8 821.1M446.6 821.9L446.8 821.1L446.2 821.6M294.2 817.7L295.7 815.3M295.5 816.1L295.7 815.3L295 815.8M314.4 817.7L315.8 815.2M315.7 816.1L315.8 815.2L315.2 815.8M428.8 817.7L427.4 815.2M428 815.8L427.4 815.2L427.5 816.1M449 817.7L447.5 815.3M448.2 815.8L447.5 815.3L447.7 816.1M344.6 811.9L346 809.5M345.9 810.3L346 809.5L345.4 810M398.6 811.9L397.2 809.5M397.8 810L397.2 809.5L397.3 810.3M314.4 806.1L315.8 803.7M315.6 804.4L315.8 803.7L315.2 804.2M428.8 806.1L427.4 803.7M428 804.2L427.4 803.7L427.6 804.4M324.5 800.3L325.9 797.8M325.7 798.6L325.9 797.8L325.3 798.4M418.7 800.3L417.3 797.8M417.9 798.4L417.3 797.8L417.5 798.6M307.9 794.5L306.5 792M307.1 792.6L306.5 792L306.7 792.8M435.3 794.5L436.7 792M436.5 792.8L436.7 792L436.1 792.6M304.3 788.6L305.7 786.2M305.6 787L305.7 786.2L305.1 786.7M438.9 788.6L437.5 786.2M438.1 786.7L437.5 786.2L437.6 787M307.9 782.8L306.5 780.4M307.1 780.9L306.5 780.4L306.7 781.2M435.3 782.8L436.7 780.4M436.5 781.2L436.7 780.4L436.1 780.9M304.3 777L305.7 774.6M305.5 775.4L305.7 774.6L305.1 775.1M438.9 777L437.5 774.6M438.1 775.1L437.5 774.6L437.7 775.4M328.1 771.2L326.6 768.7M327.3 769.3L326.6 768.7L326.8 769.5M415.1 771.2L416.6 768.7M416.4 769.5L416.6 768.7L415.9 769.3M318 765.4L316.6 762.9M317.2 763.4L316.6 762.9L316.7 763.7M425.2 765.4L426.6 762.9M426.5 763.7L426.6 762.9L426 763.4M348.2 759.5L346.8 757.1M347.4 757.6L346.8 757.1L347 757.9M395 759.5L396.4 757.1M396.2 757.9L396.4 757.1L395.8 757.6M297.8 753.7L296.4 751.3M297 751.8L296.4 751.3L296.6 752.1M318 753.7L316.5 751.2M317.2 751.8L316.5 751.2L316.7 752M425.2 753.7L426.7 751.2M426.5 752L426.7 751.2L426 751.8M445.4 753.7L446.8 751.3M446.6 752.1L446.8 751.3L446.2 751.8M294.2 747.9L295.7 745.4M295.5 746.2L295.7 745.4L295 746M449 747.9L447.5 745.4M448.2 746L447.5 745.4L447.7 746.2M297.5 741.9L300.3 741.9M299.5 742.1L300.3 741.9L299.5 741.6M445.7 741.9L442.9 741.9M443.7 741.6L442.9 741.9L443.7 742.1M337.8 718.6L340.6 718.6M339.8 718.8L340.6 718.6L339.8 718.3M405.4 718.6L402.6 718.6M403.4 718.3L402.6 718.6L403.4 718.8M334.5 713L335.9 710.6M335.8 711.3L335.9 710.6L335.3 711.1M408.7 713L407.3 710.6M407.9 711.1L407.3 710.6L407.4 711.3M337.8 706.9L340.5 706.9M339.8 707.2L340.5 706.9L339.8 706.7M405.4 706.9L402.7 706.9M403.4 706.7L402.7 706.9L403.4 707.2" stroke-width="1"/><path d="M328.1 840.6L326.5 843.2M326.7 842.4L326.5 843.2L327.2 842.7M415.1 840.6L416.7 843.2M416 842.7L416.7 843.2L416.5 842.4M314.8 840.8L311.6 840.8M312.5 840.5L311.6 840.8L312.5 841.1M307.9 841L306.3 838.3M307 838.9L306.3 838.3L306.5 839.2M428.4 840.8L431.6 840.8M430.7 841.1L431.6 840.8L430.7 840.5M435.3 841L436.9 838.3M436.7 839.2L436.9 838.3L436.2 838.9M304.3 835.2L305.9 832.5M305.7 833.4L305.9 832.5L305.2 833.1M345 835L341.9 835M342.8 834.7L341.9 835L342.8 835.3M398.2 835L401.3 835M400.4 835.3L401.3 835L400.4 834.7M438.9 835.2L437.3 832.5M438 833.1L437.3 832.5L437.5 833.4M334.5 794.5L336 791.8M335.9 792.7L336 791.8L335.4 792.4M408.7 794.5L407.2 791.8M407.8 792.4L407.2 791.8L407.3 792.7M338.1 788.6L336.6 785.9M337.3 786.5L336.6 785.9L336.8 786.8M405.1 788.6L406.6 785.9M406.4 786.8L406.6 785.9L405.9 786.5M334.5 782.8L336.1 780.1M335.9 781L336.1 780.1L335.4 780.7M408.7 782.8L407.1 780.1M407.8 780.7L407.1 780.1L407.3 781M338.1 777L336.6 774.4M337.3 775L336.6 774.4L336.8 775.2M405.1 777L406.6 774.4M406.4 775.2L406.6 774.4L405.9 775M307.9 736.2L306.3 733.5M307 734.1L306.3 733.5L306.5 734.4M435.3 736.2L436.9 733.5M436.7 734.4L436.9 733.5L436.2 734.1M304.3 730.4L305.9 727.7M305.7 728.6L305.9 727.7L305.2 728.3M337.8 730.2L340.8 730.2M340 730.5L340.8 730.2L340 729.9M405.4 730.2L402.4 730.2M403.2 729.9L402.4 730.2L403.2 730.5M438.9 730.4L437.3 727.7M438 728.3L437.3 727.7L437.5 728.6M307.5 724.4L310.7 724.4M309.8 724.7L310.7 724.4L309.8 724.1M324.5 718.4L326 721M325.3 720.4L326 721L325.8 720.1M418.7 718.4L417.2 721M417.4 720.1L417.2 721L417.9 720.4M435.7 724.4L432.5 724.4M433.4 724.1L432.5 724.4L433.4 724.7" stroke-width="1.1"/><path d="M334.5 817.7L336.2 814.9M336 815.8L336.2 814.9L335.5 815.5M408.7 817.7L407 814.9M407.7 815.5L407 814.9L407.2 815.8M297.8 811.9L296.2 809.1M296.9 809.7L296.2 809.1L296.4 810M445.4 811.9L447 809.1M446.8 810L447 809.1L446.3 809.7M334.5 806.1L336.2 803.2M336 804.2L336.2 803.2L335.5 803.8M408.7 806.1L407 803.2M407.7 803.8L407 803.2L407.2 804.2M328.1 794.5L326.4 791.5M327.1 792.2L326.4 791.5L326.6 792.5M415.1 794.5L416.8 791.5M416.6 792.5L416.8 791.5L416.1 792.2M324.5 788.6L326.1 785.7M325.9 786.7L326.1 785.7L325.4 786.4M418.7 788.6L417.1 785.7M417.8 786.4L417.1 785.7L417.3 786.7M328.1 782.8L326.4 779.9M327.1 780.6L326.4 779.9L326.6 780.9M415.1 782.8L416.8 779.9M416.6 780.9L416.8 779.9L416.1 780.6M324.5 777L326.1 774.1M325.9 775L326.1 774.1L325.4 774.7M418.7 777L417.1 774.1M417.8 774.7L417.1 774.1L417.3 775M338.1 765.4L336.5 762.4M337.2 763.1L336.5 762.4L336.7 763.4M405.1 765.4L406.7 762.4M406.5 763.4L406.7 762.4L406 763.1M294.2 759.5L295.9 756.7M295.7 757.6L295.9 756.7L295.2 757.3M449 759.5L447.3 756.7M448 757.3L447.3 756.7L447.5 757.6M338.1 753.7L336.5 750.9M337.2 751.5L336.5 750.9L336.7 751.8M405.1 753.7L406.7 750.9M406.5 751.8L406.7 750.9L406 751.5" stroke-width="1.2"/><path d="M324.8 846.6L321.3 846.6M322.3 846.3L321.3 846.6L322.3 847M318 846.8L316.2 843.8M317 844.5L316.2 843.8L316.4 844.8M418.4 846.6L421.9 846.6M420.9 847L421.9 846.6L420.9 846.3M425.2 846.8L427 843.8M426.8 844.8L427 843.8L426.2 844.5M307.9 829.4L306.1 826.2M306.9 827L306.1 826.2L306.3 827.3M435.3 829.4L437.1 826.2M436.9 827.3L437.1 826.2L436.3 827M345 823.3L341.5 823.3M342.5 823L341.5 823.3L342.5 823.7M338.1 823.6L336.4 820.5M337.2 821.2L336.4 820.5L336.6 821.5M398.2 823.3L401.7 823.3M400.7 823.7L401.7 823.3L400.7 823M405.1 823.6L406.8 820.5M406.6 821.5L406.8 820.5L406 821.2M318 811.9L316.2 808.8M317 809.5L316.2 808.8L316.4 809.9M425.2 811.9L427 808.8M426.8 809.9L427 808.8L426.2 809.5M338.1 800.3L336.4 797.2M337.2 797.9L336.4 797.2L336.6 798.2M405.1 800.3L406.8 797.2M406.6 798.2L406.8 797.2L406 797.9M334.5 771.2L336.3 768.1M336.1 769.1L336.3 768.1L335.5 768.8M408.7 771.2L406.9 768.1M407.7 768.8L406.9 768.1L407.1 769.1M314.4 759.5L316.2 756.4M316 757.5L316.2 756.4L315.4 757.1M428.8 759.5L427 756.4M427.8 757.1L427 756.4L427.2 757.5M334.5 747.9L336.3 744.8M336.1 745.9L336.3 744.8L335.5 745.5M408.7 747.9L406.9 744.8M407.7 745.5L406.9 744.8L407.1 745.9M304.3 742.1L306.1 738.9M305.9 740L306.1 738.9L305.3 739.6M337.8 741.9L341.3 741.9M340.3 742.2L341.3 741.9L340.3 741.5M405.4 741.9L401.9 741.9M402.9 741.5L401.9 741.9L402.9 742.2M438.9 742.1L437.1 738.9M437.9 739.6L437.1 738.9L437.3 740M314.4 724.6L316.1 721.5M315.9 722.6L316.1 721.5L315.4 722.2M428.8 724.6L427.1 721.5M427.8 722.2L427.1 721.5L427.3 722.6M317.6 718.6L321.1 718.6M320.1 718.9L321.1 718.6L320.1 718.2M425.6 718.6L422.1 718.6M423.1 718.2L422.1 718.6L423.1 718.9" stroke-width="1.3"/><path d="M338.1 846.8L336.2 843.4M337.1 844.2L336.2 843.4L336.4 844.6M405.1 846.8L407 843.4M406.8 844.6L407 843.4L406.1 844.2M344.6 835.2L346.6 831.8M346.3 833L346.6 831.8L345.7 832.6M398.6 835.2L396.6 831.8M397.5 832.6L396.6 831.8L396.9 833M328.1 829.4L326.1 826M327 826.8L326.1 826L326.4 827.2M415.1 829.4L417.1 826M416.8 827.2L417.1 826L416.2 826.8M348.2 817.7L346.3 814.4M347.2 815.2L346.3 814.4L346.5 815.6M395 817.7L396.9 814.4M396.7 815.6L396.9 814.4L396 815.2M348.2 806.1L346.3 802.7M347.1 803.5L346.3 802.7L346.5 803.9M395 806.1L396.9 802.7M396.7 803.9L396.9 802.7L396.1 803.5M344.6 800.3L346.5 797M346.3 798.1L346.5 797L345.6 797.8M398.6 800.3L396.7 797M397.6 797.8L396.7 797L396.9 798.1M348.2 771.2L346.3 767.9M347.2 768.7L346.3 767.9L346.6 769M395 771.2L396.9 767.9M396.6 769L396.9 767.9L396 768.7M344.6 765.4L346.6 761.9M346.3 763.1L346.6 761.9L345.7 762.7M398.6 765.4L396.6 761.9M397.5 762.7L396.6 761.9L396.9 763.1M344.6 753.7L346.5 750.4M346.3 751.5L346.5 750.4L345.7 751.2M398.6 753.7L396.7 750.4M397.5 751.2L396.7 750.4L396.9 751.5M324.5 742.1L326.4 738.7M326.1 739.9L326.4 738.7L325.5 739.5M418.7 742.1L416.8 738.7M417.7 739.5L416.8 738.7L417.1 739.9M348.2 736.2L346.3 732.9M347.1 733.7L346.3 732.9L346.5 734M395 736.2L396.9 732.9M396.7 734L396.9 732.9L396.1 733.7M334.5 724.6L336.5 721.2M336.3 722.4L336.5 721.2L335.6 722M408.7 724.6L406.7 721.2M407.6 722L406.7 721.2L406.9 722.4" stroke-width="1.4"/><path d="M344.6 846.8L346.7 843.2M346.4 844.5L346.7 843.2L345.7 844.1M398.6 846.8L396.5 843.2M397.5 844.1L396.5 843.2L396.8 844.5M354.7 794.5L356.7 790.9M356.5 792.1L356.7 790.9L355.8 791.7M348.2 794.5L346.1 790.8M347.1 791.7L346.1 790.8L346.4 792.1M395 794.5L397.1 790.8M396.8 792.1L397.1 790.8L396.1 791.7M388.5 794.5L386.5 790.9M387.4 791.7L386.5 790.9L386.7 792.1M344.6 788.6L346.7 785.1M346.4 786.3L346.7 785.1L345.7 785.9M398.6 788.6L396.5 785.1M397.5 785.9L396.5 785.1L396.8 786.3M348.2 782.8L346.2 779.3M347.1 780.1L346.2 779.3L346.4 780.5M395 782.8L397 779.3M396.8 780.5L397 779.3L396.1 780.1M358.3 777L356.2 773.4M357.2 774.3L356.2 773.4L356.5 774.7M344.6 777L346.7 773.3M346.5 774.6L346.7 773.3L345.8 774.2M398.6 777L396.5 773.3M397.4 774.2L396.5 773.3L396.7 774.6M384.9 777L387 773.4M386.7 774.7L387 773.4L386 774.3M348.2 724.6L346.1 721M347.1 721.8L346.1 721L346.4 722.2M395 724.6L397.1 721M396.8 722.2L397.1 721L396.1 721.8" stroke-width="1.5"/><path d="M338.1 811.9L336 808.3M337 809.1L336 808.3L336.3 809.5M405.1 811.9L407.2 808.3M406.9 809.5L407.2 808.3L406.2 809.1M354.7 806.1L356.8 802.4M356.5 803.7L356.8 802.4L355.8 803.3M388.5 806.1L386.4 802.4M387.4 803.3L386.4 802.4L386.7 803.7M358.3 788.6L356.2 784.9M357.1 785.8L356.2 784.9L356.4 786.2M384.9 788.6L387 784.9M386.8 786.2L387 784.9L386.1 785.8M354.7 782.8L356.8 779.1M356.6 780.4L356.8 779.1L355.8 780M388.5 782.8L386.4 779.1M387.4 780L386.4 779.1L386.6 780.4M358.3 765.4L356.2 761.7M357.1 762.5L356.2 761.7L356.4 762.9M384.9 765.4L387 761.7M386.8 762.9L387 761.7L386.1 762.5M334.5 759.5L336.6 755.9M336.4 757.1L336.6 755.9L335.7 756.7M408.7 759.5L406.6 755.9M407.5 756.7L406.6 755.9L406.8 757.1" stroke-width="1.6"/><path d="M334.9 840.8L330.4 840.8M331.7 840.4L330.4 840.8L331.7 841.2M408.3 840.8L412.8 840.8M411.5 841.2L412.8 840.8L411.5 840.4M358.3 800.3L356 796.3M357.1 797.3L356 796.3L356.3 797.7M384.9 800.3L387.2 796.3M386.9 797.7L387.2 796.3L386.1 797.3M354.7 771.2L357 767.2M356.7 768.6L357 767.2L355.9 768.2M388.5 771.2L386.2 767.2M387.3 768.2L386.2 767.2L386.5 768.6M327.7 724.4L332.2 724.4M330.9 724.8L332.2 724.4L330.9 724M415.5 724.4L411 724.4M412.3 724L411 724.4L412.3 724.8" stroke-width="1.7"/><path d="M354.7 817.7L357.1 813.6M356.8 815.1L357.1 813.6L356 814.6M388.5 817.7L386.1 813.6M387.2 814.6L386.1 813.6L386.4 815.1M378.4 800.3L376 796M377.1 797L376 796L376.3 797.5M364.8 800.3L367.2 796M366.9 797.5L367.2 796L366.1 797M374.8 794.5L377.3 790.2M377 791.7L377.3 790.2L376.1 791.2M368.4 794.5L365.9 790.2M367.1 791.2L365.9 790.2L366.2 791.7M378.4 788.6L376.1 784.5M377.2 785.5L376.1 784.5L376.4 786M364.8 788.6L367.1 784.5M366.8 786L367.1 784.5L366 785.5M374.8 782.8L377.2 778.7M376.9 780.1L377.2 778.7L376.1 779.7M368.4 782.8L366 778.7M367.1 779.7L366 778.7L366.3 780.1M378.4 777L376 772.7M377.1 773.8L376 772.7L376.3 774.2M364.8 777L367.2 772.7M366.9 774.2L367.2 772.7L366.1 773.8M374.8 771.2L377.3 766.9M377 768.4L377.3 766.9L376.1 767.9M368.4 771.2L365.9 766.9M367.1 767.9L365.9 766.9L366.2 768.4M358.3 753.7L355.9 749.6M357 750.6L355.9 749.6L356.2 751M384.9 753.7L387.3 749.6M387 751L387.3 749.6L386.2 750.6" stroke-width="1.8"/><path d="M354.7 829.4L357.2 825M356.9 826.6L357.2 825L356 826.1M348.2 829.4L345.7 825.1M346.9 826.1L345.7 825.1L346.1 826.6M395 829.4L397.5 825.1M397.1 826.6L397.5 825.1L396.3 826.1M388.5 829.4L386 825M387.2 826.1L386 825L386.3 826.6M358.3 742.1L355.8 737.7M357 738.8L355.8 737.7L356.1 739.3M344.6 742.1L347.1 737.8M346.8 739.3L347.1 737.8L345.9 738.8M398.6 742.1L396.1 737.8M397.3 738.8L396.1 737.8L396.4 739.3M384.9 742.1L387.4 737.7M387.1 739.3L387.4 737.7L386.2 738.8" stroke-width="1.9"/><path d="M358.3 811.9L355.7 807.4M356.9 808.5L355.7 807.4L356 809M378.4 811.9L375.8 807.4M377.1 808.5L375.8 807.4L376.2 809M364.8 811.9L367.4 807.4M367 809L367.4 807.4L366.1 808.5M384.9 811.9L387.5 807.4M387.2 809L387.5 807.4L386.3 808.5M374.8 806.1L377.4 801.6M377.1 803.2L377.4 801.6L376.2 802.7M368.4 806.1L365.8 801.6M367 802.7L365.8 801.6L366.1 803.2M378.4 765.4L375.8 760.8M377.1 761.9L375.8 760.8L376.2 762.4M364.8 765.4L367.4 760.8M367 762.4L367.4 760.8L366.1 761.9M354.7 759.5L357.3 755M357 756.6L357.3 755L356.1 756.1M374.8 759.5L377.4 755M377.1 756.6L377.4 755L376.2 756.1M368.4 759.5L365.8 755M367 756.1L365.8 755L366.1 756.6M388.5 759.5L385.9 755M387.1 756.1L385.9 755L386.2 756.6" stroke-width="2"/><path d="M344.6 858.5L347.4 853.7M347 855.4L347.4 853.7L346.1 854.9M398.6 858.5L395.8 853.7M397.1 854.9L395.8 853.7L396.2 855.4M348.2 852.7L345.4 847.8M346.7 849L345.4 847.8L345.8 849.6M395 852.7L397.8 847.8M397.4 849.6L397.8 847.8L396.5 849M348.2 841L345.5 836.2M346.8 837.4L345.5 836.2L345.8 837.9M395 841L397.7 836.2M397.4 837.9L397.7 836.2L396.4 837.4M358.3 823.6L355.5 818.7M356.8 819.9L355.5 818.7L355.8 820.4M384.9 823.6L387.7 818.7M387.4 820.4L387.7 818.7L386.4 819.9M354.7 747.9L357.5 743M357.1 744.8L357.5 743L356.2 744.2M388.5 747.9L385.7 743M387 744.2L385.7 743L386.1 744.8M344.6 730.4L347.4 725.6M347 727.4L347.4 725.6L346.1 726.8M398.6 730.4L395.8 725.6M397.1 726.8L395.8 725.6L396.2 727.4M344.6 718.8L347.4 713.9M347 715.7L347.4 713.9L346.1 715.1M398.6 718.8L395.8 713.9M397.1 715.1L395.8 713.9L396.2 715.7M348.2 713L345.4 708.2M346.8 709.3L345.4 708.2L345.8 709.9M395 713L397.8 708.2M397.4 709.9L397.8 708.2L396.4 709.3" stroke-width="2.1"/><path d="M354.7 841L357.6 836.1M357.2 837.8L357.6 836.1L356.2 837.3M388.5 841L385.6 836.1M387 837.3L385.6 836.1L386 837.8M378.4 823.6L375.6 818.7M376.9 819.9L375.6 818.7L376 820.4M364.8 823.6L367.6 818.7M367.2 820.4L367.6 818.7L366.3 819.9M374.8 817.7L377.7 812.8M377.3 814.6L377.7 812.8L376.3 814M368.4 817.7L365.5 812.8M366.9 814L365.5 812.8L365.9 814.6M378.4 753.7L375.6 748.8M376.9 750L375.6 748.8L376 750.6M364.8 753.7L367.6 748.8M367.2 750.6L367.6 748.8L366.3 750M374.8 747.9L377.7 743M377.3 744.7L377.7 743L376.3 744.2M368.4 747.9L365.5 743M366.9 744.2L365.5 743L365.9 744.7M358.3 730.4L355.4 725.5M356.8 726.7L355.4 725.5L355.8 727.2M384.9 730.4L387.8 725.5M387.4 727.2L387.8 725.5L386.4 726.7" stroke-width="2.2"/><path d="M348.2 922.4L345.2 917.3M346.2 918.4L345.2 917.3L345.6 918.7M395 922.4L398 917.3M397.6 918.7L398 917.3L397 918.4M344.7 916.6L347.6 911.5M347.2 912.9L347.6 911.5L346.6 912.5M398.5 916.6L395.6 911.5M396.6 912.5L395.6 911.5L396 912.9M358.2 835.1L355.4 830.1M356.3 831.1L355.4 830.1L355.7 831.5M385 835.1L387.8 830.1M387.5 831.5L387.8 830.1L386.9 831.1M354.7 736.2L357.6 731.2M357.2 732.5L357.6 731.2L356.6 732.2M388.5 736.2L385.6 731.2M386.6 732.2L385.6 731.2L386 732.5M348.2 654.7L345.2 649.6M346.2 650.6L345.2 649.6L345.6 651M395 654.7L398 649.6M397.6 651L398 649.6L397 650.6M344.7 648.9L347.6 643.8M347.2 645.1L347.6 643.8L346.6 644.8M398.5 648.9L395.6 643.8M396.6 644.8L395.6 643.8L396 645.1M348.2 934.1L345.2 929M346.2 930L345.2 929L345.6 930.4M395 934.1L398 929M397.6 930.4L398 929L397 930M344.7 928.3L347.6 923.2M347.2 924.5L347.6 923.2L346.6 924.2M398.5 928.3L395.6 923.2M396.6 924.2L395.6 923.2L396 924.5M348.2 643L345.2 637.9M346.2 639L345.2 637.9L345.6 639.3M395 643L398 637.9M397.6 639.3L398 637.9L397 639M344.7 637.2L347.6 632.1M347.2 633.5L347.6 632.1L346.6 633.1M398.5 637.2L395.6 632.1M396.6 633.1L395.6 632.1L396 633.5" stroke-width="2.3"/><path d="M348.2 910.8L345.1 905.5M346.1 906.5L345.1 905.5L345.5 906.9M395 910.8L398.1 905.5M397.7 906.9L398.1 905.5L397.1 906.5M344.7 905L347.7 899.6M347.3 901.1L347.7 899.6L346.7 900.7M398.5 905L395.5 899.6M396.5 900.7L395.5 899.6L395.9 901.1M354.7 887.5L357.8 882.2M357.4 883.6L357.8 882.2L356.8 883.3M388.5 887.5L385.4 882.2M386.4 883.3L385.4 882.2L385.8 883.6M354.7 875.9L357.8 870.6M357.4 872L357.8 870.6L356.7 871.7M388.5 875.9L385.4 870.6M386.5 871.7L385.4 870.6L385.8 872M378.4 835.1L375.4 829.9M376.4 830.9L375.4 829.9L375.8 831.3M364.8 835.1L367.8 829.9M367.4 831.3L367.8 829.9L366.8 830.9M374.9 829.3L377.9 824M377.5 825.5L377.9 824L376.9 825.1M368.3 829.3L365.3 824M366.3 825.1L365.3 824L365.7 825.5M378.4 742L375.4 736.7M376.4 737.8L375.4 736.7L375.8 738.2M364.8 742L367.8 736.7M367.4 738.2L367.8 736.7L366.8 737.8M374.9 736.2L377.9 730.9M377.5 732.3L377.9 730.9L376.9 732M368.3 736.2L365.3 730.9M366.3 732L365.3 730.9L365.7 732.3M358.2 695.4L355.2 690.2M356.2 691.2L355.2 690.2L355.6 691.6M385 695.4L388 690.2M387.6 691.6L388 690.2L387 691.2M358.2 683.8L355.2 678.5M356.2 679.5L355.2 678.5L355.6 679.9M385 683.8L388 678.5M387.6 679.9L388 678.5L387 679.5M348.2 666.3L345.1 661M346.1 662.1L345.1 661L345.5 662.4M395 666.3L398.1 661M397.7 662.4L398.1 661L397.1 662.1M344.7 660.5L347.7 655.2M347.3 656.6L347.7 655.2L346.7 656.3M398.5 660.5L395.5 655.2M396.5 656.3L395.5 655.2L395.9 656.6" stroke-width="2.4"/><path d="M358.2 881.7L355.1 876.3M356.2 877.4L355.1 876.3L355.6 877.8M385 881.7L388.1 876.3M387.6 877.8L388.1 876.3L387 877.4M358.2 870L355.1 864.6M356.2 865.7L355.1 864.6L355.5 866.1M378.4 870L375.2 864.5M376.3 865.6L375.2 864.5L375.6 866M364.8 870L368 864.5M367.6 866L368 864.5L366.9 865.6M385 870L388.1 864.6M387.7 866.1L388.1 864.6L387 865.7M374.9 864.2L378.1 858.7M377.6 860.2L378.1 858.7L377 859.8M368.3 864.2L365.1 858.7M366.2 859.8L365.1 858.7L365.6 860.2M378.4 858.4L375.3 853M376.3 854.1L375.3 853L375.7 854.5M364.8 858.4L367.9 853M367.5 854.5L367.9 853L366.9 854.1M374.9 852.6L378 847.2M377.6 848.7L378 847.2L376.9 848.3M368.3 852.6L365.2 847.2M366.3 848.3L365.2 847.2L365.6 848.7M378.4 846.8L375.2 841.3M376.3 842.4L375.2 841.3L375.7 842.8M364.8 846.8L368 841.3M367.5 842.8L368 841.3L366.9 842.4M374.9 840.9L378 835.5M377.6 837L378 835.5L377 836.6M368.3 840.9L365.2 835.5M366.2 836.6L365.2 835.5L365.6 837M378.4 730.3L375.2 724.9M376.3 726L375.2 724.9L375.7 726.4M364.8 730.3L368 724.9M367.5 726.4L368 724.9L366.9 726M374.9 724.5L378 719.1M377.6 720.6L378 719.1L377 720.2M368.3 724.5L365.2 719.1M366.2 720.2L365.2 719.1L365.6 720.6M378.4 718.7L375.3 713.3M376.3 714.4L375.3 713.3L375.7 714.8M364.8 718.7L367.9 713.3M367.5 714.8L367.9 713.3L366.9 714.4M374.9 712.9L378 707.5M377.6 709L378 707.5L376.9 708.6M368.3 712.9L365.2 707.5M366.3 708.6L365.2 707.5L365.6 709M378.4 707.1L375.2 701.5M376.3 702.7L375.2 701.5L375.6 703M364.8 707.1L368 701.5M367.6 703L368 701.5L366.9 702.7M354.7 701.2L357.9 695.8M357.4 697.3L357.9 695.8L356.8 696.9M374.9 701.2L378.1 695.7M377.6 697.2L378.1 695.7L377 696.8M368.3 701.2L365.1 695.7M366.2 696.8L365.1 695.7L365.6 697.2M388.5 701.2L385.3 695.8M386.4 696.9L385.3 695.8L385.8 697.3M354.7 689.6L357.8 684.2M357.4 685.7L357.8 684.2L356.8 685.3M388.5 689.6L385.4 684.2M386.4 685.3L385.4 684.2L385.8 685.7" stroke-width="2.5"/><path d="M354.7 899.1L358 893.5M357.5 895.1L358 893.5L356.9 894.7M348.2 899.1L344.9 893.5M346 894.7L344.9 893.5L345.4 895M395 899.1L398.3 893.5M397.8 895L398.3 893.5L397.2 894.7M388.5 899.1L385.2 893.5M386.3 894.7L385.2 893.5L385.7 895.1M358.2 893.3L355 887.7M356.1 888.8L355 887.7L355.4 889.2M344.7 893.3L347.9 887.7M347.5 889.2L347.9 887.7L346.8 888.8M398.5 893.3L395.3 887.7M396.4 888.8L395.3 887.7L395.7 889.2M385 893.3L388.2 887.7M387.8 889.2L388.2 887.7L387.1 888.8M378.4 881.7L375.1 876M376.2 877.1L375.1 876L375.5 877.5M364.8 881.7L368.1 876M367.7 877.5L368.1 876L367 877.1M374.9 875.9L378.2 870.2M377.7 871.7L378.2 870.2L377 871.3M368.3 875.9L365 870.2M366.2 871.3L365 870.2L365.5 871.7M348.2 864.2L344.9 858.5M346 859.7L344.9 858.5L345.3 860.1M395 864.2L398.3 858.5M397.9 860.1L398.3 858.5L397.2 859.7M344.7 707.1L348 701.3M347.5 702.9L348 701.3L346.8 702.5M398.5 707.1L395.2 701.3M396.4 702.5L395.2 701.3L395.7 702.9M378.4 695.4L375.1 689.7M376.2 690.9L375.1 689.7L375.5 691.3M364.8 695.4L368.1 689.7M367.7 691.3L368.1 689.7L367 690.9M374.9 689.6L378.2 683.9M377.7 685.4L378.2 683.9L377 685.1M368.3 689.6L365 683.9M366.2 685.1L365 683.9L365.5 685.4M354.7 678L358 672.3M357.5 673.9L358 672.3L356.9 673.5M348.2 678L344.9 672.3M346 673.5L344.9 672.3L345.4 673.9M395 678L398.3 672.3M397.8 673.9L398.3 672.3L397.2 673.5M388.5 678L385.2 672.3M386.3 673.5L385.2 672.3L385.7 673.9M358.2 672.1L355 666.5M356.1 667.7L355 666.5L355.4 668.1M344.7 672.1L347.9 666.5M347.5 668L347.9 666.5L346.8 667.6M398.5 672.1L395.3 666.5M396.4 667.6L395.3 666.5L395.7 668M385 672.1L388.2 666.5M387.8 668.1L388.2 666.5L387.1 667.7" stroke-width="2.6"/><path d="M378.4 905L375 899.1M376.2 900.3L375 899.1L375.5 900.7M364.8 905L368.2 899.1M367.7 900.7L368.2 899.1L367 900.3M374.9 899.1L378.2 893.3M377.8 894.9L378.2 893.3L377.1 894.5M368.3 899.1L365 893.3M366.1 894.5L365 893.3L365.4 894.9M378.4 893.3L375.1 887.5M376.2 888.7L375.1 887.5L375.5 889.1M364.8 893.3L368.1 887.5M367.7 889.1L368.1 887.5L367 888.7M374.9 887.5L378.2 881.7M377.8 883.3L378.2 881.7L377.1 882.9M368.3 887.5L365 881.7M366.1 882.9L365 881.7L365.4 883.3M354.7 864.2L358.1 858.4M357.6 860L358.1 858.4L356.9 859.6M388.5 864.2L385.1 858.4M386.3 859.6L385.1 858.4L385.6 860M358.2 846.8L354.9 840.9M356 842.1L354.9 840.9L355.3 842.5M385 846.8L388.3 840.9M387.9 842.5L388.3 840.9L387.2 842.1M354.7 724.5L358.1 718.7M357.6 720.3L358.1 718.7L356.9 719.9M388.5 724.5L385.1 718.7M386.3 719.9L385.1 718.7L385.6 720.3M358.2 707.1L354.9 701.3M356 702.4L354.9 701.3L355.3 702.8M385 707.1L388.3 701.3M387.9 702.8L388.3 701.3L387.2 702.4M378.4 683.8L375.1 678M376.2 679.2L375.1 678L375.5 679.6M364.8 683.8L368.1 678M367.7 679.6L368.1 678L367 679.2M374.9 678L378.2 672.2M377.8 673.8L378.2 672.2L377.1 673.4M368.3 678L365 672.2M366.1 673.4L365 672.2L365.4 673.8M378.4 672.1L375 666.3M376.2 667.5L375 666.3L375.5 667.9M364.8 672.1L368.2 666.3M367.7 667.9L368.2 666.3L367 667.5M374.9 666.3L378.2 660.5M377.8 662.1L378.2 660.5L377.1 661.7M368.3 666.3L365 660.5M366.1 661.7L365 660.5L365.4 662.1" stroke-width="2.7"/><path d="M378.4 916.6L375 910.7M376.2 911.9L375 910.7L375.5 912.3M364.8 916.6L368.2 910.7M367.7 912.3L368.2 910.7L367 911.9M354.7 910.8L358.1 904.9M357.7 906.5L358.1 904.9L357 906.1M374.9 910.8L378.3 904.9M377.8 906.5L378.3 904.9L377.1 906.1M368.3 910.8L364.9 904.9M366.1 906.1L364.9 904.9L365.4 906.5M388.5 910.8L385.1 904.9M386.2 906.1L385.1 904.9L385.5 906.5M358.2 905L354.8 899.1M356 900.3L354.8 899.1L355.3 900.7M385 905L388.4 899.1M387.9 900.7L388.4 899.1L387.2 900.3M354.7 852.6L358.1 846.7M357.7 848.3L358.1 846.7L357 847.9M388.5 852.6L385.1 846.7M386.2 847.9L385.1 846.7L385.5 848.3M358.2 718.7L354.8 712.8M356 714L354.8 712.8L355.3 714.4M385 718.7L388.4 712.8M387.9 714.4L388.4 712.8L387.2 714M354.7 666.3L358.1 660.4M357.7 662L358.1 660.4L357 661.6M388.5 666.3L385.1 660.4M386.2 661.6L385.1 660.4L385.5 662M358.2 660.5L354.9 654.6M356 655.8L354.9 654.6L355.3 656.2M378.4 660.5L375 654.6M376.2 655.8L375 654.6L375.5 656.2M364.8 660.5L368.2 654.6M367.7 656.2L368.2 654.6L367 655.8M385 660.5L388.3 654.6M387.9 656.2L388.3 654.6L387.2 655.8M374.9 654.7L378.3 648.8M377.8 650.4L378.3 648.8L377.1 650M368.3 654.7L364.9 648.8M366.1 650L364.9 648.8L365.4 650.4M378.4 928.3L375 922.4M376.2 923.6L375 922.4L375.5 924M364.8 928.3L368.2 922.4M367.7 924L368.2 922.4L367 923.6M374.9 643L378.3 637.2M377.8 638.8L378.3 637.2L377.1 638.4M368.3 643L364.9 637.2M366.1 638.4L364.9 637.2L365.4 638.8" stroke-width="2.8"/><path d="M354.7 922.4L358.1 916.5M357.7 918.1L358.1 916.5L357 917.7M374.9 922.4L378.3 916.5M377.8 918.1L378.3 916.5L377.1 917.7M368.3 922.4L364.9 916.5M366.1 917.7L364.9 916.5L365.4 918.1M388.5 922.4L385.1 916.5M386.2 917.7L385.1 916.5L385.5 918.1M348.2 887.5L344.8 881.6M345.9 882.8L344.8 881.6L345.2 883.2M395 887.5L398.4 881.6M398 883.2L398.4 881.6L397.3 882.8M344.7 881.7L348.1 875.8M347.6 877.4L348.1 875.8L346.9 877M398.5 881.7L395.1 875.8M396.3 877L395.1 875.8L395.6 877.4M358.2 858.4L354.8 852.5M356 853.7L354.8 852.5L355.3 854.1M385 858.4L388.4 852.5M387.9 854.1L388.4 852.5L387.2 853.7M354.7 712.9L358.1 707M357.7 708.6L358.1 707L357 708.2M388.5 712.9L385.1 707M386.2 708.2L385.1 707L385.5 708.6M348.2 689.6L344.8 683.7M345.9 684.9L344.8 683.7L345.2 685.3M395 689.6L398.4 683.7M398 685.3L398.4 683.7L397.3 684.9M344.7 683.8L348.1 677.9M347.6 679.5L348.1 677.9L346.9 679.1M398.5 683.8L395.1 677.9M396.3 679.1L395.1 677.9L395.6 679.5M358.2 648.9L354.8 642.9M356 644.2L354.8 642.9L355.3 644.6M378.4 648.9L375 642.9M376.2 644.2L375 642.9L375.4 644.6M364.8 648.9L368.2 642.9M367.8 644.6L368.2 642.9L367 644.2M385 648.9L388.4 642.9M387.9 644.6L388.4 642.9L387.2 644.2M354.7 934.1L358.1 928.2M357.7 929.8L358.1 928.2L357 929.4M374.9 934.1L378.3 928.2M377.8 929.8L378.3 928.2L377.1 929.4M368.3 934.1L364.9 928.2M366.1 929.4L364.9 928.2L365.4 929.8M388.5 934.1L385.1 928.2M386.2 929.4L385.1 928.2L385.5 929.8M358.2 637.2L354.8 631.3M356 632.5L354.8 631.3L355.3 632.9M378.4 637.2L375 631.3M376.2 632.5L375 631.3L375.4 632.9M364.8 637.2L368.2 631.3M367.8 632.9L368.2 631.3L367 632.5M385 637.2L388.4 631.3M387.9 632.9L388.4 631.3L387.2 632.5" stroke-width="2.9"/><path d="M358.2 916.6L354.8 910.7M356 911.9L354.8 910.7L355.3 912.3M385 916.6L388.4 910.7M387.9 912.3L388.4 910.7L387.2 911.9M348.2 875.9L344.8 870M345.9 871.2L344.8 870L345.2 871.6M395 875.9L398.4 870M398 871.6L398.4 870L397.3 871.2M344.7 870L348.1 864.1M347.6 865.8L348.1 864.1L346.9 865.3M398.5 870L395.1 864.1M396.3 865.3L395.1 864.1L395.6 865.8M348.2 701.2L344.8 695.3M345.9 696.5L344.8 695.3L345.2 696.9M395 701.2L398.4 695.3M398 696.9L398.4 695.3L397.3 696.5M344.7 695.4L348.1 689.5M347.6 691.1L348.1 689.5L346.9 690.7M398.5 695.4L395.1 689.5M396.3 690.7L395.1 689.5L395.6 691.1M354.7 654.7L358.1 648.8M357.7 650.4L358.1 648.8L357 650M388.5 654.7L385.1 648.8M386.2 650L385.1 648.8L385.5 650.4M358.2 928.3L354.8 922.3M356 923.6L354.8 922.3L355.3 924M385 928.3L388.4 922.3M387.9 924L388.4 922.3L387.2 923.6M354.7 643L358.1 637.1M357.7 638.7L358.1 637.1L357 638.3M388.5 643L385.1 637.1M386.2 638.3L385.1 637.1L385.5 638.7" stroke-width="3"/></g>
</g>
<rect x="230.4" y="641.3" width="283.80000000000007" height="284.0" fill="none" stroke="#4d4d4d" stroke-width="0.6"/>
<path d="M277.7 925.3v-2.8M277.7 641.3v2.8M230.4 877.97h2.8M514.2 877.97h-2.8M325 925.3v-2.8M325 641.3v2.8M230.4 830.63h2.8M514.2 830.63h-2.8M372.3 925.3v-2.8M372.3 641.3v2.8M230.4 783.3h2.8M514.2 783.3h-2.8M419.6 925.3v-2.8M419.6 641.3v2.8M230.4 735.97h2.8M514.2 735.97h-2.8M466.9 925.3v-2.8M466.9 641.3v2.8M230.4 688.63h2.8M514.2 688.63h-2.8" stroke="#4d4d4d" stroke-width="0.6" fill="none"/>
<text x="226.9" y="928.8" font-size="10.7" text-anchor="end" fill="#262626">-30</text>
<text x="226.9" y="881.47" font-size="10.7" text-anchor="end" fill="#262626">-20</text>
<text x="226.9" y="834.13" font-size="10.7" text-anchor="end" fill="#262626">-10</text>
<text x="226.9" y="786.8" font-size="10.7" text-anchor="end" fill="#262626">0</text>
<text x="226.9" y="739.47" font-size="10.7" text-anchor="end" fill="#262626">10</text>
<text x="226.9" y="692.13" font-size="10.7" text-anchor="end" fill="#262626">20</text>
<text x="226.9" y="644.8" font-size="10.7" text-anchor="end" fill="#262626">30</text>
<text x="230.4" y="938.8" font-size="10.7" text-anchor="middle" fill="#262626">-30</text>
<text x="277.7" y="938.8" font-size="10.7" text-anchor="middle" fill="#262626">-20</text>
<text x="325" y="938.8" font-size="10.7" text-anchor="middle" fill="#262626">-10</text>
<text x="372.3" y="938.8" font-size="10.7" text-anchor="middle" fill="#262626">0</text>
<text x="419.6" y="938.8" font-size="10.7" text-anchor="middle" fill="#262626">10</text>
<text x="466.9" y="938.8" font-size="10.7" text-anchor="middle" fill="#262626">20</text>
<text x="514.2" y="938.8" font-size="10.7" text-anchor="middle" fill="#262626">30</text>
<text x="372.3" y="952.3" font-size="11.6" text-anchor="middle" fill="#262626">X (Å)</text>
<text transform="translate(207 783.3) rotate(-90)" font-size="12" text-anchor="middle" fill="#262626">Y (Å)</text>
<text x="462" y="653.1" font-size="13.5" fill="#000">R<tspan font-size="10" dy="2.8">o</tspan><tspan dy="-2.8">=19 Å</tspan></text>
<text x="235.5" y="914.6" font-size="8.75" fill="#000">net current<tspan font-size="6.6" dy="3.3">max</tspan><tspan dy="-3.3">=9e-04 (4e/h)</tspan></text>
<rect x="526.5" y="641.3" width="14.799999999999955" height="284.0" fill="url(#pg)" stroke="#4d4d4d" stroke-width="0.3"/>
<text x="544.3" y="645.6" font-size="10.7" fill="#262626">4e-01</text>
<text x="544.3" y="928.6" font-size="10.7" fill="#262626">2e-05</text>
<text transform="translate(553.6 783) rotate(-90)" font-size="10.8" text-anchor="middle" fill="#262626">LDOS (arb. unit)</text>
<clipPath id="ct0"><rect x="609.8" y="19.1" width="75.40000000000009" height="286.2"/></clipPath>
<path d="M610.8 165.05H683.2" stroke="#ff40ff" stroke-width="0.7"/>
<polyline points="659.81,304.8 659.23,304.23 658.35,303.66 656.73,303.09 653.71,302.52 648.72,301.95 642.45,301.38 636.88,300.81 636.13,300.24 639.06,299.67 654.68,299.1 638.95,298.53 642.3,297.96 646.15,297.38 649.12,296.81 649.05,296.24 647.74,295.67 647.03,295.1 646.25,294.53 640.45,293.96 630.87,293.39 628.82,292.82 629.5,292.25 630.74,291.68 638.89,291.11 642.98,290.54 647.46,289.97 649.76,289.4 650.54,288.83 650.7,288.26 650.77,287.69 651.23,287.12 653.75,286.55 647.51,285.98 645.13,285.41 644.98,284.84 640.5,284.27 648.68,283.7 649,283.12 648.59,282.55 648.33,281.98 648.13,281.41 647.88,280.84 647.49,280.27 646.65,279.7 644.03,279.13 633.03,278.56 650.59,277.99 651.59,277.42 651.61,276.85 651.72,276.28 651.96,275.71 652.32,275.14 652.78,274.57 653.35,274 654.03,273.43 654.8,272.86 655.67,272.29 656.61,271.72 657.59,271.15 658.54,270.58 659.38,270.01 659.96,269.44 659.98,268.86 658.7,268.29 654.71,267.72 648.15,267.15 644.06,266.58 643.94,266.01 645,265.44 645.98,264.87 646.71,264.3 647.35,263.73 648.16,263.16 649.52,262.59 652.1,262.02 655.57,261.45 652.09,260.88 641.33,260.31 633.72,259.74 623.63,259.17 632.46,258.6 635.52,258.03 633.24,257.46 630.2,256.89 628.37,256.32 628.32,255.75 628.31,255.18 628.34,254.6 628.39,254.03 628.46,253.46 628.53,252.89 628.61,252.32 628.68,251.75 628.75,251.18 628.8,250.61 628.85,250.04 628.88,249.47 628.9,248.9 628.9,248.33 628.88,247.76 628.84,247.19 628.78,246.62 628.71,246.05 628.63,245.48 628.53,244.91 628.42,244.34 628.3,243.77 628.19,243.2 628.08,242.63 627.99,242.06 627.91,241.49 627.86,240.92 627.85,240.34 627.89,239.77 628,239.2 628.17,238.63 628.42,238.06 628.7,237.49 628.89,236.92 628.7,236.35 627.56,235.78 625.01,235.21 621.42,234.64 618.1,234.07 615.96,233.5 615.02,232.93 615.07,232.36 616.08,231.79 618.2,231.22 621.38,230.65 624.91,230.08 627.59,229.51 628.78,228.94 628.79,228.37 628.2,227.8 627.4,227.23 626.6,226.66 625.87,226.08 625.24,225.51 624.7,224.94 624.24,224.37 623.84,223.8 623.51,223.23 623.22,222.66 622.97,222.09 622.76,221.52 622.58,220.95 622.42,220.38 622.28,219.81 622.16,219.24 622.06,218.67 621.97,218.1 621.89,217.53 621.82,216.96 621.77,216.39 621.72,215.82 621.68,215.25 621.64,214.68 621.61,214.11 621.58,213.54 621.56,212.97 621.55,212.4 621.53,211.82 621.53,211.25 621.52,210.68 621.52,210.11 621.52,209.54 621.53,208.97 621.54,208.4 621.56,207.83 621.59,207.26 621.63,206.69 621.68,206.12 621.75,205.55 621.85,204.98 621.97,204.41 622.14,203.84 622.36,203.27 622.66,202.7 623.07,202.13 623.63,201.56 624.43,200.99 625.55,200.42 627.09,199.85 628.69,199.28 627.59,198.71 619.32,198.14 612.33,197.56 610.81,196.99 611.1,196.42 611.65,195.85 612.12,195.28 612.48,194.71 612.74,194.14 612.91,193.57 613.02,193 613.07,192.43 613.09,191.86 613.09,191.29 613.05,190.72 613,190.15 612.94,189.58 612.86,189.01 612.78,188.44 612.69,187.87 612.59,187.3 612.49,186.73 612.39,186.16 612.28,185.59 612.18,185.02 612.07,184.45 611.97,183.88 611.87,183.3 611.76,182.73 611.66,182.16 611.57,181.59 611.47,181.02 611.38,180.45 611.29,179.88 611.21,179.31 611.13,178.74 611.05,178.17 610.99,177.6 610.93,177.03 610.88,176.46 610.84,175.89 610.81,175.32 610.8,174.75 610.81,174.18 610.84,173.61 610.91,173.04 611.01,172.47 611.15,171.9 611.35,171.33 611.61,170.76 611.96,170.19 612.39,169.62 612.92,169.04 613.56,168.47 614.3,167.9 615.13,167.33 616,166.76 616.86,166.19 617.6,165.62 618.12,165.05 618.27,164.48 617.88,163.91 616.74,163.34 614.74,162.77 610.89,162.2 614.74,161.63 616.74,161.06 617.88,160.49 618.27,159.92 618.12,159.35 617.6,158.78 616.86,158.21 616,157.64 615.13,157.07 614.3,156.5 613.56,155.93 612.92,155.36 612.39,154.78 611.96,154.21 611.61,153.64 611.35,153.07 611.15,152.5 611.01,151.93 610.91,151.36 610.84,150.79 610.81,150.22 610.8,149.65 610.81,149.08 610.84,148.51 610.88,147.94 610.93,147.37 610.99,146.8 611.05,146.23 611.13,145.66 611.21,145.09 611.29,144.52 611.38,143.95 611.47,143.38 611.57,142.81 611.66,142.24 611.76,141.67 611.87,141.1 611.97,140.52 612.07,139.95 612.18,139.38 612.28,138.81 612.39,138.24 612.49,137.67 612.59,137.1 612.69,136.53 612.78,135.96 612.86,135.39 612.94,134.82 613,134.25 613.05,133.68 613.09,133.11 613.09,132.54 613.07,131.97 613.02,131.4 612.91,130.83 612.74,130.26 612.48,129.69 612.12,129.12 611.65,128.55 611.1,127.98 610.81,127.41 612.33,126.84 619.32,126.26 627.59,125.69 628.69,125.12 627.09,124.55 625.55,123.98 624.43,123.41 623.63,122.84 623.07,122.27 622.66,121.7 622.36,121.13 622.14,120.56 621.97,119.99 621.85,119.42 621.75,118.85 621.68,118.28 621.63,117.71 621.59,117.14 621.56,116.57 621.54,116 621.53,115.43 621.52,114.86 621.52,114.29 621.52,113.72 621.53,113.15 621.53,112.58 621.55,112 621.56,111.43 621.58,110.86 621.61,110.29 621.64,109.72 621.68,109.15 621.72,108.58 621.77,108.01 621.82,107.44 621.89,106.87 621.97,106.3 622.06,105.73 622.16,105.16 622.28,104.59 622.42,104.02 622.58,103.45 622.76,102.88 622.97,102.31 623.22,101.74 623.51,101.17 623.84,100.6 624.24,100.03 624.7,99.46 625.24,98.89 625.87,98.32 626.6,97.74 627.4,97.17 628.2,96.6 628.79,96.03 628.78,95.46 627.59,94.89 624.91,94.32 621.38,93.75 618.2,93.18 616.08,92.61 615.07,92.04 615.02,91.47 615.96,90.9 618.1,90.33 621.42,89.76 625.01,89.19 627.56,88.62 628.7,88.05 628.89,87.48 628.7,86.91 628.42,86.34 628.17,85.77 628,85.2 627.89,84.63 627.85,84.06 627.86,83.48 627.91,82.91 627.99,82.34 628.08,81.77 628.19,81.2 628.3,80.63 628.42,80.06 628.53,79.49 628.63,78.92 628.71,78.35 628.78,77.78 628.84,77.21 628.88,76.64 628.9,76.07 628.9,75.5 628.88,74.93 628.85,74.36 628.8,73.79 628.75,73.22 628.68,72.65 628.61,72.08 628.53,71.51 628.46,70.94 628.39,70.37 628.34,69.8 628.31,69.22 628.32,68.65 628.37,68.08 630.2,67.51 633.24,66.94 635.52,66.37 632.46,65.8 623.63,65.23 633.72,64.66 641.33,64.09 652.09,63.52 655.57,62.95 652.1,62.38 649.52,61.81 648.16,61.24 647.35,60.67 646.71,60.1 645.98,59.53 645,58.96 643.94,58.39 644.06,57.82 648.15,57.25 654.71,56.68 658.7,56.11 659.98,55.54 659.96,54.96 659.38,54.39 658.54,53.82 657.59,53.25 656.61,52.68 655.67,52.11 654.8,51.54 654.03,50.97 653.35,50.4 652.78,49.83 652.32,49.26 651.96,48.69 651.72,48.12 651.61,47.55 651.59,46.98 650.59,46.41 633.03,45.84 644.03,45.27 646.65,44.7 647.49,44.13 647.88,43.56 648.13,42.99 648.33,42.42 648.59,41.85 649,41.28 648.68,40.7 640.5,40.13 644.98,39.56 645.13,38.99 647.51,38.42 653.75,37.85 651.23,37.28 650.77,36.71 650.7,36.14 650.54,35.57 649.76,35 647.46,34.43 642.98,33.86 638.89,33.29 630.74,32.72 629.5,32.15 628.82,31.58 630.87,31.01 640.45,30.44 646.25,29.87 647.03,29.3 647.74,28.73 649.05,28.16 649.12,27.59 646.15,27.02 642.3,26.44 638.95,25.87 654.68,25.3 639.06,24.73 636.13,24.16 636.88,23.59 642.45,23.02 648.72,22.45 653.71,21.88 656.73,21.31 658.35,20.74 659.23,20.17 659.81,19.6" fill="none" stroke="#0000ff" stroke-width="1.15" stroke-linejoin="round" clip-path="url(#ct0)"/>
<path d="M610.8 19.6V304.8M683.2 19.6V304.8" stroke="#9a9a9a" stroke-width="1.1" fill="none"/><path d="M610.3 19.6H683.7M610.3 304.8H683.7" stroke="#5a5a5a" stroke-width="0.7" fill="none"/>
<path d="M610.8 48.12h2.6M683.2 48.12h-2.6M610.8 76.64h2.6M683.2 76.64h-2.6M610.8 105.16h2.6M683.2 105.16h-2.6M610.8 133.68h2.6M683.2 133.68h-2.6M610.8 162.2h2.6M683.2 162.2h-2.6M610.8 190.72h2.6M683.2 190.72h-2.6M610.8 219.24h2.6M683.2 219.24h-2.6M610.8 247.76h2.6M683.2 247.76h-2.6M610.8 276.28h2.6M683.2 276.28h-2.6M647 19.6v2.6M647 304.8v-2.6" stroke="#4d4d4d" stroke-width="0.6" fill="none"/>
<text x="607.3" y="23.1" font-size="10.7" text-anchor="end" fill="#262626">2.5</text>
<text x="607.3" y="51.62" font-size="10.7" text-anchor="end" fill="#262626">2</text>
<text x="607.3" y="80.14" font-size="10.7" text-anchor="end" fill="#262626">1.5</text>
<text x="607.3" y="108.66" font-size="10.7" text-anchor="end" fill="#262626">1</text>
<text x="607.3" y="137.18" font-size="10.7" text-anchor="end" fill="#262626">0.5</text>
<text x="607.3" y="165.7" font-size="10.7" text-anchor="end" fill="#262626">0</text>
<text x="607.3" y="194.22" font-size="10.7" text-anchor="end" fill="#262626">-0.5</text>
<text x="607.3" y="222.74" font-size="10.7" text-anchor="end" fill="#262626">-1</text>
<text x="607.3" y="251.26" font-size="10.7" text-anchor="end" fill="#262626">-1.5</text>
<text x="607.3" y="279.78" font-size="10.7" text-anchor="end" fill="#262626">-2</text>
<text x="607.3" y="308.3" font-size="10.7" text-anchor="end" fill="#262626">-2.5</text>
<text transform="translate(587.2 162.7) rotate(-90)" font-size="11.65" text-anchor="middle" fill="#262626">Energy (eV)</text>
<clipPath id="ct1"><rect x="609.8" y="329.0" width="75.40000000000009" height="286.2"/></clipPath>
<path d="M610.8 474.95H683.2" stroke="#ff40ff" stroke-width="0.7"/>
<polyline points="670.8,614.7 667.57,614.13 661.5,613.56 650.09,612.99 636.16,612.42 636.9,611.85 646.02,611.28 651.88,610.71 655.95,610.14 658.58,609.57 659.89,609 660.65,608.43 659.94,607.86 641.34,607.28 642.86,606.71 640.7,606.14 644.01,605.57 639.26,605 640.27,604.43 652.24,603.86 656.24,603.29 652.01,602.72 648.65,602.15 646.25,601.58 644.13,601.01 641.29,600.44 634.42,599.87 623.23,599.3 631.6,598.73 636.84,598.16 633.55,597.59 632.21,597.02 633.92,596.45 635.44,595.88 636.34,595.31 636.8,594.74 636.98,594.17 636.95,593.6 636.72,593.02 637.07,592.45 642.1,591.88 648.09,591.31 648.21,590.74 645.99,590.17 644.57,589.6 643.47,589.03 642.7,588.46 642.25,587.89 642.31,587.32 644.92,586.75 636.52,586.18 638.23,585.61 638.43,585.04 638.38,584.47 638.26,583.9 638.11,583.33 637.95,582.76 637.8,582.19 637.62,581.62 637.43,581.05 637.2,580.48 636.86,579.91 636.28,579.34 635.51,578.76 645.58,578.19 656.79,577.62 658.85,577.05 657.37,576.48 652.8,575.91 648.9,575.34 646.32,574.77 644.65,574.2 643.6,573.63 643.17,573.06 643.5,572.49 644.47,571.92 645.31,571.35 644.39,570.78 644.03,570.21 641.49,569.64 638.45,569.07 635.05,568.5 631.25,567.93 626.77,567.36 620.74,566.79 616.09,566.22 614.96,565.65 613.92,565.08 612.99,564.5 612.02,563.93 611.4,563.36 610.93,562.79 610.82,562.22 611.28,561.65 612.59,561.08 614.93,560.51 618.13,559.94 621.58,559.37 624.54,558.8 626.6,558.23 627.82,557.66 628.44,557.09 628.71,556.52 628.81,555.95 628.84,555.38 628.82,554.81 628.74,554.24 628.53,553.67 628.1,553.1 627.32,552.53 626.07,551.96 624.26,551.39 621.93,550.82 619.29,550.24 616.62,549.67 614.23,549.1 612.37,548.53 611.18,547.96 610.8,547.39 611.45,546.82 613.45,546.25 617.17,545.68 622.31,545.11 627.01,544.54 628.89,543.97 627.85,543.4 625.53,542.83 623.17,542.26 621.24,541.69 619.83,541.12 618.99,540.55 618.95,539.98 621.52,539.41 615.41,538.84 611.49,538.27 612.17,537.7 612.34,537.13 612.35,536.56 612.3,535.98 612.23,535.41 612.16,534.84 612.09,534.27 612.03,533.7 611.97,533.13 611.93,532.56 611.89,531.99 611.86,531.42 611.84,530.85 611.83,530.28 611.82,529.71 611.83,529.14 611.84,528.57 611.87,528 611.9,527.43 611.96,526.86 612.03,526.29 612.13,525.72 612.27,525.15 612.47,524.58 612.74,524.01 613.14,523.44 613.75,522.87 614.74,522.3 616.47,521.72 619.66,521.15 625.11,520.58 628.87,520.01 623.64,519.44 617.65,518.87 614.56,518.3 613.09,517.73 612.37,517.16 612.08,516.59 612.5,516.02 611.81,515.45 610.83,514.88 610.86,514.31 610.86,513.74 610.85,513.17 610.84,512.6 610.83,512.03 610.83,511.46 610.82,510.89 610.82,510.32 610.81,509.75 610.81,509.18 610.81,508.61 610.81,508.04 610.8,507.46 610.8,506.89 610.8,506.32 610.8,505.75 610.8,505.18 610.8,504.61 610.8,504.04 610.8,503.47 610.8,502.9 610.8,502.33 610.8,501.76 610.8,501.19 610.8,500.62 610.8,500.05 610.8,499.48 610.8,498.91 610.8,498.34 610.8,497.77 610.8,497.2 610.8,496.63 610.8,496.06 610.8,495.49 610.8,494.92 610.8,494.35 610.8,493.78 610.8,493.2 610.8,492.63 610.8,492.06 610.8,491.49 610.8,490.92 610.8,490.35 610.8,489.78 610.8,489.21 610.8,488.64 610.8,488.07 610.8,487.5 610.8,486.93 610.8,486.36 610.8,485.79 610.8,485.22 610.8,484.65 610.8,484.08 610.8,483.51 610.8,482.94 610.8,482.37 610.8,481.8 610.8,481.23 610.8,480.66 610.8,480.09 610.8,479.52 610.8,478.94 610.8,478.37 610.8,477.8 610.8,477.23 610.8,476.66 610.8,476.09 610.8,475.52 610.8,474.95 610.8,474.38 610.8,473.81 610.81,473.24 610.81,472.67 610.8,472.1 610.81,471.53 610.81,470.96 610.8,470.39 610.8,469.82 610.8,469.25 610.8,468.68 610.8,468.11 610.8,467.54 610.8,466.97 610.8,466.4 610.8,465.83 610.8,465.26 610.8,464.68 610.8,464.11 610.8,463.54 610.8,462.97 610.8,462.4 610.8,461.83 610.8,461.26 610.8,460.69 610.8,460.12 610.8,459.55 610.8,458.98 610.8,458.41 610.8,457.84 610.8,457.27 610.8,456.7 610.8,456.13 610.8,455.56 610.8,454.99 610.8,454.42 610.8,453.85 610.8,453.28 610.8,452.71 610.8,452.14 610.8,451.57 610.8,451 610.8,450.42 610.8,449.85 610.8,449.28 610.8,448.71 610.8,448.14 610.8,447.57 610.8,447 610.8,446.43 610.8,445.86 610.8,445.29 610.8,444.72 610.8,444.15 610.8,443.58 610.8,443.01 610.8,442.44 610.8,441.87 610.8,441.3 610.8,440.73 610.8,440.16 610.8,439.59 610.8,439.02 610.8,438.45 610.8,437.88 610.8,437.31 610.8,436.74 610.81,436.16 610.81,435.59 610.81,435.02 610.81,434.45 610.82,433.88 610.82,433.31 610.83,432.74 610.83,432.17 610.84,431.6 610.85,431.03 610.86,430.46 610.86,429.89 610.83,429.32 611.81,428.75 612.5,428.18 612.08,427.61 612.37,427.04 613.09,426.47 614.56,425.9 617.65,425.33 623.64,424.76 628.87,424.19 625.11,423.62 619.66,423.05 616.47,422.48 614.74,421.9 613.75,421.33 613.14,420.76 612.74,420.19 612.47,419.62 612.27,419.05 612.13,418.48 612.03,417.91 611.96,417.34 611.9,416.77 611.87,416.2 611.84,415.63 611.83,415.06 611.82,414.49 611.83,413.92 611.84,413.35 611.86,412.78 611.89,412.21 611.93,411.64 611.97,411.07 612.03,410.5 612.09,409.93 612.16,409.36 612.23,408.79 612.3,408.22 612.35,407.64 612.34,407.07 612.17,406.5 611.49,405.93 615.41,405.36 621.52,404.79 618.95,404.22 618.99,403.65 619.83,403.08 621.24,402.51 623.17,401.94 625.53,401.37 627.85,400.8 628.89,400.23 627.01,399.66 622.31,399.09 617.17,398.52 613.45,397.95 611.45,397.38 610.8,396.81 611.18,396.24 612.37,395.67 614.23,395.1 616.62,394.53 619.29,393.96 621.93,393.38 624.26,392.81 626.07,392.24 627.32,391.67 628.1,391.1 628.53,390.53 628.74,389.96 628.82,389.39 628.84,388.82 628.81,388.25 628.71,387.68 628.44,387.11 627.82,386.54 626.6,385.97 624.54,385.4 621.58,384.83 618.13,384.26 614.93,383.69 612.59,383.12 611.28,382.55 610.82,381.98 610.93,381.41 611.4,380.84 612.02,380.27 612.99,379.7 613.92,379.12 614.96,378.55 616.09,377.98 620.74,377.41 626.77,376.84 631.25,376.27 635.05,375.7 638.45,375.13 641.49,374.56 644.03,373.99 644.39,373.42 645.31,372.85 644.47,372.28 643.5,371.71 643.17,371.14 643.6,370.57 644.65,370 646.32,369.43 648.9,368.86 652.8,368.29 657.37,367.72 658.85,367.15 656.79,366.58 645.58,366.01 635.51,365.44 636.28,364.86 636.86,364.29 637.2,363.72 637.43,363.15 637.62,362.58 637.8,362.01 637.95,361.44 638.11,360.87 638.26,360.3 638.38,359.73 638.43,359.16 638.23,358.59 636.52,358.02 644.92,357.45 642.31,356.88 642.25,356.31 642.7,355.74 643.47,355.17 644.57,354.6 645.99,354.03 648.21,353.46 648.09,352.89 642.1,352.32 637.07,351.75 636.72,351.18 636.95,350.6 636.98,350.03 636.8,349.46 636.34,348.89 635.44,348.32 633.92,347.75 632.21,347.18 633.55,346.61 636.84,346.04 631.6,345.47 623.23,344.9 634.42,344.33 641.29,343.76 644.13,343.19 646.25,342.62 648.65,342.05 652.01,341.48 656.24,340.91 652.24,340.34 640.27,339.77 639.26,339.2 644.01,338.63 640.7,338.06 642.86,337.49 641.34,336.92 659.94,336.34 660.65,335.77 659.89,335.2 658.58,334.63 655.95,334.06 651.88,333.49 646.02,332.92 636.9,332.35 636.16,331.78 650.09,331.21 661.5,330.64 667.57,330.07 670.8,329.5" fill="none" stroke="#0000ff" stroke-width="1.15" stroke-linejoin="round" clip-path="url(#ct1)"/>
<path d="M610.8 329.5V614.7M683.2 329.5V614.7" stroke="#9a9a9a" stroke-width="1.1" fill="none"/><path d="M610.3 329.5H683.7M610.3 614.7H683.7" stroke="#5a5a5a" stroke-width="0.7" fill="none"/>
<path d="M610.8 358.02h2.6M683.2 358.02h-2.6M610.8 386.54h2.6M683.2 386.54h-2.6M610.8 415.06h2.6M683.2 415.06h-2.6M610.8 443.58h2.6M683.2 443.58h-2.6M610.8 472.1h2.6M683.2 472.1h-2.6M610.8 500.62h2.6M683.2 500.62h-2.6M610.8 529.14h2.6M683.2 529.14h-2.6M610.8 557.66h2.6M683.2 557.66h-2.6M610.8 586.18h2.6M683.2 586.18h-2.6M647 329.5v2.6M647 614.7v-2.6" stroke="#4d4d4d" stroke-width="0.6" fill="none"/>
<text x="607.3" y="333" font-size="10.7" text-anchor="end" fill="#262626">2.5</text>
<text x="607.3" y="361.52" font-size="10.7" text-anchor="end" fill="#262626">2</text>
<text x="607.3" y="390.04" font-size="10.7" text-anchor="end" fill="#262626">1.5</text>
<text x="607.3" y="418.56" font-size="10.7" text-anchor="end" fill="#262626">1</text>
<text x="607.3" y="447.08" font-size="10.7" text-anchor="end" fill="#262626">0.5</text>
<text x="607.3" y="475.6" font-size="10.7" text-anchor="end" fill="#262626">0</text>
<text x="607.3" y="504.12" font-size="10.7" text-anchor="end" fill="#262626">-0.5</text>
<text x="607.3" y="532.64" font-size="10.7" text-anchor="end" fill="#262626">-1</text>
<text x="607.3" y="561.16" font-size="10.7" text-anchor="end" fill="#262626">-1.5</text>
<text x="607.3" y="589.68" font-size="10.7" text-anchor="end" fill="#262626">-2</text>
<text x="607.3" y="618.2" font-size="10.7" text-anchor="end" fill="#262626">-2.5</text>
<text transform="translate(585.4 472.6) rotate(-90)" font-size="11.65" text-anchor="middle" fill="#262626">Energy (eV)</text>
<clipPath id="ct2"><rect x="609.8" y="639.5" width="75.40000000000009" height="286.2"/></clipPath>
<path d="M610.8 785.45H683.2" stroke="#ff40ff" stroke-width="0.7"/>
<polyline points="671.44,925.2 664.63,924.63 661.43,924.06 659.5,923.49 659.99,922.92 652.54,922.35 651.57,921.78 647.9,921.21 639.45,920.64 640.62,920.07 651.15,919.5 654.13,918.93 650.52,918.36 655.65,917.78 655.66,917.21 654.67,916.64 653.08,916.07 651,915.5 647.92,914.93 641.5,914.36 631.86,913.79 636.67,913.22 641.61,912.65 643.01,912.08 639.65,911.51 646.75,910.94 645.55,910.37 644.87,909.8 644.19,909.23 643.42,908.66 642.57,908.09 641.65,907.52 640.73,906.95 639.88,906.38 639.24,905.81 638.84,905.24 637.84,904.67 653.43,904.1 650.39,903.52 653.06,902.95 660.82,902.38 653.8,901.81 647.53,901.24 646.84,900.67 647.04,900.1 647.69,899.53 648.69,898.96 649.9,898.39 651.12,897.82 652.12,897.25 652.71,896.68 652.76,896.11 652.19,895.54 651.14,894.97 649.34,894.4 634.77,893.83 636.36,893.26 638.12,892.69 640.04,892.12 641.44,891.55 642.22,890.98 642.39,890.41 641.97,889.84 640.99,889.26 639.81,888.69 639.62,888.12 641.14,887.55 641.99,886.98 639.38,886.41 635.73,885.84 640.48,885.27 643.11,884.7 644.75,884.13 647.47,883.56 649.85,882.99 651.31,882.42 651.56,881.85 650.58,881.28 648.63,880.71 646.1,880.14 643.32,879.57 640.46,879 637.56,878.43 634.48,877.86 630.9,877.29 628.88,876.72 628.88,876.15 628.88,875.58 628.87,875 628.85,874.43 628.81,873.86 628.75,873.29 628.66,872.72 628.51,872.15 628.29,871.58 627.97,871.01 627.52,870.44 626.88,869.87 626.02,869.3 624.88,868.73 623.43,868.16 621.65,867.59 619.57,867.02 617.31,866.45 615.06,865.88 613.1,865.31 611.68,864.74 610.93,864.17 610.83,863.6 611.16,863.03 611.5,862.46 611.23,861.89 611.52,861.32 625.86,860.74 628.87,860.17 628.52,859.6 628.51,859.03 628.65,858.46 628.8,857.89 628.89,857.32 628.89,856.75 628.81,856.18 628.65,855.61 628.43,855.04 628.17,854.47 627.89,853.9 627.59,853.33 627.28,852.76 626.99,852.19 626.71,851.62 626.45,851.05 626.23,850.48 626.04,849.91 625.89,849.34 625.79,848.77 625.75,848.2 625.76,847.63 625.84,847.06 625.99,846.48 626.21,845.91 626.52,845.34 626.92,844.77 627.39,844.2 627.91,843.63 628.42,843.06 628.8,842.49 628.88,841.92 628.42,841.35 627.29,840.78 625.51,840.21 623.38,839.64 621.28,839.07 619.5,838.5 618.17,837.93 617.29,837.36 616.82,836.79 616.7,836.22 616.9,835.65 617.41,835.08 618.21,834.51 619.3,833.94 620.63,833.37 622.13,832.8 623.68,832.22 625.15,831.65 626.44,831.08 627.45,830.51 628.17,829.94 628.62,829.37 628.85,828.8 628.9,828.23 628.83,827.66 628.67,827.09 628.47,826.52 628.24,825.95 627.99,825.38 627.74,824.81 627.49,824.24 627.24,823.67 627.01,823.1 626.78,822.53 626.56,821.96 626.34,821.39 626.13,820.82 625.93,820.25 625.74,819.68 625.55,819.11 625.36,818.54 625.17,817.96 624.99,817.39 624.81,816.82 624.64,816.25 624.47,815.68 624.3,815.11 624.13,814.54 623.96,813.97 623.8,813.4 623.64,812.83 623.49,812.26 623.34,811.69 623.2,811.12 623.06,810.55 622.92,809.98 622.8,809.41 622.68,808.84 622.57,808.27 622.46,807.7 622.37,807.13 622.29,806.56 622.21,805.99 622.15,805.42 622.1,804.85 622.07,804.28 622.04,803.7 622.04,803.13 622.04,802.56 622.07,801.99 622.11,801.42 622.17,800.85 622.25,800.28 622.36,799.71 622.48,799.14 622.63,798.57 622.81,798 623.01,797.43 623.24,796.86 623.5,796.29 623.8,795.72 624.12,795.15 624.48,794.58 624.87,794.01 625.29,793.44 625.74,792.87 626.2,792.3 626.68,791.73 627.16,791.16 627.63,790.59 628.05,790.02 628.42,789.44 628.7,788.87 628.86,788.3 628.89,787.73 628.79,787.16 628.57,786.59 628.26,786.02 627.95,785.45 627.73,784.88 627.79,784.31 628.3,783.74 628.89,783.17 613.27,782.6 628.89,782.03 628.3,781.46 627.79,780.89 627.73,780.32 627.95,779.75 628.26,779.18 628.57,778.61 628.79,778.04 628.89,777.47 628.86,776.9 628.7,776.33 628.42,775.76 628.05,775.18 627.63,774.61 627.16,774.04 626.68,773.47 626.2,772.9 625.74,772.33 625.29,771.76 624.87,771.19 624.48,770.62 624.12,770.05 623.8,769.48 623.5,768.91 623.24,768.34 623.01,767.77 622.81,767.2 622.63,766.63 622.48,766.06 622.36,765.49 622.25,764.92 622.17,764.35 622.11,763.78 622.07,763.21 622.04,762.64 622.04,762.07 622.04,761.5 622.07,760.92 622.1,760.35 622.15,759.78 622.21,759.21 622.29,758.64 622.37,758.07 622.46,757.5 622.57,756.93 622.68,756.36 622.8,755.79 622.92,755.22 623.06,754.65 623.2,754.08 623.34,753.51 623.49,752.94 623.64,752.37 623.8,751.8 623.96,751.23 624.13,750.66 624.3,750.09 624.47,749.52 624.64,748.95 624.81,748.38 624.99,747.81 625.17,747.24 625.36,746.66 625.55,746.09 625.74,745.52 625.93,744.95 626.13,744.38 626.34,743.81 626.56,743.24 626.78,742.67 627.01,742.1 627.24,741.53 627.49,740.96 627.74,740.39 627.99,739.82 628.24,739.25 628.47,738.68 628.67,738.11 628.83,737.54 628.9,736.97 628.85,736.4 628.62,735.83 628.17,735.26 627.45,734.69 626.44,734.12 625.15,733.55 623.68,732.98 622.13,732.4 620.63,731.83 619.3,731.26 618.21,730.69 617.41,730.12 616.9,729.55 616.7,728.98 616.82,728.41 617.29,727.84 618.17,727.27 619.5,726.7 621.28,726.13 623.38,725.56 625.51,724.99 627.29,724.42 628.42,723.85 628.88,723.28 628.8,722.71 628.42,722.14 627.91,721.57 627.39,721 626.92,720.43 626.52,719.86 626.21,719.29 625.99,718.72 625.84,718.14 625.76,717.57 625.75,717 625.79,716.43 625.89,715.86 626.04,715.29 626.23,714.72 626.45,714.15 626.71,713.58 626.99,713.01 627.28,712.44 627.59,711.87 627.89,711.3 628.17,710.73 628.43,710.16 628.65,709.59 628.81,709.02 628.89,708.45 628.89,707.88 628.8,707.31 628.65,706.74 628.51,706.17 628.52,705.6 628.87,705.03 625.86,704.46 611.52,703.88 611.23,703.31 611.5,702.74 611.16,702.17 610.83,701.6 610.93,701.03 611.68,700.46 613.1,699.89 615.06,699.32 617.31,698.75 619.57,698.18 621.65,697.61 623.43,697.04 624.88,696.47 626.02,695.9 626.88,695.33 627.52,694.76 627.97,694.19 628.29,693.62 628.51,693.05 628.66,692.48 628.75,691.91 628.81,691.34 628.85,690.77 628.87,690.2 628.88,689.62 628.88,689.05 628.88,688.48 630.9,687.91 634.48,687.34 637.56,686.77 640.46,686.2 643.32,685.63 646.1,685.06 648.63,684.49 650.58,683.92 651.56,683.35 651.31,682.78 649.85,682.21 647.47,681.64 644.75,681.07 643.11,680.5 640.48,679.93 635.73,679.36 639.38,678.79 641.99,678.22 641.14,677.65 639.62,677.08 639.81,676.51 640.99,675.94 641.97,675.36 642.39,674.79 642.22,674.22 641.44,673.65 640.04,673.08 638.12,672.51 636.36,671.94 634.77,671.37 649.34,670.8 651.14,670.23 652.19,669.66 652.76,669.09 652.71,668.52 652.12,667.95 651.12,667.38 649.9,666.81 648.69,666.24 647.69,665.67 647.04,665.1 646.84,664.53 647.53,663.96 653.8,663.39 660.82,662.82 653.06,662.25 650.39,661.68 653.43,661.1 637.84,660.53 638.84,659.96 639.24,659.39 639.88,658.82 640.73,658.25 641.65,657.68 642.57,657.11 643.42,656.54 644.19,655.97 644.87,655.4 645.55,654.83 646.75,654.26 639.65,653.69 643.01,653.12 641.61,652.55 636.67,651.98 631.86,651.41 641.5,650.84 647.92,650.27 651,649.7 653.08,649.13 654.67,648.56 655.66,647.99 655.65,647.42 650.52,646.84 654.13,646.27 651.15,645.7 640.62,645.13 639.45,644.56 647.9,643.99 651.57,643.42 652.54,642.85 659.99,642.28 659.5,641.71 661.43,641.14 664.63,640.57 671.44,640" fill="none" stroke="#0000ff" stroke-width="1.15" stroke-linejoin="round" clip-path="url(#ct2)"/>
<path d="M610.8 640V925.2M683.2 640V925.2" stroke="#9a9a9a" stroke-width="1.1" fill="none"/><path d="M610.3 640H683.7M610.3 925.2H683.7" stroke="#5a5a5a" stroke-width="0.7" fill="none"/>
<path d="M610.8 668.52h2.6M683.2 668.52h-2.6M610.8 697.04h2.6M683.2 697.04h-2.6M610.8 725.56h2.6M683.2 725.56h-2.6M610.8 754.08h2.6M683.2 754.08h-2.6M610.8 782.6h2.6M683.2 782.6h-2.6M610.8 811.12h2.6M683.2 811.12h-2.6M610.8 839.64h2.6M683.2 839.64h-2.6M610.8 868.16h2.6M683.2 868.16h-2.6M610.8 896.68h2.6M683.2 896.68h-2.6M647 640v2.6M647 925.2v-2.6" stroke="#4d4d4d" stroke-width="0.6" fill="none"/>
<text x="607.3" y="643.5" font-size="10.7" text-anchor="end" fill="#262626">2.5</text>
<text x="607.3" y="672.02" font-size="10.7" text-anchor="end" fill="#262626">2</text>
<text x="607.3" y="700.54" font-size="10.7" text-anchor="end" fill="#262626">1.5</text>
<text x="607.3" y="729.06" font-size="10.7" text-anchor="end" fill="#262626">1</text>
<text x="607.3" y="757.58" font-size="10.7" text-anchor="end" fill="#262626">0.5</text>
<text x="607.3" y="786.1" font-size="10.7" text-anchor="end" fill="#262626">0</text>
<text x="607.3" y="814.62" font-size="10.7" text-anchor="end" fill="#262626">-0.5</text>
<text x="607.3" y="843.14" font-size="10.7" text-anchor="end" fill="#262626">-1</text>
<text x="607.3" y="871.66" font-size="10.7" text-anchor="end" fill="#262626">-1.5</text>
<text x="607.3" y="900.18" font-size="10.7" text-anchor="end" fill="#262626">-2</text>
<text x="607.3" y="928.7" font-size="10.7" text-anchor="end" fill="#262626">-2.5</text>
<text transform="translate(585.3 783.1) rotate(-90)" font-size="11.65" text-anchor="middle" fill="#262626">Energy (eV)</text>
<text x="610.8" y="938.7" font-size="10.7" text-anchor="middle" fill="#262626">0</text>
<text x="647" y="938.7" font-size="10.7" text-anchor="middle" fill="#262626">2</text>
<text x="683.2" y="938.7" font-size="10.7" text-anchor="middle" fill="#262626">4</text>
<text x="647" y="952.7" font-size="11.6" text-anchor="middle" fill="#262626">Trasmission</text>
</svg>
</body></html>
